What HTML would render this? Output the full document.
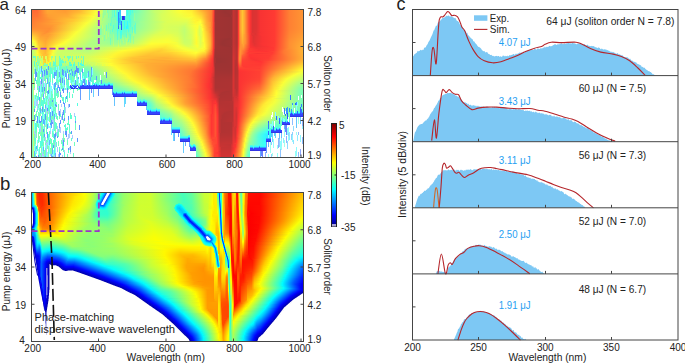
<!DOCTYPE html><html><head><meta charset="utf-8"><style>
html,body{margin:0;padding:0;background:#fff;}
body{width:685px;height:363px;overflow:hidden;position:relative;font-family:"Liberation Sans",sans-serif;}
.hm{position:absolute;left:32px;width:271px;}
.hm div{height:2px;}
</style></head><body>
<div style="position:absolute;left:32px;top:10px;width:271px"><div style="background:linear-gradient(90deg,#ff6b33 0.5px,#ff6633 4.5px,#ffa733 15.5px,#ff9a33 32.5px,#ffaf33 45.5px,#ffef33 62.5px,#f4ff3e 65.5px,#c8ff6a 70.5px,#9aff99 71.5px,#9cff97 73.5px,#adff86 74.5px,#7fffb4 75.5px,#98ff9a 77.5px,#8bffa8 79.5px,#6cffc6 80.5px,#7dffb5 81.5px,#51ffe1 82.5px,#8cffa7 83.5px,#46ffec 85.5px,#6affc8 86.5px,#33ceff 87.5px,#33ceff 88.5px,#ffffff 89.5px,#ffffff 93.5px,#54ffde 94.5px,#3dfff5 95.5px,#58ffda 96.5px,#5cffd7 97.5px,#48ffea 98.5px,#63ffcf 99.5px,#52ffe1 100.5px,#71ffc2 101.5px,#c3ff6f 122.5px,#fdff35 148.5px,#ffea33 160.5px,#ffa933 171.5px,#ff8233 179.5px,#ff4e33 181.5px,#d43333 182.5px,#a33333 183.5px,#993333 192.5px,#9d3333 199.5px,#c53333 201.5px,#b13333 204.5px,#c13333 205.5px,#ff3d33 206.5px,#ff7b33 207.5px,#ffa333 208.5px,#ffc533 210.5px,#ffa733 212.5px,#ff4f33 216.5px,#fa3333 218.5px,#da3333 220.5px,#de3333 224.5px,#f83333 228.5px,#ff3a33 242.5px,#ff8033 257.5px,#ff9433 270.5px);height:1px"></div><div style="background:linear-gradient(90deg,#ff6c33 0.5px,#ff6d33 5.5px,#ffa633 15.5px,#ff9c33 33.5px,#ffb733 47.5px,#fbff37 64.5px,#c7ff6b 70.5px,#99ff9a 71.5px,#9bff98 73.5px,#acff87 74.5px,#7effb5 75.5px,#98ff9b 77.5px,#8affa8 79.5px,#6cffc6 80.5px,#7dffb5 81.5px,#51ffe1 82.5px,#8cffa7 83.5px,#46ffec 85.5px,#6affc9 86.5px,#33ceff 87.5px,#33ceff 88.5px,#ffffff 89.5px,#ffffff 93.5px,#54ffde 94.5px,#3dfff5 95.5px,#58ffda 96.5px,#5cffd6 97.5px,#48ffea 98.5px,#64ffce 99.5px,#52ffe0 100.5px,#71ffc1 101.5px,#c4ff6f 122.5px,#fbff37 148.5px,#fff033 159.5px,#ffb433 170.5px,#ff8233 179.5px,#ff4d33 181.5px,#d33333 182.5px,#a23333 183.5px,#993333 192.5px,#9d3333 199.5px,#c53333 201.5px,#b13333 204.5px,#c13333 205.5px,#ff3d33 206.5px,#ff7b33 207.5px,#ffa333 208.5px,#ffc533 210.5px,#ffa733 212.5px,#ff4f33 216.5px,#fa3333 218.5px,#da3333 220.5px,#de3333 224.5px,#f83333 228.5px,#ff3a33 242.5px,#ff8033 257.5px,#ff9433 270.5px);height:1px"></div><div style="background:linear-gradient(90deg,#ff6d33 0.5px,#ff6e33 5.5px,#ffa533 15.5px,#ff9e33 33.5px,#ffbb33 47.5px,#f8ff3a 64.5px,#c6ff6d 70.5px,#97ff9c 71.5px,#9aff99 73.5px,#abff88 74.5px,#7dffb5 75.5px,#97ff9b 77.5px,#8affa9 79.5px,#6cffc7 80.5px,#7dffb5 81.5px,#51ffe2 82.5px,#8cffa7 83.5px,#46ffec 85.5px,#338dff 86.5px,#33ceff 87.5px,#33ceff 88.5px,#ffffff 89.5px,#ffffff 93.5px,#54ffde 94.5px,#3dfff5 95.5px,#58ffda 96.5px,#5cffd6 97.5px,#49ffe9 98.5px,#65ffce 99.5px,#53ffdf 100.5px,#72ffc0 101.5px,#c4ff6f 122.5px,#f9ff39 147.5px,#fff333 159.5px,#ffc133 169.5px,#ff9b33 175.5px,#ff8233 179.5px,#ff4c33 181.5px,#d33333 182.5px,#a23333 183.5px,#993333 193.5px,#9d3333 199.5px,#c53333 201.5px,#b13333 204.5px,#c13333 205.5px,#ff3d33 206.5px,#ff7b33 207.5px,#ffa333 208.5px,#ffc533 210.5px,#ffa733 212.5px,#ff4f33 216.5px,#fa3333 218.5px,#da3333 220.5px,#de3333 224.5px,#f83333 228.5px,#ff3a33 242.5px,#ff8033 257.5px,#ff9433 270.5px);height:1px"></div><div style="background:linear-gradient(90deg,#ff6f33 0.5px,#ff7033 5.5px,#ffa333 15.5px,#ffa233 34.5px,#ffcf33 52.5px,#fcff36 63.5px,#ccff67 69.5px,#95ff9d 71.5px,#99ff9a 73.5px,#aaff89 74.5px,#a4ff8f 75.5px,#86ffad 76.5px,#97ff9c 77.5px,#8affa9 79.5px,#6cffc7 80.5px,#7dffb6 81.5px,#51ffe2 82.5px,#8cffa7 83.5px,#46ffed 85.5px,#338dff 86.5px,#33ceff 87.5px,#33ceff 88.5px,#ffffff 89.5px,#ffffff 93.5px,#54ffde 94.5px,#3efff5 95.5px,#59ffd9 96.5px,#5dffd5 97.5px,#4affe9 98.5px,#66ffcd 99.5px,#73ffbf 101.5px,#92ffa0 102.5px,#81ffb2 103.5px,#d4ff5e 128.5px,#f6ff3c 148.5px,#fff533 159.5px,#ffc633 169.5px,#ff9c33 175.5px,#ff8233 179.5px,#ff4b33 181.5px,#d23333 182.5px,#a23333 183.5px,#993333 195.5px,#9d3333 199.5px,#c53333 201.5px,#b13333 204.5px,#c13333 205.5px,#ff3d33 206.5px,#ff7b33 207.5px,#ffa333 208.5px,#ffc533 210.5px,#ffa733 212.5px,#ff4f33 216.5px,#fa3333 218.5px,#da3333 220.5px,#de3333 224.5px,#f83333 228.5px,#ff3a33 242.5px,#ff8033 257.5px,#ff9433 270.5px);height:1px"></div><div style="background:linear-gradient(90deg,#ff7133 0.5px,#ff7233 5.5px,#ffa133 16.5px,#ffa633 35.5px,#ffe733 57.5px,#f8ff3a 63.5px,#d9ff5a 67.5px,#baff79 68.5px,#c9ff69 69.5px,#94ff9f 71.5px,#97ff9c 73.5px,#a9ff8a 74.5px,#a3ff90 75.5px,#85ffae 76.5px,#96ff9d 77.5px,#89ffa9 79.5px,#6bffc7 80.5px,#7dffb6 81.5px,#50ffe2 82.5px,#8cffa7 83.5px,#45ffed 85.5px,#338dff 86.5px,#33ceff 87.5px,#33ceff 88.5px,#ffffff 89.5px,#ffffff 93.5px,#54ffde 94.5px,#3efff4 95.5px,#59ffd9 96.5px,#5effd5 97.5px,#4affe8 98.5px,#67ffcc 99.5px,#74ffbe 101.5px,#94ff9f 102.5px,#82ffb1 103.5px,#d7ff5c 129.5px,#f3ff3f 148.5px,#fff833 159.5px,#ffcb33 169.5px,#ff9e33 175.5px,#ff8233 179.5px,#ff4a33 181.5px,#d23333 182.5px,#a23333 183.5px,#993333 197.5px,#9d3333 199.5px,#c53333 201.5px,#b13333 204.5px,#c13333 205.5px,#ff3d33 206.5px,#ff7b33 207.5px,#ffa333 208.5px,#ffc533 210.5px,#ffa733 212.5px,#ff4f33 216.5px,#fa3333 218.5px,#da3333 220.5px,#de3333 224.5px,#f83333 228.5px,#ff3a33 242.5px,#ff8033 257.5px,#ff9433 270.5px);height:1px"></div><div style="background:linear-gradient(90deg,#ff7333 0.5px,#ff7333 5.5px,#ff9f33 16.5px,#ffa933 35.5px,#fff433 59.5px,#ecff46 64.5px,#d6ff5d 67.5px,#b7ff7c 68.5px,#c7ff6c 69.5px,#92ffa1 71.5px,#adff85 73.5px,#a2ff91 75.5px,#84ffaf 76.5px,#95ff9d 77.5px,#89ffaa 79.5px,#6bffc7 80.5px,#7dffb6 81.5px,#50ffe2 82.5px,#74ffbf 83.5px,#70ffc2 84.5px,#45ffed 85.5px,#338dff 86.5px,#33ceff 87.5px,#33ceff 88.5px,#ffffff 89.5px,#ffffff 93.5px,#54ffde 94.5px,#59ffd9 96.5px,#46ffec 97.5px,#63ffd0 98.5px,#75ffbd 101.5px,#95ff9e 102.5px,#83ffb0 103.5px,#d7ff5c 129.5px,#f0ff42 147.5px,#fff633 160.5px,#ffdf33 166.5px,#ffd033 169.5px,#ff9f33 175.5px,#ff8233 179.5px,#ff4933 181.5px,#d13333 182.5px,#a23333 183.5px,#993333 198.5px,#af3333 200.5px,#c53333 201.5px,#b13333 204.5px,#c13333 205.5px,#ff3d33 206.5px,#ff7b33 207.5px,#ffa333 208.5px,#ffc533 210.5px,#ffa733 212.5px,#ff4f33 216.5px,#fa3333 218.5px,#da3333 220.5px,#de3333 224.5px,#f83333 228.5px,#ff3a33 242.5px,#ff8033 257.5px,#ff9433 270.5px);height:1px"></div><div style="background:linear-gradient(90deg,#ff7433 0.5px,#ff7533 5.5px,#ff9e33 16.5px,#ffad33 36.5px,#fcff36 61.5px,#d3ff60 67.5px,#b4ff7f 68.5px,#c4ff6e 69.5px,#90ffa3 71.5px,#b1ff81 72.5px,#a1ff92 75.5px,#83ffb0 76.5px,#95ff9e 77.5px,#88ffaa 79.5px,#6bffc8 80.5px,#7cffb6 81.5px,#50ffe2 82.5px,#74ffbf 83.5px,#70ffc3 84.5px,#45ffed 85.5px,#338dff 86.5px,#33ceff 87.5px,#33ceff 88.5px,#60ffd3 89.5px,#3333e4 90.5px,#3333e4 91.5px,#3343ff 92.5px,#56ffdc 93.5px,#5affd8 96.5px,#47ffeb 97.5px,#64ffcf 98.5px,#77ffbc 101.5px,#96ff9d 102.5px,#84ffaf 103.5px,#d7ff5c 129.5px,#eeff44 147.5px,#fff933 160.5px,#ffe333 166.5px,#ffd533 169.5px,#ffa633 174.5px,#ff8233 179.5px,#ff4833 181.5px,#d03333 182.5px,#a23333 183.5px,#993333 198.5px,#af3333 200.5px,#c53333 201.5px,#b13333 204.5px,#c13333 205.5px,#ff3d33 206.5px,#ff7b33 207.5px,#ffa333 208.5px,#ffc533 210.5px,#ffa733 212.5px,#ff4f33 216.5px,#fa3333 218.5px,#da3333 220.5px,#de3333 224.5px,#f83333 228.5px,#ff3a33 242.5px,#ff8033 257.5px,#ff9433 270.5px);height:1px"></div><div style="background:linear-gradient(90deg,#ff7633 0.5px,#ff7b33 6.5px,#ff9c33 17.5px,#ffb633 39.5px,#f7ff3b 61.5px,#c2ff71 69.5px,#8effa5 71.5px,#b0ff83 72.5px,#a0ff93 75.5px,#82ffb0 76.5px,#94ff9f 77.5px,#8effa5 78.5px,#70ffc2 79.5px,#6affc8 80.5px,#7cffb6 81.5px,#70ffc3 84.5px,#44ffee 85.5px,#338dff 86.5px,#33ceff 87.5px,#33ceff 88.5px,#60ffd3 89.5px,#3333e4 90.5px,#3333e4 91.5px,#3343ff 92.5px,#56ffdc 93.5px,#5affd8 96.5px,#48ffeb 97.5px,#64ffce 98.5px,#78ffbb 101.5px,#97ff9c 102.5px,#85ffae 103.5px,#d9ff5a 130.5px,#ebff47 147.5px,#f8ff3a 158.5px,#ffe833 166.5px,#ffda33 169.5px,#ffa833 174.5px,#ff8233 179.5px,#ff4733 181.5px,#d03333 182.5px,#a23333 183.5px,#9d3333 199.5px,#c53333 201.5px,#b13333 204.5px,#c13333 205.5px,#ff3d33 206.5px,#ff7b33 207.5px,#ffa333 208.5px,#ffc533 210.5px,#ffa733 212.5px,#ff4f33 216.5px,#fa3333 218.5px,#da3333 220.5px,#de3333 224.5px,#f83333 228.5px,#ff3a33 242.5px,#ff8033 257.5px,#ff9433 270.5px);height:1px"></div><div style="background:linear-gradient(90deg,#ff7833 0.5px,#ff7d33 6.5px,#ff9c33 18.5px,#ffc033 41.5px,#f7ff3b 60.5px,#c0ff73 69.5px,#a2ff91 70.5px,#b3ff7f 71.5px,#8dffa5 78.5px,#70ffc3 79.5px,#82ffb1 80.5px,#6fffc3 84.5px,#44ffee 85.5px,#338dff 86.5px,#33b6ff 87.5px,#33ceff 88.5px,#5fffd3 89.5px,#3333e4 90.5px,#3333e4 91.5px,#3343ff 92.5px,#56ffdc 93.5px,#5affd8 96.5px,#48ffea 97.5px,#65ffcd 98.5px,#79ffba 101.5px,#98ff9b 102.5px,#86ffac 103.5px,#d9ff5a 130.5px,#e8ff4a 147.5px,#f1ff41 157.5px,#fff333 162.5px,#ffec33 166.5px,#ffdf33 169.5px,#ffaa33 174.5px,#ff8233 179.5px,#ff4633 181.5px,#cf3333 182.5px,#a23333 183.5px,#9d3333 199.5px,#c53333 201.5px,#b13333 204.5px,#c13333 205.5px,#ff3d33 206.5px,#ff7b33 207.5px,#ffa333 208.5px,#ffc533 210.5px,#ffa733 212.5px,#ff4f33 216.5px,#fa3333 218.5px,#da3333 220.5px,#de3333 224.5px,#f83333 228.5px,#ff3a33 242.5px,#ff8033 257.5px,#ff9433 270.5px);height:1px"></div><div style="background:linear-gradient(90deg,#ff7a33 0.5px,#ff8233 7.5px,#ff9d33 21.5px,#ffd233 45.5px,#f6ff3c 59.5px,#bdff75 69.5px,#a0ff93 70.5px,#b1ff81 71.5px,#8dffa6 78.5px,#6fffc3 79.5px,#81ffb1 80.5px,#6fffc3 84.5px,#44ffee 85.5px,#338dff 86.5px,#33b6ff 87.5px,#33ceff 88.5px,#5fffd3 89.5px,#3333e4 90.5px,#3333e4 91.5px,#3343ff 92.5px,#56ffdc 93.5px,#5bffd7 96.5px,#49ffe9 97.5px,#4effe4 98.5px,#6cffc7 99.5px,#7affb8 101.5px,#99ff9a 102.5px,#87ffab 103.5px,#d9ff5a 130.5px,#e7ff4b 146.5px,#e9ff49 155.5px,#fff533 162.5px,#fff033 166.5px,#fff133 168.5px,#ffac33 174.5px,#ff8233 179.5px,#ff4533 181.5px,#ce3333 182.5px,#a13333 183.5px,#9d3333 199.5px,#c53333 201.5px,#b13333 204.5px,#c13333 205.5px,#ff3d33 206.5px,#ff7b33 207.5px,#ffa333 208.5px,#ffc533 210.5px,#ffa733 212.5px,#ff4f33 216.5px,#fa3333 218.5px,#da3333 220.5px,#de3333 224.5px,#f83333 228.5px,#ff3a33 242.5px,#ff8033 257.5px,#ff9433 270.5px);height:1px"></div><div style="background:linear-gradient(90deg,#ff7c33 0.5px,#ff8633 8.5px,#ffc833 41.5px,#f6ff3c 58.5px,#bbff78 69.5px,#9dff95 70.5px,#b0ff83 71.5px,#8cffa7 78.5px,#6fffc3 79.5px,#81ffb2 80.5px,#77ffbc 82.5px,#8bffa8 83.5px,#44ffee 85.5px,#338dff 86.5px,#33b6ff 87.5px,#33ceff 88.5px,#5fffd3 89.5px,#35fffd 90.5px,#5affd8 91.5px,#5bffd7 96.5px,#49ffe9 97.5px,#4fffe3 98.5px,#6dffc6 99.5px,#7bffb7 101.5px,#9aff98 102.5px,#88ffaa 103.5px,#d8ff5a 130.5px,#e4ff4e 146.5px,#e4ff4f 154.5px,#fff833 162.5px,#ffee33 165.5px,#fff633 168.5px,#ffae33 174.5px,#ff8233 179.5px,#ff4433 181.5px,#cd3333 182.5px,#a13333 183.5px,#9d3333 199.5px,#c53333 201.5px,#b13333 204.5px,#c13333 205.5px,#ff3d33 206.5px,#ff7b33 207.5px,#ffa333 208.5px,#ffc533 210.5px,#ffa733 212.5px,#ff4f33 216.5px,#fa3333 218.5px,#da3333 220.5px,#de3333 224.5px,#f83333 228.5px,#ff3a33 242.5px,#ff8033 257.5px,#ff9433 270.5px);height:1px"></div><div style="background:linear-gradient(90deg,#ff7e33 0.5px,#ff8b33 10.5px,#ffc533 39.5px,#f6ff3c 57.5px,#8cffa7 78.5px,#6fffc4 79.5px,#81ffb2 80.5px,#77ffbc 82.5px,#8affa8 83.5px,#6fffc4 84.5px,#6bffc8 85.5px,#338dff 86.5px,#33b6ff 87.5px,#33ceff 88.5px,#337cff 89.5px,#5dffd6 90.5px,#5affd8 91.5px,#33fdff 92.5px,#56ffdc 93.5px,#54ffde 94.5px,#33fbff 95.5px,#5cffd7 96.5px,#4affe8 97.5px,#50ffe2 98.5px,#6effc5 99.5px,#9bff97 108.5px,#deff54 135.5px,#e0ff53 147.5px,#e3ff50 155.5px,#fff533 163.5px,#fff933 166.5px,#fffc33 168.5px,#ffb033 174.5px,#ff8233 179.5px,#ff4333 181.5px,#cd3333 182.5px,#a13333 183.5px,#9d3333 199.5px,#c53333 201.5px,#b13333 204.5px,#c13333 205.5px,#ff3d33 206.5px,#ff7b33 207.5px,#ffa333 208.5px,#ffc533 210.5px,#ffa733 212.5px,#ff4f33 216.5px,#fa3333 218.5px,#da3333 220.5px,#de3333 224.5px,#f83333 228.5px,#ff3a33 242.5px,#ff8033 257.5px,#ff9433 270.5px);height:1px"></div><div style="background:linear-gradient(90deg,#ff8033 0.5px,#ffa533 26.5px,#faff38 55.5px,#8bffa8 78.5px,#6effc4 79.5px,#80ffb2 80.5px,#77ffbc 82.5px,#8affa9 83.5px,#6fffc4 84.5px,#6bffc8 85.5px,#338dff 86.5px,#33b6ff 87.5px,#33ceff 88.5px,#337cff 89.5px,#5cffd6 90.5px,#5affd8 91.5px,#33fdff 92.5px,#56ffdc 93.5px,#54ffde 94.5px,#33fbff 95.5px,#5cffd6 96.5px,#4affe8 97.5px,#51ffe2 98.5px,#6fffc4 99.5px,#9cff97 108.5px,#ddff55 135.5px,#ddff56 147.5px,#ddff55 154.5px,#fff733 163.5px,#fdff35 168.5px,#ffb233 174.5px,#ff9433 178.5px,#ff6833 180.5px,#ff4233 181.5px,#a13333 183.5px,#9d3333 199.5px,#c53333 201.5px,#b13333 204.5px,#c13333 205.5px,#ff3d33 206.5px,#ff7b33 207.5px,#ffa333 208.5px,#ffc533 210.5px,#ffa733 212.5px,#ff4f33 216.5px,#fa3333 218.5px,#da3333 220.5px,#de3333 224.5px,#f83333 228.5px,#ff3a33 242.5px,#ff8033 257.5px,#ff9433 270.5px);height:1px"></div><div style="background:linear-gradient(90deg,#ff8133 0.5px,#ffac33 28.5px,#faff39 54.5px,#99ff99 75.5px,#7dffb6 76.5px,#90ffa3 77.5px,#63ffcf 78.5px,#80ffb2 80.5px,#6affc8 85.5px,#338dff 86.5px,#33e7ff 87.5px,#33ceff 88.5px,#337cff 89.5px,#5cffd6 90.5px,#5affd8 91.5px,#33fcff 92.5px,#56ffdd 93.5px,#54ffde 94.5px,#33fbff 95.5px,#5cffd6 96.5px,#63ffd0 97.5px,#51ffe1 98.5px,#70ffc3 99.5px,#86ffad 102.5px,#64ffce 103.5px,#90ffa3 104.5px,#daff58 132.5px,#ddff56 146.5px,#d7ff5c 153.5px,#fffa33 163.5px,#f7ff3b 168.5px,#ffb433 174.5px,#ff9433 178.5px,#ff6733 180.5px,#ff4133 181.5px,#a13333 183.5px,#9d3333 199.5px,#c53333 201.5px,#b13333 204.5px,#c13333 205.5px,#ff3d33 206.5px,#ff7b33 207.5px,#ffa333 208.5px,#ffc533 210.5px,#ffa733 212.5px,#ff4f33 216.5px,#fa3333 218.5px,#da3333 220.5px,#de3333 224.5px,#f83333 228.5px,#ff3a33 242.5px,#ff8033 257.5px,#ff9433 270.5px);height:1px"></div><div style="background:linear-gradient(90deg,#ff8333 0.5px,#ffa233 24.5px,#f9ff39 53.5px,#98ff9b 75.5px,#7cffb6 76.5px,#8fffa4 77.5px,#62ffd0 78.5px,#80ffb3 80.5px,#6affc8 85.5px,#338dff 86.5px,#33e7ff 87.5px,#33ceff 88.5px,#3354ff 89.5px,#5cffd6 90.5px,#5affd8 91.5px,#33fcff 92.5px,#56ffdd 93.5px,#54ffde 94.5px,#33fbff 95.5px,#5dffd6 96.5px,#63ffcf 97.5px,#52ffe0 98.5px,#71ffc2 99.5px,#87ffab 102.5px,#65ffcd 103.5px,#91ffa2 104.5px,#daff59 132.5px,#daff58 146.5px,#d3ff5f 153.5px,#fffb33 165.5px,#f2ff40 168.5px,#fffe33 169.5px,#ffbe33 173.5px,#ff9533 178.5px,#ff6733 180.5px,#ff4033 181.5px,#a13333 183.5px,#9d3333 199.5px,#c53333 201.5px,#b13333 204.5px,#c13333 205.5px,#ff3d33 206.5px,#ff7b33 207.5px,#ffa333 208.5px,#ffc533 210.5px,#ffa733 212.5px,#ff4f33 216.5px,#fa3333 218.5px,#da3333 220.5px,#de3333 224.5px,#f83333 228.5px,#ff3a33 242.5px,#ff8033 257.5px,#ff9433 270.5px);height:1px"></div><div style="background:linear-gradient(90deg,#ff8533 0.5px,#ff9933 20.5px,#f8ff3a 52.5px,#b3ff80 68.5px,#97ff9c 69.5px,#c2ff71 70.5px,#a6ff8c 71.5px,#9fff94 73.5px,#74ffbf 74.5px,#97ff9c 75.5px,#7bffb7 76.5px,#8effa5 77.5px,#62ffd0 78.5px,#80ffb3 80.5px,#53ffdf 81.5px,#76ffbc 82.5px,#6affc9 85.5px,#338dff 86.5px,#7affb8 87.5px,#60ffd2 88.5px,#3354ff 89.5px,#5cffd6 90.5px,#5affd8 91.5px,#33fcff 92.5px,#56ffdd 93.5px,#54ffde 94.5px,#33fbff 95.5px,#64ffcf 97.5px,#53ffdf 98.5px,#72ffc1 99.5px,#81ffb2 101.5px,#61ffd1 102.5px,#67ffcc 103.5px,#92ffa1 104.5px,#d9ff59 132.5px,#d8ff5b 146.5px,#cdff65 152.5px,#f9ff39 162.5px,#fffe33 165.5px,#eaff48 167.5px,#fbff37 169.5px,#ffb833 174.5px,#ff9533 178.5px,#ff6633 180.5px,#ff3f33 181.5px,#a13333 183.5px,#9d3333 199.5px,#c53333 201.5px,#b13333 204.5px,#c13333 205.5px,#ff3d33 206.5px,#ff7b33 207.5px,#ffa333 208.5px,#ffc533 210.5px,#ffa733 212.5px,#ff4f33 216.5px,#fa3333 218.5px,#da3333 220.5px,#de3333 224.5px,#f83333 228.5px,#ff3a33 242.5px,#ff8033 257.5px,#ff9433 270.5px);height:1px"></div><div style="background:linear-gradient(90deg,#ff8733 0.5px,#ff9633 19.5px,#f8ff3a 51.5px,#b0ff83 68.5px,#95ff9e 69.5px,#c0ff73 70.5px,#a5ff8e 71.5px,#9dff95 73.5px,#73ffc0 74.5px,#96ff9c 75.5px,#7bffb8 76.5px,#8effa5 77.5px,#7fffb3 80.5px,#53ffdf 81.5px,#76ffbc 82.5px,#6affc9 85.5px,#3374ff 86.5px,#7affb8 87.5px,#60ffd2 88.5px,#3354ff 89.5px,#5cffd6 90.5px,#5affd8 91.5px,#33fcff 92.5px,#56ffdc 93.5px,#33f9ff 94.5px,#33fcff 95.5px,#65ffce 97.5px,#54ffde 98.5px,#73ffc0 99.5px,#82ffb0 101.5px,#62ffd0 102.5px,#68ffcb 103.5px,#93ffa0 104.5px,#d9ff59 132.5px,#d5ff5d 146.5px,#c9ff69 152.5px,#f7ff3c 162.5px,#fdff35 165.5px,#e5ff4d 167.5px,#fff533 170.5px,#ffba33 174.5px,#ff9633 178.5px,#ff6633 180.5px,#ff3e33 181.5px,#a13333 183.5px,#9d3333 199.5px,#c53333 201.5px,#b13333 204.5px,#c13333 205.5px,#ff3d33 206.5px,#ff7b33 207.5px,#ffa233 208.5px,#ffc533 210.5px,#ffa733 212.5px,#ff4f33 216.5px,#fa3333 218.5px,#da3333 220.5px,#de3333 224.5px,#f83333 228.5px,#ff3a33 242.5px,#ff8033 257.5px,#ff9433 270.5px);height:1px"></div><div style="background:linear-gradient(90deg,#ff8a33 0.5px,#ff9333 18.5px,#f7ff3b 50.5px,#aeff85 68.5px,#92ffa0 69.5px,#beff75 70.5px,#a3ff90 71.5px,#9cff97 73.5px,#71ffc1 74.5px,#95ff9d 75.5px,#7affb9 76.5px,#8dffa6 77.5px,#7fffb3 80.5px,#53ffdf 81.5px,#76ffbc 82.5px,#6affc9 85.5px,#3374ff 86.5px,#63ffd0 87.5px,#60ffd2 88.5px,#3354ff 89.5px,#5cffd6 90.5px,#5affd8 91.5px,#33fdff 92.5px,#56ffdc 93.5px,#33faff 94.5px,#33fcff 95.5px,#66ffcd 97.5px,#74ffbe 99.5px,#54ffde 100.5px,#84ffaf 101.5px,#64ffcf 102.5px,#69ffc9 103.5px,#94ff9f 104.5px,#d9ff59 132.5px,#d3ff5f 146.5px,#c6ff6c 152.5px,#f4ff3e 162.5px,#fbff37 165.5px,#e1ff51 167.5px,#f2ff40 169.5px,#ffe533 171.5px,#ffb333 175.5px,#ff8333 179.5px,#ff3d33 181.5px,#a03333 183.5px,#9d3333 199.5px,#c53333 201.5px,#b13333 204.5px,#c13333 205.5px,#ff3d33 206.5px,#ff7b33 207.5px,#ffa233 208.5px,#ffc533 210.5px,#ffa733 212.5px,#ff4f33 216.5px,#fa3333 218.5px,#da3333 220.5px,#de3333 224.5px,#f83333 228.5px,#ff3a33 242.5px,#ff8033 257.5px,#ff9433 270.5px);height:1px"></div><div style="background:linear-gradient(90deg,#ff8e33 0.5px,#ff8f33 17.5px,#f7ff3b 49.5px,#afff84 67.5px,#84ffaf 68.5px,#91ffa2 69.5px,#bcff76 70.5px,#a1ff91 71.5px,#9bff98 73.5px,#71ffc2 74.5px,#95ff9e 75.5px,#79ffb9 76.5px,#8dffa6 77.5px,#7fffb3 80.5px,#54ffdf 81.5px,#77ffbc 82.5px,#6affc8 85.5px,#3374ff 86.5px,#63ffcf 87.5px,#61ffd1 88.5px,#3354ff 89.5px,#5dffd5 90.5px,#5bffd7 91.5px,#33feff 92.5px,#58ffdb 93.5px,#33fbff 94.5px,#33feff 95.5px,#67ffcb 97.5px,#76ffbc 99.5px,#56ffdc 100.5px,#85ffad 101.5px,#65ffcd 102.5px,#6bffc8 103.5px,#96ff9d 104.5px,#daff59 132.5px,#d6ff5d 145.5px,#c4ff6f 152.5px,#f2ff40 162.5px,#f9ff39 165.5px,#ddff55 167.5px,#eeff44 169.5px,#fffd33 170.5px,#ffbe33 174.5px,#ff9733 178.5px,#ff6533 180.5px,#ff3d33 181.5px,#a03333 183.5px,#9d3333 199.5px,#c53333 201.5px,#b13333 204.5px,#c13333 205.5px,#ff3d33 206.5px,#ff7b33 207.5px,#ffa233 208.5px,#ffc433 210.5px,#ffa733 212.5px,#ff4f33 216.5px,#fa3333 218.5px,#da3333 220.5px,#de3333 224.5px,#f83333 228.5px,#ff3a33 242.5px,#ff8133 257.5px,#ff9433 270.5px);height:1px"></div><div style="background:linear-gradient(90deg,#ff9333 0.5px,#ff9033 17.5px,#f7ff3b 48.5px,#adff86 67.5px,#82ffb0 68.5px,#a3ff8f 70.5px,#a0ff92 71.5px,#b5ff7e 72.5px,#70ffc2 74.5px,#94ff9e 75.5px,#84ffae 79.5px,#59ffda 80.5px,#7cffb7 81.5px,#70ffc3 84.5px,#44ffee 85.5px,#65ffce 87.5px,#63ffd0 88.5px,#3354ff 89.5px,#5fffd3 90.5px,#59ffd9 94.5px,#73ffbf 95.5px,#4bffe8 96.5px,#6affc9 97.5px,#79ffba 99.5px,#59ffda 100.5px,#88ffab 101.5px,#67ffcb 102.5px,#6dffc6 103.5px,#98ff9b 104.5px,#dbff58 131.5px,#d5ff5d 145.5px,#c2ff71 152.5px,#eaff48 161.5px,#fcff36 164.5px,#daff58 167.5px,#ebff47 169.5px,#feff34 170.5px,#ffc033 174.5px,#ff9833 178.5px,#ff6533 180.5px,#ff3c33 181.5px,#a03333 183.5px,#9d3333 199.5px,#c53333 201.5px,#b13333 204.5px,#c13333 205.5px,#ff3d33 206.5px,#ff7b33 207.5px,#ffa233 208.5px,#ffc433 210.5px,#ffa733 212.5px,#ff4f33 216.5px,#fa3333 218.5px,#da3333 220.5px,#df3333 224.5px,#f83333 228.5px,#ff3a33 242.5px,#ff8133 257.5px,#ff9533 270.5px);height:1px"></div><div style="background:linear-gradient(90deg,#ff9933 0.5px,#ff8e33 16.5px,#f7ff3c 47.5px,#abff87 67.5px,#81ffb2 68.5px,#a3ff90 70.5px,#a0ff93 71.5px,#b5ff7e 72.5px,#70ffc2 74.5px,#95ff9e 75.5px,#8dffa5 77.5px,#72ffc1 78.5px,#85ffad 79.5px,#5affd8 80.5px,#7dffb5 81.5px,#71ffc1 84.5px,#46ffec 85.5px,#67ffcb 87.5px,#65ffcd 88.5px,#3cfff6 89.5px,#62ffd1 90.5px,#5cffd6 94.5px,#77ffbc 95.5px,#4effe4 96.5px,#6dffc5 97.5px,#7cffb7 99.5px,#5cffd7 100.5px,#a2ff91 101.5px,#6affc8 102.5px,#6fffc3 103.5px,#9aff98 104.5px,#dcff56 131.5px,#d5ff5d 145.5px,#c1ff72 152.5px,#e9ff49 161.5px,#fcff36 164.5px,#d8ff5a 167.5px,#e9ff49 169.5px,#fcff36 170.5px,#ffc233 174.5px,#ff9a33 178.5px,#ff6533 180.5px,#ff3c33 181.5px,#a03333 183.5px,#9d3333 199.5px,#c53333 201.5px,#b13333 204.5px,#c13333 205.5px,#ff3d33 206.5px,#ff7b33 207.5px,#ffa133 208.5px,#ffc233 210.5px,#ffa633 212.5px,#ff4f33 216.5px,#fa3333 218.5px,#db3333 220.5px,#df3333 224.5px,#f83333 228.5px,#ff3a33 242.5px,#ff8233 257.5px,#ff9633 270.5px);height:1px"></div><div style="background:linear-gradient(90deg,#ffa233 0.5px,#ff8d33 15.5px,#faff38 45.5px,#aaff88 67.5px,#80ffb2 68.5px,#a2ff90 70.5px,#a0ff93 71.5px,#b4ff7e 72.5px,#9aff98 73.5px,#afff83 74.5px,#95ff9e 75.5px,#8effa5 77.5px,#73ffc0 78.5px,#87ffac 79.5px,#5cffd7 80.5px,#7fffb3 81.5px,#74ffbf 84.5px,#49ffe9 85.5px,#6dffc6 86.5px,#6affc8 87.5px,#41fff1 88.5px,#3ffff3 89.5px,#65ffcd 90.5px,#61ffd1 94.5px,#7cffb7 95.5px,#53ffe0 96.5px,#71ffc1 97.5px,#80ffb3 99.5px,#5fffd3 100.5px,#a5ff8d 101.5px,#6dffc5 102.5px,#72ffc0 103.5px,#9dff95 104.5px,#dfff53 130.5px,#d6ff5c 145.5px,#c1ff72 152.5px,#e1ff51 160.5px,#fcff36 164.5px,#d8ff5b 167.5px,#e8ff4a 169.5px,#fff033 171.5px,#ffb133 176.5px,#ff8533 179.5px,#ff3c33 181.5px,#a13333 183.5px,#9d3333 199.5px,#c53333 201.5px,#b13333 204.5px,#c13333 205.5px,#ff3d33 206.5px,#ff7a33 207.5px,#ffa033 208.5px,#ffc133 210.5px,#ffa633 212.5px,#ff5033 216.5px,#fa3333 218.5px,#db3333 220.5px,#e03333 224.5px,#f83333 228.5px,#ff3a33 242.5px,#ff8333 257.5px,#ff9733 270.5px);height:1px"></div><div style="background:linear-gradient(90deg,#ffac33 0.5px,#ff8f33 14.5px,#faff38 44.5px,#aaff89 67.5px,#80ffb3 68.5px,#a2ff90 70.5px,#a0ff93 71.5px,#b5ff7e 72.5px,#9bff98 73.5px,#b0ff83 74.5px,#96ff9d 75.5px,#aaff88 76.5px,#74ffbe 78.5px,#88ffaa 79.5px,#77ffbc 84.5px,#4cffe6 85.5px,#70ffc2 86.5px,#6effc5 87.5px,#45ffee 88.5px,#43ffef 89.5px,#6affc9 90.5px,#67ffcc 94.5px,#81ffb1 95.5px,#70ffc3 96.5px,#84ffaf 99.5px,#63ffcf 100.5px,#a9ff89 101.5px,#71ffc2 102.5px,#76ffbd 103.5px,#a1ff92 104.5px,#e1ff51 129.5px,#d8ff5a 145.5px,#c1ff71 152.5px,#e1ff51 160.5px,#fcff36 164.5px,#d8ff5a 167.5px,#e7ff4b 169.5px,#fff233 171.5px,#ffb333 176.5px,#ff8633 179.5px,#ff3c33 181.5px,#a13333 183.5px,#9d3333 199.5px,#c53333 201.5px,#b13333 204.5px,#c13333 205.5px,#ff3d33 206.5px,#ff7933 207.5px,#ff9f33 208.5px,#ffbf33 210.5px,#ffa533 212.5px,#ff5033 216.5px,#f93333 218.5px,#dc3333 220.5px,#e13333 224.5px,#f93333 229.5px,#ff3a33 242.5px,#ff8433 257.5px,#ff9833 270.5px);height:1px"></div><div style="background:linear-gradient(90deg,#ffb633 0.5px,#ff9133 12.5px,#ffc433 27.5px,#faff38 43.5px,#a9ff89 67.5px,#80ffb3 68.5px,#a2ff90 70.5px,#a0ff93 71.5px,#b5ff7d 72.5px,#9bff97 73.5px,#b1ff82 74.5px,#97ff9c 75.5px,#abff87 76.5px,#76ffbd 78.5px,#8affa8 79.5px,#7affb8 84.5px,#50ffe3 85.5px,#74ffbf 86.5px,#72ffc1 87.5px,#49ffe9 88.5px,#48ffea 89.5px,#6fffc4 90.5px,#6dffc6 94.5px,#87ffac 95.5px,#75ffbd 96.5px,#8fffa3 100.5px,#adff85 101.5px,#9cff97 102.5px,#79ffb9 103.5px,#a4ff8e 104.5px,#e3ff4f 128.5px,#daff58 145.5px,#c2ff70 152.5px,#e1ff51 160.5px,#fdff35 164.5px,#d9ff5a 167.5px,#e7ff4b 169.5px,#fff433 171.5px,#ff9e33 178.5px,#ff6633 180.5px,#ff3c33 181.5px,#a13333 183.5px,#9d3333 199.5px,#c53333 201.5px,#b13333 204.5px,#c13333 205.5px,#ff3d33 206.5px,#ff7933 207.5px,#ff9e33 208.5px,#ffbd33 210.5px,#ffa533 212.5px,#ff4033 217.5px,#e63333 219.5px,#dc3333 223.5px,#f83333 228.5px,#ff3a33 242.5px,#ff8533 257.5px,#ff9a33 270.5px);height:1px"></div><div style="background:linear-gradient(90deg,#ffc033 0.5px,#ff9833 10.5px,#ff9f33 17.5px,#faff38 42.5px,#a9ff8a 67.5px,#80ffb3 68.5px,#a3ff90 70.5px,#a0ff92 71.5px,#b6ff7d 72.5px,#9cff97 73.5px,#b1ff81 74.5px,#98ff9b 75.5px,#acff86 76.5px,#92ffa1 77.5px,#89ffa9 80.5px,#9eff95 81.5px,#83ffaf 82.5px,#7effb5 84.5px,#53ffdf 85.5px,#78ffbb 86.5px,#76ffbd 87.5px,#4dffe5 88.5px,#4cffe6 89.5px,#73ffbf 90.5px,#73ffc0 93.5px,#5bffd7 94.5px,#8dffa5 95.5px,#60ffd2 98.5px,#8effa5 99.5px,#94ff9f 100.5px,#b1ff81 101.5px,#a0ff93 102.5px,#ddff55 123.5px,#e6ff4c 138.5px,#d7ff5b 146.5px,#c3ff6f 152.5px,#d9ff59 159.5px,#feff34 164.5px,#d9ff59 167.5px,#e7ff4c 169.5px,#fff533 171.5px,#ffa033 178.5px,#ff6733 180.5px,#ff3d33 181.5px,#a13333 183.5px,#9d3333 199.5px,#c53333 201.5px,#b13333 204.5px,#c13333 205.5px,#ff3c33 206.5px,#ff7833 207.5px,#ff9c33 208.5px,#ffbb33 210.5px,#ff9033 213.5px,#ff4033 217.5px,#e73333 219.5px,#dd3333 223.5px,#f83333 228.5px,#ff3a33 242.5px,#ff8633 257.5px,#ff9c33 270.5px);height:1px"></div><div style="background:linear-gradient(90deg,#ffcb33 0.5px,#ff9d33 9.5px,#ff9f33 16.5px,#f9ff39 41.5px,#a3ff90 70.5px,#a1ff92 71.5px,#87ffac 72.5px,#b2ff81 74.5px,#99ff9a 75.5px,#aeff85 76.5px,#94ff9f 77.5px,#8cffa7 80.5px,#a1ff92 81.5px,#86ffac 82.5px,#81ffb2 84.5px,#57ffdb 85.5px,#7cffb7 86.5px,#7affb9 87.5px,#51ffe1 88.5px,#51ffe1 89.5px,#90ffa3 90.5px,#79ffba 91.5px,#79ffb9 93.5px,#62ffd1 94.5px,#94ff9f 95.5px,#65ffcd 98.5px,#93ffa0 99.5px,#98ff9a 100.5px,#b5ff7d 101.5px,#a4ff8f 102.5px,#dfff53 122.5px,#eaff48 137.5px,#daff59 146.5px,#c4ff6e 152.5px,#d9ff59 159.5px,#ffff33 164.5px,#daff58 167.5px,#e7ff4c 169.5px,#fff733 171.5px,#ffa133 178.5px,#ff6833 180.5px,#ff3d33 181.5px,#a13333 183.5px,#9d3333 199.5px,#c53333 201.5px,#b13333 204.5px,#c13333 205.5px,#ff3c33 206.5px,#ff7733 207.5px,#ff9b33 208.5px,#ffb933 210.5px,#ff9033 213.5px,#f83333 218.5px,#de3333 220.5px,#e33333 224.5px,#f93333 229.5px,#ff3a33 242.5px,#ff8733 257.5px,#ff9d33 270.5px);height:1px"></div><div style="background:linear-gradient(90deg,#ffd633 0.5px,#ffa333 8.5px,#ff9e33 15.5px,#f9ff39 40.5px,#a3ff90 70.5px,#a1ff92 71.5px,#88ffab 72.5px,#b3ff80 74.5px,#9aff99 75.5px,#afff84 76.5px,#95ff9e 77.5px,#8effa5 80.5px,#a3ff90 81.5px,#89ffa9 82.5px,#85ffae 84.5px,#5bffd8 85.5px,#80ffb3 86.5px,#7effb4 87.5px,#56ffdc 88.5px,#56ffdd 89.5px,#95ff9e 90.5px,#7effb4 91.5px,#7fffb3 93.5px,#68ffca 94.5px,#9aff99 95.5px,#6bffc8 98.5px,#97ff9b 99.5px,#9dff96 100.5px,#8bffa8 101.5px,#a7ff8b 102.5px,#e4ff4f 122.5px,#edff45 137.5px,#dcff56 146.5px,#c5ff6d 152.5px,#d9ff59 159.5px,#fffe33 164.5px,#daff58 168.5px,#fff933 171.5px,#ffa333 178.5px,#ff6833 180.5px,#ff3d33 181.5px,#a23333 183.5px,#9d3333 199.5px,#c53333 201.5px,#b13333 204.5px,#c13333 205.5px,#ff3c33 206.5px,#ff7733 207.5px,#ff9a33 208.5px,#ffb733 210.5px,#ff9033 213.5px,#f83333 218.5px,#dd3333 221.5px,#f93333 230.5px,#ff3a33 242.5px,#ff8833 257.5px,#ff9f33 270.5px);height:1px"></div><div style="background:linear-gradient(90deg,#ffe133 0.5px,#ffa733 8.5px,#ffa233 15.5px,#f8ff3a 39.5px,#a7ff8c 68.5px,#a5ff8e 69.5px,#bbff78 70.5px,#88ffaa 72.5px,#b4ff7f 74.5px,#9bff98 75.5px,#90ffa2 80.5px,#a6ff8d 81.5px,#8cffa7 82.5px,#88ffab 84.5px,#5fffd4 85.5px,#84ffaf 86.5px,#82ffb0 87.5px,#5affd8 88.5px,#5affd8 89.5px,#9aff99 90.5px,#9bff98 91.5px,#85ffae 92.5px,#9dff96 93.5px,#6effc4 94.5px,#a0ff92 95.5px,#70ffc2 98.5px,#9cff96 99.5px,#a1ff91 100.5px,#8fffa4 101.5px,#abff87 102.5px,#e6ff4c 121.5px,#f0ff42 136.5px,#e4ff4f 145.5px,#c6ff6c 152.5px,#d9ff5a 159.5px,#fffd33 164.5px,#ecff46 166.5px,#dbff58 168.5px,#fffa33 171.5px,#ffa533 178.5px,#ff6933 180.5px,#ff3e33 181.5px,#a23333 183.5px,#9d3333 199.5px,#c53333 201.5px,#b13333 204.5px,#c13333 205.5px,#ff3c33 206.5px,#ff7633 207.5px,#ff9833 208.5px,#ffb533 210.5px,#ff9033 213.5px,#f83333 218.5px,#dd3333 221.5px,#f93333 230.5px,#ff3a33 242.5px,#ff8933 257.5px,#ffa033 270.5px);height:1px"></div><div style="background:linear-gradient(90deg,#ffeb33 0.5px,#ffc633 4.5px,#ffab33 8.5px,#ffa233 14.5px,#f8ff3a 38.5px,#acff87 65.5px,#a5ff8e 69.5px,#bbff78 70.5px,#89ffaa 72.5px,#b5ff7e 74.5px,#9bff97 75.5px,#98ff9b 77.5px,#6fffc4 78.5px,#94ff9e 79.5px,#93ffa0 80.5px,#a8ff8a 81.5px,#8fffa4 82.5px,#8bffa7 84.5px,#62ffd0 85.5px,#88ffab 86.5px,#87ffac 87.5px,#5fffd4 88.5px,#9fff94 90.5px,#a1ff92 91.5px,#8affa8 92.5px,#a3ff90 93.5px,#a7ff8c 95.5px,#75ffbd 98.5px,#a1ff91 99.5px,#a6ff8d 100.5px,#93ffa0 101.5px,#afff84 102.5px,#e9ff49 120.5px,#f4ff3e 135.5px,#e6ff4c 145.5px,#c7ff6b 152.5px,#d9ff5a 159.5px,#fffc33 164.5px,#edff45 166.5px,#dbff57 168.5px,#fffc33 171.5px,#ffa633 178.5px,#ff6a33 180.5px,#ff3e33 181.5px,#a23333 183.5px,#993333 198.5px,#af3333 200.5px,#c53333 201.5px,#b13333 204.5px,#c13333 205.5px,#ff3c33 206.5px,#ff7533 207.5px,#ff9733 208.5px,#ffb333 210.5px,#ff9133 213.5px,#f73333 218.5px,#de3333 221.5px,#f93333 230.5px,#ff3a33 242.5px,#ff8b33 257.5px,#ffa233 270.5px);height:1px"></div><div style="background:linear-gradient(90deg,#fff633 0.5px,#ffcd33 4.5px,#ffae33 8.5px,#ffa633 14.5px,#fbff37 36.5px,#aeff85 63.5px,#a5ff8d 69.5px,#bbff77 70.5px,#89ffa9 72.5px,#9fff93 73.5px,#9aff99 77.5px,#71ffc2 78.5px,#97ff9c 79.5px,#95ff9e 80.5px,#abff88 81.5px,#92ffa1 82.5px,#8fffa4 84.5px,#66ffcc 85.5px,#8cffa7 86.5px,#8bffa8 87.5px,#a2ff91 88.5px,#8bffa8 89.5px,#a4ff8f 90.5px,#a6ff8d 91.5px,#90ffa2 92.5px,#a9ff8a 93.5px,#adff86 95.5px,#72ffc0 96.5px,#86ffad 97.5px,#7bffb8 98.5px,#a6ff8d 99.5px,#aaff88 100.5px,#97ff9c 101.5px,#b3ff80 102.5px,#edff45 120.5px,#f7ff3b 135.5px,#e8ff4a 145.5px,#c9ff6a 152.5px,#d0ff62 158.5px,#fffc33 164.5px,#eeff44 166.5px,#dcff56 168.5px,#fffd33 171.5px,#ffa833 178.5px,#ff6a33 180.5px,#ff3e33 181.5px,#a23333 183.5px,#993333 195.5px,#9d3333 199.5px,#c53333 201.5px,#b13333 204.5px,#c13333 205.5px,#ff3c33 206.5px,#ff7533 207.5px,#ff9633 208.5px,#ffb133 210.5px,#ff9133 213.5px,#f73333 218.5px,#df3333 221.5px,#f93333 230.5px,#ff3a33 242.5px,#ff8c33 257.5px,#ffa433 270.5px);height:1px"></div><div style="background:linear-gradient(90deg,#fdff35 0.5px,#ffe433 3.5px,#ffba33 6.5px,#ffa533 13.5px,#faff38 35.5px,#b1ff82 61.5px,#a3ff90 71.5px,#8affa9 72.5px,#a0ff93 73.5px,#9bff98 77.5px,#72ffc0 78.5px,#99ff9a 79.5px,#97ff9b 80.5px,#aeff85 81.5px,#95ff9e 82.5px,#91ffa1 85.5px,#a8ff8b 86.5px,#8fffa3 87.5px,#a6ff8c 88.5px,#90ffa3 89.5px,#a9ff89 90.5px,#abff87 91.5px,#96ff9d 92.5px,#98ff9b 93.5px,#b1ff82 94.5px,#b3ff7f 95.5px,#78ffba 96.5px,#a3ff8f 97.5px,#80ffb3 98.5px,#abff87 99.5px,#afff84 100.5px,#9cff97 101.5px,#b7ff7c 102.5px,#f1ff41 120.5px,#fbff37 135.5px,#ebff47 145.5px,#caff69 152.5px,#d0ff62 158.5px,#fffb33 164.5px,#efff43 166.5px,#dcff56 168.5px,#ffff33 171.5px,#ffaa33 178.5px,#ff6b33 180.5px,#ff3f33 181.5px,#a23333 183.5px,#993333 192.5px,#9d3333 199.5px,#c53333 201.5px,#b13333 204.5px,#c13333 205.5px,#ff3c33 206.5px,#ff7433 207.5px,#ff9533 208.5px,#ffaf33 210.5px,#ff9133 213.5px,#f73333 218.5px,#e03333 221.5px,#f93333 230.5px,#ff3a33 242.5px,#ff8d33 257.5px,#ffa533 270.5px);height:1px"></div><div style="background:linear-gradient(90deg,#f3ff3f 0.5px,#fffc33 2.5px,#ffbf33 6.5px,#ffa833 13.5px,#fdff35 33.5px,#b3ff80 59.5px,#9dff96 77.5px,#75ffbe 78.5px,#9bff98 79.5px,#9aff99 80.5px,#b1ff82 81.5px,#98ff9b 82.5px,#95ff9d 85.5px,#acff87 86.5px,#94ff9f 87.5px,#abff87 88.5px,#95ff9e 89.5px,#97ff9c 90.5px,#b1ff81 91.5px,#9cff97 92.5px,#9eff95 93.5px,#b7ff7b 94.5px,#7effb4 96.5px,#a9ff89 97.5px,#86ffad 98.5px,#b0ff82 99.5px,#b4ff7f 100.5px,#a0ff93 101.5px,#bbff77 102.5px,#f4ff3e 119.5px,#fbff37 138.5px,#e7ff4b 146.5px,#cbff67 152.5px,#d0ff63 158.5px,#fffa33 164.5px,#f0ff42 166.5px,#ddff55 168.5px,#feff34 171.5px,#ffab33 178.5px,#ff6b33 180.5px,#ff3f33 181.5px,#a33333 183.5px,#993333 191.5px,#9d3333 199.5px,#c53333 201.5px,#b13333 204.5px,#c13333 205.5px,#ff3c33 206.5px,#ff7333 207.5px,#ff9333 208.5px,#ffad33 210.5px,#ff9133 213.5px,#f63333 218.5px,#e03333 221.5px,#f93333 230.5px,#ff3a33 242.5px,#ff8e33 257.5px,#ffa733 270.5px);height:1px"></div><div style="background:linear-gradient(90deg,#eaff49 0.5px,#fff333 3.5px,#ffc333 6.5px,#ffab33 13.5px,#fcff36 32.5px,#b3ff80 58.5px,#9fff93 77.5px,#77ffbb 78.5px,#9eff95 79.5px,#9eff95 80.5px,#b4ff7e 81.5px,#9cff97 82.5px,#9aff98 85.5px,#b1ff81 86.5px,#99ff9a 87.5px,#b1ff82 88.5px,#9bff98 89.5px,#9dff96 90.5px,#b8ff7b 91.5px,#a3ff90 92.5px,#a5ff8e 93.5px,#bfff74 94.5px,#a9ff89 95.5px,#b0ff83 97.5px,#8cffa7 98.5px,#b6ff7c 99.5px,#b9ff79 100.5px,#a5ff8e 101.5px,#c0ff73 102.5px,#f9ff39 119.5px,#f9ff39 143.5px,#cdff65 152.5px,#d0ff62 158.5px,#fffa33 164.5px,#f1ff42 166.5px,#deff54 168.5px,#fff633 172.5px,#ffac33 178.5px,#ff6c33 180.5px,#ff3f33 181.5px,#a33333 183.5px,#993333 190.5px,#9d3333 199.5px,#c53333 201.5px,#b13333 204.5px,#c13333 205.5px,#ff3c33 206.5px,#ff7333 207.5px,#ff9233 208.5px,#ffaa33 210.5px,#ff9033 213.5px,#f63333 218.5px,#e23333 221.5px,#f93333 230.5px,#ff3a33 242.5px,#ff8f33 257.5px,#ffa833 270.5px);height:1px"></div><div style="background:linear-gradient(90deg,#e0ff52 0.5px,#fffb33 3.5px,#ffc733 6.5px,#ffad33 13.5px,#fdff35 30.5px,#b2ff80 57.5px,#a3ff8f 77.5px,#7cffb7 78.5px,#a3ff90 79.5px,#a2ff90 80.5px,#b9ff79 81.5px,#a2ff91 82.5px,#a1ff92 85.5px,#b8ff7b 86.5px,#a0ff93 87.5px,#b8ff7b 88.5px,#a2ff91 89.5px,#adff85 93.5px,#c7ff6c 94.5px,#b2ff81 95.5px,#c0ff73 100.5px,#abff87 101.5px,#c6ff6d 102.5px,#feff34 119.5px,#fff933 135.5px,#f3ff3f 145.5px,#d0ff63 152.5px,#d1ff62 158.5px,#fffa33 164.5px,#f1ff41 166.5px,#dfff53 168.5px,#fff833 172.5px,#ffad33 178.5px,#ff6c33 180.5px,#ff3f33 181.5px,#a33333 183.5px,#993333 190.5px,#9d3333 199.5px,#c63333 201.5px,#b23333 204.5px,#c13333 205.5px,#ff3c33 206.5px,#ff7333 207.5px,#ff9133 208.5px,#ffa833 210.5px,#ff8e33 213.5px,#f63333 218.5px,#e23333 222.5px,#f93333 229.5px,#ff3a33 242.5px,#ff9033 257.5px,#ffaa33 270.5px);height:1px"></div><div style="background:linear-gradient(90deg,#d8ff5a 0.5px,#fcff36 3.5px,#ffcb33 6.5px,#ffaf33 13.5px,#fdff35 28.5px,#b1ff81 57.5px,#a9ff8a 77.5px,#82ffb1 78.5px,#a9ff8a 79.5px,#a9ff8a 80.5px,#c0ff72 81.5px,#a9ff8a 82.5px,#a9ff8a 85.5px,#c0ff72 86.5px,#a9ff8a 87.5px,#c1ff72 88.5px,#abff88 89.5px,#b7ff7c 93.5px,#d0ff62 94.5px,#bbff77 95.5px,#fffc33 118.5px,#fff433 134.5px,#f6ff3c 145.5px,#d3ff60 153.5px,#d3ff60 158.5px,#fffc33 164.5px,#f1ff41 166.5px,#e1ff52 168.5px,#fffa33 172.5px,#ffad33 178.5px,#ff6b33 180.5px,#ff3e33 181.5px,#a33333 183.5px,#993333 190.5px,#9d3333 199.5px,#c63333 201.5px,#b23333 204.5px,#c23333 205.5px,#ff3d33 206.5px,#ff7333 207.5px,#ff9133 208.5px,#ffa333 211.5px,#ff6633 215.5px,#f73333 218.5px,#e43333 222.5px,#fa3333 230.5px,#ff3b33 242.5px,#ff9033 257.5px,#ffab33 270.5px);height:1px"></div><div style="background:linear-gradient(90deg,#d2ff61 0.5px,#f6ff3c 3.5px,#ffc633 7.5px,#ffb133 13.5px,#fcff36 26.5px,#b1ff82 56.5px,#b2ff80 80.5px,#caff68 81.5px,#b3ff80 82.5px,#b4ff7f 85.5px,#ccff67 86.5px,#b4ff7e 87.5px,#fff733 117.5px,#ffef33 134.5px,#fbff37 145.5px,#d7ff5c 154.5px,#dcff56 159.5px,#fcff36 165.5px,#e3ff4f 168.5px,#fffb33 172.5px,#ffab33 178.5px,#ff6a33 180.5px,#ff3d33 181.5px,#a23333 183.5px,#993333 192.5px,#9d3333 199.5px,#c73333 201.5px,#b33333 204.5px,#c33333 205.5px,#ff3f33 206.5px,#ff7533 207.5px,#ff9133 208.5px,#ff9f33 211.5px,#ff5033 216.5px,#f83333 218.5px,#e73333 222.5px,#fa3333 231.5px,#ff3b33 242.5px,#ff9033 257.5px,#ffad33 270.5px);height:1px"></div><div style="background:linear-gradient(90deg,#ccff66 0.5px,#fff833 4.5px,#ffc833 7.5px,#ffb233 13.5px,#fff433 22.5px,#eaff48 29.5px,#b1ff82 56.5px,#c1ff72 85.5px,#d9ff59 86.5px,#c2ff70 87.5px,#fff633 114.5px,#ffe933 133.5px,#fbff37 146.5px,#daff59 156.5px,#f9ff39 165.5px,#e6ff4c 168.5px,#fffc33 172.5px,#ffa933 178.5px,#ff6833 180.5px,#ff3c33 181.5px,#a23333 183.5px,#993333 198.5px,#b03333 200.5px,#c83333 201.5px,#b43333 204.5px,#c43333 205.5px,#ff4133 206.5px,#ff7633 207.5px,#ff9233 208.5px,#ff9a33 211.5px,#fa3333 218.5px,#eb3333 223.5px,#fc3333 235.5px,#ff3c33 242.5px,#ff9033 257.5px,#ffae33 270.5px);height:1px"></div><div style="background:linear-gradient(90deg,#c8ff6b 0.5px,#ebff47 3.5px,#fffe33 4.5px,#ffca33 7.5px,#ffb233 13.5px,#ffe533 20.5px,#f7ff3b 23.5px,#afff84 54.5px,#e4ff4e 96.5px,#fff433 112.5px,#ffe333 132.5px,#f8ff3a 148.5px,#e2ff50 159.5px,#f6ff3c 165.5px,#e9ff49 168.5px,#fffc33 172.5px,#ffa533 178.5px,#ff6633 180.5px,#ff3a33 181.5px,#a13333 183.5px,#9d3333 199.5px,#c93333 201.5px,#b53333 204.5px,#c53333 205.5px,#ff4333 206.5px,#ff7933 207.5px,#ff9233 208.5px,#ff9433 211.5px,#fb3333 218.5px,#f23333 224.5px,#ff3733 241.5px,#ff8f33 257.5px,#ffb033 270.5px);height:1px"></div><div style="background:linear-gradient(90deg,#c4ff6e 0.5px,#e6ff4c 3.5px,#fcff36 4.5px,#ffcc33 7.5px,#ffb333 13.5px,#ffea33 20.5px,#eeff44 23.5px,#b8ff7a 47.5px,#b4ff7f 57.5px,#fff833 106.5px,#ffda33 129.5px,#f8ff3b 150.5px,#e8ff4a 160.5px,#f8ff3a 170.5px,#fff033 173.5px,#ffa133 178.5px,#ff6333 180.5px,#ff3733 181.5px,#a13333 183.5px,#9d3333 199.5px,#ca3333 201.5px,#b63333 204.5px,#c73333 205.5px,#ff4633 206.5px,#ff7b33 207.5px,#ff9333 208.5px,#ff8d33 211.5px,#ff3a33 217.5px,#f43333 224.5px,#ff3833 241.5px,#ff8c33 256.5px,#ffb133 270.5px);height:1px"></div><div style="background:linear-gradient(90deg,#c1ff71 0.5px,#e2ff50 3.5px,#fff033 5.5px,#ffc733 8.5px,#ffb333 13.5px,#ffe133 19.5px,#fffd33 21.5px,#daff58 25.5px,#b2ff81 55.5px,#fff933 100.5px,#ffd433 129.5px,#f8ff3a 153.5px,#eeff45 163.5px,#fff733 172.5px,#ff9b33 178.5px,#ff5f33 180.5px,#ff3433 181.5px,#c63333 182.5px,#a03333 183.5px,#9d3333 199.5px,#cb3333 201.5px,#b73333 204.5px,#c83333 205.5px,#ff4833 206.5px,#ff7e33 207.5px,#ff9333 208.5px,#ff8633 211.5px,#ff3933 217.5px,#f83333 226.5px,#ff3933 241.5px,#ff8333 254.5px,#ffb233 270.5px);height:1px"></div><div style="background:linear-gradient(90deg,#bfff74 0.5px,#dfff53 3.5px,#fff433 5.5px,#ffc933 8.5px,#ffb433 13.5px,#ffe433 19.5px,#fcff37 21.5px,#d4ff5e 25.5px,#b4ff7e 55.5px,#fffd33 92.5px,#ffce33 128.5px,#f8ff3a 156.5px,#f3ff3f 164.5px,#fff633 171.5px,#ffc733 175.5px,#ff7c33 179.5px,#fd3333 181.5px,#c33333 182.5px,#9f3333 183.5px,#9d3333 199.5px,#cd3333 201.5px,#b83333 204.5px,#c93333 205.5px,#ff4b33 206.5px,#ff8033 207.5px,#ff9333 208.5px,#ff7233 212.5px,#ff3d33 216.5px,#f93333 226.5px,#ff3a33 241.5px,#ff7b33 252.5px,#ffb233 270.5px);height:1px"></div><div style="background:linear-gradient(90deg,#bdff75 0.5px,#ddff55 3.5px,#fff833 5.5px,#ffcb33 8.5px,#ffb533 13.5px,#ffe933 19.5px,#f7ff3b 21.5px,#d0ff62 25.5px,#b8ff7b 55.5px,#fff933 89.5px,#ffca33 126.5px,#fff633 153.5px,#f8ff3a 164.5px,#ffe933 172.5px,#ff8d33 178.5px,#fa3333 181.5px,#bf3333 182.5px,#9f3333 183.5px,#9d3333 199.5px,#ce3333 201.5px,#b93333 204.5px,#ca3333 205.5px,#ff4d33 206.5px,#ff8233 207.5px,#ff9333 208.5px,#ff3733 217.5px,#fd3333 234.5px,#ff4333 242.5px,#ff7733 251.5px,#ffb233 270.5px);height:1px"></div><div style="background:linear-gradient(90deg,#bcff77 0.5px,#dbff57 3.5px,#fffb33 5.5px,#ffce33 8.5px,#ffb733 13.5px,#ffee33 19.5px,#f3ff3f 21.5px,#ceff65 25.5px,#bfff73 56.5px,#fff833 86.5px,#ffc933 121.5px,#ffd333 139.5px,#ffff33 164.5px,#ffd433 173.5px,#ff6f33 179.5px,#f63333 181.5px,#bc3333 182.5px,#9e3333 183.5px,#9d3333 199.5px,#cf3333 201.5px,#b93333 204.5px,#cb3333 205.5px,#ff4f33 206.5px,#ff8333 207.5px,#ff9233 208.5px,#ff3a33 216.5px,#ff3a33 240.5px,#ff7733 251.5px,#ffb133 270.5px);height:1px"></div><div style="background:linear-gradient(90deg,#baff78 0.5px,#ecff46 4.5px,#ffff33 5.5px,#ffc833 9.5px,#ffb833 13.5px,#ffe433 18.5px,#fcff36 20.5px,#d0ff62 24.5px,#c4ff6e 56.5px,#fff733 84.5px,#ffc633 118.5px,#ffca33 136.5px,#fffa33 163.5px,#ffc833 173.5px,#ff6833 179.5px,#f23333 181.5px,#b93333 182.5px,#9e3333 183.5px,#9e3333 199.5px,#d03333 201.5px,#b93333 204.5px,#cb3333 205.5px,#ff5133 206.5px,#ff8533 207.5px,#ff9133 208.5px,#ff3f33 215.5px,#f83333 225.5px,#ff3d33 240.5px,#ff7a33 252.5px,#ffb133 270.5px);height:1px"></div><div style="background:linear-gradient(90deg,#b9ff79 0.5px,#eaff48 4.5px,#ffef33 6.5px,#ffbe33 11.5px,#ffc433 15.5px,#f8ff3a 20.5px,#ccff66 25.5px,#cbff67 57.5px,#fff733 82.5px,#ffc333 116.5px,#ffc533 136.5px,#fff033 163.5px,#ffbc33 173.5px,#ff6133 179.5px,#ff4933 180.5px,#ee3333 181.5px,#b63333 182.5px,#9d3333 183.5px,#9e3333 199.5px,#d13333 201.5px,#b93333 204.5px,#cc3333 205.5px,#ff5333 206.5px,#ff8633 207.5px,#ff9033 208.5px,#ff6233 211.5px,#ff3533 217.5px,#ff3d33 239.5px,#ff7c33 253.5px,#ffb033 270.5px);height:1px"></div><div style="background:linear-gradient(90deg,#b8ff7a 0.5px,#f9ff39 5.5px,#ffc533 10.5px,#ffbe33 14.5px,#fffd33 19.5px,#ccff67 25.5px,#d2ff60 58.5px,#fff633 81.5px,#ffbf33 115.5px,#ffc133 137.5px,#ffe733 163.5px,#ffaf33 173.5px,#ff4533 180.5px,#ea3333 181.5px,#b33333 182.5px,#9c3333 183.5px,#9e3333 199.5px,#d23333 201.5px,#b93333 204.5px,#cc3333 205.5px,#ff5533 206.5px,#ff8833 207.5px,#ff8e33 208.5px,#ff6333 210.5px,#ff3433 217.5px,#ff3a33 237.5px,#ff8233 255.5px,#ffaf33 270.5px);height:1px"></div><div style="background:linear-gradient(90deg,#b7ff7b 0.5px,#61ffd1 1.5px,#79ffba 3.5px,#e6ff4d 4.5px,#97ff9b 5.5px,#a8ff8b 6.5px,#ffe933 7.5px,#c3ff6f 8.5px,#ffd033 9.5px,#d6ff5c 10.5px,#ffc333 11.5px,#ffbf33 12.5px,#e0ff52 13.5px,#dfff54 14.5px,#ffc733 15.5px,#fff233 18.5px,#9eff95 19.5px,#91ffa2 20.5px,#e5ff4d 21.5px,#ddff56 22.5px,#76ffbc 23.5px,#cfff64 24.5px,#caff69 26.5px,#6bffc7 27.5px,#caff69 28.5px,#caff68 31.5px,#6cffc6 32.5px,#cbff68 33.5px,#cbff67 34.5px,#6dffc5 35.5px,#6effc5 38.5px,#ccff66 39.5px,#6effc4 40.5px,#cdff66 41.5px,#cdff65 43.5px,#70ffc3 44.5px,#ceff64 45.5px,#70ffc2 46.5px,#ceff64 47.5px,#cfff64 48.5px,#71ffc2 49.5px,#cfff64 50.5px,#71ffc2 51.5px,#cfff63 52.5px,#fff833 79.5px,#ffbd33 110.5px,#ffbb33 136.5px,#ffdd33 163.5px,#ffa333 173.5px,#ff4033 180.5px,#e63333 181.5px,#b03333 182.5px,#9c3333 183.5px,#9e3333 199.5px,#d43333 201.5px,#b93333 204.5px,#cc3333 205.5px,#ff5633 206.5px,#ff8933 207.5px,#ff8d33 208.5px,#ff5b33 210.5px,#ff3433 217.5px,#ff3c33 237.5px,#ff8433 256.5px,#ffae33 270.5px);height:1px"></div><div style="background:linear-gradient(90deg,#b6ff7d 0.5px,#61ffd1 1.5px,#79ffba 3.5px,#e6ff4d 4.5px,#97ff9b 5.5px,#a8ff8b 6.5px,#ffe933 7.5px,#c3ff6f 8.5px,#ffd033 9.5px,#d6ff5c 10.5px,#ffc333 11.5px,#ffbf33 12.5px,#e0ff52 13.5px,#dfff54 14.5px,#ffc733 15.5px,#fff233 18.5px,#9eff95 19.5px,#91ffa2 20.5px,#e5ff4d 21.5px,#ddff56 22.5px,#76ffbc 23.5px,#cfff64 24.5px,#caff69 26.5px,#6bffc7 27.5px,#caff69 28.5px,#caff68 31.5px,#6cffc6 32.5px,#cbff68 33.5px,#cbff67 34.5px,#6dffc5 35.5px,#6effc5 38.5px,#ccff66 39.5px,#6effc4 40.5px,#cdff66 41.5px,#cdff65 43.5px,#70ffc3 44.5px,#ceff64 45.5px,#70ffc2 46.5px,#ceff64 47.5px,#cfff64 48.5px,#71ffc2 49.5px,#cfff64 50.5px,#71ffc2 51.5px,#cfff63 52.5px,#fff833 79.5px,#ffc833 99.5px,#ffb233 131.5px,#ffd333 163.5px,#ff9733 173.5px,#ff3c33 180.5px,#e23333 181.5px,#ad3333 182.5px,#9b3333 183.5px,#9e3333 199.5px,#d53333 201.5px,#b93333 204.5px,#cd3333 205.5px,#ff5833 206.5px,#ff8a33 207.5px,#ff8b33 208.5px,#ff5433 210.5px,#fe3333 218.5px,#ff3b33 236.5px,#ff8333 256.5px,#ffae33 270.5px);height:1px"></div><div style="background:linear-gradient(90deg,#b5ff7e 0.5px,#c7ff6b 2.5px,#79ffba 3.5px,#e6ff4d 4.5px,#97ff9b 5.5px,#acff86 7.5px,#c3ff6f 8.5px,#cfff63 10.5px,#ffc333 11.5px,#ffbf33 12.5px,#e0ff52 13.5px,#dfff54 14.5px,#ffc733 15.5px,#fffe33 18.5px,#9eff95 19.5px,#e4ff4e 20.5px,#ddff56 22.5px,#76ffbc 23.5px,#cfff64 24.5px,#caff69 26.5px,#69ffc9 27.5px,#6affc9 28.5px,#caff69 29.5px,#ccff66 35.5px,#6dffc5 36.5px,#6effc5 37.5px,#ceff64 38.5px,#ccff66 39.5px,#6effc4 40.5px,#cdff66 41.5px,#cdff65 43.5px,#70ffc3 44.5px,#ceff64 45.5px,#cfff64 50.5px,#71ffc2 51.5px,#cfff63 52.5px,#f9ff3a 74.5px,#ffc133 101.5px,#ffb033 134.5px,#ffc933 163.5px,#ff8033 174.5px,#ff3733 180.5px,#df3333 181.5px,#ab3333 182.5px,#993333 184.5px,#9e3333 199.5px,#d63333 201.5px,#b93333 204.5px,#cd3333 205.5px,#ff5833 206.5px,#ff8933 207.5px,#ff8833 208.5px,#ff4d33 210.5px,#fc3333 219.5px,#ff3c33 236.5px,#ff8333 256.5px,#ffaf33 270.5px);height:1px"></div><div style="background:linear-gradient(90deg,#b3ff80 0.5px,#c7ff6b 2.5px,#79ffba 3.5px,#e6ff4d 4.5px,#89ffaa 5.5px,#a8ff8b 6.5px,#acff86 7.5px,#c3ff6f 8.5px,#cfff63 10.5px,#ffc333 11.5px,#ffbf33 12.5px,#ffcd33 13.5px,#dfff54 14.5px,#ffd433 15.5px,#ffd433 16.5px,#fffe33 18.5px,#9eff95 19.5px,#e4ff4e 20.5px,#ddff56 22.5px,#76ffbc 23.5px,#c9ff6a 24.5px,#caff69 26.5px,#69ffc9 27.5px,#6affc9 28.5px,#caff69 29.5px,#68ffca 30.5px,#caff68 31.5px,#ccff66 35.5px,#6dffc5 36.5px,#ccff67 37.5px,#ccff66 39.5px,#6effc4 40.5px,#cdff66 41.5px,#cfff64 50.5px,#71ffc2 51.5px,#d6ff5d 52.5px,#e3ff50 65.5px,#fffa33 78.5px,#ffcc33 93.5px,#ffad33 121.5px,#ffc133 160.5px,#ffb433 165.5px,#ff7733 174.5px,#ff3433 180.5px,#dd3333 181.5px,#aa3333 182.5px,#993333 184.5px,#9e3333 199.5px,#d63333 201.5px,#b93333 204.5px,#cc3333 205.5px,#ff5733 206.5px,#ff8833 207.5px,#ff8533 208.5px,#ff4733 210.5px,#fa3333 221.5px,#ff3f33 236.5px,#ff8733 257.5px,#ffb133 270.5px);height:1px"></div><div style="background:linear-gradient(90deg,#b0ff83 0.5px,#c7ff6b 2.5px,#79ffba 3.5px,#e6ff4d 4.5px,#89ffaa 5.5px,#a8ff8b 6.5px,#9cff97 7.5px,#c3ff6f 8.5px,#cfff63 10.5px,#ffdd33 11.5px,#ffcd33 13.5px,#dfff54 14.5px,#ffd433 15.5px,#ffd433 16.5px,#fffe33 18.5px,#e0ff52 19.5px,#ddff56 22.5px,#76ffbc 23.5px,#c9ff6a 24.5px,#c0ff73 26.5px,#69ffc9 27.5px,#68ffca 30.5px,#caff68 31.5px,#ccff66 35.5px,#6dffc5 36.5px,#ccff67 37.5px,#c9ff69 39.5px,#6effc4 40.5px,#cdff66 41.5px,#cfff64 48.5px,#72ffc0 49.5px,#cfff64 50.5px,#73ffbf 51.5px,#d6ff5d 52.5px,#e4ff4e 65.5px,#fff833 77.5px,#ffc133 99.5px,#ffa833 130.5px,#ffb733 163.5px,#ff6433 175.5px,#fd3333 180.5px,#dc3333 181.5px,#aa3333 182.5px,#993333 184.5px,#9e3333 199.5px,#d73333 201.5px,#ba3333 203.5px,#b83333 204.5px,#cb3333 205.5px,#ff5433 206.5px,#ff8333 207.5px,#ff8033 208.5px,#ff4333 210.5px,#fa3333 224.5px,#ff4233 236.5px,#ff8d33 258.5px,#ffb433 270.5px);height:1px"></div><div style="background:linear-gradient(90deg,#adff86 0.5px,#b7ff7c 1.5px,#5cffd6 2.5px,#c4ff6f 3.5px,#e6ff4d 4.5px,#89ffaa 5.5px,#84ffaf 6.5px,#9cff97 7.5px,#fbff37 8.5px,#c6ff6c 9.5px,#cfff63 10.5px,#ffdd33 11.5px,#ffcd33 13.5px,#dfff54 14.5px,#ffec33 15.5px,#ffd433 16.5px,#fffe33 18.5px,#e0ff52 19.5px,#e4ff4e 20.5px,#6affc8 21.5px,#ddff56 22.5px,#63ffd0 23.5px,#c9ff6a 24.5px,#c0ff73 26.5px,#69ffc9 27.5px,#5cffd6 28.5px,#68ffca 30.5px,#5effd4 31.5px,#caff68 32.5px,#60ffd3 33.5px,#bfff74 34.5px,#ccff66 35.5px,#c0ff72 36.5px,#ceff64 38.5px,#c3ff6f 40.5px,#d4ff5f 47.5px,#c9ff69 48.5px,#72ffc0 49.5px,#cfff64 50.5px,#73ffbf 51.5px,#d6ff5d 52.5px,#d3ff5f 56.5px,#fff833 77.5px,#ffba33 103.5px,#ffa733 138.5px,#ffae33 163.5px,#ff5e33 175.5px,#fb3333 180.5px,#db3333 181.5px,#ab3333 182.5px,#993333 184.5px,#9e3333 199.5px,#d73333 201.5px,#ba3333 203.5px,#b83333 204.5px,#ca3333 205.5px,#ff5033 206.5px,#ff7d33 207.5px,#ff7a33 208.5px,#ff4033 210.5px,#ff3333 228.5px,#ff5e33 242.5px,#ffba33 270.5px);height:1px"></div><div style="background:linear-gradient(90deg,#a9ff8a 0.5px,#b7ff7c 1.5px,#5cffd6 2.5px,#c4ff6f 3.5px,#66ffcc 4.5px,#89ffaa 5.5px,#84ffaf 6.5px,#9cff97 7.5px,#fbff37 8.5px,#c6ff6c 9.5px,#cfff63 10.5px,#ffdd33 11.5px,#ffcd33 13.5px,#fff733 14.5px,#ffec33 15.5px,#f4ff3e 16.5px,#ffed33 17.5px,#7affb8 18.5px,#ccff67 19.5px,#e4ff4e 20.5px,#6affc8 21.5px,#5dffd5 22.5px,#63ffd0 23.5px,#c9ff6a 24.5px,#c0ff73 26.5px,#69ffc9 27.5px,#5cffd6 28.5px,#68ffca 30.5px,#5effd4 31.5px,#b5ff7d 32.5px,#60ffd3 33.5px,#bfff74 34.5px,#ccff66 35.5px,#c0ff72 36.5px,#5affd8 37.5px,#5bffd7 38.5px,#c9ff69 39.5px,#bbff77 41.5px,#5dffd5 42.5px,#d0ff62 43.5px,#bdff76 44.5px,#beff75 45.5px,#60ffd2 46.5px,#bfff74 47.5px,#c9ff69 48.5px,#72ffc0 49.5px,#c0ff72 50.5px,#73ffbf 51.5px,#d6ff5d 52.5px,#d6ff5c 53.5px,#c4ff6e 54.5px,#cfff63 55.5px,#c8ff6a 56.5px,#dbff57 57.5px,#ccff66 58.5px,#d6ff5c 63.5px,#e8ff4b 66.5px,#e1ff52 68.5px,#ecff46 70.5px,#fff333 80.5px,#ffb333 107.5px,#ffa533 145.5px,#ffa133 164.5px,#ff4733 177.5px,#fa3333 180.5px,#dc3333 181.5px,#ad3333 182.5px,#993333 184.5px,#9e3333 199.5px,#d73333 201.5px,#b93333 203.5px,#b73333 204.5px,#c93333 205.5px,#ff4a33 206.5px,#ff7633 207.5px,#ff7333 208.5px,#ff3e33 210.5px,#ff3633 229.5px,#ffc033 270.5px);height:1px"></div><div style="background:linear-gradient(90deg,#a5ff8d 0.5px,#b7ff7c 1.5px,#5cffd6 2.5px,#c4ff6f 3.5px,#66ffcc 4.5px,#c2ff71 5.5px,#84ffaf 6.5px,#9cff97 7.5px,#deff54 8.5px,#e7ff4b 9.5px,#cfff63 10.5px,#ffdd33 11.5px,#94ff9f 12.5px,#96ff9d 13.5px,#fff733 14.5px,#ffec33 15.5px,#f4ff3e 16.5px,#7affb9 17.5px,#7affb8 18.5px,#ccff67 19.5px,#b8ff7a 20.5px,#6affc8 21.5px,#5dffd5 22.5px,#63ffd0 23.5px,#c9ff6a 24.5px,#c0ff73 26.5px,#69ffc9 27.5px,#5cffd6 28.5px,#63ffcf 29.5px,#abff88 30.5px,#b5ff7d 32.5px,#adff86 33.5px,#ccff66 35.5px,#c0ff72 36.5px,#5affd8 37.5px,#5bffd7 38.5px,#c9ff69 39.5px,#bbff77 41.5px,#5dffd5 42.5px,#d0ff62 43.5px,#bdff76 44.5px,#beff75 45.5px,#60ffd2 46.5px,#bfff74 47.5px,#56ffdc 48.5px,#56ffdc 49.5px,#c0ff72 50.5px,#73ffbf 51.5px,#d6ff5d 52.5px,#d6ff5c 53.5px,#bcff77 55.5px,#dbff57 57.5px,#ccff66 58.5px,#d6ff5c 63.5px,#e2ff50 64.5px,#d3ff5f 65.5px,#ecff46 70.5px,#fffe33 78.5px,#ffd533 91.5px,#ffaa33 119.5px,#ff9933 164.5px,#f93333 180.5px,#dd3333 181.5px,#af3333 182.5px,#9c3333 183.5px,#9e3333 199.5px,#d73333 201.5px,#b93333 203.5px,#b63333 204.5px,#c73333 205.5px,#ff4333 206.5px,#ff6d33 207.5px,#ff6b33 208.5px,#ff3d33 210.5px,#ff3933 229.5px,#ffc833 270.5px);height:1px"></div><div style="background:linear-gradient(90deg,#a1ff92 0.5px,#b7ff7c 1.5px,#5cffd6 2.5px,#c4ff6f 3.5px,#66ffcc 4.5px,#c2ff71 5.5px,#84ffaf 6.5px,#c6ff6c 7.5px,#e7ff4b 9.5px,#dbff57 10.5px,#ffdd33 11.5px,#94ff9f 12.5px,#96ff9d 13.5px,#7effb4 15.5px,#f4ff3e 16.5px,#7affb9 17.5px,#7affb8 18.5px,#ccff67 19.5px,#b8ff7a 20.5px,#6affc8 21.5px,#5dffd5 22.5px,#63ffd0 23.5px,#c9ff6a 24.5px,#c0ff73 26.5px,#43ffef 27.5px,#5cffd6 28.5px,#43ffef 29.5px,#abff88 30.5px,#b5ff7d 32.5px,#adff86 33.5px,#bfff74 34.5px,#a4ff8f 35.5px,#c0ff72 36.5px,#5affd8 37.5px,#5bffd7 38.5px,#47ffeb 39.5px,#c3ff6f 40.5px,#47ffeb 41.5px,#5dffd5 42.5px,#a7ff8c 43.5px,#bdff76 44.5px,#beff75 45.5px,#60ffd2 46.5px,#bfff74 47.5px,#56ffdc 48.5px,#4bffe8 50.5px,#73ffbf 51.5px,#d6ff5d 52.5px,#abff88 53.5px,#c4ff6e 54.5px,#bcff77 55.5px,#c8ff6a 56.5px,#b6ff7d 57.5px,#ccff66 58.5px,#d2ff60 61.5px,#c4ff6f 62.5px,#e2ff50 64.5px,#d3ff5f 65.5px,#deff54 67.5px,#d9ff59 69.5px,#ecff46 70.5px,#e4ff4e 72.5px,#f6ff3c 74.5px,#f0ff42 75.5px,#fffe33 77.5px,#ffaf33 114.5px,#ff9133 164.5px,#f83333 180.5px,#de3333 181.5px,#b23333 182.5px,#9d3333 183.5px,#9e3333 199.5px,#d73333 201.5px,#b83333 203.5px,#b53333 204.5px,#c53333 205.5px,#ff3c33 206.5px,#ff6433 207.5px,#ff6333 208.5px,#ff3c33 210.5px,#ff3833 228.5px,#ffcf33 270.5px);height:1px"></div><div style="background:linear-gradient(90deg,#9dff96 0.5px,#b7ff7c 1.5px,#5cffd6 2.5px,#a2ff91 3.5px,#a7ff8c 4.5px,#4dffe5 5.5px,#c6ff6c 7.5px,#e7ff4b 9.5px,#dbff57 10.5px,#6dffc6 11.5px,#6fffc4 13.5px,#83ffb0 14.5px,#7effb4 15.5px,#f4ff3e 16.5px,#7affb8 18.5px,#ccff67 19.5px,#b8ff7a 20.5px,#43ffef 21.5px,#5dffd5 22.5px,#63ffd0 23.5px,#9aff99 24.5px,#98ff9a 25.5px,#c0ff73 26.5px,#43ffef 27.5px,#5cffd6 28.5px,#43ffef 29.5px,#abff88 30.5px,#b5ff7d 32.5px,#99ff9a 33.5px,#bfff74 34.5px,#a4ff8f 35.5px,#9aff99 36.5px,#5affd8 37.5px,#43ffef 38.5px,#47ffeb 39.5px,#c3ff6f 40.5px,#47ffeb 41.5px,#5dffd5 42.5px,#a7ff8c 43.5px,#bdff76 44.5px,#beff75 45.5px,#60ffd2 46.5px,#bfff74 47.5px,#9cff96 48.5px,#56ffdc 49.5px,#43ffef 51.5px,#9dff96 52.5px,#c4ff6e 54.5px,#a5ff8e 55.5px,#b6ff7d 57.5px,#aeff84 58.5px,#ceff64 59.5px,#d0ff62 60.5px,#b8ff7a 61.5px,#d6ff5c 63.5px,#c2ff71 64.5px,#d6ff5d 66.5px,#cbff67 67.5px,#d9ff59 69.5px,#ecff46 70.5px,#e4ff4e 72.5px,#f6ff3c 74.5px,#f0ff42 75.5px,#fffe33 76.5px,#f3ff3f 77.5px,#ffff33 79.5px,#ffaf33 114.5px,#ff8933 164.5px,#f73333 180.5px,#df3333 181.5px,#b43333 182.5px,#9d3333 183.5px,#9e3333 199.5px,#d73333 201.5px,#b73333 203.5px,#b53333 204.5px,#c33333 205.5px,#ff3533 206.5px,#ff5a33 207.5px,#ff5a33 208.5px,#ff3b33 210.5px,#ff3a33 228.5px,#ffd833 270.5px);height:1px"></div><div style="background:linear-gradient(90deg,#99ff9a 0.5px,#c4ff6e 1.5px,#95ff9e 2.5px,#a0ff92 5.5px,#85ffff 6.5px,#aaff89 7.5px,#afff84 8.5px,#5cb0ff 9.5px,#b7ff7c 10.5px,#baff79 14.5px,#82ffb1 15.5px,#5ca2ff 16.5px,#aaff89 17.5px,#94ff9f 22.5px,#5bffd7 23.5px,#91ffa2 24.5px,#8fffa3 25.5px,#85ffff 26.5px,#8effa4 27.5px,#64ffcf 28.5px,#8fffa4 29.5px,#8fffa4 33.5px,#55ffde 34.5px,#8fffa4 35.5px,#90ffa3 40.5px,#84ffaf 41.5px,#65ffcd 42.5px,#90ffa3 43.5px,#5c90ff 44.5px,#90ffa3 45.5px,#9dff96 56.5px,#fffa33 83.5px,#ffb033 114.5px,#ff8233 164.5px,#f63333 180.5px,#e13333 181.5px,#b73333 182.5px,#9e3333 183.5px,#9e3333 199.5px,#d73333 201.5px,#b63333 203.5px,#c13333 205.5px,#fa3333 206.5px,#ff5133 207.5px,#ff5233 208.5px,#ff3933 211.5px,#ff3d33 228.5px,#ffe033 270.5px);height:1px"></div><div style="background:linear-gradient(90deg,#95ff9e 0.5px,#c4ff6e 1.5px,#85ffff 2.5px,#90ffa2 3.5px,#96ff9d 5.5px,#85ffff 6.5px,#9cff96 7.5px,#a0ff93 8.5px,#5cb0ff 9.5px,#a6ff8d 10.5px,#a7ff8b 13.5px,#85ffff 14.5px,#82ffb1 15.5px,#5ca2ff 16.5px,#9bff98 17.5px,#61ffd1 18.5px,#91ffa2 19.5px,#8cffa7 21.5px,#61ffd2 22.5px,#5bffd7 23.5px,#85ffff 24.5px,#87ffac 25.5px,#85ffff 26.5px,#86ffad 27.5px,#64ffcf 28.5px,#86ffad 30.5px,#70ffc3 32.5px,#85ffad 33.5px,#55ffde 34.5px,#85ffad 35.5px,#85ffae 39.5px,#6effc4 40.5px,#84ffaf 41.5px,#65ffcd 42.5px,#85ffae 43.5px,#5c90ff 44.5px,#85ffae 45.5px,#8effa5 55.5px,#9aff99 58.5px,#5c97ff 59.5px,#a2ff90 60.5px,#fffa33 84.5px,#ffb033 115.5px,#ff7f33 163.5px,#fd3333 179.5px,#e23333 181.5px,#9e3333 183.5px,#9e3333 199.5px,#d73333 201.5px,#b63333 203.5px,#bf3333 205.5px,#f33333 206.5px,#ff4833 207.5px,#ff3a33 213.5px,#ff3f33 228.5px,#ffe833 270.5px);height:1px"></div><div style="background:linear-gradient(90deg,#91ffa2 0.5px,#c4ff6e 1.5px,#85ffff 2.5px,#88ffaa 3.5px,#8cffa7 5.5px,#85ffff 6.5px,#6dffc6 7.5px,#85ffff 8.5px,#5cb0ff 9.5px,#96ff9d 10.5px,#97ff9c 13.5px,#85ffff 14.5px,#82ffb1 15.5px,#5ca2ff 16.5px,#8effa5 17.5px,#61ffd1 18.5px,#5dffd6 19.5px,#83ffb0 21.5px,#61ffd2 22.5px,#5bffd7 23.5px,#85ffff 24.5px,#68ffcb 25.5px,#85ffff 26.5px,#7effb5 27.5px,#64ffcf 28.5px,#7affb9 29.5px,#70ffc3 32.5px,#7dffb6 33.5px,#61ffd1 34.5px,#7cffb6 35.5px,#89ffaa 37.5px,#6effc4 40.5px,#84ffaf 41.5px,#7bffb8 43.5px,#5c93ff 44.5px,#5c8aff 45.5px,#5c9cff 46.5px,#58ffdb 47.5px,#7affb9 48.5px,#79ffb9 50.5px,#ffffff 51.5px,#79ffb9 52.5px,#91ffa2 58.5px,#5c97ff 59.5px,#85ffff 60.5px,#9eff95 61.5px,#fffb33 85.5px,#ffb133 115.5px,#ff7b33 162.5px,#fc3333 179.5px,#e23333 181.5px,#9f3333 183.5px,#9f3333 199.5px,#d73333 201.5px,#b53333 203.5px,#bd3333 205.5px,#ed3333 206.5px,#ff4033 207.5px,#ff3c33 227.5px,#ffc233 259.5px,#fff033 270.5px);height:1px"></div><div style="background:linear-gradient(90deg,#8effa5 0.5px,#c4ff6e 1.5px,#89ffaa 2.5px,#5c9bff 3.5px,#82ffb1 4.5px,#83ffb0 5.5px,#85ffff 6.5px,#6dffc6 7.5px,#85ffff 8.5px,#5cb0ff 9.5px,#85ffff 10.5px,#88ffaa 11.5px,#88ffaa 13.5px,#5c95ff 14.5px,#82ffb1 15.5px,#5ca2ff 16.5px,#86ffac 17.5px,#61ffd1 18.5px,#5dffd6 19.5px,#78ffbb 20.5px,#7bffb8 21.5px,#61ffd2 22.5px,#5bffd7 23.5px,#85ffff 24.5px,#68ffcb 25.5px,#85ffff 26.5px,#77ffbc 27.5px,#64ffcf 28.5px,#7affb9 29.5px,#5c94ff 30.5px,#79ffb9 31.5px,#75ffbd 33.5px,#61ffd1 34.5px,#5cb8ff 35.5px,#87ffac 36.5px,#89ffaa 37.5px,#74ffbf 38.5px,#5cacff 39.5px,#81ffb2 40.5px,#72ffc0 43.5px,#5c93ff 44.5px,#5c8aff 45.5px,#5c9cff 46.5px,#58ffdb 47.5px,#71ffc2 48.5px,#70ffc2 49.5px,#5c9dff 50.5px,#ffffff 51.5px,#70ffc2 52.5px,#89ffaa 58.5px,#5c97ff 59.5px,#85ffff 60.5px,#97ff9c 61.5px,#fffc33 86.5px,#ffb133 116.5px,#ff7833 161.5px,#fb3333 179.5px,#e23333 181.5px,#a03333 183.5px,#9f3333 199.5px,#d73333 201.5px,#b53333 203.5px,#bc3333 205.5px,#e93333 206.5px,#ff3933 207.5px,#ff4233 228.5px,#ffb633 254.5px,#fff833 270.5px);height:1px"></div><div style="background:linear-gradient(90deg,#8bffa8 0.5px,#ccff67 1.5px,#89ffaa 2.5px,#5c9bff 3.5px,#78ffbb 4.5px,#7cffb7 5.5px,#85ffff 6.5px,#6dffc6 7.5px,#85ffff 8.5px,#5cb0ff 9.5px,#85ffff 10.5px,#7effb5 11.5px,#5c8bff 12.5px,#68ffcb 13.5px,#5c95ff 14.5px,#82ffb1 15.5px,#86ffac 17.5px,#61ffd1 18.5px,#5dffd6 19.5px,#78ffbb 20.5px,#85ffff 21.5px,#61ffd2 22.5px,#5bffd7 23.5px,#5cb7ff 24.5px,#68ffcb 25.5px,#85ffff 26.5px,#85ffff 27.5px,#64ffcf 28.5px,#6bffc7 29.5px,#5c94ff 30.5px,#5cacff 31.5px,#70ffc3 32.5px,#61ffd1 34.5px,#5cb8ff 35.5px,#87ffac 36.5px,#5c93ff 37.5px,#6dffc5 38.5px,#5cacff 39.5px,#81ffb2 40.5px,#7affb8 42.5px,#5c8aff 43.5px,#5c8aff 45.5px,#5c9cff 46.5px,#58ffdb 47.5px,#6affc9 48.5px,#69ffc9 49.5px,#5c9dff 50.5px,#ffffff 51.5px,#69ffca 52.5px,#82ffb1 58.5px,#5cb5ff 59.5px,#85ffff 60.5px,#90ffa3 61.5px,#fff933 88.5px,#ffb133 117.5px,#ff7833 159.5px,#fa3333 179.5px,#e13333 181.5px,#a13333 183.5px,#a03333 199.5px,#d73333 201.5px,#b53333 203.5px,#bc3333 205.5px,#ff3533 207.5px,#ff4433 228.5px,#ffa333 248.5px,#ffff33 270.5px);height:1px"></div><div style="background:linear-gradient(90deg,#88ffab 0.5px,#ccff67 1.5px,#89ffaa 2.5px,#5c9bff 3.5px,#78ffbb 4.5px,#85ffff 5.5px,#7affb8 6.5px,#6cffc7 7.5px,#85ffff 8.5px,#5cb0ff 9.5px,#5ca3ff 10.5px,#85ffff 11.5px,#5c8bff 12.5px,#68ffcb 13.5px,#5c95ff 14.5px,#5ca8ff 15.5px,#89ffaa 16.5px,#86ffac 17.5px,#61ffd1 18.5px,#5dffd6 19.5px,#78ffbb 20.5px,#85ffff 21.5px,#61ffd2 22.5px,#5bffd7 23.5px,#5cb7ff 24.5px,#76ffbd 25.5px,#85ffff 26.5px,#85ffff 27.5px,#64ffcf 28.5px,#6bffc7 29.5px,#5c94ff 30.5px,#5cacff 31.5px,#70ffc3 32.5px,#5ca9ff 33.5px,#61ffd1 34.5px,#5cb8ff 35.5px,#87ffac 36.5px,#5c93ff 37.5px,#85ffff 38.5px,#68ffca 39.5px,#5ca0ff 40.5px,#84ffaf 41.5px,#5cb2ff 42.5px,#5c8aff 43.5px,#5c8aff 45.5px,#5c9cff 46.5px,#6effc4 47.5px,#64ffce 49.5px,#5c9dff 50.5px,#ffffff 51.5px,#64ffcf 52.5px,#6fffc4 55.5px,#5cafff 56.5px,#78ffbb 57.5px,#7dffb6 58.5px,#5cb5ff 59.5px,#85ffff 60.5px,#8bffa8 61.5px,#fffb33 89.5px,#ffb233 117.5px,#ff7833 158.5px,#f83333 179.5px,#e03333 181.5px,#a23333 183.5px,#a13333 199.5px,#d73333 201.5px,#b53333 203.5px,#bb3333 205.5px,#fe3333 207.5px,#ff3f33 227.5px,#ff9e33 245.5px,#f7ff3b 270.5px);height:1px"></div><div style="background:linear-gradient(90deg,#86ffad 0.5px,#ccff67 1.5px,#84ffaf 2.5px,#5c9bff 3.5px,#5c8dff 4.5px,#85ffff 5.5px,#7affb8 6.5px,#6cffc7 7.5px,#85ffff 8.5px,#82ffb1 9.5px,#5ca3ff 10.5px,#85ffff 11.5px,#5c8bff 12.5px,#68ffcb 13.5px,#5c95ff 14.5px,#5ca8ff 15.5px,#89ffaa 16.5px,#86ffac 17.5px,#61ffd1 18.5px,#56ffdc 20.5px,#85ffff 21.5px,#5c9eff 22.5px,#5cb7ff 24.5px,#76ffbd 25.5px,#6cffc6 26.5px,#5ca7ff 27.5px,#5effd4 28.5px,#82ffb1 29.5px,#5c94ff 30.5px,#5cacff 31.5px,#70ffc3 32.5px,#5ca9ff 33.5px,#61ffd1 34.5px,#5cb8ff 35.5px,#87ffac 36.5px,#73ffc0 37.5px,#85ffff 38.5px,#68ffca 39.5px,#5ca0ff 40.5px,#59ffd9 41.5px,#5cb2ff 42.5px,#5c8aff 43.5px,#88ffab 44.5px,#5c8aff 45.5px,#5c9cff 46.5px,#6effc4 47.5px,#61ffd1 48.5px,#ffffff 49.5px,#5c9dff 50.5px,#60ffd2 51.5px,#6bffc8 55.5px,#5cafff 56.5px,#74ffbf 57.5px,#78ffba 58.5px,#5cb5ff 59.5px,#85ffff 60.5px,#86ffad 61.5px,#b3ff80 71.5px,#ffffff 72.5px,#bcff77 73.5px,#5c95ff 74.5px,#c5ff6e 75.5px,#fff933 91.5px,#ffb333 118.5px,#ff7733 158.5px,#f73333 179.5px,#dd3333 181.5px,#a33333 183.5px,#a23333 199.5px,#d73333 201.5px,#b63333 203.5px,#bc3333 205.5px,#fc3333 207.5px,#ff4033 227.5px,#ffa033 244.5px,#f7ff3b 268.5px,#f0ff42 270.5px);height:1px"></div><div style="background:linear-gradient(90deg,#84ffaf 0.5px,#b1ff82 1.5px,#84ffaf 2.5px,#5c9bff 3.5px,#5c8dff 4.5px,#77ffbb 5.5px,#7affb8 6.5px,#6cffc7 7.5px,#85ffff 8.5px,#82ffb1 9.5px,#5ca3ff 10.5px,#85ffff 11.5px,#5c8bff 12.5px,#68ffcb 13.5px,#5ca2ff 14.5px,#5ca8ff 15.5px,#89ffaa 16.5px,#57ffdc 17.5px,#64ffce 18.5px,#56ffdc 20.5px,#85ffff 21.5px,#5c9eff 22.5px,#5cb7ff 24.5px,#76ffbd 25.5px,#6cffc6 26.5px,#5ca7ff 27.5px,#5effd4 28.5px,#82ffb1 29.5px,#5c94ff 30.5px,#5cacff 31.5px,#85ffff 32.5px,#5ca9ff 33.5px,#5cb2ff 34.5px,#ffffff 35.5px,#87ffac 36.5px,#73ffc0 37.5px,#5cadff 38.5px,#68ffca 39.5px,#5ca0ff 40.5px,#59ffd9 41.5px,#5cb2ff 42.5px,#5c8aff 43.5px,#88ffab 44.5px,#85ffff 45.5px,#ffffff 46.5px,#6effc4 47.5px,#5ccaff 48.5px,#ffffff 49.5px,#5effd4 50.5px,#64ffcf 54.5px,#85ffff 55.5px,#5cafff 56.5px,#71ffc2 57.5px,#75ffbe 58.5px,#5cb5ff 59.5px,#85ffff 60.5px,#82ffb1 61.5px,#adff85 71.5px,#ffffff 72.5px,#b6ff7d 73.5px,#5c95ff 74.5px,#bfff74 75.5px,#fffb33 92.5px,#ffb533 118.5px,#ff7933 157.5px,#fd3333 178.5px,#da3333 181.5px,#a43333 183.5px,#a33333 199.5px,#d73333 201.5px,#b63333 203.5px,#bc3333 205.5px,#fc3333 207.5px,#ff4033 227.5px,#ffa233 243.5px,#fbff37 265.5px,#e9ff49 270.5px);height:1px"></div><div style="background:linear-gradient(90deg,#82ffb1 0.5px,#b1ff82 1.5px,#ffffff 2.5px,#5c9bff 3.5px,#5c8dff 4.5px,#77ffbb 5.5px,#7affb8 6.5px,#6cffc7 7.5px,#ffffff 8.5px,#82ffb1 9.5px,#5ca3ff 10.5px,#adcbff 11.5px,#5cabff 12.5px,#68ffcb 13.5px,#5ca2ff 14.5px,#5ca8ff 15.5px,#89ffaa 16.5px,#57ffdc 17.5px,#64ffce 18.5px,#ffffff 19.5px,#5fffd3 20.5px,#54ffde 21.5px,#5c9eff 22.5px,#5cb7ff 24.5px,#76ffbd 25.5px,#6cffc6 26.5px,#5ca7ff 27.5px,#5effd4 28.5px,#82ffb1 29.5px,#5c94ff 30.5px,#5cacff 31.5px,#85ffff 32.5px,#5ca9ff 33.5px,#5cb2ff 34.5px,#ffffff 35.5px,#5c9eff 36.5px,#73ffc0 37.5px,#5cadff 38.5px,#68ffca 39.5px,#5ca0ff 40.5px,#59ffd9 41.5px,#5cb2ff 42.5px,#62ffd1 43.5px,#88ffab 44.5px,#85ffff 45.5px,#ffffff 46.5px,#6effc4 47.5px,#5ccaff 48.5px,#ffffff 49.5px,#5cffd6 50.5px,#61ffd1 54.5px,#85ffff 55.5px,#5cafff 56.5px,#6effc5 57.5px,#72ffc1 58.5px,#5cb5ff 59.5px,#85ffff 60.5px,#7effb5 61.5px,#a7ff8b 71.5px,#ffffff 72.5px,#b0ff83 73.5px,#5c95ff 74.5px,#b9ff7a 75.5px,#fff833 94.5px,#ffb333 120.5px,#ff7933 157.5px,#fc3333 178.5px,#d73333 181.5px,#a53333 183.5px,#a53333 199.5px,#d83333 201.5px,#b73333 203.5px,#bd3333 205.5px,#fc3333 207.5px,#ff4133 227.5px,#ffa833 243.5px,#faff38 263.5px,#e2ff50 270.5px);height:1px"></div><div style="background:linear-gradient(90deg,#80ffb3 0.5px,#b1ff82 1.5px,#ffffff 2.5px,#5caaff 3.5px,#5c8dff 4.5px,#77ffbb 5.5px,#7affb8 6.5px,#6cffc7 7.5px,#ffffff 8.5px,#82ffb1 9.5px,#5ca3ff 10.5px,#adcbff 11.5px,#5cabff 12.5px,#63ffd0 13.5px,#58ffda 14.5px,#7dffb6 15.5px,#89ffaa 16.5px,#57ffdc 17.5px,#64ffce 18.5px,#ffffff 19.5px,#5fffd3 20.5px,#54ffde 21.5px,#5c9eff 22.5px,#5cb7ff 24.5px,#74ffbf 25.5px,#6cffc6 26.5px,#5ca7ff 27.5px,#5effd4 28.5px,#82ffb1 29.5px,#62ffd0 30.5px,#5cacff 31.5px,#85ffff 32.5px,#5ca9ff 33.5px,#5cb2ff 34.5px,#ffffff 35.5px,#5c9eff 36.5px,#73ffc0 37.5px,#60ffd2 38.5px,#68ffca 39.5px,#5ca0ff 40.5px,#59ffd9 41.5px,#5cb2ff 42.5px,#62ffd1 43.5px,#88ffab 44.5px,#85ffff 45.5px,#ffffff 46.5px,#ffffff 47.5px,#5ccaff 48.5px,#ffffff 49.5px,#5bffd8 50.5px,#5fffd3 54.5px,#85ffff 55.5px,#5cafff 56.5px,#6bffc8 57.5px,#6fffc4 58.5px,#5ca5ff 59.5px,#76ffbc 60.5px,#91ffa2 67.5px,#ffffff 68.5px,#99ff9a 69.5px,#aaff88 73.5px,#5c95ff 74.5px,#b3ff80 75.5px,#fff833 95.5px,#ffaf33 123.5px,#ff7c33 156.5px,#fb3333 178.5px,#d43333 181.5px,#a63333 183.5px,#a63333 199.5px,#d83333 201.5px,#b83333 203.5px,#bd3333 205.5px,#fc3333 207.5px,#ff4133 227.5px,#ffaa33 242.5px,#f9ff39 261.5px,#dbff58 270.5px);height:1px"></div><div style="background:linear-gradient(90deg,#7effb4 0.5px,#d3ff5f 1.5px,#ffffff 2.5px,#5caaff 3.5px,#5c8dff 4.5px,#77ffbb 5.5px,#7bffb8 6.5px,#6cffc7 7.5px,#ffffff 8.5px,#62ffd0 9.5px,#5ca3ff 10.5px,#adcbff 11.5px,#84ffae 12.5px,#63ffd0 13.5px,#58ffda 14.5px,#7dffb6 15.5px,#85ffae 16.5px,#57ffdc 17.5px,#64ffce 18.5px,#ffffff 19.5px,#5fffd3 20.5px,#54ffde 21.5px,#5cacff 22.5px,#ffffff 23.5px,#85ffff 24.5px,#74ffbf 25.5px,#6cffc6 26.5px,#5ca7ff 27.5px,#5effd4 28.5px,#82ffb1 29.5px,#62ffd0 30.5px,#85ffff 31.5px,#85ffff 32.5px,#5ca9ff 33.5px,#5cb2ff 34.5px,#ffffff 35.5px,#5c9eff 36.5px,#73ffc0 37.5px,#60ffd2 38.5px,#68ffca 39.5px,#89ffa9 40.5px,#57ffdb 41.5px,#5cb2ff 42.5px,#ffffff 43.5px,#88ffab 44.5px,#85ffff 45.5px,#ffffff 46.5px,#ffffff 47.5px,#5ccaff 48.5px,#ffffff 49.5px,#59ffd9 50.5px,#85ffff 51.5px,#59ffda 52.5px,#5dffd5 54.5px,#85ffff 55.5px,#5cafff 56.5px,#68ffca 57.5px,#6cffc7 58.5px,#5ca5ff 59.5px,#73ffc0 60.5px,#7dffb5 63.5px,#5ca1ff 64.5px,#84ffae 65.5px,#8cffa7 67.5px,#ffffff 68.5px,#94ff9f 69.5px,#a4ff8e 73.5px,#5c95ff 74.5px,#adff86 75.5px,#fff933 96.5px,#ffa933 127.5px,#ff7f33 155.5px,#fa3333 178.5px,#d13333 181.5px,#a73333 183.5px,#a83333 199.5px,#d83333 201.5px,#b93333 203.5px,#be3333 205.5px,#fc3333 207.5px,#ff4233 227.5px,#ffb033 242.5px,#f9ff39 259.5px,#d3ff5f 270.5px);height:1px"></div><div style="background:linear-gradient(90deg,#7cffb6 0.5px,#d3ff5f 1.5px,#ffffff 2.5px,#5caaff 3.5px,#ffffff 4.5px,#77ffbb 5.5px,#7bffb8 6.5px,#5effd5 7.5px,#54ffde 8.5px,#7cffb7 10.5px,#adcbff 11.5px,#84ffae 12.5px,#84ffae 13.5px,#58ffda 14.5px,#7dffb6 15.5px,#85ffae 16.5px,#85ffff 17.5px,#70ffc3 18.5px,#ffffff 19.5px,#5fffd3 20.5px,#54ffde 21.5px,#5cacff 22.5px,#ffffff 23.5px,#85ffff 24.5px,#74ffbf 25.5px,#6cffc6 26.5px,#85ffff 27.5px,#5cabff 28.5px,#82ffb1 29.5px,#62ffd0 30.5px,#85ffff 31.5px,#75ffbe 32.5px,#ffffff 33.5px,#5cb2ff 34.5px,#ffffff 35.5px,#5c9eff 36.5px,#73ffc0 37.5px,#59ffda 39.5px,#89ffa9 40.5px,#57ffdb 41.5px,#78ffbb 42.5px,#ffffff 43.5px,#88ffab 44.5px,#64ffce 45.5px,#5cb0ff 46.5px,#ffffff 47.5px,#5ccaff 48.5px,#ffffff 49.5px,#57ffdb 50.5px,#85ffff 51.5px,#57ffdb 52.5px,#5cffd7 54.5px,#85ffff 55.5px,#62ffd0 56.5px,#65ffcd 57.5px,#5cbeff 58.5px,#6cffc6 59.5px,#79ffb9 63.5px,#5ca1ff 64.5px,#80ffb3 65.5px,#86ffac 67.5px,#ffffff 68.5px,#8effa5 69.5px,#9eff94 73.5px,#5c95ff 74.5px,#a7ff8c 75.5px,#fff933 97.5px,#ffa733 130.5px,#ff7d33 156.5px,#f93333 178.5px,#a83333 183.5px,#a93333 199.5px,#d93333 201.5px,#b93333 203.5px,#bf3333 205.5px,#fc3333 207.5px,#ff4233 227.5px,#ffb133 241.5px,#f9ff39 257.5px,#ccff66 270.5px);height:1px"></div><div style="background:linear-gradient(90deg,#7bffb8 0.5px,#d3ff5f 1.5px,#83ffb0 2.5px,#5caaff 3.5px,#ffffff 4.5px,#70ffc3 5.5px,#7bffb8 6.5px,#5effd5 7.5px,#54ffde 8.5px,#7cffb7 10.5px,#adcbff 11.5px,#84ffae 12.5px,#84ffae 13.5px,#58ffda 14.5px,#5cb7ff 15.5px,#85ffae 16.5px,#85ffff 17.5px,#70ffc3 18.5px,#ffffff 19.5px,#5fffd3 20.5px,#ffffff 21.5px,#5cacff 22.5px,#ffffff 23.5px,#85ffff 24.5px,#74ffbf 25.5px,#85ffff 26.5px,#85ffff 27.5px,#5cabff 28.5px,#75ffbd 29.5px,#5c9aff 30.5px,#85ffff 31.5px,#75ffbe 32.5px,#ffffff 33.5px,#5cb2ff 34.5px,#ffffff 35.5px,#5c9eff 36.5px,#adcbff 37.5px,#60ffd2 38.5px,#59ffda 39.5px,#89ffa9 40.5px,#77ffbb 41.5px,#78ffbb 42.5px,#ffffff 43.5px,#85ffff 44.5px,#64ffce 45.5px,#5cb0ff 46.5px,#ffffff 47.5px,#5ccaff 48.5px,#ffffff 49.5px,#85ffff 50.5px,#85ffff 51.5px,#56ffdc 52.5px,#57ffdb 53.5px,#ffffff 54.5px,#ffffff 55.5px,#60ffd2 56.5px,#63ffcf 57.5px,#5cbeff 58.5px,#69ffca 59.5px,#75ffbe 63.5px,#5ca1ff 64.5px,#7bffb8 65.5px,#81ffb1 67.5px,#ffffff 68.5px,#89ffaa 69.5px,#fffa33 98.5px,#ffa533 133.5px,#ff7b33 157.5px,#fc3333 177.5px,#de3333 180.5px,#a93333 183.5px,#aa3333 199.5px,#d93333 201.5px,#ba3333 203.5px,#bf3333 205.5px,#fc3333 207.5px,#ff4433 227.5px,#ffb033 240.5px,#fbff37 255.5px,#c5ff6d 270.5px);height:1px"></div><div style="background:linear-gradient(90deg,#7affb9 0.5px,#d3ff5f 1.5px,#83ffb0 2.5px,#5caaff 3.5px,#ffffff 4.5px,#70ffc3 5.5px,#7bffb8 6.5px,#5effd5 7.5px,#ffffff 8.5px,#5c95ff 9.5px,#66ffcc 10.5px,#adcbff 11.5px,#65ffce 12.5px,#84ffae 13.5px,#ffffff 14.5px,#5cb7ff 15.5px,#85ffae 16.5px,#85ffff 17.5px,#70ffc3 18.5px,#ffffff 19.5px,#5fffd3 20.5px,#ffffff 21.5px,#ffffff 23.5px,#64ffcf 24.5px,#74ffbf 25.5px,#85ffff 26.5px,#5fffd4 27.5px,#5c93ff 28.5px,#75ffbd 29.5px,#5c9aff 30.5px,#85ffff 31.5px,#75ffbe 32.5px,#ffffff 33.5px,#5dffd5 34.5px,#79ffb9 35.5px,#5c9eff 36.5px,#adcbff 37.5px,#60ffd2 38.5px,#58ffdb 39.5px,#89ffa9 40.5px,#77ffbb 41.5px,#85ffff 42.5px,#ffffff 43.5px,#85ffff 44.5px,#64ffce 45.5px,#85ffff 46.5px,#ffffff 47.5px,#56ffdd 48.5px,#ffffff 49.5px,#85ffff 50.5px,#5cacff 51.5px,#5c90ff 52.5px,#56ffdc 53.5px,#ffffff 54.5px,#ffffff 55.5px,#5effd4 56.5px,#61ffd2 57.5px,#5cbeff 58.5px,#66ffcc 59.5px,#71ffc1 63.5px,#5ca1ff 64.5px,#77ffbc 65.5px,#7cffb6 67.5px,#ffffff 68.5px,#83ffaf 69.5px,#fff833 100.5px,#ffa533 134.5px,#ff7b33 157.5px,#fc3333 177.5px,#dd3333 180.5px,#aa3333 183.5px,#ab3333 199.5px,#d93333 201.5px,#ba3333 203.5px,#c03333 205.5px,#fc3333 207.5px,#ff4533 227.5px,#ffb533 240.5px,#f9ff39 254.5px,#bfff74 270.5px);height:1px"></div><div style="background:linear-gradient(90deg,#79ffba 0.5px,#d3ff5f 1.5px,#83ffb0 2.5px,#5caaff 3.5px,#61ffd1 4.5px,#71ffc1 6.5px,#5effd5 7.5px,#ffffff 8.5px,#5c95ff 9.5px,#66ffcc 10.5px,#adcbff 11.5px,#65ffce 12.5px,#84ffae 13.5px,#ffffff 14.5px,#5cb7ff 15.5px,#85ffae 16.5px,#85ffff 17.5px,#70ffc3 18.5px,#ffffff 19.5px,#60ffd2 20.5px,#ffffff 21.5px,#ffffff 23.5px,#64ffcf 24.5px,#59ffda 25.5px,#80ffb3 26.5px,#5fffd4 27.5px,#5c93ff 28.5px,#75ffbd 29.5px,#5c9aff 30.5px,#85ffff 31.5px,#5cafff 32.5px,#ffffff 33.5px,#5dffd5 34.5px,#87ffac 36.5px,#ffffff 37.5px,#85ffff 38.5px,#58ffdb 39.5px,#77ffbb 41.5px,#85ffff 42.5px,#5caaff 43.5px,#85ffff 44.5px,#64ffce 45.5px,#85ffff 46.5px,#ffffff 47.5px,#55ffdd 48.5px,#55ffde 49.5px,#85ffff 50.5px,#5cacff 51.5px,#5c90ff 52.5px,#55ffdd 53.5px,#57ffdb 54.5px,#ffffff 55.5px,#5c9aff 56.5px,#5fffd4 57.5px,#5cbeff 58.5px,#64ffcf 59.5px,#69ffca 61.5px,#ffffff 62.5px,#ffffff 63.5px,#70ffc2 64.5px,#7bffb8 68.5px,#5c91ff 69.5px,#82ffb1 70.5px,#fffb33 101.5px,#ffa733 134.5px,#ff7833 158.5px,#fc3333 177.5px,#db3333 180.5px,#aa3333 183.5px,#ac3333 199.5px,#d93333 201.5px,#bb3333 203.5px,#c03333 205.5px,#fc3333 207.5px,#ff4833 227.5px,#ffb233 239.5px,#f9ff39 253.5px,#baff78 269.5px,#b8ff7b 270.5px);height:1px"></div><div style="background:linear-gradient(90deg,#78ffbb 0.5px,#caff69 1.5px,#83ffb0 2.5px,#ffffff 3.5px,#61ffd1 4.5px,#71ffc1 6.5px,#5effd5 7.5px,#adcbff 8.5px,#5c95ff 9.5px,#66ffcc 10.5px,#adcbff 11.5px,#ffffff 12.5px,#84ffae 13.5px,#ffffff 14.5px,#5cb7ff 15.5px,#85ffae 16.5px,#85ffff 17.5px,#70ffc3 18.5px,#ffffff 19.5px,#60ffd2 20.5px,#ffffff 21.5px,#ffffff 23.5px,#64ffcf 24.5px,#59ffda 25.5px,#80ffb3 26.5px,#5fffd4 27.5px,#5c93ff 28.5px,#75ffbd 29.5px,#5c9aff 30.5px,#85ffff 31.5px,#5cafff 32.5px,#ffffff 33.5px,#5dffd5 34.5px,#87ffac 36.5px,#ffffff 37.5px,#85ffff 38.5px,#58ffdb 39.5px,#77ffbb 41.5px,#85ffff 42.5px,#5caaff 43.5px,#69ffca 44.5px,#6dffc6 45.5px,#85ffff 46.5px,#ffffff 47.5px,#85ffff 48.5px,#54ffde 49.5px,#5cbcff 50.5px,#5c90ff 52.5px,#54ffde 53.5px,#56ffdc 54.5px,#ffffff 55.5px,#5c9aff 56.5px,#5dffd5 57.5px,#85ffff 58.5px,#61ffd1 59.5px,#66ffcc 61.5px,#ffffff 62.5px,#ffffff 63.5px,#6dffc6 64.5px,#76ffbc 68.5px,#5c91ff 69.5px,#7dffb6 70.5px,#fffb33 103.5px,#ffa933 134.5px,#ff7933 158.5px,#fb3333 177.5px,#db3333 180.5px,#aa3333 183.5px,#ac3333 199.5px,#d93333 201.5px,#bb3333 203.5px,#c03333 205.5px,#fc3333 207.5px,#ff4b33 227.5px,#ffbe33 240.5px,#faff38 252.5px,#b9ff7a 267.5px,#b1ff81 270.5px);height:1px"></div><div style="background:linear-gradient(90deg,#78ffbb 0.5px,#caff69 1.5px,#85ffad 2.5px,#ffffff 3.5px,#61ffd1 4.5px,#75ffbd 5.5px,#5effd5 7.5px,#adcbff 8.5px,#5c95ff 9.5px,#66ffcc 10.5px,#adcbff 11.5px,#ffffff 12.5px,#84ffae 13.5px,#ffffff 14.5px,#5cb7ff 15.5px,#61ffd1 16.5px,#5cb2ff 17.5px,#85ffff 18.5px,#ffffff 19.5px,#60ffd2 20.5px,#ffffff 21.5px,#ffffff 22.5px,#5ca8ff 23.5px,#64ffcf 24.5px,#59ffda 25.5px,#80ffb3 26.5px,#ffffff 27.5px,#5c93ff 28.5px,#75ffbd 29.5px,#5c9aff 30.5px,#85ffff 31.5px,#5cafff 32.5px,#ffffff 33.5px,#68ffca 34.5px,#77ffbb 35.5px,#56ffdc 36.5px,#ffffff 37.5px,#85ffff 38.5px,#58ffdb 39.5px,#85ffff 40.5px,#85ffff 42.5px,#5caaff 43.5px,#69ffca 44.5px,#6dffc6 45.5px,#85ffff 46.5px,#ffffff 47.5px,#85ffff 48.5px,#54ffde 49.5px,#5cbcff 50.5px,#5c90ff 52.5px,#54ffde 53.5px,#56ffdc 54.5px,#ffffff 55.5px,#5c9aff 56.5px,#5c8aff 57.5px,#85ffff 58.5px,#ffffff 59.5px,#61ffd1 60.5px,#62ffd0 61.5px,#ffffff 62.5px,#67ffcb 63.5px,#6dffc5 66.5px,#85ffff 67.5px,#72ffc1 68.5px,#5c91ff 69.5px,#78ffba 70.5px,#7bffb7 71.5px,#62ffd0 72.5px,#82ffb1 73.5px,#88ffaa 75.5px,#62ffd0 76.5px,#62ffd0 77.5px,#92ffa1 78.5px,#fffb33 105.5px,#ffac33 134.5px,#ff7633 159.5px,#fb3333 177.5px,#da3333 180.5px,#ab3333 183.5px,#ad3333 199.5px,#d93333 201.5px,#bb3333 203.5px,#c13333 205.5px,#fc3333 207.5px,#ff4f33 227.5px,#ffc133 240.5px,#fcff36 251.5px,#b5ff7e 266.5px,#abff88 270.5px);height:1px"></div><div style="background:linear-gradient(90deg,#78ffbb 0.5px,#caff69 1.5px,#85ffad 2.5px,#ffffff 3.5px,#61ffd1 4.5px,#75ffbd 5.5px,#79ffb9 7.5px,#adcbff 8.5px,#5c95ff 9.5px,#adcbff 10.5px,#67ffcb 11.5px,#85ffff 12.5px,#adcbff 13.5px,#5affd8 14.5px,#5cb7ff 15.5px,#61ffd1 16.5px,#5cb2ff 17.5px,#85ffff 18.5px,#ffffff 19.5px,#adcbff 20.5px,#ffffff 21.5px,#5cabff 22.5px,#5ca8ff 23.5px,#64ffcf 24.5px,#adcbff 25.5px,#80ffb3 26.5px,#ffffff 27.5px,#77ffbc 28.5px,#75ffbd 29.5px,#85ffff 30.5px,#85ffff 31.5px,#5cafff 32.5px,#ffffff 33.5px,#68ffca 34.5px,#77ffbb 35.5px,#56ffdc 36.5px,#ffffff 37.5px,#ffffff 38.5px,#88ffab 39.5px,#85ffff 40.5px,#85ffff 41.5px,#81ffb1 42.5px,#5caaff 43.5px,#69ffca 44.5px,#6dffc6 45.5px,#85ffff 46.5px,#70ffc2 47.5px,#85ffff 48.5px,#54ffde 49.5px,#5cbcff 50.5px,#ffffff 51.5px,#5c90ff 52.5px,#5cafff 53.5px,#55ffdd 54.5px,#ffffff 55.5px,#5c9aff 56.5px,#5c8aff 57.5px,#85ffff 58.5px,#ffffff 59.5px,#5fffd3 60.5px,#3ffff3 61.5px,#3ffff3 62.5px,#62ffd0 63.5px,#3ffff3 64.5px,#62ffd0 65.5px,#62ffd0 66.5px,#85ffff 67.5px,#62ffd0 68.5px,#5c91ff 69.5px,#62ffd0 70.5px,#62ffd0 71.5px,#3ffff3 72.5px,#62ffd0 73.5px,#62ffd0 75.5px,#3ffff3 76.5px,#3ffff3 77.5px,#62ffd0 78.5px,#62ffd0 80.5px,#95ff9d 81.5px,#fffa33 107.5px,#ffae33 134.5px,#ff7333 160.5px,#fe3333 176.5px,#ec3333 179.5px,#ab3333 183.5px,#ad3333 199.5px,#d93333 201.5px,#bb3333 203.5px,#c13333 205.5px,#fc3333 207.5px,#ff5333 227.5px,#ffcc33 241.5px,#f7ff3b 251.5px,#afff84 266.5px,#a5ff8e 270.5px);height:1px"></div><div style="background:linear-gradient(90deg,#78ffbb 0.5px,#caff69 1.5px,#85ffad 2.5px,#ffffff 3.5px,#ffffff 4.5px,#75ffbd 5.5px,#79ffb9 7.5px,#adcbff 8.5px,#5cffd6 9.5px,#adcbff 10.5px,#67ffcb 11.5px,#85ffff 12.5px,#adcbff 13.5px,#5affd8 14.5px,#ffffff 15.5px,#86ffad 16.5px,#5cb2ff 17.5px,#85ffff 18.5px,#ffffff 19.5px,#adcbff 20.5px,#85ffff 21.5px,#5cabff 22.5px,#5ca8ff 23.5px,#64ffcf 24.5px,#adcbff 25.5px,#80ffb3 26.5px,#ffffff 27.5px,#77ffbc 28.5px,#75ffbd 29.5px,#85ffff 30.5px,#85ffff 31.5px,#5cafff 32.5px,#ffffff 33.5px,#68ffca 34.5px,#77ffbb 35.5px,#56ffdc 36.5px,#ffffff 37.5px,#ffffff 38.5px,#88ffab 39.5px,#85ffff 40.5px,#85ffff 41.5px,#81ffb1 42.5px,#5caaff 43.5px,#69ffca 44.5px,#6dffc6 45.5px,#85ffff 46.5px,#70ffc2 47.5px,#85ffff 48.5px,#3ffff3 49.5px,#5cbcff 50.5px,#ffffff 51.5px,#5c90ff 52.5px,#5cafff 53.5px,#3ffff3 54.5px,#ffffff 55.5px,#5c9aff 56.5px,#5c8aff 57.5px,#85ffff 58.5px,#ffffff 59.5px,#3ffff3 60.5px,#85ffff 61.5px,#33a5ff 62.5px,#3ffff3 63.5px,#33a5ff 64.5px,#3ffff3 65.5px,#3ffff3 66.5px,#85ffff 67.5px,#3ffff3 68.5px,#3ffff3 71.5px,#33a5ff 72.5px,#3ffff3 73.5px,#3ffff3 75.5px,#33a5ff 76.5px,#33a5ff 77.5px,#3ffff3 78.5px,#3ffff3 80.5px,#8dffa5 81.5px,#d2ff61 97.5px,#fff733 110.5px,#ffaf33 135.5px,#ff6d33 162.5px,#fe3333 176.5px,#ec3333 179.5px,#ab3333 183.5px,#ad3333 199.5px,#d93333 201.5px,#bb3333 203.5px,#c13333 205.5px,#fc3333 207.5px,#ff5833 227.5px,#ffcf33 241.5px,#f9ff39 250.5px,#a8ff8a 266.5px,#9eff94 270.5px);height:1px"></div><div style="background:linear-gradient(90deg,#78ffbb 0.5px,#caff69 1.5px,#85ffad 2.5px,#ffffff 3.5px,#ffffff 4.5px,#75ffbd 5.5px,#79ffb9 7.5px,#adcbff 8.5px,#5cffd6 9.5px,#adcbff 10.5px,#67ffcb 11.5px,#85ffff 12.5px,#adcbff 13.5px,#5affd8 14.5px,#ffffff 15.5px,#86ffad 16.5px,#5cb2ff 17.5px,#85ffff 18.5px,#ffffff 19.5px,#ffffff 20.5px,#85ffff 21.5px,#5cabff 22.5px,#5ca8ff 23.5px,#ffffff 24.5px,#5c99ff 26.5px,#ffffff 27.5px,#85ffff 28.5px,#75ffbd 29.5px,#85ffff 30.5px,#85ffff 31.5px,#79ffba 32.5px,#ffffff 33.5px,#85ffff 34.5px,#77ffbb 35.5px,#56ffdc 36.5px,#ffffff 37.5px,#3343ff 38.5px,#88ffab 39.5px,#3343ff 40.5px,#33a5ff 41.5px,#33a5ff 44.5px,#3343ff 45.5px,#85ffff 46.5px,#87ffac 47.5px,#33a5ff 48.5px,#33a5ff 49.5px,#3343ff 50.5px,#3343ff 51.5px,#33a5ff 52.5px,#33a5ff 54.5px,#3343ff 55.5px,#33a5ff 56.5px,#3343ff 57.5px,#33a5ff 58.5px,#33a5ff 60.5px,#3343ff 61.5px,#3343ff 62.5px,#33a5ff 63.5px,#3343ff 64.5px,#33a5ff 65.5px,#33a5ff 66.5px,#3343ff 67.5px,#33a5ff 68.5px,#33a5ff 71.5px,#3343ff 72.5px,#33a5ff 73.5px,#33a5ff 75.5px,#3343ff 76.5px,#3343ff 77.5px,#33a5ff 78.5px,#33a5ff 80.5px,#85ffad 81.5px,#c2ff71 96.5px,#fffa33 111.5px,#ffb333 134.5px,#ff6d33 162.5px,#fe3333 176.5px,#ec3333 179.5px,#ab3333 183.5px,#ad3333 199.5px,#d93333 201.5px,#bb3333 203.5px,#c13333 205.5px,#fc3333 207.5px,#ff5d33 227.5px,#ffd233 241.5px,#fbff37 249.5px,#a2ff91 266.5px,#98ff9b 270.5px);height:1px"></div><div style="background:linear-gradient(90deg,#78ffbb 0.5px,#caff69 1.5px,#6fffc3 2.5px,#ffffff 3.5px,#ffffff 4.5px,#75ffbd 5.5px,#adcbff 6.5px,#5cb0ff 7.5px,#85ffff 8.5px,#5cffd6 9.5px,#adcbff 10.5px,#6bffc7 11.5px,#85ffff 12.5px,#adcbff 13.5px,#5affd8 14.5px,#ffffff 15.5px,#86ffad 16.5px,#5cb2ff 17.5px,#85ffff 18.5px,#85ffff 19.5px,#ffffff 20.5px,#85ffff 21.5px,#5cabff 22.5px,#5ca8ff 23.5px,#ffffff 24.5px,#5c99ff 26.5px,#ffffff 27.5px,#85ffff 28.5px,#66ffcd 29.5px,#74ffbf 30.5px,#85ffff 31.5px,#79ffba 32.5px,#ffffff 33.5px,#85ffff 34.5px,#61ffd2 35.5px,#59ffd9 37.5px,#3343ff 38.5px,#3343ff 39.5px,#85ffff 40.5px,#3343ff 41.5px,#3343ff 44.5px,#ffffff 45.5px,#3343ff 46.5px,#87ffac 47.5px,#3343ff 48.5px,#3343ff 80.5px,#7dffb5 81.5px,#b1ff81 95.5px,#fffc33 112.5px,#ffb633 134.5px,#ff6a33 163.5px,#fe3333 176.5px,#ec3333 179.5px,#ab3333 183.5px,#ad3333 199.5px,#d93333 201.5px,#bb3333 203.5px,#c13333 205.5px,#fc3333 207.5px,#ff6133 227.5px,#ffd633 241.5px,#f6ff3c 249.5px,#9cff97 266.5px,#92ffa1 270.5px);height:1px"></div><div style="background:linear-gradient(90deg,#78ffbb 0.5px,#c5ff6e 1.5px,#6fffc3 2.5px,#ffffff 3.5px,#ffffff 4.5px,#68ffca 5.5px,#adcbff 6.5px,#5cb0ff 7.5px,#85ffff 8.5px,#5effd4 9.5px,#5cb4ff 10.5px,#6bffc7 11.5px,#5c97ff 12.5px,#adcbff 13.5px,#75ffbd 14.5px,#ffffff 15.5px,#86ffad 16.5px,#6cffc7 17.5px,#85ffff 18.5px,#85ffff 19.5px,#ffffff 20.5px,#85ffff 21.5px,#5cabff 22.5px,#6dffc6 23.5px,#ffffff 24.5px,#5cbbff 25.5px,#5c99ff 26.5px,#5c96ff 27.5px,#85ffff 28.5px,#66ffcd 29.5px,#74ffbf 30.5px,#85ffff 31.5px,#85ffff 32.5px,#ffffff 33.5px,#85ffff 34.5px,#61ffd2 35.5px,#59ffd9 37.5px,#3343ff 38.5px,#3343ff 40.5px,#85ffff 41.5px,#3343ff 42.5px,#3343ff 43.5px,#85ffff 44.5px,#ffffff 45.5px,#3343ff 46.5px,#3343ff 80.5px,#76ffbd 81.5px,#a8ff8b 95.5px,#fffe33 113.5px,#ffb833 134.5px,#ff6a33 163.5px,#fe3333 176.5px,#ec3333 179.5px,#ab3333 183.5px,#ad3333 199.5px,#d93333 201.5px,#bb3333 203.5px,#c13333 205.5px,#fc3333 207.5px,#ff6633 227.5px,#ffe033 242.5px,#f8ff3a 248.5px,#96ff9d 266.5px,#8cffa7 270.5px);height:1px"></div><div style="background:linear-gradient(90deg,#78ffbb 0.5px,#c5ff6e 1.5px,#adcbff 2.5px,#ffffff 3.5px,#ffffff 4.5px,#68ffca 5.5px,#75ffbd 6.5px,#5cb0ff 7.5px,#85ffff 8.5px,#5effd4 9.5px,#5cb4ff 10.5px,#6bffc7 11.5px,#5c97ff 12.5px,#82ffb1 13.5px,#75ffbd 14.5px,#ffffff 15.5px,#86ffad 16.5px,#6cffc7 17.5px,#85ffff 18.5px,#85ffff 19.5px,#ffffff 20.5px,#85ffff 21.5px,#5c94ff 22.5px,#6dffc6 23.5px,#55ffdd 24.5px,#5cbbff 25.5px,#ffffff 26.5px,#5c96ff 27.5px,#85ffff 28.5px,#66ffcd 29.5px,#74ffbf 30.5px,#5c8eff 31.5px,#85ffff 32.5px,#83ffb0 33.5px,#85ffff 34.5px,#5c94ff 35.5px,#6fffc4 36.5px,#59ffd9 37.5px,#65ffcd 38.5px,#3333e4 39.5px,#3333e4 42.5px,#5c9cff 43.5px,#3333e4 44.5px,#3333e4 45.5px,#5cffd6 46.5px,#3333e4 47.5px,#3333e4 80.5px,#6fffc4 81.5px,#97ff9b 94.5px,#fffd33 115.5px,#ffb933 135.5px,#ff6033 165.5px,#fb3333 177.5px,#da3333 180.5px,#ad3333 183.5px,#ad3333 199.5px,#d93333 201.5px,#bc3333 203.5px,#c13333 205.5px,#fc3333 207.5px,#ff6b33 227.5px,#ffe333 242.5px,#f4ff3e 248.5px,#8effa4 267.5px,#87ffac 270.5px);height:1px"></div><div style="background:linear-gradient(90deg,#78ffbb 0.5px,#bfff74 1.5px,#adcbff 2.5px,#ffffff 3.5px,#ffffff 4.5px,#68ffca 5.5px,#75ffbd 6.5px,#5cb0ff 7.5px,#85ffff 8.5px,#5effd4 9.5px,#5cb4ff 10.5px,#6affc8 11.5px,#5c97ff 12.5px,#82ffb1 13.5px,#75ffbd 14.5px,#ffffff 15.5px,#86ffad 16.5px,#6cffc7 17.5px,#85ffff 18.5px,#85ffff 20.5px,#ffffff 21.5px,#5c94ff 22.5px,#6dffc6 23.5px,#55ffdd 24.5px,#5cbbff 25.5px,#ffffff 26.5px,#5c96ff 27.5px,#85ffff 28.5px,#ffffff 29.5px,#5c97ff 30.5px,#5c8eff 31.5px,#85ffff 32.5px,#83ffb0 33.5px,#85ffff 34.5px,#5c94ff 35.5px,#6fffc4 36.5px,#ffffff 37.5px,#65ffcd 38.5px,#ffffff 39.5px,#ffffff 40.5px,#65ffce 41.5px,#ffffff 42.5px,#ffffff 44.5px,#7dffb5 45.5px,#5cffd6 46.5px,#87ffac 47.5px,#669eff 48.5px,#ffffff 49.5px,#ffffff 56.5px,#66ccff 57.5px,#ffffff 58.5px,#6683ff 59.5px,#ffffff 60.5px,#66d0ff 61.5px,#ffffff 62.5px,#ffffff 65.5px,#6694ff 66.5px,#ffffff 67.5px,#ffffff 79.5px,#668fff 80.5px,#69ffc9 81.5px,#8fffa4 94.5px,#feff34 116.5px,#ffba33 136.5px,#ff5c33 166.5px,#fc3333 177.5px,#db3333 180.5px,#af3333 183.5px,#ad3333 199.5px,#d93333 201.5px,#ba3333 204.5px,#c23333 205.5px,#fc3333 207.5px,#ff7033 227.5px,#ffe733 242.5px,#f7ff3b 247.5px,#8affa9 267.5px,#82ffb0 270.5px);height:1px"></div><div style="background:linear-gradient(90deg,#78ffbb 0.5px,#bfff74 1.5px,#ffffff 2.5px,#ffffff 5.5px,#75ffbd 6.5px,#5cb0ff 7.5px,#85ffff 8.5px,#5effd4 9.5px,#5cb4ff 10.5px,#6affc8 11.5px,#5c97ff 12.5px,#82ffb1 13.5px,#75ffbd 14.5px,#ffffff 15.5px,#5c94ff 16.5px,#6cffc7 17.5px,#85ffff 18.5px,#85ffff 20.5px,#ffffff 21.5px,#6cffc6 22.5px,#6effc5 23.5px,#adcbff 24.5px,#5cbbff 25.5px,#ffffff 26.5px,#5c96ff 27.5px,#6effc4 28.5px,#ffffff 29.5px,#5c97ff 30.5px,#5c8eff 31.5px,#ffffff 32.5px,#ffffff 34.5px,#5c94ff 35.5px,#ffffff 36.5px,#ffffff 40.5px,#65ffce 41.5px,#ffffff 42.5px,#ffffff 44.5px,#7dffb5 45.5px,#ffffff 46.5px,#ffffff 47.5px,#669eff 48.5px,#ffffff 49.5px,#ffffff 56.5px,#66ccff 57.5px,#ffffff 58.5px,#6683ff 59.5px,#ffffff 60.5px,#66d0ff 61.5px,#ffffff 62.5px,#ffffff 65.5px,#6694ff 66.5px,#ffffff 67.5px,#ffffff 79.5px,#668fff 80.5px,#62ffd0 81.5px,#76ffbd 89.5px,#62ffd0 90.5px,#7affb8 91.5px,#62ffd0 92.5px,#82ffb1 93.5px,#a8ff8a 99.5px,#62ffd0 100.5px,#b2ff80 101.5px,#fffb33 119.5px,#ffb533 139.5px,#ff5333 168.5px,#f83333 178.5px,#b23333 183.5px,#ad3333 199.5px,#d83333 201.5px,#bc3333 204.5px,#c43333 205.5px,#fc3333 207.5px,#ff7f33 228.5px,#fff733 244.5px,#87ffac 267.5px,#7fffb3 270.5px);height:1px"></div><div style="background:linear-gradient(90deg,#78ffbb 0.5px,#bfff74 1.5px,#ffffff 2.5px,#ffffff 5.5px,#75ffbd 6.5px,#5cb0ff 7.5px,#85ffff 8.5px,#5effd4 9.5px,#5cb4ff 10.5px,#6affc8 11.5px,#adcbff 12.5px,#82ffb1 13.5px,#75ffbd 14.5px,#5cafff 15.5px,#5c94ff 16.5px,#6cffc7 17.5px,#85ffff 18.5px,#78ffbb 19.5px,#85ffff 20.5px,#ffffff 21.5px,#6cffc6 22.5px,#6effc5 23.5px,#adcbff 24.5px,#5cbbff 25.5px,#73ffc0 26.5px,#ffffff 27.5px,#6effc4 28.5px,#ffffff 29.5px,#ffffff 30.5px,#5c8eff 31.5px,#ffffff 32.5px,#ffffff 34.5px,#5c94ff 35.5px,#ffffff 36.5px,#ffffff 40.5px,#65ffce 41.5px,#ffffff 42.5px,#ffffff 47.5px,#669eff 48.5px,#ffffff 49.5px,#ffffff 56.5px,#66ccff 57.5px,#ffffff 58.5px,#6683ff 59.5px,#ffffff 60.5px,#66d0ff 61.5px,#ffffff 62.5px,#ffffff 65.5px,#6694ff 66.5px,#ffffff 67.5px,#ffffff 79.5px,#668fff 80.5px,#3ffff3 81.5px,#62ffd0 82.5px,#62ffd0 83.5px,#3ffff3 84.5px,#62ffd0 85.5px,#62ffd0 89.5px,#3ffff3 90.5px,#62ffd0 91.5px,#3ffff3 92.5px,#62ffd0 93.5px,#62ffd0 99.5px,#3ffff3 100.5px,#62ffd0 101.5px,#62ffd0 104.5px,#beff75 105.5px,#fff933 121.5px,#ff5033 169.5px,#f93333 178.5px,#b73333 183.5px,#aa3333 194.5px,#ad3333 199.5px,#d73333 201.5px,#be3333 204.5px,#c63333 205.5px,#fc3333 207.5px,#ff8533 228.5px,#fffa33 244.5px,#85ffae 267.5px,#7dffb5 270.5px);height:1px"></div><div style="background:linear-gradient(90deg,#78ffbb 0.5px,#bfff74 1.5px,#ffffff 2.5px,#ffffff 5.5px,#75ffbd 6.5px,#ffffff 7.5px,#85ffff 8.5px,#85ffff 9.5px,#7effb5 10.5px,#6affc8 11.5px,#adcbff 12.5px,#82ffb1 13.5px,#75ffbd 14.5px,#5cafff 15.5px,#5c94ff 16.5px,#6cffc7 17.5px,#85ffff 18.5px,#78ffbb 19.5px,#85ffff 20.5px,#ffffff 21.5px,#6cffc6 22.5px,#6effc5 23.5px,#adcbff 24.5px,#5cbbff 25.5px,#73ffc0 26.5px,#ffffff 27.5px,#5c97ff 28.5px,#ffffff 29.5px,#ffffff 30.5px,#5c8eff 31.5px,#ffffff 32.5px,#ffffff 34.5px,#5c94ff 35.5px,#ffffff 36.5px,#57ffdb 37.5px,#ffffff 38.5px,#ffffff 40.5px,#65ffce 41.5px,#ffffff 42.5px,#ffffff 47.5px,#669eff 48.5px,#ffffff 49.5px,#ffffff 56.5px,#66ccff 57.5px,#ffffff 58.5px,#6683ff 59.5px,#ffffff 60.5px,#66d0ff 61.5px,#ffffff 62.5px,#ffffff 65.5px,#6694ff 66.5px,#ffffff 67.5px,#ffffff 79.5px,#668fff 80.5px,#33a5ff 81.5px,#3ffff3 82.5px,#3ffff3 83.5px,#33a5ff 84.5px,#3ffff3 85.5px,#3ffff3 89.5px,#33a5ff 90.5px,#3ffff3 91.5px,#33a5ff 92.5px,#3ffff3 93.5px,#3ffff3 99.5px,#33a5ff 100.5px,#3ffff3 101.5px,#3ffff3 104.5px,#b6ff7d 105.5px,#fff733 123.5px,#ff4d33 170.5px,#f93333 178.5px,#bd3333 183.5px,#aa3333 190.5px,#ae3333 199.5px,#d63333 201.5px,#c03333 204.5px,#c83333 205.5px,#fc3333 207.5px,#ff8b33 228.5px,#fffd33 244.5px,#84ffaf 267.5px,#7cffb6 270.5px);height:1px"></div><div style="background:linear-gradient(90deg,#78ffbb 0.5px,#bfff74 1.5px,#ffffff 2.5px,#ffffff 3.5px,#7fffb4 4.5px,#ffffff 5.5px,#57ffdc 6.5px,#ffffff 7.5px,#85ffff 8.5px,#85ffff 9.5px,#7effb5 10.5px,#6affc8 11.5px,#adcbff 12.5px,#82ffb1 13.5px,#ffffff 14.5px,#61ffd1 15.5px,#5c94ff 16.5px,#85ffff 17.5px,#85ffff 18.5px,#78ffbb 19.5px,#85ffff 20.5px,#ffffff 21.5px,#6cffc6 22.5px,#65ffce 24.5px,#73ffc0 26.5px,#ffffff 27.5px,#5c97ff 28.5px,#ffffff 29.5px,#ffffff 34.5px,#55ffdd 35.5px,#ffffff 36.5px,#57ffdb 37.5px,#ffffff 38.5px,#ffffff 47.5px,#669eff 48.5px,#ffffff 49.5px,#ffffff 56.5px,#66ccff 57.5px,#ffffff 58.5px,#ffffff 60.5px,#66d0ff 61.5px,#ffffff 62.5px,#ffffff 65.5px,#6694ff 66.5px,#ffffff 67.5px,#ffffff 79.5px,#668fff 80.5px,#3343ff 81.5px,#33a5ff 82.5px,#33a5ff 83.5px,#3343ff 84.5px,#33a5ff 85.5px,#33a5ff 89.5px,#3343ff 90.5px,#33a5ff 91.5px,#3343ff 92.5px,#33a5ff 93.5px,#33a5ff 99.5px,#3343ff 100.5px,#33a5ff 101.5px,#33a5ff 104.5px,#aeff85 105.5px,#f3ff3f 121.5px,#fff133 126.5px,#fa3333 178.5px,#c33333 183.5px,#ab3333 189.5px,#ae3333 199.5px,#d53333 201.5px,#c33333 204.5px,#cb3333 205.5px,#fc3333 207.5px,#ff9133 228.5px,#ffff33 244.5px,#84ffaf 267.5px,#7cffb7 270.5px);height:1px"></div><div style="background:linear-gradient(90deg,#78ffbb 0.5px,#bdff75 1.5px,#ffffff 2.5px,#ffffff 3.5px,#7fffb4 4.5px,#ffffff 5.5px,#57ffdc 6.5px,#ffffff 7.5px,#85ffff 8.5px,#72ffc0 9.5px,#7effb5 10.5px,#5cb1ff 11.5px,#ffffff 12.5px,#7fffb4 13.5px,#ffffff 14.5px,#61ffd1 15.5px,#85ffff 16.5px,#85ffff 18.5px,#78ffbb 19.5px,#6bffc8 20.5px,#ffffff 21.5px,#6cffc6 22.5px,#65ffce 24.5px,#73ffc0 26.5px,#ffffff 27.5px,#5c97ff 28.5px,#ffffff 29.5px,#ffffff 34.5px,#55ffdd 35.5px,#ffffff 36.5px,#57ffdb 37.5px,#ffffff 38.5px,#ffffff 39.5px,#64ffcf 40.5px,#ffffff 41.5px,#ffffff 47.5px,#669eff 48.5px,#ffffff 49.5px,#ffffff 56.5px,#66ccff 57.5px,#ffffff 58.5px,#ffffff 60.5px,#66d0ff 61.5px,#ffffff 62.5px,#ffffff 65.5px,#6694ff 66.5px,#ffffff 67.5px,#ffffff 79.5px,#668fff 80.5px,#3343ff 81.5px,#3343ff 104.5px,#a6ff8d 105.5px,#daff58 119.5px,#fffa33 126.5px,#fb3333 178.5px,#c43333 184.5px,#ab3333 188.5px,#ae3333 199.5px,#d33333 201.5px,#c53333 204.5px,#ce3333 205.5px,#fc3333 207.5px,#ffa033 229.5px,#fdff35 244.5px,#83ffaf 267.5px,#7cffb7 270.5px);height:1px"></div><div style="background:linear-gradient(90deg,#78ffbb 0.5px,#bdff75 1.5px,#85ffff 2.5px,#76ffbd 3.5px,#7fffb4 4.5px,#ffffff 5.5px,#5dffd5 6.5px,#ffffff 7.5px,#85ffff 8.5px,#72ffc0 9.5px,#7effb5 10.5px,#5cb1ff 11.5px,#ffffff 12.5px,#7fffb4 13.5px,#ffffff 14.5px,#61ffd1 15.5px,#85ffff 16.5px,#85ffff 18.5px,#65ffcd 19.5px,#6bffc8 20.5px,#ffffff 21.5px,#6cffc6 22.5px,#65ffce 24.5px,#73ffc0 25.5px,#68ffca 26.5px,#ffffff 27.5px,#5c97ff 28.5px,#69ffc9 29.5px,#ffffff 30.5px,#ffffff 34.5px,#55ffdd 35.5px,#ffffff 36.5px,#57ffdb 37.5px,#ffffff 38.5px,#ffffff 39.5px,#64ffcf 40.5px,#ffffff 41.5px,#ffffff 47.5px,#669eff 48.5px,#ffffff 49.5px,#ffffff 56.5px,#66ccff 57.5px,#ffffff 58.5px,#ffffff 60.5px,#66d0ff 61.5px,#ffffff 62.5px,#ffffff 65.5px,#6694ff 66.5px,#ffffff 67.5px,#ffffff 80.5px,#3343ff 81.5px,#3343ff 104.5px,#9eff95 105.5px,#cfff63 119.5px,#fffd33 127.5px,#fc3333 178.5px,#ad3333 187.5px,#ae3333 199.5px,#d23333 201.5px,#c83333 204.5px,#d13333 205.5px,#fc3333 207.5px,#ffa633 229.5px,#fffe33 243.5px,#b1ff81 257.5px,#3374ff 258.5px,#a6ff8c 259.5px,#81ffb2 268.5px,#ffffff 269.5px,#7cffb7 270.5px);height:1px"></div><div style="background:linear-gradient(90deg,#78ffbb 0.5px,#bdff75 1.5px,#85ffff 2.5px,#76ffbd 3.5px,#7fffb4 4.5px,#5affd8 5.5px,#5dffd5 6.5px,#ffffff 7.5px,#85ffff 8.5px,#72ffc0 9.5px,#7effb5 10.5px,#5cb1ff 11.5px,#ffffff 12.5px,#7fffb4 13.5px,#61ffd1 15.5px,#85ffff 16.5px,#85ffff 18.5px,#65ffcd 19.5px,#6bffc8 20.5px,#ffffff 21.5px,#65ffcd 22.5px,#6cffc7 23.5px,#ffffff 24.5px,#73ffc0 25.5px,#68ffca 26.5px,#ffffff 27.5px,#5c97ff 28.5px,#69ffc9 29.5px,#ffffff 30.5px,#ffffff 33.5px,#5c97ff 34.5px,#67ffcb 35.5px,#ffffff 36.5px,#57ffdb 37.5px,#ffffff 38.5px,#ffffff 39.5px,#64ffcf 40.5px,#ffffff 41.5px,#ffffff 47.5px,#669eff 48.5px,#ffffff 49.5px,#ffffff 56.5px,#66ccff 57.5px,#ffffff 58.5px,#ffffff 60.5px,#66d0ff 61.5px,#ffffff 62.5px,#ffffff 80.5px,#3333e4 81.5px,#3333e4 104.5px,#96ff9d 105.5px,#c4ff6e 119.5px,#f9ff39 127.5px,#fd3333 178.5px,#c43333 185.5px,#ad3333 188.5px,#af3333 199.5px,#d13333 201.5px,#d43333 205.5px,#fc3333 207.5px,#ffb433 230.5px,#f8ff3a 244.5px,#b1ff82 257.5px,#3374ff 258.5px,#a6ff8d 259.5px,#89ffa9 265.5px,#ffffff 266.5px,#84ffaf 267.5px,#81ffb2 268.5px,#ffffff 269.5px,#7cffb7 270.5px);height:1px"></div><div style="background:linear-gradient(90deg,#78ffbb 0.5px,#bdff75 1.5px,#85ffff 2.5px,#76ffbd 3.5px,#85ffff 4.5px,#5affd8 5.5px,#5dffd5 6.5px,#5cadff 7.5px,#87ffac 8.5px,#72ffc0 9.5px,#ffffff 10.5px,#5cb1ff 11.5px,#ffffff 12.5px,#7fffb4 13.5px,#61ffd1 15.5px,#85ffff 16.5px,#adcbff 17.5px,#85ffff 18.5px,#65ffcd 19.5px,#6affc9 20.5px,#ffffff 21.5px,#65ffcd 22.5px,#6cffc7 23.5px,#ffffff 24.5px,#73ffc0 25.5px,#ffffff 26.5px,#ffffff 28.5px,#69ffc9 29.5px,#71ffc2 30.5px,#53ffdf 31.5px,#ffffff 32.5px,#5cffd6 33.5px,#5c97ff 34.5px,#67ffcb 35.5px,#ffffff 36.5px,#57ffdb 37.5px,#ffffff 38.5px,#ffffff 39.5px,#64ffcf 40.5px,#ffffff 41.5px,#ffffff 47.5px,#669eff 48.5px,#ffffff 49.5px,#ffffff 56.5px,#66ccff 57.5px,#ffffff 58.5px,#ffffff 81.5px,#66c3ff 82.5px,#ffffff 83.5px,#ffffff 91.5px,#66d9ff 92.5px,#66d7ff 93.5px,#ffffff 94.5px,#ffffff 104.5px,#8dffa5 105.5px,#afff83 118.5px,#e8ff4b 125.5px,#fff533 132.5px,#ff8d33 156.5px,#fd3333 178.5px,#c83333 185.5px,#ad3333 188.5px,#af3333 199.5px,#d53333 202.5px,#ce3333 204.5px,#fc3333 207.5px,#ffc133 231.5px,#fbff37 243.5px,#b0ff83 257.5px,#3374ff 258.5px,#a5ff8d 259.5px,#89ffa9 265.5px,#ffffff 266.5px,#84ffaf 267.5px,#81ffb2 268.5px,#ffffff 269.5px,#7cffb7 270.5px);height:1px"></div><div style="background:linear-gradient(90deg,#78ffbb 0.5px,#bdff75 1.5px,#85ffff 2.5px,#76ffbd 3.5px,#85ffff 4.5px,#5affd8 5.5px,#5dffd5 6.5px,#5cadff 7.5px,#87ffac 8.5px,#72ffc0 9.5px,#ffffff 10.5px,#5cb1ff 11.5px,#53ffdf 12.5px,#85ffff 13.5px,#6fffc4 14.5px,#61ffd1 15.5px,#85ffff 16.5px,#adcbff 17.5px,#74ffbf 18.5px,#65ffcd 19.5px,#6affc9 20.5px,#81ffb2 21.5px,#65ffcd 22.5px,#63ffd0 23.5px,#ffffff 24.5px,#ffffff 29.5px,#71ffc2 30.5px,#53ffdf 31.5px,#ffffff 32.5px,#5cffd6 33.5px,#5c97ff 34.5px,#67ffcb 35.5px,#ffffff 36.5px,#ffffff 47.5px,#669eff 48.5px,#ffffff 49.5px,#ffffff 56.5px,#66ccff 57.5px,#ffffff 58.5px,#ffffff 81.5px,#66c3ff 82.5px,#ffffff 83.5px,#ffffff 91.5px,#66d9ff 92.5px,#66d7ff 93.5px,#ffffff 94.5px,#ffffff 104.5px,#85ffad 105.5px,#a4ff8f 118.5px,#e0ff53 125.5px,#fff633 133.5px,#ff9233 155.5px,#fe3333 178.5px,#e63333 182.5px,#dc3333 184.5px,#af3333 187.5px,#af3333 199.5px,#d73333 202.5px,#d93333 205.5px,#fc3333 207.5px,#fff633 240.5px,#b0ff83 257.5px,#3374ff 258.5px,#a5ff8e 259.5px,#89ffa9 265.5px,#ffffff 266.5px,#84ffaf 267.5px,#7cffb7 270.5px);height:1px"></div><div style="background:linear-gradient(90deg,#78ffbb 0.5px,#c0ff73 1.5px,#85ffff 2.5px,#85ffff 3.5px,#adcbff 4.5px,#5affd8 5.5px,#5dffd5 6.5px,#5cadff 7.5px,#87ffac 8.5px,#72ffc0 9.5px,#ffffff 10.5px,#78ffbb 11.5px,#53ffdf 12.5px,#85ffff 13.5px,#6fffc4 14.5px,#85ffff 15.5px,#84ffae 16.5px,#adcbff 17.5px,#74ffbf 18.5px,#65ffcd 19.5px,#6affc9 20.5px,#81ffb2 21.5px,#85ffff 22.5px,#63ffd0 23.5px,#ffffff 24.5px,#ffffff 29.5px,#71ffc2 30.5px,#53ffdf 31.5px,#ffffff 32.5px,#5cffd6 33.5px,#ffffff 34.5px,#67ffcb 35.5px,#ffffff 36.5px,#ffffff 47.5px,#669eff 48.5px,#ffffff 49.5px,#ffffff 56.5px,#66ccff 57.5px,#ffffff 58.5px,#ffffff 81.5px,#66c3ff 82.5px,#ffffff 83.5px,#ffffff 91.5px,#66d9ff 92.5px,#66d7ff 93.5px,#ffffff 94.5px,#ffffff 104.5px,#62ffd0 105.5px,#7fffb4 106.5px,#81ffb2 107.5px,#62ffd0 108.5px,#84ffaf 109.5px,#85ffad 110.5px,#62ffd0 111.5px,#62ffd0 112.5px,#8affa9 113.5px,#98ff9b 118.5px,#d2ff60 124.5px,#fff633 134.5px,#ff9633 154.5px,#ff3a33 177.5px,#e23333 184.5px,#b03333 187.5px,#b03333 199.5px,#d83333 202.5px,#dc3333 205.5px,#fc3333 207.5px,#ffec33 237.5px,#f6ff3c 243.5px,#afff84 257.5px,#3374ff 258.5px,#a5ff8e 259.5px,#8affa9 265.5px,#ffffff 266.5px,#84ffaf 267.5px,#7cffb7 270.5px);height:1px"></div><div style="background:linear-gradient(90deg,#78ffbb 0.5px,#c0ff73 1.5px,#85ffff 2.5px,#85ffff 3.5px,#adcbff 4.5px,#5affd8 5.5px,#ffffff 6.5px,#5cadff 7.5px,#87ffac 8.5px,#57ffdc 9.5px,#78ffbb 11.5px,#53ffdf 12.5px,#85ffff 13.5px,#7dffb6 14.5px,#85ffff 15.5px,#84ffae 16.5px,#adcbff 17.5px,#74ffbf 18.5px,#65ffcd 19.5px,#5c98ff 20.5px,#81ffb2 21.5px,#85ffff 22.5px,#60ffd2 23.5px,#ffffff 24.5px,#ffffff 27.5px,#5c97ff 28.5px,#ffffff 29.5px,#71ffc2 30.5px,#53ffdf 31.5px,#ffffff 32.5px,#5cffd6 33.5px,#ffffff 34.5px,#67ffcb 35.5px,#ffffff 36.5px,#ffffff 81.5px,#66c3ff 82.5px,#ffffff 83.5px,#ffffff 91.5px,#66d9ff 92.5px,#66d7ff 93.5px,#ffffff 94.5px,#ffffff 104.5px,#3ffff3 105.5px,#62ffd0 106.5px,#62ffd0 107.5px,#3ffff3 108.5px,#62ffd0 109.5px,#62ffd0 110.5px,#3ffff3 111.5px,#3ffff3 112.5px,#62ffd0 113.5px,#62ffd0 114.5px,#82ffb1 115.5px,#97ff9b 119.5px,#caff68 124.5px,#fff533 135.5px,#ff9733 154.5px,#ff4233 176.5px,#f13333 180.5px,#f33333 183.5px,#b13333 187.5px,#b03333 199.5px,#da3333 202.5px,#df3333 205.5px,#ff3733 208.5px,#ffec33 236.5px,#f3ff3f 243.5px,#81ffb2 268.5px,#7cffb7 270.5px);height:1px"></div><div style="background:linear-gradient(90deg,#78ffbb 0.5px,#c0ff73 1.5px,#adcbff 2.5px,#85ffff 3.5px,#adcbff 4.5px,#adcbff 5.5px,#ffffff 6.5px,#76ffbd 7.5px,#87ffac 8.5px,#57ffdc 9.5px,#6cffc7 10.5px,#53ffdf 12.5px,#85ffff 13.5px,#7dffb6 14.5px,#85ffff 15.5px,#adcbff 16.5px,#7affb9 17.5px,#53ffdf 18.5px,#6effc5 19.5px,#5c98ff 20.5px,#81ffb2 21.5px,#85ffff 22.5px,#60ffd2 23.5px,#ffffff 24.5px,#ffffff 27.5px,#5c97ff 28.5px,#ffffff 29.5px,#ffffff 30.5px,#53ffdf 31.5px,#ffffff 32.5px,#5cffd6 33.5px,#ffffff 34.5px,#67ffcb 35.5px,#ffffff 36.5px,#ffffff 81.5px,#66c3ff 82.5px,#ffffff 83.5px,#ffffff 91.5px,#66d9ff 92.5px,#66d7ff 93.5px,#ffffff 94.5px,#ffffff 104.5px,#33a5ff 105.5px,#3ffff3 106.5px,#3ffff3 107.5px,#33a5ff 108.5px,#3ffff3 109.5px,#3ffff3 110.5px,#33a5ff 111.5px,#33a5ff 112.5px,#3ffff3 113.5px,#3ffff3 114.5px,#77ffbc 115.5px,#80ffb2 118.5px,#c2ff70 124.5px,#fffb33 135.5px,#ff9c33 153.5px,#ff4433 176.5px,#f43333 180.5px,#fa3333 183.5px,#b23333 187.5px,#b73333 200.5px,#db3333 202.5px,#e23333 205.5px,#ff3733 208.5px,#ffed33 235.5px,#f5ff3d 242.5px,#81ffb2 268.5px,#7cffb7 270.5px);height:1px"></div><div style="background:linear-gradient(90deg,#78ffbb 0.5px,#c0ff73 1.5px,#adcbff 2.5px,#85ffff 3.5px,#adcbff 4.5px,#adcbff 5.5px,#ffffff 6.5px,#76ffbd 7.5px,#6fffc4 8.5px,#57ffdc 9.5px,#5fffd3 11.5px,#53ffdf 12.5px,#74ffbf 13.5px,#7dffb6 14.5px,#85ffff 15.5px,#adcbff 16.5px,#7affb9 17.5px,#53ffdf 18.5px,#78ffbb 20.5px,#81ffb2 21.5px,#85ffff 22.5px,#60ffd2 23.5px,#73ffc0 24.5px,#ffffff 25.5px,#ffffff 27.5px,#5c97ff 28.5px,#ffffff 29.5px,#ffffff 30.5px,#5c97ff 31.5px,#ffffff 32.5px,#5cffd6 33.5px,#ffffff 34.5px,#ffffff 81.5px,#66c3ff 82.5px,#ffffff 83.5px,#ffffff 91.5px,#66d9ff 92.5px,#66d7ff 93.5px,#ffffff 94.5px,#ffffff 104.5px,#3343ff 105.5px,#33a5ff 106.5px,#33a5ff 107.5px,#3343ff 108.5px,#33a5ff 109.5px,#33a5ff 110.5px,#3343ff 111.5px,#3343ff 112.5px,#33a5ff 113.5px,#33a5ff 114.5px,#6cffc6 115.5px,#76ffbd 118.5px,#baff78 124.5px,#fffa33 136.5px,#ff9e33 153.5px,#ff4633 176.5px,#f63333 180.5px,#ff3433 183.5px,#dd3333 185.5px,#b33333 187.5px,#b63333 200.5px,#dc3333 202.5px,#e43333 205.5px,#ff3733 208.5px,#ffee33 234.5px,#f3ff40 242.5px,#90ffa3 263.5px,#3398ff 264.5px,#85ffff 265.5px,#87ffac 266.5px,#7bffb7 270.5px);height:1px"></div><div style="background:linear-gradient(90deg,#78ffbb 0.5px,#caff69 1.5px,#adcbff 2.5px,#85ffff 3.5px,#adcbff 4.5px,#adcbff 5.5px,#ffffff 6.5px,#76ffbd 7.5px,#6fffc4 8.5px,#57ffdc 9.5px,#5fffd3 11.5px,#53ffdf 12.5px,#74ffbf 13.5px,#7dffb6 14.5px,#85ffff 15.5px,#adcbff 16.5px,#7affb9 17.5px,#5fffd4 18.5px,#78ffbb 20.5px,#6dffc5 21.5px,#85ffff 22.5px,#60ffd2 23.5px,#73ffc0 24.5px,#ffffff 25.5px,#ffffff 30.5px,#5c97ff 31.5px,#5c97ff 32.5px,#ffffff 33.5px,#ffffff 44.5px,#53ffe0 45.5px,#ffffff 46.5px,#ffffff 81.5px,#66c3ff 82.5px,#ffffff 83.5px,#ffffff 91.5px,#66d9ff 92.5px,#66d7ff 93.5px,#ffffff 94.5px,#ffffff 104.5px,#3343ff 105.5px,#3343ff 114.5px,#63ffcf 115.5px,#6dffc6 118.5px,#b2ff80 124.5px,#fffb33 137.5px,#ffa133 153.5px,#ff4733 176.5px,#f83333 180.5px,#f93333 184.5px,#b33333 187.5px,#b53333 200.5px,#de3333 202.5px,#e63333 205.5px,#ff3833 208.5px,#ffee33 233.5px,#f4ff3e 241.5px,#a2ff91 259.5px,#3391ff 260.5px,#98ff9b 261.5px,#93ff9f 262.5px,#3363ff 263.5px,#3398ff 264.5px,#85ffff 265.5px,#86ffad 266.5px,#7bffb8 270.5px);height:1px"></div><div style="background:linear-gradient(90deg,#78ffbb 0.5px,#caff69 1.5px,#adcbff 2.5px,#85ffff 3.5px,#adcbff 4.5px,#adcbff 5.5px,#7cffb7 6.5px,#6fffc4 8.5px,#57ffdc 9.5px,#63ffcf 11.5px,#ffffff 12.5px,#74ffbf 13.5px,#7dffb6 14.5px,#85ffff 15.5px,#adcbff 16.5px,#7affb9 17.5px,#5fffd4 18.5px,#78ffbb 20.5px,#6dffc5 21.5px,#85ffff 22.5px,#5c94ff 23.5px,#73ffc0 24.5px,#ffffff 25.5px,#70ffc3 26.5px,#ffffff 27.5px,#ffffff 28.5px,#adcbff 29.5px,#ffffff 30.5px,#ffffff 31.5px,#5c97ff 32.5px,#ffffff 33.5px,#ffffff 35.5px,#5c97ff 37.5px,#ffffff 38.5px,#ffffff 44.5px,#53ffe0 45.5px,#ffffff 46.5px,#ffffff 81.5px,#66c3ff 82.5px,#ffffff 83.5px,#ffffff 91.5px,#66d9ff 92.5px,#ffffff 93.5px,#ffffff 104.5px,#3343ff 105.5px,#3343ff 114.5px,#5dffd5 115.5px,#66ffcd 118.5px,#abff88 124.5px,#fff633 139.5px,#ffa633 153.5px,#ff5133 175.5px,#f93333 180.5px,#ff3f33 183.5px,#fd3333 184.5px,#b43333 187.5px,#b53333 200.5px,#de3333 202.5px,#e83333 205.5px,#ff3833 208.5px,#ffe733 231.5px,#f8ff3a 239.5px,#a0ff93 259.5px,#3391ff 260.5px,#96ff9c 261.5px,#92ffa1 262.5px,#3363ff 263.5px,#3398ff 264.5px,#85ffff 265.5px,#85ffae 266.5px,#7fffb3 268.5px,#3380ff 269.5px,#7affb8 270.5px);height:1px"></div><div style="background:linear-gradient(90deg,#78ffbb 0.5px,#caff69 1.5px,#adcbff 2.5px,#85ffff 3.5px,#adcbff 4.5px,#adcbff 5.5px,#7cffb7 6.5px,#85ffff 7.5px,#6fffc4 8.5px,#57ffdc 9.5px,#63ffcf 11.5px,#ffffff 12.5px,#5cb4ff 13.5px,#85ffff 14.5px,#85ffff 15.5px,#53ffe0 16.5px,#69ffc9 17.5px,#5fffd4 18.5px,#7dffb6 21.5px,#85ffff 22.5px,#5c94ff 23.5px,#5c97ff 24.5px,#ffffff 25.5px,#70ffc3 26.5px,#ffffff 27.5px,#ffffff 28.5px,#adcbff 29.5px,#ffffff 30.5px,#ffffff 31.5px,#5c97ff 32.5px,#ffffff 33.5px,#ffffff 35.5px,#5c97ff 37.5px,#ffffff 38.5px,#ffffff 44.5px,#53ffe0 45.5px,#ffffff 46.5px,#ffffff 81.5px,#66c3ff 82.5px,#ffffff 83.5px,#ffffff 91.5px,#66d9ff 92.5px,#ffffff 93.5px,#ffffff 104.5px,#3333e4 105.5px,#3333e4 114.5px,#59ffd9 115.5px,#61ffd1 118.5px,#a4ff8f 124.5px,#fff833 140.5px,#ffa933 154.5px,#ff4b33 176.5px,#fa3333 180.5px,#ff4333 183.5px,#ff3533 184.5px,#b53333 187.5px,#b43333 200.5px,#df3333 202.5px,#e83333 205.5px,#ff3933 208.5px,#ffeb33 231.5px,#f8ff3a 238.5px,#9dff95 259.5px,#85ffff 260.5px,#94ff9f 261.5px,#8cffa7 263.5px,#85ffff 264.5px,#85ffff 265.5px,#83ffaf 266.5px,#7effb5 268.5px,#3380ff 269.5px,#79ffba 270.5px);height:1px"></div><div style="background:linear-gradient(90deg,#78ffbb 0.5px,#caff69 1.5px,#5effd5 2.5px,#85ffff 3.5px,#ffffff 4.5px,#adcbff 5.5px,#7cffb7 6.5px,#85ffff 7.5px,#6fffc4 8.5px,#ffffff 9.5px,#5cffd7 10.5px,#63ffcf 11.5px,#ffffff 12.5px,#5cb4ff 13.5px,#85ffff 14.5px,#85ffff 15.5px,#53ffe0 16.5px,#69ffc9 17.5px,#5fffd4 18.5px,#85ffff 19.5px,#78ffbb 20.5px,#7dffb6 21.5px,#85ffff 22.5px,#64ffcf 23.5px,#5c97ff 24.5px,#ffffff 25.5px,#70ffc3 26.5px,#ffffff 27.5px,#ffffff 28.5px,#adcbff 29.5px,#ffffff 30.5px,#ffffff 31.5px,#5c97ff 32.5px,#ffffff 33.5px,#ffffff 35.5px,#5c97ff 37.5px,#ffffff 38.5px,#ffffff 91.5px,#66d9ff 92.5px,#ffffff 93.5px,#ffffff 113.5px,#66c4ff 114.5px,#58ffdb 115.5px,#5fffd3 118.5px,#9dff96 124.5px,#fffb33 141.5px,#ffac33 155.5px,#ff4d33 176.5px,#fb3333 180.5px,#ff4633 183.5px,#ff3833 184.5px,#b63333 187.5px,#b43333 200.5px,#df3333 202.5px,#e83333 205.5px,#ff3a33 208.5px,#ffe933 230.5px,#f8ff3a 237.5px,#9aff99 259.5px,#85ffff 260.5px,#91ffa1 261.5px,#8affa9 263.5px,#85ffff 264.5px,#84ffae 265.5px,#7cffb7 268.5px,#3380ff 269.5px,#77ffbc 270.5px);height:1px"></div><div style="background:linear-gradient(90deg,#78ffbb 0.5px,#b7ff7c 1.5px,#5effd5 2.5px,#85ffff 3.5px,#ffffff 4.5px,#adcbff 5.5px,#7cffb7 6.5px,#85ffff 7.5px,#6fffc4 8.5px,#ffffff 9.5px,#5c98ff 10.5px,#63ffcf 11.5px,#ffffff 12.5px,#5cb4ff 13.5px,#adcbff 14.5px,#85ffff 15.5px,#53ffe0 16.5px,#69ffc9 17.5px,#5cacff 18.5px,#85ffff 19.5px,#85ffff 20.5px,#7dffb6 21.5px,#79ffb9 22.5px,#64ffcf 23.5px,#ffffff 24.5px,#ffffff 25.5px,#70ffc3 26.5px,#ffffff 27.5px,#ffffff 31.5px,#62ffd1 32.5px,#adcbff 33.5px,#ffffff 34.5px,#ffffff 35.5px,#adcbff 36.5px,#ffffff 37.5px,#ffffff 113.5px,#66c4ff 114.5px,#58ffda 115.5px,#69ffca 119.5px,#96ff9d 124.5px,#ecff47 139.5px,#fff433 144.5px,#ffb133 156.5px,#ff4f33 176.5px,#fc3333 180.5px,#ff4833 183.5px,#ff3b33 184.5px,#b73333 187.5px,#b43333 200.5px,#df3333 202.5px,#dc3333 204.5px,#fe3333 207.5px,#ffe633 229.5px,#f8ff3a 236.5px,#c4ff6f 249.5px,#ffffff 250.5px,#bbff78 251.5px,#adff85 254.5px,#33a0ff 255.5px,#a4ff8f 256.5px,#96ff9c 259.5px,#85ffff 260.5px,#8effa4 261.5px,#87ffac 263.5px,#85ffff 264.5px,#82ffb1 265.5px,#7cffb6 267.5px,#3364ff 268.5px,#77ffbb 269.5px,#75ffbe 270.5px);height:1px"></div><div style="background:linear-gradient(90deg,#78ffbb 0.5px,#b7ff7c 1.5px,#5effd5 2.5px,#ffffff 3.5px,#ffffff 4.5px,#adcbff 5.5px,#85ffff 6.5px,#6dffc6 7.5px,#5cafff 8.5px,#ffffff 9.5px,#5c98ff 10.5px,#63ffcf 11.5px,#ffffff 12.5px,#67ffcb 13.5px,#adcbff 14.5px,#5c94ff 15.5px,#53ffe0 16.5px,#69ffc9 17.5px,#5cacff 18.5px,#85ffff 19.5px,#85ffff 20.5px,#7dffb6 21.5px,#79ffb9 22.5px,#64ffcf 23.5px,#ffffff 24.5px,#ffffff 25.5px,#70ffc3 26.5px,#ffffff 27.5px,#ffffff 31.5px,#62ffd1 32.5px,#adcbff 33.5px,#ffffff 34.5px,#ffffff 113.5px,#66c4ff 114.5px,#51ffe2 115.5px,#59ffd9 117.5px,#51ffe2 118.5px,#71ffc1 120.5px,#8bffa7 123.5px,#51ffe2 124.5px,#93ffa0 125.5px,#e1ff51 139.5px,#fff933 145.5px,#ffb533 157.5px,#ff4733 177.5px,#fc3333 180.5px,#ff4a33 183.5px,#f13333 185.5px,#b83333 187.5px,#b43333 200.5px,#df3333 202.5px,#da3333 204.5px,#ff3333 207.5px,#ffe433 228.5px,#f8ff3a 235.5px,#c0ff73 249.5px,#ffffff 250.5px,#b7ff7c 251.5px,#3383ff 252.5px,#aeff85 253.5px,#338fff 254.5px,#33a0ff 255.5px,#a0ff93 256.5px,#338cff 257.5px,#96ff9c 258.5px,#93ffa0 259.5px,#85ffff 260.5px,#8bffa8 261.5px,#ffffff 262.5px,#84ffae 263.5px,#85ffff 264.5px,#7fffb4 265.5px,#7affb9 267.5px,#3364ff 268.5px,#75ffbe 269.5px,#73ffc0 270.5px);height:1px"></div><div style="background:linear-gradient(90deg,#78ffbb 0.5px,#b7ff7c 1.5px,#5c95ff 2.5px,#ffffff 3.5px,#ffffff 4.5px,#6effc4 5.5px,#85ffff 6.5px,#6dffc6 7.5px,#5cafff 8.5px,#7fffb4 9.5px,#5c98ff 10.5px,#63ffcf 11.5px,#5caeff 12.5px,#67ffcb 13.5px,#adcbff 14.5px,#5c94ff 15.5px,#53ffe0 16.5px,#69ffc9 17.5px,#ffffff 18.5px,#85ffff 19.5px,#85ffff 20.5px,#5cffd7 21.5px,#79ffb9 22.5px,#64ffcf 23.5px,#ffffff 24.5px,#ffffff 25.5px,#70ffc3 26.5px,#ffffff 27.5px,#adcbff 28.5px,#ffffff 29.5px,#ffffff 31.5px,#62ffd1 32.5px,#adcbff 33.5px,#ffffff 34.5px,#ffffff 113.5px,#66c4ff 114.5px,#33f9ff 115.5px,#33f9ff 116.5px,#51ffe2 117.5px,#33f9ff 118.5px,#51ffe2 119.5px,#51ffe2 123.5px,#33f9ff 124.5px,#51ffe2 125.5px,#51ffe2 127.5px,#95ff9d 128.5px,#d6ff5c 139.5px,#fff733 147.5px,#ff4933 177.5px,#fd3333 180.5px,#ff4c33 183.5px,#f33333 185.5px,#b93333 187.5px,#b43333 200.5px,#df3333 202.5px,#d93333 204.5px,#ff3533 207.5px,#ffe733 228.5px,#f6ff3c 235.5px,#bcff77 249.5px,#ffffff 250.5px,#ffffff 251.5px,#3383ff 252.5px,#a9ff89 253.5px,#338fff 254.5px,#33a0ff 255.5px,#9bff98 256.5px,#338cff 257.5px,#92ffa1 258.5px,#339bff 259.5px,#85ffff 260.5px,#88ffab 261.5px,#ffffff 262.5px,#81ffb1 263.5px,#85ffff 264.5px,#7cffb6 265.5px,#77ffbb 267.5px,#3364ff 268.5px,#336aff 269.5px,#71ffc2 270.5px);height:1px"></div><div style="background:linear-gradient(90deg,#78ffbb 0.5px,#b7ff7c 1.5px,#5c95ff 2.5px,#ffffff 3.5px,#ffffff 4.5px,#6effc4 5.5px,#ffffff 6.5px,#6dffc6 7.5px,#5cafff 8.5px,#7fffb4 9.5px,#5c98ff 10.5px,#64ffce 11.5px,#5caeff 12.5px,#67ffcb 13.5px,#adcbff 14.5px,#5c94ff 15.5px,#53ffe0 16.5px,#62ffd0 17.5px,#ffffff 18.5px,#85ffff 19.5px,#85ffff 20.5px,#5cffd7 21.5px,#79ffb9 22.5px,#64ffcf 23.5px,#ffffff 24.5px,#ffffff 25.5px,#adcbff 26.5px,#ffffff 27.5px,#adcbff 28.5px,#ffffff 29.5px,#ffffff 30.5px,#5c97ff 31.5px,#62ffd1 32.5px,#adcbff 33.5px,#ffffff 34.5px,#ffffff 114.5px,#33a5ff 115.5px,#33a5ff 116.5px,#33f9ff 117.5px,#33a5ff 118.5px,#33f9ff 119.5px,#33f9ff 123.5px,#33a5ff 124.5px,#33f9ff 125.5px,#33f9ff 127.5px,#8dffa6 128.5px,#bfff73 138.5px,#fbff37 147.5px,#ff4a33 177.5px,#fe3333 180.5px,#ff4d33 183.5px,#f63333 185.5px,#ba3333 187.5px,#b43333 200.5px,#df3333 202.5px,#d73333 204.5px,#ff3633 207.5px,#ffe333 227.5px,#f7ff3b 234.5px,#b7ff7b 249.5px,#ffffff 250.5px,#ffffff 251.5px,#3383ff 252.5px,#a5ff8e 253.5px,#338fff 254.5px,#33a0ff 255.5px,#97ff9c 256.5px,#338cff 257.5px,#8effa5 258.5px,#339bff 259.5px,#87ffab 260.5px,#84ffae 261.5px,#ffffff 262.5px,#7effb4 263.5px,#7cffb7 264.5px,#62ffd0 265.5px,#77ffbb 266.5px,#75ffbe 267.5px,#3364ff 268.5px,#336aff 269.5px,#62ffd0 270.5px);height:1px"></div><div style="background:linear-gradient(90deg,#78ffbb 0.5px,#b7ff7c 1.5px,#5c95ff 2.5px,#ffffff 3.5px,#76ffbd 4.5px,#6effc4 5.5px,#ffffff 6.5px,#85ffff 7.5px,#5cafff 8.5px,#85ffff 9.5px,#5c98ff 10.5px,#64ffce 11.5px,#5caeff 12.5px,#67ffcb 13.5px,#adcbff 14.5px,#80ffb3 15.5px,#adcbff 16.5px,#62ffd0 17.5px,#ffffff 18.5px,#85ffff 19.5px,#5c93ff 20.5px,#5cffd7 21.5px,#85ffff 22.5px,#6effc4 23.5px,#ffffff 24.5px,#ffffff 25.5px,#5c97ff 27.5px,#ffffff 29.5px,#ffffff 30.5px,#5c97ff 31.5px,#62ffd1 32.5px,#adcbff 33.5px,#ffffff 34.5px,#ffffff 114.5px,#3343ff 115.5px,#3343ff 116.5px,#33a5ff 117.5px,#3343ff 118.5px,#33a5ff 119.5px,#33a5ff 123.5px,#3343ff 124.5px,#33a5ff 125.5px,#33a5ff 127.5px,#84ffae 128.5px,#b3ff7f 138.5px,#e0ff53 144.5px,#fff733 150.5px,#ff4c33 177.5px,#fe3333 180.5px,#ff4f33 183.5px,#f93333 185.5px,#ba3333 187.5px,#b13333 198.5px,#b43333 200.5px,#df3333 202.5px,#d53333 204.5px,#ff3733 207.5px,#ffe633 227.5px,#f4ff3e 234.5px,#b3ff7f 249.5px,#ffffff 250.5px,#ffffff 251.5px,#3383ff 252.5px,#ffffff 253.5px,#338fff 254.5px,#33a0ff 255.5px,#92ffa1 256.5px,#338cff 257.5px,#62ffd0 258.5px,#339bff 259.5px,#62ffd0 260.5px,#81ffb2 261.5px,#ffffff 262.5px,#62ffd0 263.5px,#62ffd0 264.5px,#3366ff 265.5px,#62ffd0 266.5px,#62ffd0 267.5px,#3364ff 268.5px,#336aff 269.5px,#3ffff3 270.5px);height:1px"></div><div style="background:linear-gradient(90deg,#78ffbb 0.5px,#b7ff7c 1.5px,#ffffff 2.5px,#ffffff 3.5px,#76ffbd 4.5px,#ffffff 5.5px,#75ffbe 6.5px,#85ffff 7.5px,#5cafff 8.5px,#85ffff 9.5px,#5affd9 10.5px,#64ffce 11.5px,#ffffff 12.5px,#67ffcb 13.5px,#adcbff 14.5px,#80ffb3 15.5px,#adcbff 16.5px,#62ffd0 17.5px,#5caaff 18.5px,#85ffff 19.5px,#5c93ff 20.5px,#5cffd7 21.5px,#85ffff 22.5px,#6effc4 23.5px,#ffffff 24.5px,#ffffff 25.5px,#5c97ff 27.5px,#ffffff 29.5px,#5c97ff 31.5px,#62ffd1 32.5px,#adcbff 33.5px,#ffffff 34.5px,#ffffff 114.5px,#3343ff 115.5px,#3343ff 127.5px,#7cffb6 128.5px,#a8ff8b 138.5px,#cbff67 142.5px,#fff933 151.5px,#ff4e33 177.5px,#ff3333 180.5px,#ff5033 183.5px,#fb3333 185.5px,#bb3333 187.5px,#b13333 194.5px,#b43333 200.5px,#df3333 202.5px,#d33333 204.5px,#ff3833 207.5px,#ffe433 226.5px,#f6ff3d 233.5px,#dcff56 239.5px,#ffffff 240.5px,#d3ff60 241.5px,#ceff65 242.5px,#85ffff 243.5px,#c5ff6e 244.5px,#aaff88 250.5px,#ffffff 251.5px,#3383ff 252.5px,#ffffff 253.5px,#338fff 254.5px,#33a0ff 255.5px,#8effa5 256.5px,#89ffaa 257.5px,#3ffff3 258.5px,#339bff 259.5px,#3ffff3 260.5px,#62ffd0 261.5px,#ffffff 262.5px,#3ffff3 263.5px,#3ffff3 264.5px,#3366ff 265.5px,#3ffff3 266.5px,#3ffff3 267.5px,#3364ff 268.5px,#336aff 269.5px,#33a5ff 270.5px);height:1px"></div><div style="background:linear-gradient(90deg,#78ffbb 0.5px,#b5ff7e 1.5px,#ffffff 2.5px,#ffffff 3.5px,#76ffbd 4.5px,#ffffff 5.5px,#75ffbe 6.5px,#88ffab 7.5px,#81ffb1 8.5px,#85ffff 9.5px,#5affd9 10.5px,#64ffce 11.5px,#ffffff 12.5px,#67ffcb 13.5px,#85ffff 14.5px,#80ffb3 15.5px,#adcbff 16.5px,#62ffd0 17.5px,#5caaff 18.5px,#85ffff 19.5px,#5c93ff 20.5px,#5cffd7 21.5px,#85ffff 22.5px,#6effc4 23.5px,#6affc9 24.5px,#ffffff 25.5px,#5c97ff 27.5px,#ffffff 29.5px,#5c97ff 31.5px,#75ffbe 32.5px,#ffffff 33.5px,#ffffff 37.5px,#5fffd3 38.5px,#ffffff 39.5px,#ffffff 41.5px,#adcbff 42.5px,#ffffff 43.5px,#ffffff 114.5px,#3343ff 115.5px,#3343ff 127.5px,#75ffbe 128.5px,#9dff96 138.5px,#c1ff71 142.5px,#fffb33 152.5px,#ff4f33 177.5px,#ff3333 180.5px,#ff5233 183.5px,#fe3333 185.5px,#bc3333 187.5px,#b13333 192.5px,#b43333 200.5px,#df3333 202.5px,#d23333 204.5px,#ff3933 207.5px,#ffe833 226.5px,#f7ff3b 232.5px,#d8ff5b 239.5px,#ffffff 240.5px,#ceff64 241.5px,#c9ff69 242.5px,#85ffff 243.5px,#c0ff72 244.5px,#a6ff8d 250.5px,#ffffff 251.5px,#3383ff 252.5px,#ffffff 253.5px,#338fff 254.5px,#3354ff 255.5px,#89ffaa 256.5px,#84ffae 257.5px,#33a5ff 258.5px,#3343ff 259.5px,#3ffff3 261.5px,#33a5ff 262.5px,#33a5ff 264.5px,#3366ff 265.5px,#33a5ff 266.5px,#33a5ff 267.5px,#3343ff 268.5px,#336aff 269.5px,#3343ff 270.5px);height:1px"></div><div style="background:linear-gradient(90deg,#78ffbb 0.5px,#b5ff7e 1.5px,#ffffff 2.5px,#7affb8 3.5px,#76ffbd 4.5px,#ffffff 5.5px,#75ffbe 6.5px,#88ffab 7.5px,#81ffb1 8.5px,#ffffff 9.5px,#5affd9 10.5px,#85ffff 11.5px,#5cffd6 12.5px,#5c97ff 13.5px,#85ffff 14.5px,#80ffb3 15.5px,#ffffff 16.5px,#62ffd0 17.5px,#5caaff 18.5px,#85ffff 19.5px,#5c93ff 20.5px,#6cffc6 21.5px,#5cbbff 22.5px,#85ffff 23.5px,#6affc9 24.5px,#ffffff 25.5px,#5c97ff 27.5px,#67ffcb 28.5px,#ffffff 29.5px,#5c97ff 30.5px,#5c97ff 31.5px,#75ffbe 32.5px,#ffffff 33.5px,#ffffff 37.5px,#5fffd3 38.5px,#ffffff 39.5px,#ffffff 41.5px,#adcbff 42.5px,#ffffff 43.5px,#ffffff 114.5px,#3333e4 115.5px,#3333e4 127.5px,#6effc4 128.5px,#93ff9f 138.5px,#b8ff7a 142.5px,#fffc33 153.5px,#ff5133 177.5px,#ff3533 179.5px,#ff3d33 181.5px,#ff5333 183.5px,#ff3433 185.5px,#bd3333 187.5px,#b13333 191.5px,#b43333 200.5px,#df3333 202.5px,#d13333 204.5px,#f93333 206.5px,#ffe733 225.5px,#f7ff3b 231.5px,#d3ff60 239.5px,#ffffff 240.5px,#c9ff69 241.5px,#c4ff6e 242.5px,#85ffff 243.5px,#bbff77 244.5px,#a1ff92 250.5px,#ffffff 251.5px,#98ff9b 252.5px,#3373ff 253.5px,#8effa5 254.5px,#3354ff 255.5px,#84ffae 256.5px,#80ffb3 257.5px,#3343ff 258.5px,#3343ff 260.5px,#33a5ff 261.5px,#3343ff 262.5px,#3343ff 270.5px);height:1px"></div><div style="background:linear-gradient(90deg,#78ffbb 0.5px,#b5ff7e 1.5px,#5ca9ff 2.5px,#7affb8 3.5px,#76ffbd 4.5px,#ffffff 5.5px,#75ffbe 6.5px,#88ffab 7.5px,#81ffb1 8.5px,#ffffff 9.5px,#5affd9 10.5px,#85ffff 11.5px,#5cffd6 12.5px,#5c97ff 13.5px,#85ffff 14.5px,#80ffb3 15.5px,#ffffff 16.5px,#5bffd8 17.5px,#5caaff 18.5px,#85ffff 19.5px,#5c93ff 20.5px,#6cffc6 21.5px,#5cbbff 22.5px,#85ffff 23.5px,#6affc9 24.5px,#ffffff 25.5px,#ffffff 26.5px,#5c97ff 27.5px,#67ffcb 28.5px,#ffffff 29.5px,#5c97ff 30.5px,#ffffff 31.5px,#75ffbe 32.5px,#ffffff 33.5px,#ffffff 37.5px,#5fffd3 38.5px,#64ffce 39.5px,#ffffff 40.5px,#ffffff 41.5px,#adcbff 42.5px,#ffffff 43.5px,#ffffff 127.5px,#69ffc9 128.5px,#8bffa7 138.5px,#acff87 141.5px,#e1ff52 150.5px,#fff433 155.5px,#ff5d33 176.5px,#ff3533 179.5px,#ff3e33 181.5px,#ff5433 183.5px,#ff3533 185.5px,#be3333 187.5px,#b13333 190.5px,#b53333 200.5px,#de3333 202.5px,#d13333 204.5px,#fa3333 206.5px,#ffed33 225.5px,#f5ff3d 230.5px,#d1ff61 238.5px,#ffffff 239.5px,#ffffff 240.5px,#c3ff70 241.5px,#beff74 242.5px,#85ffff 243.5px,#b5ff7d 244.5px,#92ffa0 252.5px,#3373ff 253.5px,#89ffaa 254.5px,#3354ff 255.5px,#80ffb3 256.5px,#7bffb7 257.5px,#3343ff 258.5px,#3343ff 270.5px);height:1px"></div><div style="background:linear-gradient(90deg,#78ffbb 0.5px,#b5ff7e 1.5px,#5ca9ff 2.5px,#7affb8 3.5px,#76ffbd 4.5px,#5c9aff 5.5px,#85ffff 6.5px,#88ffab 7.5px,#ffffff 8.5px,#5ca5ff 9.5px,#5affd9 10.5px,#85ffff 11.5px,#5cffd6 12.5px,#5c97ff 13.5px,#7dffb5 14.5px,#80ffb3 15.5px,#ffffff 16.5px,#5bffd8 17.5px,#5caaff 18.5px,#6fffc4 19.5px,#7cffb6 20.5px,#6cffc6 21.5px,#5cbbff 22.5px,#85ffff 23.5px,#6affc9 24.5px,#71ffc1 25.5px,#ffffff 26.5px,#71ffc1 27.5px,#67ffcb 28.5px,#adcbff 29.5px,#5c97ff 30.5px,#ffffff 31.5px,#75ffbe 32.5px,#ffffff 33.5px,#ffffff 35.5px,#5c97ff 36.5px,#ffffff 37.5px,#5fffd3 38.5px,#64ffce 39.5px,#ffffff 40.5px,#ffffff 41.5px,#adcbff 42.5px,#54ffde 43.5px,#ffffff 44.5px,#ffffff 127.5px,#65ffcd 128.5px,#85ffad 138.5px,#a5ff8d 141.5px,#d9ff59 150.5px,#fffb33 155.5px,#ff5e33 176.5px,#ff3533 179.5px,#ff3e33 181.5px,#ff5433 183.5px,#ff3633 185.5px,#be3333 187.5px,#b13333 190.5px,#b53333 200.5px,#de3333 202.5px,#d13333 204.5px,#fb3333 206.5px,#fff533 225.5px,#dbff57 234.5px,#caff68 238.5px,#ffffff 239.5px,#ffffff 240.5px,#bcff77 241.5px,#b7ff7b 242.5px,#85ffff 243.5px,#3368ff 244.5px,#abff88 245.5px,#85ffff 246.5px,#a2ff90 247.5px,#84ffaf 254.5px,#3354ff 255.5px,#7bffb8 256.5px,#76ffbc 257.5px,#3333e4 258.5px,#3333e4 270.5px);height:1px"></div><div style="background:linear-gradient(90deg,#78ffbb 0.5px,#b9ff79 1.5px,#5ca9ff 2.5px,#7affb8 3.5px,#ffffff 4.5px,#5c9aff 5.5px,#85ffff 6.5px,#61ffd2 7.5px,#ffffff 8.5px,#5ca5ff 9.5px,#5affd9 10.5px,#85ffff 11.5px,#5cffd6 12.5px,#5c97ff 13.5px,#7dffb5 14.5px,#7cffb6 15.5px,#85ffff 16.5px,#5bffd8 17.5px,#5cb8ff 18.5px,#6fffc4 19.5px,#7cffb6 20.5px,#6cffc6 21.5px,#5cbbff 22.5px,#ffffff 23.5px,#6affc9 24.5px,#71ffc1 25.5px,#ffffff 26.5px,#71ffc1 27.5px,#ffffff 28.5px,#5c97ff 30.5px,#ffffff 31.5px,#75ffbe 32.5px,#ffffff 33.5px,#ffffff 35.5px,#5c97ff 36.5px,#ffffff 37.5px,#5fffd3 38.5px,#64ffce 39.5px,#ffffff 40.5px,#ffffff 42.5px,#54ffde 43.5px,#ffffff 44.5px,#ffffff 127.5px,#63ffcf 128.5px,#51ffe2 129.5px,#67ffcb 130.5px,#51ffe2 131.5px,#51ffe2 132.5px,#6dffc5 133.5px,#74ffbf 136.5px,#51ffe2 137.5px,#81ffb2 138.5px,#a4ff8f 142.5px,#d2ff60 150.5px,#fffb33 156.5px,#ff5e33 176.5px,#ff3633 179.5px,#ff3f33 181.5px,#ff5533 183.5px,#ff3733 185.5px,#bf3333 187.5px,#b13333 190.5px,#b63333 200.5px,#de3333 202.5px,#d13333 204.5px,#fc3333 206.5px,#fff833 224.5px,#c2ff71 238.5px,#ffffff 239.5px,#b9ff7a 240.5px,#afff83 242.5px,#85ffff 243.5px,#3368ff 244.5px,#a3ff8f 245.5px,#85ffff 246.5px,#9cff97 247.5px,#98ff9b 248.5px,#85ffff 249.5px,#8fffa3 250.5px,#7effb4 254.5px,#3354ff 255.5px,#ffffff 256.5px,#71ffc1 257.5px,#ffffff 258.5px,#ffffff 263.5px,#66c4ff 264.5px,#ffffff 265.5px,#a4ffea 266.5px,#ffffff 267.5px,#66c7ff 268.5px,#ffffff 269.5px,#ffffff 270.5px);height:1px"></div><div style="background:linear-gradient(90deg,#78ffbb 0.5px,#b9ff79 1.5px,#5ca9ff 2.5px,#7affb8 3.5px,#ffffff 4.5px,#5c9aff 5.5px,#85ffff 6.5px,#61ffd2 7.5px,#ffffff 8.5px,#5ca5ff 9.5px,#66ffcc 10.5px,#85ffff 11.5px,#5cffd6 12.5px,#5c97ff 13.5px,#7dffb5 14.5px,#7cffb6 15.5px,#85ffff 16.5px,#81ffb2 17.5px,#5cb8ff 18.5px,#6fffc4 19.5px,#7cffb6 20.5px,#6cffc6 21.5px,#5cbbff 22.5px,#ffffff 23.5px,#6affc9 24.5px,#71ffc1 25.5px,#ffffff 26.5px,#71ffc1 27.5px,#ffffff 28.5px,#5c97ff 30.5px,#ffffff 31.5px,#5c97ff 32.5px,#ffffff 33.5px,#ffffff 35.5px,#5c97ff 36.5px,#ffffff 37.5px,#5fffd3 38.5px,#64ffce 39.5px,#ffffff 40.5px,#ffffff 42.5px,#54ffde 43.5px,#ffffff 44.5px,#ffffff 127.5px,#51ffe2 128.5px,#33f9ff 129.5px,#51ffe2 130.5px,#33f9ff 131.5px,#33f9ff 132.5px,#51ffe2 133.5px,#51ffe2 136.5px,#33f9ff 137.5px,#51ffe2 138.5px,#51ffe2 139.5px,#96ff9d 140.5px,#cbff67 150.5px,#fffa33 157.5px,#ff5333 177.5px,#ff3633 179.5px,#ff3f33 181.5px,#ff5533 183.5px,#ff3733 185.5px,#bf3333 187.5px,#b13333 190.5px,#b73333 200.5px,#de3333 202.5px,#d23333 204.5px,#fe3333 206.5px,#fff833 223.5px,#b9ff7a 238.5px,#ffffff 239.5px,#b0ff83 240.5px,#a3ff8f 243.5px,#3368ff 244.5px,#9cff97 245.5px,#85ffff 246.5px,#3368ff 247.5px,#91ffa2 248.5px,#85ffff 249.5px,#89ffaa 250.5px,#85ffff 251.5px,#62ffd0 252.5px,#7dffb6 253.5px,#79ffba 254.5px,#3354ff 255.5px,#ffffff 256.5px,#6cffc6 257.5px,#ffffff 258.5px,#ffffff 259.5px,#8fbeff 260.5px,#ffffff 261.5px,#ffffff 263.5px,#66c4ff 264.5px,#ffffff 265.5px,#a4ffea 266.5px,#ffffff 267.5px,#66c7ff 268.5px,#ffffff 269.5px,#8fb1ff 270.5px);height:1px"></div><div style="background:linear-gradient(90deg,#78ffbb 0.5px,#b9ff79 1.5px,#5ca9ff 2.5px,#7affb8 3.5px,#ffffff 4.5px,#5c9aff 5.5px,#85ffff 6.5px,#61ffd2 7.5px,#ffffff 8.5px,#5ca5ff 9.5px,#66ffcc 10.5px,#5caeff 11.5px,#5cffd6 12.5px,#5c97ff 13.5px,#7dffb5 14.5px,#7cffb6 15.5px,#85ffff 16.5px,#81ffb2 17.5px,#5cb8ff 18.5px,#6fffc4 19.5px,#adcbff 20.5px,#6cffc6 21.5px,#6affc8 22.5px,#ffffff 23.5px,#ffffff 24.5px,#71ffc1 25.5px,#ffffff 26.5px,#ffffff 28.5px,#5c97ff 30.5px,#78ffba 31.5px,#5c97ff 32.5px,#ffffff 33.5px,#ffffff 35.5px,#5c97ff 36.5px,#ffffff 37.5px,#ffffff 42.5px,#54ffde 43.5px,#ffffff 44.5px,#ffffff 127.5px,#33f9ff 128.5px,#33a5ff 129.5px,#33f9ff 130.5px,#33a5ff 131.5px,#33a5ff 132.5px,#33f9ff 133.5px,#33f9ff 136.5px,#33a5ff 137.5px,#33f9ff 138.5px,#33f9ff 139.5px,#91ffa1 140.5px,#bcff76 149.5px,#fff933 158.5px,#ff5333 177.5px,#ff3633 179.5px,#ff3f33 181.5px,#ff5533 183.5px,#ff3733 185.5px,#c03333 187.5px,#b13333 189.5px,#b83333 200.5px,#dd3333 202.5px,#d33333 204.5px,#ff3333 206.5px,#fff833 222.5px,#9fff94 242.5px,#9bff98 243.5px,#3368ff 244.5px,#94ff9f 245.5px,#85ffff 246.5px,#3368ff 247.5px,#89ffa9 248.5px,#85ffff 249.5px,#62ffd0 250.5px,#85ffff 251.5px,#85ffff 252.5px,#62ffd0 253.5px,#73ffc0 254.5px,#85ffff 255.5px,#ffffff 256.5px,#67ffcb 257.5px,#ffffff 258.5px,#ffffff 259.5px,#8fbeff 260.5px,#ffffff 261.5px,#ffffff 263.5px,#66c4ff 264.5px,#ffffff 265.5px,#a4ffea 266.5px,#ffffff 267.5px,#66c7ff 268.5px,#ffffff 269.5px,#8fb1ff 270.5px);height:1px"></div><div style="background:linear-gradient(90deg,#78ffbb 0.5px,#b9ff79 1.5px,#5ca9ff 2.5px,#ffffff 3.5px,#ffffff 4.5px,#5c96ff 5.5px,#85ffff 6.5px,#5ca0ff 7.5px,#ffffff 8.5px,#5ca5ff 9.5px,#54ffde 10.5px,#5caeff 11.5px,#5cb6ff 12.5px,#85ffff 13.5px,#7dffb5 14.5px,#85ffff 15.5px,#85ffff 16.5px,#81ffb2 17.5px,#6effc5 18.5px,#5c9eff 19.5px,#adcbff 20.5px,#adcbff 21.5px,#6affc8 22.5px,#ffffff 23.5px,#ffffff 27.5px,#5c97ff 28.5px,#ffffff 29.5px,#ffffff 30.5px,#78ffba 31.5px,#5c97ff 32.5px,#ffffff 33.5px,#ffffff 35.5px,#6affc8 36.5px,#ffffff 37.5px,#ffffff 42.5px,#54ffde 43.5px,#ffffff 44.5px,#ffffff 127.5px,#33a5ff 128.5px,#3343ff 129.5px,#33a5ff 130.5px,#3343ff 131.5px,#3343ff 132.5px,#33a5ff 133.5px,#33a5ff 136.5px,#3343ff 137.5px,#33a5ff 138.5px,#33a5ff 139.5px,#8dffa6 140.5px,#b6ff7c 149.5px,#fffe33 158.5px,#ff5333 177.5px,#ff3633 179.5px,#ff3f33 181.5px,#ff5533 183.5px,#ff3633 185.5px,#c03333 187.5px,#b13333 189.5px,#b93333 200.5px,#dd3333 202.5px,#d53333 204.5px,#ff3533 206.5px,#fff633 221.5px,#bdff76 232.5px,#8cffa7 245.5px,#85ffff 246.5px,#3368ff 247.5px,#82ffb0 248.5px,#7fffb4 249.5px,#3ffff3 250.5px,#85ffff 251.5px,#85ffff 252.5px,#3ffff3 253.5px,#62ffd0 254.5px,#85ffff 255.5px,#ffffff 256.5px,#62ffd0 257.5px,#ffffff 258.5px,#ffffff 259.5px,#8fbeff 260.5px,#ffffff 261.5px,#ffffff 263.5px,#66c4ff 264.5px,#ffffff 265.5px,#a4ffea 266.5px,#ffffff 267.5px,#66c7ff 268.5px,#ffffff 269.5px,#8fb1ff 270.5px);height:1px"></div><div style="background:linear-gradient(90deg,#78ffbb 0.5px,#cbff68 1.5px,#85ffff 2.5px,#ffffff 3.5px,#67ffcb 4.5px,#5c96ff 5.5px,#85ffff 6.5px,#5ca0ff 7.5px,#5c90ff 8.5px,#5ca5ff 9.5px,#54ffde 10.5px,#5caeff 11.5px,#5cb6ff 12.5px,#85ffff 13.5px,#76ffbd 14.5px,#85ffff 15.5px,#ffffff 16.5px,#81ffb2 17.5px,#6effc5 18.5px,#5c9eff 19.5px,#adcbff 20.5px,#adcbff 21.5px,#6affc8 22.5px,#ffffff 23.5px,#ffffff 27.5px,#5c97ff 28.5px,#ffffff 29.5px,#ffffff 30.5px,#78ffba 31.5px,#ffffff 32.5px,#ffffff 35.5px,#6affc8 36.5px,#ffffff 37.5px,#ffffff 42.5px,#5c97ff 43.5px,#ffffff 44.5px,#ffffff 127.5px,#3343ff 128.5px,#3343ff 139.5px,#89ffaa 140.5px,#b0ff83 149.5px,#fffc33 159.5px,#ff5333 177.5px,#ff3633 179.5px,#ff3f33 181.5px,#ff5533 183.5px,#ff3633 185.5px,#c03333 187.5px,#b13333 189.5px,#ba3333 200.5px,#dd3333 202.5px,#d63333 204.5px,#ff3633 206.5px,#feff34 221.5px,#c3ff6f 229.5px,#a6ff8d 235.5px,#3361ff 236.5px,#9fff94 237.5px,#98ff9b 239.5px,#85ffff 240.5px,#91ffa2 241.5px,#ffffff 242.5px,#8affa9 243.5px,#81ffb2 246.5px,#3368ff 247.5px,#7bffb8 248.5px,#78ffbb 249.5px,#33a5ff 250.5px,#85ffff 251.5px,#85ffff 252.5px,#33a5ff 253.5px,#3ffff3 254.5px,#33a5ff 255.5px,#ffffff 256.5px,#3ffff3 257.5px,#ffffff 258.5px,#ffffff 259.5px,#8fbeff 260.5px,#ffffff 261.5px,#ffffff 263.5px,#66c4ff 264.5px,#ffffff 265.5px,#a4ffea 266.5px,#ffffff 267.5px,#66c7ff 268.5px,#ffffff 269.5px,#8fb1ff 270.5px);height:1px"></div><div style="background:linear-gradient(90deg,#78ffbb 0.5px,#cbff68 1.5px,#85ffff 2.5px,#ffffff 3.5px,#67ffcb 4.5px,#5c96ff 5.5px,#85ffff 6.5px,#5ca0ff 7.5px,#5c90ff 8.5px,#7cffb6 9.5px,#54ffde 10.5px,#5caeff 11.5px,#5cb6ff 12.5px,#85ffff 13.5px,#76ffbd 14.5px,#85ffff 15.5px,#ffffff 16.5px,#ffffff 17.5px,#6effc5 18.5px,#5c9eff 19.5px,#5c99ff 20.5px,#adcbff 21.5px,#6affc8 22.5px,#6bffc7 23.5px,#ffffff 24.5px,#ffffff 27.5px,#5c97ff 28.5px,#ffffff 29.5px,#ffffff 30.5px,#78ffba 31.5px,#ffffff 32.5px,#ffffff 35.5px,#6affc8 36.5px,#ffffff 37.5px,#ffffff 42.5px,#5c97ff 43.5px,#ffffff 44.5px,#ffffff 127.5px,#3343ff 128.5px,#3343ff 139.5px,#85ffae 140.5px,#aaff89 149.5px,#fff933 160.5px,#ff6133 176.5px,#ff3633 179.5px,#ff3f33 181.5px,#ff5533 183.5px,#ff3633 185.5px,#c13333 187.5px,#b13333 189.5px,#b23333 199.5px,#dc3333 202.5px,#d73333 204.5px,#ff3833 206.5px,#fffe33 220.5px,#bfff74 228.5px,#9bff98 235.5px,#3361ff 236.5px,#95ff9e 237.5px,#8fffa4 239.5px,#85ffff 240.5px,#88ffab 241.5px,#ffffff 242.5px,#82ffb1 243.5px,#79ffb9 246.5px,#3368ff 247.5px,#74ffbf 248.5px,#71ffc2 249.5px,#3343ff 250.5px,#3343ff 253.5px,#33a5ff 254.5px,#3343ff 255.5px,#3343ff 256.5px,#33a5ff 257.5px,#ffffff 258.5px,#ffffff 259.5px,#8fbeff 260.5px,#ffffff 261.5px,#ffffff 263.5px,#66c4ff 264.5px,#ffffff 265.5px,#a4ffea 266.5px,#ffffff 267.5px,#66c7ff 268.5px,#ffffff 269.5px,#8fb1ff 270.5px);height:1px"></div><div style="background:linear-gradient(90deg,#78ffbb 0.5px,#d6ff5d 1.5px,#85ffff 2.5px,#54ffde 3.5px,#83ffb0 5.5px,#85ffff 6.5px,#85ffff 7.5px,#63ffcf 8.5px,#7cffb6 9.5px,#54ffde 10.5px,#5caeff 11.5px,#5cb6ff 12.5px,#85ffff 13.5px,#76ffbd 14.5px,#85ffff 15.5px,#85ffff 16.5px,#ffffff 17.5px,#5c9aff 18.5px,#5c99ff 20.5px,#adcbff 21.5px,#6affc8 22.5px,#62ffd1 24.5px,#ffffff 25.5px,#ffffff 26.5px,#5c97ff 27.5px,#5c97ff 28.5px,#ffffff 29.5px,#ffffff 34.5px,#6bffc7 35.5px,#6affc8 36.5px,#ffffff 37.5px,#ffffff 42.5px,#6cffc7 43.5px,#ffffff 44.5px,#ffffff 127.5px,#3333e4 128.5px,#3333e4 139.5px,#81ffb2 140.5px,#a4ff8f 149.5px,#fffe33 160.5px,#ff6133 176.5px,#ff3633 179.5px,#ff3f33 181.5px,#ff5533 183.5px,#ff3633 185.5px,#c13333 187.5px,#b13333 189.5px,#b23333 199.5px,#dc3333 202.5px,#d83333 204.5px,#ff3a33 206.5px,#fffb33 219.5px,#bbff78 227.5px,#91ffa2 235.5px,#337bff 236.5px,#8bffa8 237.5px,#85ffae 239.5px,#85ffff 240.5px,#7fffb4 241.5px,#ffffff 242.5px,#79ffb9 243.5px,#71ffc1 246.5px,#3368ff 247.5px,#6cffc6 248.5px,#6affc9 249.5px,#3343ff 250.5px,#3343ff 257.5px,#ffffff 258.5px,#ffffff 259.5px,#8fbeff 260.5px,#ffffff 261.5px,#ffffff 263.5px,#66c4ff 264.5px,#ffffff 265.5px,#a4ffea 266.5px,#ffffff 267.5px,#66c7ff 268.5px,#ffffff 269.5px,#8fb1ff 270.5px);height:1px"></div><div style="background:linear-gradient(90deg,#78ffbb 0.5px,#d6ff5d 1.5px,#85ffff 2.5px,#54ffde 3.5px,#54ffde 4.5px,#83ffb0 5.5px,#68ffca 6.5px,#85ffff 7.5px,#63ffcf 8.5px,#7cffb6 9.5px,#7cffb6 10.5px,#ffffff 11.5px,#5cb6ff 12.5px,#85ffff 13.5px,#76ffbd 14.5px,#5ca2ff 15.5px,#85ffff 16.5px,#ffffff 17.5px,#5c9aff 18.5px,#5c9eff 19.5px,#ffffff 20.5px,#adcbff 21.5px,#6fffc3 22.5px,#62ffd1 24.5px,#ffffff 25.5px,#ffffff 26.5px,#5c97ff 27.5px,#ffffff 28.5px,#ffffff 32.5px,#5dffd5 33.5px,#ffffff 34.5px,#6bffc7 35.5px,#5bffd7 37.5px,#ffffff 38.5px,#ffffff 42.5px,#6cffc7 43.5px,#ffffff 44.5px,#ffffff 138.5px,#66d2ff 139.5px,#7dffb6 140.5px,#9eff95 149.5px,#fffa33 161.5px,#ff6133 176.5px,#ff3633 179.5px,#ff3f33 181.5px,#ff5533 183.5px,#ff3633 185.5px,#c23333 187.5px,#b13333 189.5px,#b23333 199.5px,#db3333 202.5px,#da3333 204.5px,#ff3b33 206.5px,#fff833 218.5px,#b1ff82 227.5px,#86ffad 235.5px,#337bff 236.5px,#81ffb2 237.5px,#85ffff 238.5px,#85ffff 240.5px,#76ffbc 241.5px,#ffffff 242.5px,#71ffc2 243.5px,#63ffd0 249.5px,#3333e4 250.5px,#3333e4 257.5px,#ffffff 258.5px,#ffffff 259.5px,#8fbeff 260.5px,#ffffff 261.5px,#ffffff 263.5px,#66c4ff 264.5px,#ffffff 265.5px,#ffffff 269.5px,#8fb1ff 270.5px);height:1px"></div><div style="background:linear-gradient(90deg,#78ffbb 0.5px,#d6ff5d 1.5px,#85ffff 2.5px,#54ffde 3.5px,#54ffde 4.5px,#83ffb0 5.5px,#68ffca 6.5px,#85ffff 7.5px,#63ffcf 8.5px,#7cffb6 9.5px,#7cffb6 10.5px,#ffffff 11.5px,#82ffb0 12.5px,#adcbff 13.5px,#83ffb0 14.5px,#5ca2ff 15.5px,#85ffff 16.5px,#ffffff 17.5px,#85ffff 18.5px,#5c9eff 19.5px,#ffffff 20.5px,#adcbff 21.5px,#6fffc3 22.5px,#62ffd1 24.5px,#ffffff 25.5px,#ffffff 26.5px,#5c97ff 27.5px,#ffffff 28.5px,#ffffff 31.5px,#5dffd6 32.5px,#5dffd5 33.5px,#ffffff 34.5px,#ffffff 36.5px,#5bffd7 37.5px,#ffffff 38.5px,#ffffff 42.5px,#6cffc7 43.5px,#ffffff 44.5px,#ffffff 46.5px,#5c97ff 47.5px,#ffffff 48.5px,#ffffff 138.5px,#66d2ff 139.5px,#79ffba 140.5px,#98ff9b 149.5px,#fffe33 161.5px,#ff6f33 175.5px,#ff3633 179.5px,#ff3f33 181.5px,#ff5533 183.5px,#ff3633 185.5px,#c23333 187.5px,#b13333 189.5px,#b33333 199.5px,#db3333 202.5px,#db3333 204.5px,#ff3d33 206.5px,#fdff35 218.5px,#adff85 226.5px,#7bffb7 235.5px,#337bff 236.5px,#77ffbc 237.5px,#85ffff 238.5px,#85ffff 240.5px,#6dffc5 241.5px,#ffffff 242.5px,#68ffca 243.5px,#5cffd7 249.5px,#ffffff 250.5px,#ffffff 251.5px,#66b4ff 252.5px,#6686ff 253.5px,#6684ff 254.5px,#ffffff 255.5px,#ffffff 263.5px,#66c4ff 264.5px,#ffffff 265.5px,#ffffff 269.5px,#8fb1ff 270.5px);height:1px"></div><div style="background:linear-gradient(90deg,#78ffbb 0.5px,#d6ff5d 1.5px,#85ffff 2.5px,#54ffde 3.5px,#54ffde 4.5px,#83ffb0 5.5px,#68ffca 6.5px,#85ffff 7.5px,#adcbff 8.5px,#7cffb6 9.5px,#7cffb6 10.5px,#85ffff 11.5px,#82ffb0 12.5px,#adcbff 13.5px,#83ffb0 14.5px,#5ca2ff 15.5px,#85ffff 16.5px,#85ffff 18.5px,#5cb1ff 19.5px,#ffffff 20.5px,#adcbff 21.5px,#6fffc3 22.5px,#62ffd1 24.5px,#adcbff 25.5px,#ffffff 26.5px,#5c97ff 27.5px,#ffffff 28.5px,#ffffff 31.5px,#5dffd6 32.5px,#5dffd5 33.5px,#ffffff 34.5px,#ffffff 36.5px,#5bffd7 37.5px,#ffffff 38.5px,#ffffff 42.5px,#6cffc7 43.5px,#ffffff 44.5px,#ffffff 46.5px,#5c97ff 47.5px,#ffffff 48.5px,#ffffff 138.5px,#66d2ff 139.5px,#75ffbe 140.5px,#92ffa1 149.5px,#fff933 162.5px,#ff7033 175.5px,#ff3633 179.5px,#ff3f33 181.5px,#ff5533 183.5px,#ff3533 185.5px,#c23333 187.5px,#b13333 189.5px,#b33333 199.5px,#db3333 202.5px,#d33333 203.5px,#dc3333 204.5px,#f63333 205.5px,#ff9133 211.5px,#fff933 217.5px,#a4ff8f 226.5px,#71ffc2 235.5px,#337bff 236.5px,#6dffc6 237.5px,#85ffff 238.5px,#69ffca 239.5px,#85ffff 240.5px,#3357ff 241.5px,#ffffff 242.5px,#60ffd2 243.5px,#56ffdc 248.5px,#ffffff 249.5px,#ffffff 251.5px,#66b4ff 252.5px,#6686ff 253.5px,#6684ff 254.5px,#ffffff 255.5px,#ffffff 260.5px,#8fddff 261.5px,#ffffff 262.5px,#ffffff 263.5px,#66c4ff 264.5px,#ffffff 265.5px,#ffffff 269.5px,#8ff3ff 270.5px);height:1px"></div><div style="background:linear-gradient(90deg,#78ffbb 0.5px,#d6ff5d 1.5px,#85ffff 2.5px,#54ffde 3.5px,#54ffde 4.5px,#ffffff 5.5px,#68ffca 6.5px,#85ffff 7.5px,#adcbff 8.5px,#7cffb6 9.5px,#7cffb6 10.5px,#85ffff 11.5px,#82ffb0 12.5px,#ffffff 13.5px,#83ffb0 14.5px,#5ca2ff 15.5px,#85ffff 16.5px,#85ffff 18.5px,#5cb1ff 19.5px,#ffffff 20.5px,#adcbff 21.5px,#6fffc3 22.5px,#59ffd9 24.5px,#adcbff 25.5px,#ffffff 26.5px,#5c97ff 27.5px,#ffffff 29.5px,#ffffff 32.5px,#5dffd6 33.5px,#ffffff 34.5px,#63ffcf 35.5px,#ffffff 36.5px,#5bffd7 37.5px,#ffffff 38.5px,#ffffff 42.5px,#75ffbd 43.5px,#ffffff 44.5px,#ffffff 46.5px,#5c97ff 47.5px,#ffffff 48.5px,#ffffff 138.5px,#66d2ff 139.5px,#51ffe2 140.5px,#51ffe2 147.5px,#83ffb0 148.5px,#fffd33 162.5px,#ff7f33 174.5px,#ff3633 179.5px,#ff3f33 181.5px,#ff5533 183.5px,#ff3533 185.5px,#c33333 187.5px,#b13333 189.5px,#b33333 199.5px,#d63333 201.5px,#d33333 203.5px,#dd3333 204.5px,#f83333 205.5px,#ff9533 211.5px,#fdff35 217.5px,#a0ff92 225.5px,#66ffcc 235.5px,#337bff 236.5px,#63ffd0 237.5px,#85ffff 238.5px,#5fffd3 239.5px,#5dffd5 240.5px,#3357ff 241.5px,#59ffd9 242.5px,#57ffdb 243.5px,#3ffff3 244.5px,#54ffde 245.5px,#52ffe0 246.5px,#3ffff3 247.5px,#4fffe3 248.5px,#ffffff 249.5px,#ffffff 251.5px,#66b4ff 252.5px,#6686ff 253.5px,#6684ff 254.5px,#ffffff 255.5px,#90fffe 256.5px,#ffffff 257.5px,#ffffff 260.5px,#8fddff 261.5px,#ffffff 262.5px,#ffffff 263.5px,#66c4ff 264.5px,#ffffff 265.5px,#ffffff 269.5px,#8ff3ff 270.5px);height:1px"></div><div style="background:linear-gradient(90deg,#78ffbb 0.5px,#b8ff7a 1.5px,#85ffff 2.5px,#54ffde 3.5px,#54ffde 4.5px,#ffffff 5.5px,#ffffff 6.5px,#85ffff 7.5px,#adcbff 8.5px,#7fffb3 9.5px,#7cffb6 10.5px,#85ffff 11.5px,#64ffcf 12.5px,#ffffff 13.5px,#83ffb0 14.5px,#5ca2ff 15.5px,#ffffff 16.5px,#ffffff 17.5px,#85ffff 18.5px,#ffffff 19.5px,#ffffff 20.5px,#adcbff 21.5px,#67ffcc 22.5px,#87ffac 23.5px,#59ffd9 24.5px,#adcbff 25.5px,#ffffff 26.5px,#adcbff 27.5px,#adcbff 28.5px,#ffffff 29.5px,#ffffff 32.5px,#5dffd6 33.5px,#63ffcf 35.5px,#ffffff 36.5px,#67ffcb 37.5px,#ffffff 38.5px,#ffffff 42.5px,#75ffbd 43.5px,#ffffff 44.5px,#ffffff 46.5px,#5c97ff 47.5px,#ffffff 48.5px,#ffffff 138.5px,#66d2ff 139.5px,#33f9ff 140.5px,#33f9ff 147.5px,#7dffb6 148.5px,#fff733 163.5px,#ff8033 174.5px,#ff3633 179.5px,#ff3f33 181.5px,#ff5533 183.5px,#ff3533 185.5px,#c33333 187.5px,#b13333 189.5px,#b33333 199.5px,#d73333 201.5px,#d23333 203.5px,#fa3333 205.5px,#ff9933 211.5px,#fff833 216.5px,#97ff9c 225.5px,#5cffd7 235.5px,#337bff 236.5px,#59ffda 237.5px,#57ffdb 238.5px,#3ffff3 239.5px,#3ffff3 240.5px,#3357ff 241.5px,#51ffe2 242.5px,#4fffe3 243.5px,#33a5ff 244.5px,#3ffff3 245.5px,#3ffff3 246.5px,#33a5ff 247.5px,#3ffff3 248.5px,#ffffff 249.5px,#ffffff 251.5px,#66b4ff 252.5px,#6686ff 253.5px,#6684ff 254.5px,#8ff5ff 255.5px,#90fffe 256.5px,#ffffff 257.5px,#ffffff 260.5px,#8fddff 261.5px,#ffffff 262.5px,#ffffff 269.5px,#8ff3ff 270.5px);height:1px"></div><div style="background:linear-gradient(90deg,#78ffbb 0.5px,#b8ff7a 1.5px,#85ffff 2.5px,#72ffc1 3.5px,#68ffcb 4.5px,#ffffff 5.5px,#ffffff 6.5px,#5affd8 7.5px,#adcbff 8.5px,#7fffb3 9.5px,#7cffb6 10.5px,#5c9fff 11.5px,#64ffcf 12.5px,#ffffff 13.5px,#6cffc6 14.5px,#ffffff 15.5px,#ffffff 17.5px,#85ffff 18.5px,#ffffff 19.5px,#85ffff 20.5px,#adcbff 21.5px,#67ffcc 22.5px,#87ffac 23.5px,#ffffff 24.5px,#adcbff 25.5px,#71ffc2 26.5px,#adcbff 27.5px,#adcbff 28.5px,#ffffff 29.5px,#ffffff 32.5px,#5dffd6 33.5px,#63ffcf 35.5px,#ffffff 36.5px,#67ffcb 37.5px,#ffffff 38.5px,#ffffff 42.5px,#75ffbd 43.5px,#ffffff 44.5px,#ffffff 46.5px,#5c97ff 47.5px,#ffffff 48.5px,#ffffff 138.5px,#66d2ff 139.5px,#33a5ff 140.5px,#33a5ff 147.5px,#77ffbc 148.5px,#fffb33 163.5px,#ff8233 174.5px,#ff3633 179.5px,#ff3f33 181.5px,#ff5533 183.5px,#ff3533 185.5px,#c33333 187.5px,#b13333 189.5px,#b33333 199.5px,#d83333 201.5px,#d23333 203.5px,#fc3333 205.5px,#ff8833 210.5px,#ffff33 216.5px,#9fff94 223.5px,#51ffe1 235.5px,#4dffe5 238.5px,#33a5ff 239.5px,#33a5ff 240.5px,#3357ff 241.5px,#3ffff3 242.5px,#3ffff3 243.5px,#3343ff 244.5px,#33a5ff 245.5px,#33a5ff 246.5px,#3343ff 247.5px,#33a5ff 248.5px,#ffffff 249.5px,#ffffff 251.5px,#96fff8 252.5px,#6686ff 253.5px,#6684ff 254.5px,#8ff5ff 255.5px,#90fffe 256.5px,#ffffff 257.5px,#ffffff 260.5px,#8fddff 261.5px,#ffffff 262.5px,#ffffff 270.5px);height:1px"></div><div style="background:linear-gradient(90deg,#78ffbb 0.5px,#b8ff7a 1.5px,#85ffff 2.5px,#72ffc1 3.5px,#68ffcb 4.5px,#ffffff 5.5px,#ffffff 6.5px,#5affd8 7.5px,#adcbff 8.5px,#7fffb3 9.5px,#7cffb6 10.5px,#5c9fff 11.5px,#64ffcf 12.5px,#ffffff 13.5px,#6cffc6 14.5px,#ffffff 15.5px,#ffffff 17.5px,#85ffff 18.5px,#ffffff 19.5px,#85ffff 20.5px,#85ffff 21.5px,#67ffcc 22.5px,#87ffac 23.5px,#ffffff 24.5px,#adcbff 25.5px,#71ffc2 26.5px,#adcbff 27.5px,#adcbff 28.5px,#ffffff 29.5px,#ffffff 32.5px,#5dffd6 33.5px,#63ffcf 34.5px,#ffffff 35.5px,#ffffff 36.5px,#67ffcb 37.5px,#ffffff 38.5px,#ffffff 138.5px,#66d2ff 139.5px,#3343ff 140.5px,#3343ff 147.5px,#71ffc2 148.5px,#feff34 163.5px,#ff9333 173.5px,#ff3633 179.5px,#ff3f33 181.5px,#ff5433 183.5px,#ff3533 185.5px,#c43333 187.5px,#b13333 189.5px,#b33333 199.5px,#d93333 201.5px,#d13333 203.5px,#fe3333 205.5px,#ff8c33 210.5px,#f8ff3a 216.5px,#96ff9d 223.5px,#47ffeb 235.5px,#44ffee 238.5px,#3343ff 239.5px,#3343ff 241.5px,#33a5ff 242.5px,#33a5ff 243.5px,#3343ff 244.5px,#3343ff 249.5px,#ffffff 250.5px,#ffffff 251.5px,#96fff8 252.5px,#6686ff 253.5px,#6684ff 254.5px,#8ff5ff 255.5px,#90fffe 256.5px,#ffffff 257.5px,#ffffff 260.5px,#8fddff 261.5px,#ffffff 262.5px,#ffffff 270.5px);height:1px"></div><div style="background:linear-gradient(90deg,#78ffbb 0.5px,#b8ff7a 1.5px,#adcbff 2.5px,#72ffc1 3.5px,#68ffcb 4.5px,#ffffff 5.5px,#ffffff 6.5px,#5affd8 7.5px,#adcbff 8.5px,#7fffb3 9.5px,#7cffb6 10.5px,#5c9fff 11.5px,#64ffcf 12.5px,#ffffff 13.5px,#6cffc6 14.5px,#ffffff 15.5px,#ffffff 16.5px,#6bffc7 17.5px,#adcbff 18.5px,#ffffff 19.5px,#66ffcc 20.5px,#85ffff 21.5px,#ffffff 22.5px,#87ffac 23.5px,#ffffff 24.5px,#adcbff 25.5px,#6affc9 26.5px,#adcbff 27.5px,#adcbff 28.5px,#ffffff 29.5px,#ffffff 30.5px,#adcbff 31.5px,#ffffff 32.5px,#5c97ff 33.5px,#5c97ff 34.5px,#ffffff 35.5px,#ffffff 36.5px,#67ffcb 37.5px,#ffffff 38.5px,#5c97ff 39.5px,#ffffff 40.5px,#ffffff 138.5px,#66d2ff 139.5px,#3343ff 140.5px,#3343ff 147.5px,#6bffc7 148.5px,#fff933 164.5px,#ff9533 173.5px,#ff3633 179.5px,#ff3f33 181.5px,#ff5433 183.5px,#ff3533 185.5px,#c43333 187.5px,#b13333 189.5px,#b43333 199.5px,#db3333 201.5px,#d13333 203.5px,#ff3433 205.5px,#ff8f33 210.5px,#fffa33 215.5px,#99ff99 222.5px,#42fff0 233.5px,#3dfff5 235.5px,#3369ff 236.5px,#3bfff7 237.5px,#3afff8 238.5px,#3343ff 239.5px,#3343ff 249.5px,#ffffff 250.5px,#ffffff 251.5px,#96fff8 252.5px,#6686ff 253.5px,#6684ff 254.5px,#8ff5ff 255.5px,#90fffe 256.5px,#ffffff 257.5px,#ffffff 270.5px);height:1px"></div><div style="background:linear-gradient(90deg,#78ffbb 0.5px,#b8ff7a 1.5px,#adcbff 2.5px,#72ffc1 3.5px,#7affb8 4.5px,#ffffff 5.5px,#7cffb6 6.5px,#5affd8 7.5px,#84ffaf 8.5px,#7cffb6 10.5px,#66ffcd 11.5px,#64ffcf 12.5px,#ffffff 13.5px,#6cffc6 14.5px,#5ca0ff 15.5px,#ffffff 16.5px,#6bffc7 17.5px,#adcbff 18.5px,#ffffff 19.5px,#66ffcc 20.5px,#85ffff 21.5px,#ffffff 22.5px,#87ffac 23.5px,#adcbff 24.5px,#60ffd3 25.5px,#6affc9 26.5px,#ffffff 27.5px,#adcbff 28.5px,#ffffff 29.5px,#ffffff 30.5px,#adcbff 31.5px,#ffffff 32.5px,#5c97ff 33.5px,#5c97ff 34.5px,#ffffff 35.5px,#ffffff 36.5px,#67ffcb 37.5px,#70ffc2 38.5px,#5c97ff 39.5px,#ffffff 40.5px,#ffffff 138.5px,#66d2ff 139.5px,#3333e4 140.5px,#3333e4 147.5px,#65ffcd 148.5px,#fffd33 164.5px,#ff9733 173.5px,#ff3633 179.5px,#ff3f33 181.5px,#ff5433 183.5px,#ff3533 185.5px,#c53333 187.5px,#b13333 189.5px,#b43333 199.5px,#dc3333 201.5px,#d13333 203.5px,#ff3733 205.5px,#ff7b33 209.5px,#fdff35 215.5px,#aaff89 220.5px,#6affc9 226.5px,#33ffff 235.5px,#3369ff 236.5px,#33feff 237.5px,#33feff 238.5px,#3333e4 239.5px,#3333e4 249.5px,#ffffff 250.5px,#ffffff 251.5px,#96fff8 252.5px,#ffffff 253.5px,#6684ff 254.5px,#8ff5ff 255.5px,#90fffe 256.5px,#8fe9ff 257.5px,#ffffff 258.5px,#ffffff 259.5px,#8fceff 260.5px,#ffffff 261.5px,#ffffff 263.5px,#9bfff3 264.5px,#ffffff 265.5px,#8fbdff 266.5px,#ffffff 267.5px,#ffffff 270.5px);height:1px"></div><div style="background:linear-gradient(90deg,#78ffbb 0.5px,#c6ff6c 1.5px,#adcbff 2.5px,#adcbff 3.5px,#7affb8 4.5px,#ffffff 5.5px,#7cffb6 6.5px,#5affd8 7.5px,#84ffaf 8.5px,#6bffc7 9.5px,#83ffaf 10.5px,#66ffcd 11.5px,#64ffcf 12.5px,#ffffff 13.5px,#6cffc6 14.5px,#5ca0ff 15.5px,#ffffff 16.5px,#6bffc7 17.5px,#adcbff 18.5px,#ffffff 19.5px,#66ffcc 20.5px,#67ffcb 21.5px,#ffffff 22.5px,#5c94ff 23.5px,#adcbff 24.5px,#60ffd3 25.5px,#70ffc2 26.5px,#ffffff 27.5px,#ffffff 30.5px,#adcbff 31.5px,#ffffff 32.5px,#5c97ff 33.5px,#5c97ff 34.5px,#ffffff 35.5px,#ffffff 36.5px,#adcbff 37.5px,#70ffc2 38.5px,#5c97ff 39.5px,#ffffff 40.5px,#ffffff 138.5px,#66d2ff 139.5px,#ffffff 140.5px,#66d9ff 141.5px,#66b1ff 142.5px,#ffffff 143.5px,#ffffff 145.5px,#668cff 146.5px,#ffffff 147.5px,#61ffd2 148.5px,#fff733 165.5px,#ff9a33 173.5px,#ff3733 179.5px,#ff3f33 181.5px,#ff5433 183.5px,#ff3533 185.5px,#b43333 188.5px,#b43333 199.5px,#dd3333 201.5px,#d23333 203.5px,#ff3933 205.5px,#ff7e33 209.5px,#fff233 214.5px,#e3ff4f 216.5px,#96ff9d 221.5px,#5bffd7 227.5px,#33f8ff 234.5px,#33f7ff 235.5px,#3369ff 236.5px,#33f7ff 237.5px,#33f6ff 238.5px,#66c3ff 239.5px,#66d6ff 240.5px,#ffffff 241.5px,#66caff 242.5px,#66d5ff 243.5px,#ffffff 244.5px,#ffffff 246.5px,#66b9ff 247.5px,#ffffff 248.5px,#66c2ff 249.5px,#ffffff 250.5px,#ffffff 251.5px,#96fff8 252.5px,#ffffff 253.5px,#6684ff 254.5px,#8ff5ff 255.5px,#8fd5ff 256.5px,#8fe9ff 257.5px,#ffffff 258.5px,#ffffff 259.5px,#8fceff 260.5px,#ffffff 261.5px,#ffffff 263.5px,#9bfff3 264.5px,#ffffff 265.5px,#8fbdff 266.5px,#ffffff 267.5px,#ffffff 270.5px);height:1px"></div><div style="background:linear-gradient(90deg,#78ffbb 0.5px,#c6ff6c 1.5px,#75ffbd 2.5px,#adcbff 3.5px,#7affb8 4.5px,#ffffff 5.5px,#7cffb6 6.5px,#ffffff 7.5px,#84ffaf 8.5px,#6bffc7 9.5px,#83ffaf 10.5px,#66ffcd 11.5px,#5ca1ff 12.5px,#ffffff 13.5px,#ffffff 14.5px,#5ca0ff 15.5px,#58ffda 16.5px,#6bffc7 17.5px,#ffffff 18.5px,#ffffff 19.5px,#66ffcc 20.5px,#67ffcb 21.5px,#5ca1ff 22.5px,#5c94ff 23.5px,#adcbff 24.5px,#60ffd3 25.5px,#70ffc2 26.5px,#ffffff 27.5px,#ffffff 30.5px,#79ffb9 31.5px,#ffffff 32.5px,#5c97ff 33.5px,#5c97ff 34.5px,#ffffff 35.5px,#adcbff 36.5px,#adcbff 37.5px,#ffffff 38.5px,#ffffff 138.5px,#66d2ff 139.5px,#ffffff 140.5px,#66d9ff 141.5px,#66b1ff 142.5px,#ffffff 143.5px,#ffffff 145.5px,#668cff 146.5px,#ffffff 147.5px,#5dffd6 148.5px,#fffd33 165.5px,#ff9e33 173.5px,#ff3933 179.5px,#ff4033 181.5px,#ff5333 183.5px,#ff3533 185.5px,#b53333 188.5px,#b53333 199.5px,#df3333 201.5px,#d33333 203.5px,#ff3c33 205.5px,#ff8133 209.5px,#fff833 214.5px,#9cff97 220.5px,#5cffd6 226.5px,#33f6ff 233.5px,#33f2ff 235.5px,#3369ff 236.5px,#33f1ff 237.5px,#33f1ff 238.5px,#66c3ff 239.5px,#66d6ff 240.5px,#ffffff 241.5px,#66caff 242.5px,#66d5ff 243.5px,#ffffff 244.5px,#ffffff 246.5px,#66b9ff 247.5px,#ffffff 248.5px,#66c2ff 249.5px,#ffffff 250.5px,#ffffff 251.5px,#96fff8 252.5px,#ffffff 253.5px,#6684ff 254.5px,#8ff5ff 255.5px,#8fd5ff 256.5px,#8fe9ff 257.5px,#ffffff 258.5px,#8fd1ff 259.5px,#8fceff 260.5px,#ffffff 261.5px,#ffffff 263.5px,#9bfff3 264.5px,#ffffff 265.5px,#8fbdff 266.5px,#ffffff 267.5px,#ffffff 270.5px);height:1px"></div><div style="background:linear-gradient(90deg,#78ffbb 0.5px,#c6ff6c 1.5px,#75ffbd 2.5px,#adcbff 3.5px,#7affb8 4.5px,#ffffff 5.5px,#7cffb6 6.5px,#ffffff 7.5px,#84ffaf 8.5px,#55ffdd 9.5px,#83ffaf 10.5px,#66ffcd 11.5px,#5ca1ff 12.5px,#ffffff 13.5px,#ffffff 14.5px,#5ca0ff 15.5px,#58ffda 16.5px,#6bffc7 17.5px,#ffffff 18.5px,#ffffff 19.5px,#66ffcc 20.5px,#67ffcb 21.5px,#5ca1ff 22.5px,#5c94ff 23.5px,#adcbff 24.5px,#60ffd3 25.5px,#70ffc2 26.5px,#ffffff 27.5px,#ffffff 30.5px,#79ffb9 31.5px,#ffffff 32.5px,#ffffff 33.5px,#5c97ff 34.5px,#ffffff 35.5px,#adcbff 36.5px,#adcbff 37.5px,#ffffff 38.5px,#ffffff 39.5px,#adcbff 40.5px,#ffffff 41.5px,#ffffff 140.5px,#66d9ff 141.5px,#66b1ff 142.5px,#ffffff 143.5px,#ffffff 145.5px,#668cff 146.5px,#ffffff 147.5px,#5affd8 148.5px,#96ff9d 155.5px,#51ffe2 156.5px,#51ffe2 157.5px,#b4ff7e 158.5px,#fff833 166.5px,#ff9133 174.5px,#ff3c33 179.5px,#ff4033 181.5px,#ff5333 183.5px,#ff3533 185.5px,#b63333 188.5px,#b63333 199.5px,#e03333 201.5px,#d53333 203.5px,#ff3e33 205.5px,#ff8433 209.5px,#fffe33 214.5px,#a3ff90 219.5px,#58ffda 226.5px,#33faff 232.5px,#33eeff 235.5px,#85ffff 236.5px,#33eeff 237.5px,#33eeff 238.5px,#66c3ff 239.5px,#66d6ff 240.5px,#ffffff 241.5px,#66caff 242.5px,#66d5ff 243.5px,#ffffff 244.5px,#ffffff 246.5px,#66b9ff 247.5px,#ffffff 248.5px,#66c2ff 249.5px,#ffffff 250.5px,#ffffff 251.5px,#96fff8 252.5px,#ffffff 253.5px,#ffffff 255.5px,#8fd5ff 256.5px,#8fe9ff 257.5px,#ffffff 258.5px,#8fd1ff 259.5px,#8ff9ff 260.5px,#ffffff 261.5px,#ffffff 264.5px,#8fecff 265.5px,#ffffff 266.5px,#ffffff 267.5px,#8ff8ff 268.5px,#ffffff 269.5px,#ffffff 270.5px);height:1px"></div><div style="background:linear-gradient(90deg,#78ffbb 0.5px,#c6ff6c 1.5px,#75ffbd 2.5px,#adcbff 3.5px,#7affb8 4.5px,#ffffff 5.5px,#7cffb6 6.5px,#85ffad 7.5px,#ffffff 8.5px,#55ffdd 9.5px,#7bffb7 10.5px,#66ffcd 11.5px,#5ca1ff 12.5px,#ffffff 13.5px,#ffffff 14.5px,#5ca0ff 15.5px,#58ffda 16.5px,#6bffc7 17.5px,#ffffff 18.5px,#ffffff 19.5px,#66ffcc 20.5px,#67ffcb 21.5px,#5ca1ff 22.5px,#5c94ff 23.5px,#ffffff 24.5px,#5c97ff 25.5px,#70ffc2 26.5px,#ffffff 27.5px,#ffffff 30.5px,#79ffb9 31.5px,#ffffff 32.5px,#ffffff 33.5px,#5c97ff 34.5px,#ffffff 35.5px,#adcbff 36.5px,#adcbff 37.5px,#ffffff 38.5px,#ffffff 39.5px,#adcbff 40.5px,#ffffff 41.5px,#ffffff 140.5px,#66d9ff 141.5px,#66b1ff 142.5px,#ffffff 143.5px,#ffffff 145.5px,#668cff 146.5px,#ffffff 147.5px,#51ffe2 148.5px,#51ffe2 155.5px,#33f9ff 156.5px,#33f9ff 157.5px,#afff83 158.5px,#ffff33 166.5px,#ff9633 174.5px,#ff3f33 179.5px,#ff4133 181.5px,#ff5233 183.5px,#ff3533 185.5px,#b83333 188.5px,#b83333 199.5px,#e23333 201.5px,#d83333 203.5px,#ff4133 205.5px,#ff8833 209.5px,#faff38 214.5px,#9eff95 219.5px,#55ffdd 226.5px,#33f9ff 232.5px,#33eeff 235.5px,#85ffff 236.5px,#33eeff 237.5px,#33eeff 238.5px,#66c3ff 239.5px,#66d6ff 240.5px,#ffffff 241.5px,#ffffff 242.5px,#66d5ff 243.5px,#ffffff 244.5px,#ffffff 246.5px,#66b9ff 247.5px,#ffffff 248.5px,#66c2ff 249.5px,#ffffff 250.5px,#ffffff 251.5px,#96fff8 252.5px,#ffffff 253.5px,#8fadff 254.5px,#ffffff 255.5px,#90fffe 256.5px,#8fe9ff 257.5px,#ffffff 258.5px,#8fd1ff 259.5px,#8ff9ff 260.5px,#ffffff 261.5px,#ffffff 264.5px,#8fecff 265.5px,#ffffff 266.5px,#ffffff 267.5px,#8ff8ff 268.5px,#ffffff 269.5px,#ffffff 270.5px);height:1px"></div><div style="background:linear-gradient(90deg,#78ffbb 0.5px,#c6ff6c 1.5px,#56ffdc 2.5px,#adcbff 3.5px,#7affb8 4.5px,#ffffff 5.5px,#7cffb6 6.5px,#85ffad 7.5px,#ffffff 8.5px,#55ffdd 9.5px,#7bffb7 10.5px,#66ffcd 11.5px,#7affb9 12.5px,#adcbff 13.5px,#ffffff 14.5px,#5ca0ff 15.5px,#58ffda 16.5px,#85ffff 17.5px,#ffffff 18.5px,#ffffff 20.5px,#67ffcb 21.5px,#5ca1ff 22.5px,#62ffd0 23.5px,#ffffff 24.5px,#5c97ff 25.5px,#ffffff 26.5px,#ffffff 30.5px,#79ffb9 31.5px,#ffffff 32.5px,#ffffff 35.5px,#adcbff 36.5px,#adcbff 37.5px,#ffffff 38.5px,#ffffff 39.5px,#adcbff 40.5px,#ffffff 41.5px,#ffffff 140.5px,#66d9ff 141.5px,#66b1ff 142.5px,#ffffff 143.5px,#ffffff 147.5px,#33f9ff 148.5px,#33f9ff 155.5px,#33a5ff 156.5px,#33a5ff 157.5px,#abff88 158.5px,#fffa33 167.5px,#ff8933 175.5px,#ff4333 179.5px,#ff4a33 182.5px,#ff4833 184.5px,#ff3633 185.5px,#b93333 188.5px,#ba3333 199.5px,#e33333 201.5px,#db3333 203.5px,#f13333 204.5px,#ff5433 206.5px,#ff8b33 209.5px,#fff233 213.5px,#dfff54 215.5px,#9aff99 219.5px,#54ffde 226.5px,#33f9ff 232.5px,#33efff 235.5px,#85ffff 236.5px,#33efff 237.5px,#33efff 238.5px,#ffffff 239.5px,#66d6ff 240.5px,#ffffff 241.5px,#ffffff 242.5px,#66d5ff 243.5px,#ffffff 244.5px,#ffffff 246.5px,#66b9ff 247.5px,#ffffff 248.5px,#66c2ff 249.5px,#ffffff 250.5px,#ffffff 253.5px,#8fadff 254.5px,#ffffff 255.5px,#90fffe 256.5px,#8fe9ff 257.5px,#ffffff 258.5px,#8fd1ff 259.5px,#8ff9ff 260.5px,#ffffff 261.5px,#ffffff 264.5px,#8fecff 265.5px,#ffffff 266.5px,#ffffff 267.5px,#8ff8ff 268.5px,#ffffff 269.5px,#8fbdff 270.5px);height:1px"></div><div style="background:linear-gradient(90deg,#78ffbb 0.5px,#c6ff6c 1.5px,#56ffdc 2.5px,#6cffc7 3.5px,#ffffff 4.5px,#ffffff 5.5px,#65ffcd 6.5px,#85ffad 7.5px,#ffffff 8.5px,#55ffdd 9.5px,#7bffb7 10.5px,#85ffff 11.5px,#7affb9 12.5px,#adcbff 13.5px,#ffffff 14.5px,#73ffc0 15.5px,#58ffda 16.5px,#85ffff 17.5px,#72ffc0 18.5px,#ffffff 19.5px,#ffffff 21.5px,#5ca1ff 22.5px,#62ffd0 23.5px,#ffffff 24.5px,#ffffff 29.5px,#adcbff 30.5px,#79ffb9 31.5px,#79ffb9 32.5px,#ffffff 33.5px,#ffffff 34.5px,#adcbff 35.5px,#adcbff 36.5px,#ffffff 37.5px,#ffffff 38.5px,#63ffcf 39.5px,#adcbff 40.5px,#ffffff 41.5px,#ffffff 44.5px,#5c97ff 45.5px,#ffffff 46.5px,#ffffff 140.5px,#66d9ff 141.5px,#66b1ff 142.5px,#ffffff 143.5px,#ffffff 147.5px,#33a5ff 148.5px,#33a5ff 155.5px,#3343ff 156.5px,#3343ff 157.5px,#a6ff8c 158.5px,#fdff35 167.5px,#ff8e33 175.5px,#ff4833 179.5px,#ff4a33 182.5px,#ff4833 184.5px,#ff3633 185.5px,#bb3333 188.5px,#bc3333 199.5px,#e53333 201.5px,#df3333 203.5px,#f53333 204.5px,#ff7733 208.5px,#fff833 213.5px,#96ff9d 219.5px,#54ffdf 226.5px,#33f5ff 233.5px,#33a5ff 234.5px,#33a5ff 238.5px,#ffffff 239.5px,#66d6ff 240.5px,#ffffff 241.5px,#ffffff 245.5px,#8fb6ff 246.5px,#66b9ff 247.5px,#ffffff 248.5px,#8ff8ff 249.5px,#ffffff 250.5px,#8feeff 251.5px,#ffffff 252.5px,#ffffff 253.5px,#8fadff 254.5px,#ffffff 255.5px,#90fffe 256.5px,#8fe9ff 257.5px,#ffffff 258.5px,#8fd1ff 259.5px,#8ff9ff 260.5px,#ffffff 261.5px,#ffffff 264.5px,#8fecff 265.5px,#ffffff 266.5px,#ffffff 267.5px,#8ff8ff 268.5px,#ffffff 269.5px,#8fbdff 270.5px);height:1px"></div><div style="background:linear-gradient(90deg,#78ffbb 0.5px,#caff69 1.5px,#56ffdc 2.5px,#6cffc7 3.5px,#ffffff 4.5px,#ffffff 5.5px,#65ffcd 6.5px,#85ffff 7.5px,#ffffff 8.5px,#55ffdd 9.5px,#7bffb7 10.5px,#85ffff 11.5px,#7affb9 12.5px,#adcbff 13.5px,#ffffff 14.5px,#73ffc0 15.5px,#58ffda 16.5px,#85ffff 17.5px,#72ffc0 18.5px,#66ffcc 19.5px,#ffffff 20.5px,#ffffff 21.5px,#53ffdf 22.5px,#62ffd0 23.5px,#ffffff 24.5px,#ffffff 29.5px,#adcbff 30.5px,#79ffb9 31.5px,#79ffb9 32.5px,#ffffff 33.5px,#ffffff 34.5px,#adcbff 35.5px,#ffffff 36.5px,#ffffff 38.5px,#63ffcf 39.5px,#ffffff 40.5px,#ffffff 44.5px,#5c97ff 45.5px,#ffffff 46.5px,#ffffff 140.5px,#66d9ff 141.5px,#66b1ff 142.5px,#ffffff 143.5px,#ffffff 147.5px,#3343ff 148.5px,#3343ff 157.5px,#a2ff91 158.5px,#fffb33 168.5px,#ff8133 176.5px,#ff4433 180.5px,#ff4833 184.5px,#ff3733 185.5px,#bd3333 188.5px,#bd3333 199.5px,#e73333 201.5px,#e33333 203.5px,#f93333 204.5px,#ff9333 209.5px,#fffe33 213.5px,#9dff95 218.5px,#53ffdf 226.5px,#33f7ff 233.5px,#3343ff 234.5px,#3343ff 238.5px,#ffffff 239.5px,#66d6ff 240.5px,#91fffd 241.5px,#ffffff 242.5px,#ffffff 245.5px,#8fb6ff 246.5px,#8fcfff 247.5px,#ffffff 248.5px,#8ff8ff 249.5px,#ffffff 250.5px,#8feeff 251.5px,#ffffff 252.5px,#ffffff 253.5px,#8fb7ff 254.5px,#ffffff 255.5px,#90fffe 256.5px,#8fe9ff 257.5px,#ffffff 258.5px,#8fd1ff 259.5px,#8ff9ff 260.5px,#ffffff 261.5px,#ffffff 264.5px,#8fecff 265.5px,#ffffff 266.5px,#ffffff 267.5px,#8ff8ff 268.5px,#ffffff 269.5px,#8fbdff 270.5px);height:1px"></div><div style="background:linear-gradient(90deg,#78ffbb 0.5px,#caff69 1.5px,#56ffdc 2.5px,#6cffc7 3.5px,#ffffff 4.5px,#85ffff 5.5px,#65ffcd 6.5px,#85ffff 7.5px,#ffffff 8.5px,#5bffd7 9.5px,#5affd8 10.5px,#85ffff 11.5px,#7affb9 12.5px,#adcbff 13.5px,#79ffba 14.5px,#73ffc0 15.5px,#85ffff 16.5px,#5cbcff 17.5px,#72ffc0 18.5px,#66ffcc 19.5px,#ffffff 20.5px,#57ffdb 21.5px,#53ffdf 22.5px,#62ffd0 23.5px,#ffffff 24.5px,#ffffff 28.5px,#79ffb9 29.5px,#adcbff 30.5px,#5c97ff 31.5px,#79ffb9 32.5px,#ffffff 33.5px,#ffffff 34.5px,#74ffbe 35.5px,#ffffff 36.5px,#ffffff 38.5px,#63ffcf 39.5px,#ffffff 40.5px,#ffffff 44.5px,#5c97ff 45.5px,#ffffff 46.5px,#ffffff 140.5px,#66d9ff 141.5px,#66b1ff 142.5px,#ffffff 143.5px,#ffffff 147.5px,#3343ff 148.5px,#3343ff 157.5px,#9dff95 158.5px,#f1ff41 167.5px,#ffe733 170.5px,#ff4733 180.5px,#ff4733 184.5px,#ff3733 185.5px,#be3333 188.5px,#bf3333 199.5px,#e83333 201.5px,#e73333 203.5px,#fc3333 204.5px,#ff5d33 206.5px,#ff9633 209.5px,#fbff37 213.5px,#a8ff8b 217.5px,#53ffdf 226.5px,#33f9ff 233.5px,#3343ff 234.5px,#3343ff 238.5px,#ffffff 239.5px,#66d6ff 240.5px,#91fffd 241.5px,#ffffff 242.5px,#ffffff 245.5px,#8fb6ff 246.5px,#8fcfff 247.5px,#ffffff 248.5px,#8ff8ff 249.5px,#ffffff 250.5px,#8feeff 251.5px,#a1ffed 252.5px,#ffffff 253.5px,#8fb7ff 254.5px,#ffffff 255.5px,#90fffe 256.5px,#ffffff 257.5px,#ffffff 259.5px,#8ff9ff 260.5px,#8fe2ff 261.5px,#ffffff 262.5px,#ffffff 264.5px,#8fecff 265.5px,#ffffff 266.5px,#ffffff 267.5px,#8ff8ff 268.5px,#ffffff 269.5px,#8fbdff 270.5px);height:1px"></div><div style="background:linear-gradient(90deg,#78ffbb 0.5px,#c1ff72 1.5px,#7dffb6 2.5px,#6cffc7 3.5px,#ffffff 4.5px,#85ffff 5.5px,#81ffb2 6.5px,#85ffff 7.5px,#53ffe0 8.5px,#5affd8 10.5px,#85ffff 11.5px,#ffffff 12.5px,#adcbff 13.5px,#79ffba 14.5px,#73ffc0 15.5px,#85ffff 16.5px,#5cbcff 17.5px,#80ffb3 18.5px,#66ffcc 19.5px,#ffffff 20.5px,#57ffdb 21.5px,#53ffdf 22.5px,#62ffd0 23.5px,#ffffff 24.5px,#ffffff 25.5px,#72ffc0 26.5px,#ffffff 27.5px,#ffffff 28.5px,#79ffb9 29.5px,#adcbff 30.5px,#5c97ff 31.5px,#79ffb9 32.5px,#ffffff 33.5px,#ffffff 34.5px,#74ffbe 35.5px,#ffffff 36.5px,#ffffff 44.5px,#5c97ff 45.5px,#ffffff 46.5px,#ffffff 147.5px,#3333e4 148.5px,#3333e4 157.5px,#99ff9a 158.5px,#ddff55 166.5px,#fffb33 169.5px,#ff6733 178.5px,#ff4833 181.5px,#ff4733 184.5px,#ff3833 185.5px,#c03333 188.5px,#c13333 199.5px,#ea3333 201.5px,#eb3333 203.5px,#ff3433 204.5px,#ff6033 206.5px,#ff9a33 209.5px,#f6ff3c 213.5px,#a2ff90 217.5px,#53ffdf 226.5px,#33fbff 233.5px,#3333e4 234.5px,#3333e4 238.5px,#ffffff 239.5px,#66d6ff 240.5px,#91fffd 241.5px,#ffffff 242.5px,#ffffff 245.5px,#8fb6ff 246.5px,#8fcfff 247.5px,#92fffc 248.5px,#8ff8ff 249.5px,#ffffff 250.5px,#8feeff 251.5px,#a1ffed 252.5px,#ffffff 253.5px,#8fb7ff 254.5px,#8fdaff 255.5px,#ffffff 256.5px,#ffffff 259.5px,#8ff9ff 260.5px,#8fe2ff 261.5px,#ffffff 262.5px,#ffffff 267.5px,#8ff8ff 268.5px,#ffffff 269.5px,#8fbdff 270.5px);height:1px"></div><div style="background:linear-gradient(90deg,#78ffbb 0.5px,#c1ff72 1.5px,#7dffb6 2.5px,#6cffc7 3.5px,#ffffff 4.5px,#85ffff 5.5px,#81ffb2 6.5px,#ffffff 7.5px,#53ffe0 8.5px,#5affd8 10.5px,#79ffb9 11.5px,#ffffff 12.5px,#adcbff 13.5px,#79ffba 14.5px,#adcbff 15.5px,#85ffff 16.5px,#5cbcff 17.5px,#80ffb3 18.5px,#66ffcc 19.5px,#ffffff 20.5px,#7affb8 21.5px,#53ffdf 22.5px,#adcbff 23.5px,#60ffd2 24.5px,#ffffff 25.5px,#72ffc0 26.5px,#ffffff 27.5px,#ffffff 28.5px,#79ffb9 29.5px,#5effd4 30.5px,#5c97ff 31.5px,#ffffff 32.5px,#ffffff 34.5px,#74ffbe 35.5px,#ffffff 36.5px,#ffffff 41.5px,#73ffbf 42.5px,#ffffff 43.5px,#ffffff 150.5px,#66ccff 151.5px,#ffffff 152.5px,#66a3ff 153.5px,#ffffff 154.5px,#ffffff 156.5px,#669bff 157.5px,#94ff9e 158.5px,#d6ff5c 166.5px,#fdff35 169.5px,#ff7f33 177.5px,#ff4e33 180.5px,#ff4633 184.5px,#ff3833 185.5px,#c23333 188.5px,#c33333 199.5px,#eb3333 201.5px,#ef3333 203.5px,#ff3833 204.5px,#ff6333 206.5px,#ff9e33 209.5px,#fff233 212.5px,#d8ff5a 214.5px,#9dff95 217.5px,#53ffdf 226.5px,#33feff 233.5px,#6697ff 234.5px,#ffffff 235.5px,#66b5ff 236.5px,#ffffff 237.5px,#a5ffe9 238.5px,#8fc8ff 239.5px,#ffffff 240.5px,#91fffd 241.5px,#ffffff 242.5px,#ffffff 245.5px,#8fb6ff 246.5px,#8fcfff 247.5px,#92fffc 248.5px,#8ff8ff 249.5px,#ffffff 250.5px,#8feeff 251.5px,#a1ffed 252.5px,#ffffff 253.5px,#8fb7ff 254.5px,#8fdaff 255.5px,#ffffff 256.5px,#ffffff 260.5px,#8fe2ff 261.5px,#ffffff 262.5px,#ffffff 269.5px,#8fbdff 270.5px);height:1px"></div><div style="background:linear-gradient(90deg,#78ffbb 0.5px,#c3ff6f 1.5px,#7dffb6 2.5px,#6cffc7 3.5px,#ffffff 4.5px,#85ffff 5.5px,#ffffff 6.5px,#ffffff 7.5px,#53ffe0 8.5px,#5affd8 10.5px,#79ffb9 11.5px,#ffffff 12.5px,#82ffb0 13.5px,#adcbff 14.5px,#adcbff 15.5px,#85ffff 16.5px,#5cbcff 17.5px,#80ffb3 18.5px,#63ffcf 19.5px,#5dffd5 20.5px,#7affb8 21.5px,#70ffc2 22.5px,#adcbff 23.5px,#60ffd2 24.5px,#ffffff 25.5px,#72ffc0 26.5px,#ffffff 27.5px,#ffffff 28.5px,#79ffb9 29.5px,#5effd4 30.5px,#5c97ff 31.5px,#ffffff 32.5px,#ffffff 34.5px,#74ffbe 35.5px,#ffffff 36.5px,#ffffff 41.5px,#73ffbf 42.5px,#ffffff 43.5px,#ffffff 150.5px,#66ccff 151.5px,#ffffff 152.5px,#66a3ff 153.5px,#ffffff 154.5px,#ffffff 156.5px,#669bff 157.5px,#90ffa3 158.5px,#d0ff63 166.5px,#fff833 170.5px,#ff5133 180.5px,#ff4633 184.5px,#ff3933 185.5px,#c43333 188.5px,#c53333 199.5px,#ed3333 201.5px,#ff3c33 204.5px,#ff6633 206.5px,#ffa233 209.5px,#fff733 212.5px,#98ff9b 217.5px,#53ffdf 226.5px,#34fffe 233.5px,#6697ff 234.5px,#ffffff 235.5px,#66b5ff 236.5px,#ffffff 237.5px,#a5ffe9 238.5px,#8fc8ff 239.5px,#ffffff 240.5px,#91fffd 241.5px,#ffffff 242.5px,#ffffff 245.5px,#8fb6ff 246.5px,#8fcfff 247.5px,#92fffc 248.5px,#8ff8ff 249.5px,#ffffff 250.5px,#ffffff 251.5px,#a1ffed 252.5px,#ffffff 253.5px,#ffffff 254.5px,#8fdaff 255.5px,#ffffff 256.5px,#ffffff 260.5px,#8fe2ff 261.5px,#ffffff 262.5px,#ffffff 269.5px,#8fbdff 270.5px);height:1px"></div><div style="background:linear-gradient(90deg,#78ffbb 0.5px,#c3ff6f 1.5px,#7dffb6 2.5px,#85ffff 3.5px,#ffffff 4.5px,#85ffff 5.5px,#ffffff 6.5px,#ffffff 7.5px,#53ffe0 8.5px,#5affd8 10.5px,#79ffb9 11.5px,#ffffff 12.5px,#82ffb0 13.5px,#adcbff 14.5px,#adcbff 15.5px,#85ffff 16.5px,#5cbcff 17.5px,#ffffff 18.5px,#63ffcf 19.5px,#5dffd5 20.5px,#7affb8 21.5px,#70ffc2 22.5px,#adcbff 23.5px,#60ffd2 24.5px,#ffffff 25.5px,#72ffc0 26.5px,#ffffff 27.5px,#ffffff 29.5px,#5effd4 30.5px,#5c97ff 31.5px,#ffffff 32.5px,#ffffff 34.5px,#74ffbe 35.5px,#ffffff 36.5px,#ffffff 41.5px,#73ffbf 42.5px,#ffffff 43.5px,#ffffff 150.5px,#66ccff 151.5px,#ffffff 152.5px,#66a3ff 153.5px,#ffffff 154.5px,#ffffff 156.5px,#669bff 157.5px,#51ffe2 158.5px,#92ffa1 159.5px,#98ff9b 160.5px,#51ffe2 161.5px,#51ffe2 162.5px,#aaff89 163.5px,#fffe33 170.5px,#ff5433 180.5px,#ff3a33 185.5px,#c53333 188.5px,#c03333 198.5px,#db3333 200.5px,#ef3333 201.5px,#f73333 203.5px,#ffa533 209.5px,#fffc33 212.5px,#a1ff92 216.5px,#5cffd6 224.5px,#36fffc 233.5px,#6697ff 234.5px,#ffffff 235.5px,#66b5ff 236.5px,#ffffff 237.5px,#a5ffe9 238.5px,#8fc8ff 239.5px,#ffffff 240.5px,#91fffd 241.5px,#ffffff 242.5px,#ffffff 245.5px,#8fb6ff 246.5px,#8fcfff 247.5px,#92fffc 248.5px,#8ff8ff 249.5px,#ffffff 250.5px,#ffffff 251.5px,#a1ffed 252.5px,#ffffff 253.5px,#ffffff 254.5px,#8fdaff 255.5px,#ffffff 256.5px,#ffffff 270.5px);height:1px"></div><div style="background:linear-gradient(90deg,#78ffbb 0.5px,#c3ff6f 1.5px,#7dffb6 2.5px,#85ffff 3.5px,#ffffff 4.5px,#5cffd7 5.5px,#ffffff 6.5px,#ffffff 7.5px,#53ffe0 8.5px,#5affd8 10.5px,#79ffb9 11.5px,#ffffff 12.5px,#85ffff 13.5px,#adcbff 14.5px,#69ffc9 15.5px,#85ffff 16.5px,#85ffff 17.5px,#ffffff 18.5px,#63ffcf 19.5px,#5dffd5 20.5px,#5c96ff 21.5px,#70ffc2 22.5px,#adcbff 23.5px,#60ffd2 24.5px,#ffffff 25.5px,#72ffc0 26.5px,#ffffff 27.5px,#ffffff 29.5px,#5effd4 30.5px,#5c97ff 31.5px,#ffffff 32.5px,#ffffff 41.5px,#73ffbf 42.5px,#ffffff 43.5px,#ffffff 150.5px,#66ccff 151.5px,#ffffff 152.5px,#66a3ff 153.5px,#ffffff 154.5px,#ffffff 156.5px,#669bff 157.5px,#33f9ff 158.5px,#51ffe2 159.5px,#51ffe2 160.5px,#33f9ff 161.5px,#33f9ff 162.5px,#51ffe2 163.5px,#a9ff89 164.5px,#fbff37 170.5px,#ff8f33 177.5px,#ff4d33 181.5px,#ff3a33 185.5px,#c73333 188.5px,#c13333 198.5px,#f03333 201.5px,#fa3333 203.5px,#ffa933 209.5px,#fdff35 212.5px,#9bff98 216.5px,#8effa5 217.5px,#51ffe2 218.5px,#51ffe2 220.5px,#6fffc4 221.5px,#51ffe2 222.5px,#51ffe2 226.5px,#33f9ff 227.5px,#4cffe7 228.5px,#39fff9 233.5px,#6697ff 234.5px,#ffffff 235.5px,#66b5ff 236.5px,#ffffff 237.5px,#a5ffe9 238.5px,#ffffff 239.5px,#ffffff 240.5px,#91fffd 241.5px,#ffffff 242.5px,#ffffff 244.5px,#96fff8 245.5px,#8fa4ff 246.5px,#92fffc 248.5px,#8ff8ff 249.5px,#ffffff 250.5px,#ffffff 251.5px,#a1ffed 252.5px,#ffffff 253.5px,#ffffff 254.5px,#8fdaff 255.5px,#ffffff 256.5px,#ffffff 270.5px);height:1px"></div><div style="background:linear-gradient(90deg,#78ffbb 0.5px,#ceff64 1.5px,#85ffff 2.5px,#85ffff 3.5px,#5cb1ff 4.5px,#5cffd7 5.5px,#ffffff 6.5px,#ffffff 7.5px,#5affd8 8.5px,#87ffac 9.5px,#85ffff 10.5px,#79ffb9 11.5px,#ffffff 12.5px,#85ffff 13.5px,#adcbff 14.5px,#69ffc9 15.5px,#89ffa9 16.5px,#85ffff 17.5px,#ffffff 18.5px,#63ffcf 19.5px,#5dffd5 20.5px,#5c96ff 21.5px,#70ffc2 22.5px,#adcbff 23.5px,#60ffd2 24.5px,#ffffff 25.5px,#ffffff 29.5px,#78ffba 30.5px,#63ffcf 31.5px,#ffffff 32.5px,#ffffff 37.5px,#5c97ff 38.5px,#ffffff 39.5px,#ffffff 150.5px,#66ccff 151.5px,#ffffff 152.5px,#ffffff 156.5px,#669bff 157.5px,#33a5ff 158.5px,#33f9ff 159.5px,#33f9ff 160.5px,#33a5ff 161.5px,#33a5ff 162.5px,#33f9ff 163.5px,#a2ff91 164.5px,#fff933 171.5px,#ff8133 178.5px,#ff4e33 181.5px,#ff3b33 185.5px,#c93333 188.5px,#c33333 198.5px,#f23333 201.5px,#fe3333 203.5px,#ff6f33 206.5px,#ffad33 209.5px,#f8ff3a 212.5px,#95ff9e 216.5px,#89ffaa 217.5px,#33f9ff 218.5px,#33f9ff 220.5px,#51ffe2 221.5px,#33f9ff 222.5px,#33f9ff 226.5px,#33a5ff 227.5px,#33f9ff 228.5px,#33f9ff 233.5px,#6697ff 234.5px,#ffffff 235.5px,#66b5ff 236.5px,#ffffff 237.5px,#a5ffe9 238.5px,#ffffff 239.5px,#ffffff 240.5px,#91fffd 241.5px,#ffffff 242.5px,#ffffff 244.5px,#96fff8 245.5px,#8fa4ff 246.5px,#92fffc 248.5px,#97fff7 249.5px,#ffffff 250.5px,#ffffff 251.5px,#a1ffed 252.5px,#ffffff 253.5px,#ffffff 254.5px,#8fdaff 255.5px,#ffffff 256.5px,#ffffff 270.5px);height:1px"></div><div style="background:linear-gradient(90deg,#78ffbb 0.5px,#ceff64 1.5px,#85ffff 2.5px,#5affd8 3.5px,#5cb1ff 4.5px,#5cffd7 5.5px,#ffffff 6.5px,#61ffd2 7.5px,#5affd8 8.5px,#87ffac 9.5px,#85ffff 10.5px,#5cbcff 11.5px,#ffffff 12.5px,#85ffff 13.5px,#adcbff 14.5px,#69ffc9 15.5px,#89ffa9 16.5px,#85ffff 17.5px,#ffffff 18.5px,#89ffaa 19.5px,#5dffd5 20.5px,#5c96ff 21.5px,#70ffc2 22.5px,#85ffff 23.5px,#ffffff 24.5px,#adcbff 25.5px,#ffffff 26.5px,#6affc8 27.5px,#ffffff 28.5px,#ffffff 29.5px,#78ffba 30.5px,#63ffcf 31.5px,#ffffff 32.5px,#ffffff 36.5px,#5c97ff 38.5px,#ffffff 39.5px,#ffffff 150.5px,#66ccff 151.5px,#ffffff 152.5px,#ffffff 157.5px,#3343ff 158.5px,#33a5ff 159.5px,#33a5ff 160.5px,#3343ff 161.5px,#3343ff 162.5px,#33a5ff 163.5px,#9bff98 164.5px,#fffe33 171.5px,#ff8633 178.5px,#ff4533 182.5px,#ff3b33 185.5px,#c43333 189.5px,#c43333 198.5px,#f93333 202.5px,#ff3633 203.5px,#ffb033 209.5px,#f4ff3f 212.5px,#8fffa4 216.5px,#84ffaf 217.5px,#33a5ff 218.5px,#33a5ff 220.5px,#33f9ff 221.5px,#33a5ff 222.5px,#33a5ff 226.5px,#3343ff 227.5px,#33a5ff 228.5px,#33a5ff 233.5px,#6697ff 234.5px,#ffffff 235.5px,#ffffff 237.5px,#a5ffe9 238.5px,#ffffff 239.5px,#ffffff 240.5px,#91fffd 241.5px,#ffffff 242.5px,#ffffff 244.5px,#96fff8 245.5px,#8fa4ff 246.5px,#ffffff 247.5px,#92fffc 248.5px,#97fff7 249.5px,#ffffff 250.5px,#ffffff 254.5px,#8fdaff 255.5px,#ffffff 256.5px,#ffffff 263.5px,#8ffcff 264.5px,#ffffff 265.5px,#ffffff 270.5px);height:1px"></div><div style="background:linear-gradient(90deg,#78ffbb 0.5px,#ceff64 1.5px,#85ffff 2.5px,#5affd8 3.5px,#5cb1ff 4.5px,#5cffd7 5.5px,#ffffff 6.5px,#61ffd2 7.5px,#ffffff 8.5px,#76ffbc 9.5px,#85ffff 10.5px,#5cbcff 11.5px,#ffffff 12.5px,#5effd5 13.5px,#adcbff 14.5px,#69ffc9 15.5px,#89ffa9 16.5px,#85ffff 17.5px,#80ffb3 18.5px,#89ffaa 19.5px,#5cb6ff 20.5px,#ffffff 21.5px,#70ffc2 22.5px,#85ffff 23.5px,#ffffff 24.5px,#adcbff 25.5px,#ffffff 26.5px,#6affc8 27.5px,#ffffff 28.5px,#ffffff 29.5px,#5c97ff 30.5px,#63ffcf 31.5px,#ffffff 32.5px,#ffffff 35.5px,#5c97ff 36.5px,#adcbff 37.5px,#5c97ff 38.5px,#ffffff 39.5px,#ffffff 150.5px,#66ccff 151.5px,#ffffff 152.5px,#ffffff 157.5px,#3343ff 158.5px,#3343ff 163.5px,#93ffa0 164.5px,#fbff37 171.5px,#ffa033 177.5px,#ff4433 182.5px,#ff3c33 185.5px,#c53333 189.5px,#c63333 198.5px,#fb3333 202.5px,#ff5033 204.5px,#ffb433 209.5px,#ffef33 211.5px,#d0ff62 213.5px,#89ffaa 216.5px,#7effb4 217.5px,#3343ff 218.5px,#3343ff 220.5px,#33a5ff 221.5px,#3343ff 222.5px,#3343ff 233.5px,#6697ff 234.5px,#ffffff 235.5px,#ffffff 237.5px,#9afff4 238.5px,#ffffff 239.5px,#ffffff 244.5px,#96fff8 245.5px,#ffffff 246.5px,#ffffff 247.5px,#92fffc 248.5px,#97fff7 249.5px,#ffffff 250.5px,#ffffff 254.5px,#8fdaff 255.5px,#ffffff 256.5px,#ffffff 263.5px,#8ffcff 264.5px,#ffffff 265.5px,#ffffff 270.5px);height:1px"></div><div style="background:linear-gradient(90deg,#78ffbb 0.5px,#b6ff7d 1.5px,#85ffff 2.5px,#5affd8 3.5px,#adcbff 4.5px,#5cffd7 5.5px,#85ffff 6.5px,#61ffd2 7.5px,#ffffff 8.5px,#76ffbc 9.5px,#85ffff 10.5px,#5cbcff 11.5px,#ffffff 12.5px,#5effd5 13.5px,#adcbff 14.5px,#ffffff 15.5px,#89ffa9 16.5px,#85ffff 17.5px,#80ffb3 18.5px,#89ffaa 19.5px,#5cb6ff 20.5px,#ffffff 21.5px,#55ffdd 22.5px,#85ffff 23.5px,#ffffff 24.5px,#adcbff 25.5px,#ffffff 26.5px,#6affc8 27.5px,#ffffff 28.5px,#69ffc9 29.5px,#5c97ff 30.5px,#63ffcf 31.5px,#ffffff 32.5px,#ffffff 35.5px,#5c97ff 36.5px,#adcbff 37.5px,#5c97ff 38.5px,#ffffff 39.5px,#ffffff 150.5px,#66ccff 151.5px,#ffffff 152.5px,#ffffff 157.5px,#3343ff 158.5px,#3343ff 163.5px,#8cffa7 164.5px,#fff933 172.5px,#ff9133 178.5px,#ff4433 182.5px,#ff3c33 185.5px,#c73333 189.5px,#c73333 198.5px,#fe3333 202.5px,#ff9e33 208.5px,#fff433 211.5px,#b1ff81 214.5px,#83ffaf 216.5px,#79ffb9 217.5px,#3343ff 218.5px,#3343ff 233.5px,#6697ff 234.5px,#ffffff 235.5px,#ffffff 237.5px,#9afff4 238.5px,#ffffff 239.5px,#ffffff 247.5px,#8fc5ff 248.5px,#97fff7 249.5px,#ffffff 250.5px,#ffffff 263.5px,#8ffcff 264.5px,#ffffff 265.5px,#ffffff 267.5px,#8fa7ff 268.5px,#ffffff 269.5px,#ffffff 270.5px);height:1px"></div><div style="background:linear-gradient(90deg,#78ffbb 0.5px,#b6ff7d 1.5px,#85ffff 2.5px,#5affd8 3.5px,#adcbff 4.5px,#5cffd7 5.5px,#85ffff 6.5px,#6dffc5 7.5px,#ffffff 8.5px,#7cffb7 9.5px,#85ffff 10.5px,#5cbcff 11.5px,#86ffac 12.5px,#5effd5 13.5px,#adcbff 14.5px,#ffffff 15.5px,#89ffa9 16.5px,#85ffff 17.5px,#80ffb3 18.5px,#89ffaa 19.5px,#5cb6ff 20.5px,#85ffff 21.5px,#55ffdd 22.5px,#85ffff 23.5px,#ffffff 24.5px,#adcbff 25.5px,#ffffff 26.5px,#6affc8 27.5px,#ffffff 28.5px,#69ffc9 29.5px,#ffffff 30.5px,#63ffcf 31.5px,#adcbff 32.5px,#ffffff 33.5px,#ffffff 35.5px,#5fffd3 36.5px,#ffffff 37.5px,#5c97ff 38.5px,#ffffff 39.5px,#ffffff 150.5px,#66ccff 151.5px,#ffffff 152.5px,#ffffff 157.5px,#3333e4 158.5px,#3333e4 163.5px,#84ffae 164.5px,#ffff33 172.5px,#ff9633 178.5px,#ff4333 182.5px,#ff3d33 185.5px,#c83333 189.5px,#c93333 198.5px,#ff3533 202.5px,#ffa133 208.5px,#fff833 211.5px,#7dffb5 216.5px,#74ffbe 217.5px,#3333e4 218.5px,#3333e4 233.5px,#6697ff 234.5px,#ffffff 235.5px,#ffffff 237.5px,#9afff4 238.5px,#ffffff 239.5px,#ffffff 247.5px,#8fc5ff 248.5px,#ffffff 249.5px,#ffffff 263.5px,#8ffcff 264.5px,#ffffff 265.5px,#ffffff 267.5px,#8fa7ff 268.5px,#ffffff 269.5px,#ffffff 270.5px);height:1px"></div><div style="background:linear-gradient(90deg,#78ffbb 0.5px,#cbff68 1.5px,#5cb9ff 2.5px,#85ffff 3.5px,#adcbff 4.5px,#ffffff 5.5px,#85ffff 6.5px,#6dffc5 7.5px,#ffffff 8.5px,#7cffb7 9.5px,#85ffff 10.5px,#5effd5 11.5px,#86ffac 12.5px,#5effd5 13.5px,#adcbff 14.5px,#ffffff 15.5px,#6fffc3 16.5px,#85ffff 17.5px,#80ffb3 18.5px,#86ffac 19.5px,#5cb6ff 20.5px,#85ffff 21.5px,#55ffdd 22.5px,#85ffff 23.5px,#ffffff 24.5px,#adcbff 25.5px,#ffffff 26.5px,#6affc8 27.5px,#ffffff 28.5px,#ffffff 30.5px,#63ffcf 31.5px,#adcbff 32.5px,#ffffff 33.5px,#ffffff 35.5px,#5fffd3 36.5px,#ffffff 37.5px,#5c97ff 38.5px,#ffffff 39.5px,#ffffff 150.5px,#66ccff 151.5px,#ffffff 152.5px,#ffffff 163.5px,#7dffb6 164.5px,#faff38 172.5px,#ffb033 177.5px,#ff4233 182.5px,#ff3d33 185.5px,#e33333 187.5px,#ca3333 189.5px,#ca3333 198.5px,#fa3333 201.5px,#ff4733 203.5px,#ffa533 208.5px,#fffc33 211.5px,#8dffa6 215.5px,#6fffc4 217.5px,#ffffff 218.5px,#ffffff 227.5px,#66acff 228.5px,#6682ff 229.5px,#6680ff 230.5px,#ffffff 231.5px,#ffffff 233.5px,#6697ff 234.5px,#ffffff 235.5px,#ffffff 237.5px,#9afff4 238.5px,#ffffff 239.5px,#ffffff 247.5px,#8fc5ff 248.5px,#ffffff 249.5px,#ffffff 262.5px,#97fff7 263.5px,#8ffcff 264.5px,#ffffff 265.5px,#ffffff 267.5px,#8fa7ff 268.5px,#ffffff 269.5px,#ffffff 270.5px);height:1px"></div><div style="background:linear-gradient(90deg,#78ffbb 0.5px,#cbff68 1.5px,#5cb9ff 2.5px,#85ffff 3.5px,#85ffff 4.5px,#ffffff 5.5px,#85ffff 6.5px,#6dffc5 7.5px,#ffffff 8.5px,#7cffb7 9.5px,#adcbff 10.5px,#5effd5 11.5px,#86ffac 12.5px,#5effd5 13.5px,#adcbff 14.5px,#85ffff 15.5px,#6fffc3 16.5px,#85ffff 17.5px,#80ffb3 18.5px,#86ffac 19.5px,#5cb6ff 20.5px,#85ffff 21.5px,#55ffdd 22.5px,#85ffff 23.5px,#ffffff 24.5px,#ffffff 26.5px,#5c97ff 27.5px,#ffffff 28.5px,#ffffff 31.5px,#58ffdb 32.5px,#ffffff 33.5px,#ffffff 35.5px,#5fffd3 36.5px,#ffffff 37.5px,#adcbff 38.5px,#ffffff 39.5px,#ffffff 150.5px,#66ccff 151.5px,#ffffff 152.5px,#ffffff 163.5px,#76ffbd 164.5px,#fffa33 173.5px,#ffa033 178.5px,#ff4233 182.5px,#f93333 186.5px,#cb3333 189.5px,#cc3333 198.5px,#fc3333 201.5px,#ff4b33 203.5px,#ffa833 208.5px,#fdff35 211.5px,#87ffab 215.5px,#6affc9 217.5px,#ffffff 218.5px,#ffffff 227.5px,#66acff 228.5px,#6682ff 229.5px,#6680ff 230.5px,#ffffff 231.5px,#ffffff 232.5px,#8fb2ff 233.5px,#6697ff 234.5px,#ffffff 235.5px,#ffffff 237.5px,#9afff4 238.5px,#ffffff 239.5px,#ffffff 247.5px,#8fc5ff 248.5px,#ffffff 249.5px,#ffffff 262.5px,#97fff7 263.5px,#8ffcff 264.5px,#ffffff 265.5px,#8fbeff 266.5px,#ffffff 267.5px,#8fa7ff 268.5px,#ffffff 269.5px,#ffffff 270.5px);height:1px"></div><div style="background:linear-gradient(90deg,#78ffbb 0.5px,#beff74 1.5px,#5cb9ff 2.5px,#67ffcb 3.5px,#85ffff 4.5px,#ffffff 5.5px,#85ffff 6.5px,#6dffc5 7.5px,#61ffd1 8.5px,#7cffb7 9.5px,#adcbff 10.5px,#5effd5 11.5px,#86ffac 12.5px,#5effd5 13.5px,#adcbff 14.5px,#85ffff 15.5px,#8affa9 16.5px,#85ffff 17.5px,#80ffb3 18.5px,#86ffac 19.5px,#5cb6ff 20.5px,#85ffff 21.5px,#55ffdd 22.5px,#5cb8ff 23.5px,#ffffff 24.5px,#ffffff 26.5px,#5c97ff 27.5px,#5c97ff 28.5px,#ffffff 29.5px,#ffffff 31.5px,#58ffdb 32.5px,#ffffff 33.5px,#ffffff 37.5px,#adcbff 38.5px,#ffffff 39.5px,#ffffff 40.5px,#6affc8 41.5px,#ffffff 42.5px,#ffffff 163.5px,#6fffc4 164.5px,#feff34 173.5px,#ffa533 178.5px,#ff4133 182.5px,#fa3333 186.5px,#cd3333 189.5px,#cd3333 198.5px,#fd3333 201.5px,#ffac33 208.5px,#f9ff39 211.5px,#82ffb1 215.5px,#65ffcd 217.5px,#ffffff 218.5px,#ffffff 227.5px,#66acff 228.5px,#6682ff 229.5px,#6680ff 230.5px,#ffffff 231.5px,#ffffff 232.5px,#8fb2ff 233.5px,#ffffff 234.5px,#ffffff 239.5px,#a3ffeb 240.5px,#ffffff 241.5px,#ffffff 244.5px,#94fffa 245.5px,#ffffff 246.5px,#ffffff 247.5px,#8fc5ff 248.5px,#ffffff 249.5px,#ffffff 262.5px,#97fff7 263.5px,#8ffcff 264.5px,#ffffff 265.5px,#8fbeff 266.5px,#ffffff 267.5px,#8fa7ff 268.5px,#ffffff 269.5px,#ffffff 270.5px);height:1px"></div><div style="background:linear-gradient(90deg,#78ffbb 0.5px,#beff74 1.5px,#5cb9ff 2.5px,#67ffcb 3.5px,#ffffff 4.5px,#ffffff 5.5px,#85ffff 6.5px,#6dffc5 7.5px,#61ffd1 8.5px,#7cffb7 9.5px,#adcbff 10.5px,#adcbff 11.5px,#86ffac 12.5px,#59ffd9 13.5px,#adcbff 14.5px,#85ffff 15.5px,#8affa9 16.5px,#ffffff 17.5px,#adcbff 18.5px,#5cbcff 19.5px,#85ffff 20.5px,#85ffff 21.5px,#55ffdd 22.5px,#5cb8ff 23.5px,#ffffff 24.5px,#ffffff 25.5px,#5c97ff 27.5px,#5c97ff 28.5px,#ffffff 29.5px,#ffffff 31.5px,#58ffdb 32.5px,#ffffff 33.5px,#ffffff 34.5px,#6bffc8 35.5px,#ffffff 36.5px,#ffffff 40.5px,#6affc8 41.5px,#ffffff 42.5px,#ffffff 163.5px,#68ffca 164.5px,#faff38 173.5px,#ffc033 177.5px,#ff4133 182.5px,#ff3f33 185.5px,#e83333 187.5px,#ce3333 189.5px,#ce3333 198.5px,#ff3333 201.5px,#ffaf33 208.5px,#f5ff3d 211.5px,#96ff9d 214.5px,#67ffcc 216.5px,#60ffd2 217.5px,#ffffff 218.5px,#ffffff 227.5px,#66acff 228.5px,#6682ff 229.5px,#6680ff 230.5px,#ffffff 231.5px,#ffffff 232.5px,#8fb2ff 233.5px,#ffffff 234.5px,#ffffff 235.5px,#99fff5 236.5px,#ffffff 237.5px,#ffffff 238.5px,#8fd3ff 239.5px,#a3ffeb 240.5px,#ffffff 241.5px,#ffffff 244.5px,#94fffa 245.5px,#ffffff 246.5px,#ffffff 247.5px,#8fc5ff 248.5px,#ffffff 249.5px,#ffffff 262.5px,#97fff7 263.5px,#8ffcff 264.5px,#ffffff 265.5px,#8fbeff 266.5px,#ffffff 267.5px,#8fa7ff 268.5px,#ffffff 269.5px,#ffffff 270.5px);height:1px"></div><div style="background:linear-gradient(90deg,#78ffbb 0.5px,#beff74 1.5px,#5cb9ff 2.5px,#67ffcb 3.5px,#ffffff 4.5px,#ffffff 5.5px,#5c9eff 6.5px,#76ffbd 7.5px,#adcbff 8.5px,#7fffb4 9.5px,#adcbff 10.5px,#adcbff 11.5px,#86ffac 12.5px,#59ffd9 13.5px,#85ffff 14.5px,#85ffff 15.5px,#8affa9 16.5px,#ffffff 17.5px,#adcbff 18.5px,#5cbcff 19.5px,#85ffff 20.5px,#85ffff 21.5px,#adcbff 22.5px,#5cb8ff 23.5px,#ffffff 24.5px,#ffffff 25.5px,#5c97ff 27.5px,#ffffff 28.5px,#ffffff 29.5px,#adcbff 30.5px,#ffffff 31.5px,#58ffdb 32.5px,#ffffff 33.5px,#ffffff 34.5px,#6bffc8 35.5px,#ffffff 36.5px,#ffffff 40.5px,#6affc8 41.5px,#ffffff 42.5px,#ffffff 163.5px,#62ffd0 164.5px,#f6ff3c 173.5px,#ffd933 176.5px,#ff4033 182.5px,#ff3f33 185.5px,#fc3333 186.5px,#cf3333 189.5px,#d03333 198.5px,#ff3433 201.5px,#ffb233 208.5px,#ffe933 210.5px,#f2ff40 211.5px,#92ffa1 214.5px,#62ffd0 216.5px,#5cffd6 217.5px,#ffffff 218.5px,#ffffff 227.5px,#66acff 228.5px,#6682ff 229.5px,#6680ff 230.5px,#ffffff 231.5px,#ffffff 232.5px,#8fb2ff 233.5px,#ffffff 234.5px,#ffffff 235.5px,#99fff5 236.5px,#ffffff 237.5px,#ffffff 238.5px,#8fd3ff 239.5px,#a3ffeb 240.5px,#ffffff 241.5px,#ffffff 244.5px,#94fffa 245.5px,#ffffff 246.5px,#ffffff 247.5px,#8fc5ff 248.5px,#ffffff 249.5px,#ffffff 262.5px,#97fff7 263.5px,#8ffcff 264.5px,#ffffff 265.5px,#8fbeff 266.5px,#ffffff 267.5px,#8fa7ff 268.5px,#ffffff 269.5px,#ffffff 270.5px);height:1px"></div><div style="background:linear-gradient(90deg,#78ffbb 0.5px,#beff74 1.5px,#5cb9ff 2.5px,#67ffcb 3.5px,#5c8eff 4.5px,#ffffff 5.5px,#5c9eff 6.5px,#76ffbd 7.5px,#adcbff 8.5px,#7fffb4 9.5px,#85ffff 10.5px,#adcbff 11.5px,#58ffda 12.5px,#5cb3ff 13.5px,#85ffff 14.5px,#85ffff 15.5px,#8affa9 16.5px,#ffffff 17.5px,#ffffff 18.5px,#5cbcff 19.5px,#5c9dff 20.5px,#83ffb0 21.5px,#adcbff 22.5px,#5cb8ff 23.5px,#ffffff 24.5px,#ffffff 25.5px,#5c97ff 27.5px,#ffffff 28.5px,#ffffff 29.5px,#adcbff 30.5px,#ffffff 31.5px,#58ffdb 32.5px,#ffffff 33.5px,#ffffff 34.5px,#6bffc8 35.5px,#ffffff 36.5px,#ffffff 40.5px,#6affc8 41.5px,#ffffff 42.5px,#ffffff 163.5px,#5effd5 164.5px,#fffd33 174.5px,#ff9633 179.5px,#ff4033 182.5px,#ff4033 185.5px,#fd3333 186.5px,#d03333 189.5px,#d03333 198.5px,#ff3533 201.5px,#ffb433 208.5px,#ffec33 210.5px,#f0ff43 211.5px,#8effa4 214.5px,#5fffd4 216.5px,#59ffd9 217.5px,#ffffff 218.5px,#ffffff 227.5px,#66acff 228.5px,#ffffff 229.5px,#6680ff 230.5px,#ffffff 231.5px,#ffffff 232.5px,#8fb2ff 233.5px,#ffffff 234.5px,#ffffff 235.5px,#99fff5 236.5px,#ffffff 237.5px,#ffffff 238.5px,#8fd3ff 239.5px,#ffffff 240.5px,#ffffff 244.5px,#94fffa 245.5px,#ffffff 246.5px,#ffffff 247.5px,#8fc5ff 248.5px,#ffffff 249.5px,#ffffff 262.5px,#97fff7 263.5px,#ffffff 264.5px,#ffffff 265.5px,#8fbeff 266.5px,#ffffff 267.5px,#ffffff 270.5px);height:1px"></div></div><div style="position:absolute;left:32px;top:193px;width:271px"><div style="background:linear-gradient(90deg,#00cdff 0.5px,#38ffc8 1.5px,#b8ff48 2.5px,#ffc900 3.5px,#ff6800 4.5px,#ff3500 5.5px,#ff2200 7.5px,#ff2a00 10.5px,#ff5d00 16.5px,#ffbb00 34.5px,#ffff00 52.5px,#baff46 61.5px,#72ff8e 66.5px,#54ffab 68.5px,#1effe2 69.5px,#03fffc 70.5px,#00e5ff 71.5px,#00b9ff 72.5px,#007dff 73.5px,#4070ff 74.5px,#ffffff 75.5px,#ffffff 76.5px,#bfcbff 77.5px,#005fff 78.5px,#00dcff 80.5px,#00fcff 81.5px,#1cffe3 82.5px,#5bffa5 83.5px,#95ff6b 91.5px,#ccff34 107.5px,#d2ff2e 117.5px,#47ffb9 150.5px,#62ff9e 159.5px,#ccff34 172.5px,#ceff32 176.5px,#eeff11 180.5px,#ffec00 181.5px,#fff400 184.5px,#46ffb9 185.5px,#00f5ff 186.5px,#0052ff 187.5px,#28ffd7 188.5px,#31ffcf 189.5px,#e6ff19 190.5px,#ffc000 191.5px,#ff7e00 192.5px,#ff4a00 195.5px,#ff0f00 196.5px,#ff0c00 198.5px,#ff5900 199.5px,#ffbe00 200.5px,#ffe000 202.5px,#ffc900 203.5px,#ff1800 204.5px,#ff1200 205.5px,#ffac00 206.5px,#c7ff38 207.5px,#69ff97 208.5px,#60ffa0 209.5px,#c4ff3c 210.5px,#fff300 211.5px,#ffe000 212.5px,#ff7e00 213.5px,#ff6200 215.5px,#ff0d00 216.5px,#ff0900 228.5px,#ffc200 270.5px);height:1px"></div><div style="background:linear-gradient(90deg,#00cbff 0.5px,#34ffcb 1.5px,#b4ff4c 2.5px,#ffcd00 3.5px,#ff6a00 4.5px,#ff3700 5.5px,#ff2300 7.5px,#ff2a00 10.5px,#ff5d00 16.5px,#ffbc00 34.5px,#ffff00 52.5px,#b9ff47 61.5px,#70ff90 66.5px,#5effa2 67.5px,#0efff1 69.5px,#00d5ff 71.5px,#005eff 73.5px,#bfcbff 74.5px,#ffffff 75.5px,#ffffff 76.5px,#4070ff 77.5px,#007dff 78.5px,#00b9ff 79.5px,#00e6ff 80.5px,#04fffb 81.5px,#22ffdd 82.5px,#5bffa4 83.5px,#96ff6a 91.5px,#ccff34 107.5px,#d2ff2e 117.5px,#47ffb9 150.5px,#61ff9f 159.5px,#cbff34 172.5px,#ceff31 176.5px,#efff10 180.5px,#ffec00 181.5px,#fff300 184.5px,#4dffb3 185.5px,#0bfff4 186.5px,#0045ff 187.5px,#29ffd7 188.5px,#31ffce 189.5px,#e6ff1a 190.5px,#ffc000 191.5px,#ff8000 192.5px,#ff4900 195.5px,#ff1000 196.5px,#ff0c00 198.5px,#ff5600 199.5px,#ffbe00 200.5px,#ffde00 202.5px,#ffc800 203.5px,#ff1a00 204.5px,#ff1200 205.5px,#ffa800 206.5px,#c9ff36 207.5px,#6dff93 208.5px,#61ff9f 209.5px,#c3ff3c 210.5px,#fff300 211.5px,#ffde00 212.5px,#ff7e00 213.5px,#ff5f00 215.5px,#ff0d00 216.5px,#ff0900 228.5px,#ffc300 270.5px);height:1px"></div><div style="background:linear-gradient(90deg,#00c9ff 0.5px,#30ffcf 1.5px,#aeff51 2.5px,#ffd100 3.5px,#ff6c00 4.5px,#ff3800 5.5px,#ff2400 7.5px,#ff2a00 10.5px,#ff5d00 16.5px,#ffbd00 34.5px,#fffe00 51.5px,#d5ff2b 58.5px,#80ff80 65.5px,#5bffa5 67.5px,#1cffe3 68.5px,#00ffff 69.5px,#00e2ff 70.5px,#0077ff 72.5px,#4070ff 73.5px,#ffffff 74.5px,#ffffff 75.5px,#9fb2ff 76.5px,#0065ff 77.5px,#00d7ff 79.5px,#00f4ff 80.5px,#12ffee 81.5px,#45ffba 82.5px,#65ff9b 84.5px,#9aff65 92.5px,#ccff33 107.5px,#d2ff2e 117.5px,#46ffb9 150.5px,#60ffa0 159.5px,#cbff35 172.5px,#cfff31 176.5px,#f1ff0e 180.5px,#ffec00 181.5px,#fff300 184.5px,#55ffab 185.5px,#21ffdf 186.5px,#0039ff 187.5px,#29ffd6 188.5px,#32ffce 189.5px,#e5ff1a 190.5px,#ffc000 191.5px,#ff8200 192.5px,#ff6700 193.5px,#ff4800 195.5px,#ff1100 196.5px,#ff0c00 198.5px,#ff5300 199.5px,#ffbe00 200.5px,#ffd600 201.5px,#ffdb00 202.5px,#ffc600 203.5px,#ff1c00 204.5px,#ff1200 205.5px,#ffa100 206.5px,#ccff33 207.5px,#71ff8e 208.5px,#62ff9e 209.5px,#c3ff3d 210.5px,#fff300 211.5px,#ffdc00 212.5px,#ff7d00 213.5px,#ff5b00 215.5px,#ff0c00 216.5px,#ff0900 228.5px,#ffc500 270.5px);height:1px"></div><div style="background:linear-gradient(90deg,#00c7ff 0.5px,#2cffd4 1.5px,#a8ff57 2.5px,#ffd700 3.5px,#ff6f00 4.5px,#ff3a00 5.5px,#ff2500 7.5px,#ff2a00 10.5px,#ff5d00 16.5px,#ffe800 43.5px,#f8ff07 53.5px,#a8ff57 62.5px,#69ff97 66.5px,#27ffd8 67.5px,#00f0ff 69.5px,#00d0ff 70.5px,#0057ff 72.5px,#dfe5ff 73.5px,#ffffff 74.5px,#eff2ff 75.5px,#205fff 76.5px,#0084ff 77.5px,#00c1ff 78.5px,#04fffb 80.5px,#20ffe0 81.5px,#54ffac 82.5px,#97ff69 91.5px,#ccff33 107.5px,#d2ff2d 117.5px,#46ffba 151.5px,#66ff9a 160.5px,#caff36 172.5px,#cfff30 176.5px,#f3ff0c 180.5px,#ffec00 181.5px,#fff200 184.5px,#5fffa1 185.5px,#36ffca 186.5px,#002cff 187.5px,#29ffd6 188.5px,#32ffcd 189.5px,#e5ff1a 190.5px,#ffc000 191.5px,#ff8400 192.5px,#ff6600 193.5px,#ff4700 195.5px,#ff1200 196.5px,#ff0b00 198.5px,#ff4f00 199.5px,#ffbe00 200.5px,#ffd600 201.5px,#ffd800 202.5px,#ffc300 203.5px,#ff1f00 204.5px,#ff1300 205.5px,#ff9b00 206.5px,#d0ff30 207.5px,#77ff89 208.5px,#64ff9c 209.5px,#c2ff3d 210.5px,#fff300 211.5px,#ffd900 212.5px,#ff7d00 213.5px,#ff5700 215.5px,#ff0b00 216.5px,#ff0900 228.5px,#ffc700 270.5px);height:1px"></div><div style="background:linear-gradient(90deg,#00c5ff 0.5px,#27ffd9 1.5px,#a2ff5e 2.5px,#ffdd00 3.5px,#ff7200 4.5px,#ff3c00 5.5px,#ff2700 7.5px,#ff2a00 10.5px,#ff5d00 16.5px,#ffe900 43.5px,#f7ff08 53.5px,#b2ff4d 61.5px,#65ff9b 66.5px,#19ffe7 67.5px,#00fbff 68.5px,#00dfff 69.5px,#0075ff 71.5px,#6084ff 72.5px,#ffffff 73.5px,#ffffff 74.5px,#809aff 75.5px,#006eff 76.5px,#00dbff 78.5px,#00f8ff 79.5px,#15ffeb 80.5px,#4bffb4 81.5px,#98ff68 91.5px,#ccff33 107.5px,#d2ff2d 117.5px,#45ffba 151.5px,#65ff9b 160.5px,#c9ff37 172.5px,#d0ff30 176.5px,#f4ff0b 180.5px,#ffec00 181.5px,#fff200 184.5px,#69ff97 185.5px,#51ffaf 186.5px,#0033ff 187.5px,#2affd6 188.5px,#33ffcc 189.5px,#e5ff1b 190.5px,#ffc000 191.5px,#ff8700 192.5px,#ff6400 193.5px,#ff4500 195.5px,#ff1300 196.5px,#ff0a00 198.5px,#ff4b00 199.5px,#ffbe00 200.5px,#ffd600 201.5px,#ffd400 202.5px,#ffc100 203.5px,#ff2200 204.5px,#ff1300 205.5px,#ff9400 206.5px,#d3ff2c 207.5px,#7dff83 208.5px,#65ff9b 209.5px,#c1ff3e 210.5px,#fff200 211.5px,#ffd600 212.5px,#ff7d00 213.5px,#ff7100 214.5px,#ff5200 215.5px,#ff0b00 216.5px,#ff0900 228.5px,#ffc900 270.5px);height:1px"></div><div style="background:linear-gradient(90deg,#00c3ff 0.5px,#22ffde 1.5px,#9bff65 2.5px,#ffe300 3.5px,#ff7600 4.5px,#ff3e00 5.5px,#ff2800 7.5px,#ff2a00 10.5px,#ff5d00 16.5px,#ffea00 43.5px,#f5ff0a 53.5px,#b0ff50 61.5px,#74ff8c 65.5px,#27ffd9 66.5px,#0bfff5 67.5px,#00edff 68.5px,#00c8ff 69.5px,#105cff 71.5px,#dfe5ff 72.5px,#ffffff 73.5px,#eff2ff 74.5px,#105aff 75.5px,#00c8ff 77.5px,#00ecff 78.5px,#08fff7 79.5px,#4dffb3 81.5px,#99ff67 91.5px,#cdff33 107.5px,#d2ff2d 117.5px,#59ffa7 145.5px,#46ffba 152.5px,#64ff9c 160.5px,#c8ff38 172.5px,#d0ff2f 176.5px,#f6ff09 180.5px,#ffec00 181.5px,#fff200 184.5px,#73ff8d 185.5px,#58ffa8 186.5px,#0040ff 187.5px,#14ffeb 188.5px,#34ffcc 189.5px,#e4ff1b 190.5px,#ffbf00 191.5px,#ff6300 193.5px,#ff4400 195.5px,#ff1400 196.5px,#ff0a00 198.5px,#ff4700 199.5px,#ffbe00 200.5px,#ffd700 201.5px,#ffbe00 203.5px,#ff2500 204.5px,#ff1300 205.5px,#ff8c00 206.5px,#d7ff28 207.5px,#83ff7d 208.5px,#67ff99 209.5px,#c1ff3f 210.5px,#fff200 211.5px,#ffd300 212.5px,#ff7d00 213.5px,#ff7100 214.5px,#ff4e00 215.5px,#ff0a00 216.5px,#ff0800 227.5px,#ffcb00 270.5px);height:1px"></div><div style="background:linear-gradient(90deg,#00c1ff 0.5px,#1cffe3 1.5px,#94ff6c 2.5px,#ffe900 3.5px,#ff7900 4.5px,#ff4000 5.5px,#ff2900 7.5px,#ff2a00 10.5px,#ff6300 17.5px,#ffe800 42.5px,#f4ff0b 53.5px,#aeff52 61.5px,#82ff7e 64.5px,#57ffa8 65.5px,#17ffe8 66.5px,#00fbff 67.5px,#00deff 68.5px,#006eff 70.5px,#809aff 71.5px,#ffffff 72.5px,#ffffff 73.5px,#6084ff 74.5px,#0073ff 75.5px,#00deff 77.5px,#00fbff 78.5px,#18ffe7 79.5px,#46ffb9 80.5px,#99ff66 91.5px,#cdff32 107.5px,#cfff30 118.5px,#5fffa1 144.5px,#45ffba 152.5px,#63ff9d 160.5px,#c7ff38 172.5px,#d1ff2f 176.5px,#f8ff07 180.5px,#ffec00 181.5px,#fff100 184.5px,#7dff83 185.5px,#60ffa0 186.5px,#004dff 187.5px,#00feff 188.5px,#34ffcb 189.5px,#e4ff1c 190.5px,#ffbf00 191.5px,#ff6100 193.5px,#ff4300 195.5px,#ff1500 196.5px,#ff0900 198.5px,#ff4300 199.5px,#ffbe00 200.5px,#ffd700 201.5px,#ffbb00 203.5px,#ff2700 204.5px,#ff1300 205.5px,#ff8500 206.5px,#dbff25 207.5px,#88ff78 208.5px,#68ff98 209.5px,#c0ff3f 210.5px,#fff200 211.5px,#ffd000 212.5px,#ff7d00 213.5px,#ff7000 214.5px,#ff4900 215.5px,#ff0900 216.5px,#ff0800 227.5px,#ffcd00 270.5px);height:1px"></div><div style="background:linear-gradient(90deg,#00beff 0.5px,#17ffe8 1.5px,#8dff73 2.5px,#ffef00 3.5px,#ff7d00 4.5px,#ff4300 5.5px,#ff2b00 7.5px,#ff2a00 10.5px,#ff6300 17.5px,#ffe900 42.5px,#f6ff09 52.5px,#b9ff47 60.5px,#7eff82 64.5px,#23ffdc 65.5px,#07fff8 66.5px,#00c6ff 68.5px,#105aff 70.5px,#eff2ff 71.5px,#ffffff 72.5px,#dfe5ff 73.5px,#0057ff 74.5px,#00cfff 76.5px,#0bfff4 78.5px,#47ffb8 80.5px,#9aff66 91.5px,#cdff32 107.5px,#cfff30 118.5px,#6aff96 142.5px,#43ffbc 151.5px,#5affa6 159.5px,#c6ff39 172.5px,#d1ff2e 176.5px,#faff05 180.5px,#ffec00 181.5px,#fff100 184.5px,#87ff79 185.5px,#67ff99 186.5px,#005aff 187.5px,#00e8ff 188.5px,#35ffca 189.5px,#e3ff1c 190.5px,#ffbf00 191.5px,#ff6000 193.5px,#ff4100 195.5px,#ff1600 196.5px,#ff0900 198.5px,#ff3f00 199.5px,#ffbe00 200.5px,#ffd700 201.5px,#ffb900 203.5px,#ff2a00 204.5px,#ff1300 205.5px,#ff7e00 206.5px,#deff21 207.5px,#8eff72 208.5px,#69ff96 209.5px,#bfff40 210.5px,#fff200 211.5px,#ffcd00 212.5px,#ff7d00 213.5px,#ff7000 214.5px,#ff0900 216.5px,#ff0800 227.5px,#ffd000 270.5px);height:1px"></div><div style="background:linear-gradient(90deg,#00bcff 0.5px,#12ffee 1.5px,#fff500 3.5px,#ff8000 4.5px,#ff4500 5.5px,#ff2c00 7.5px,#ff2a00 10.5px,#ff6300 17.5px,#ffe700 41.5px,#f5ff0a 52.5px,#b7ff49 60.5px,#8aff76 63.5px,#15ffea 65.5px,#00f8ff 66.5px,#00dbff 67.5px,#0069ff 69.5px,#809aff 70.5px,#ffffff 71.5px,#ffffff 72.5px,#4070ff 73.5px,#0077ff 74.5px,#00e2ff 76.5px,#00ffff 77.5px,#43ffbd 79.5px,#9bff65 91.5px,#ceff32 107.5px,#cfff30 118.5px,#75ff8b 140.5px,#43ffbd 151.5px,#59ffa7 159.5px,#c5ff3a 172.5px,#d2ff2d 176.5px,#fcff03 180.5px,#ffec00 181.5px,#fff000 184.5px,#92ff6e 185.5px,#6fff91 186.5px,#0067ff 187.5px,#00d2ff 188.5px,#36ffca 189.5px,#e3ff1c 190.5px,#ffbf00 191.5px,#ff5e00 193.5px,#ff4000 195.5px,#ff1700 196.5px,#ff0800 198.5px,#ff3b00 199.5px,#ffbe00 200.5px,#ffd800 201.5px,#ffb600 203.5px,#ff2d00 204.5px,#ff1400 205.5px,#ff7700 206.5px,#e2ff1d 207.5px,#94ff6c 208.5px,#6bff95 209.5px,#bfff41 210.5px,#fff200 211.5px,#ffca00 212.5px,#ff7d00 213.5px,#ff6f00 214.5px,#ff0800 216.5px,#ff0800 227.5px,#ffd200 270.5px);height:1px"></div><div style="background:linear-gradient(90deg,#00b8ff 0.5px,#0cfff3 1.5px,#7eff82 2.5px,#fffc00 3.5px,#ff8500 4.5px,#ff4800 5.5px,#ff2e00 7.5px,#ff2a00 10.5px,#ff6300 17.5px,#ffe800 41.5px,#f6ff09 51.5px,#c0ff3f 59.5px,#87ff79 63.5px,#23ffdc 64.5px,#07fff8 65.5px,#00e9ff 66.5px,#00c1ff 67.5px,#0084ff 68.5px,#205fff 69.5px,#ffffff 70.5px,#ffffff 71.5px,#bfcbff 72.5px,#005eff 73.5px,#00d5ff 75.5px,#0efff1 77.5px,#35ffcb 78.5px,#98ff68 90.5px,#cdff33 106.5px,#d0ff30 118.5px,#7cff84 139.5px,#42ffbd 151.5px,#58ffa8 159.5px,#c4ff3b 172.5px,#d3ff2d 176.5px,#fdff02 180.5px,#ffec00 181.5px,#fff000 184.5px,#9cff64 185.5px,#76ff8a 186.5px,#0074ff 187.5px,#00bcff 188.5px,#37ffc9 189.5px,#e2ff1d 190.5px,#ffbe00 191.5px,#ff5d00 193.5px,#ff3f00 195.5px,#ff1800 196.5px,#ff0800 198.5px,#ff3700 199.5px,#ffbe00 200.5px,#ffd800 201.5px,#ffb400 203.5px,#ff3000 204.5px,#ff1400 205.5px,#ff7000 206.5px,#e6ff19 207.5px,#9aff66 208.5px,#6cff94 209.5px,#beff42 210.5px,#fff200 211.5px,#ffc700 212.5px,#ff7d00 213.5px,#ff6e00 214.5px,#ff0700 216.5px,#ff0700 227.5px,#ffd400 270.5px);height:1px"></div><div style="background:linear-gradient(90deg,#00b4ff 0.5px,#05fffa 1.5px,#75ff8a 2.5px,#faff05 3.5px,#ff8b00 4.5px,#ff4d00 5.5px,#ff3000 7.5px,#ff2b00 10.5px,#ff6800 18.5px,#ffe600 40.5px,#f7ff08 50.5px,#d0ff2f 57.5px,#94ff6c 62.5px,#71ff8f 63.5px,#18ffe7 64.5px,#00f9ff 65.5px,#00dbff 66.5px,#0066ff 68.5px,#9fb2ff 69.5px,#ffffff 70.5px,#ffffff 71.5px,#205fff 72.5px,#0081ff 73.5px,#00e5ff 75.5px,#03fffc 76.5px,#40ffc0 78.5px,#9dff63 91.5px,#ceff31 107.5px,#d0ff2f 118.5px,#82ff7e 138.5px,#5dffa2 145.5px,#30ffd0 146.5px,#30ffd0 147.5px,#4bffb4 148.5px,#47ffb9 155.5px,#6dff93 162.5px,#c3ff3c 172.5px,#c9ff36 175.5px,#ffff00 180.5px,#ffeb00 181.5px,#ffef00 184.5px,#a6ff5a 185.5px,#7eff82 186.5px,#0081ff 187.5px,#00a6ff 188.5px,#37ffc8 189.5px,#e2ff1d 190.5px,#ffbe00 191.5px,#ff9700 192.5px,#ff5b00 193.5px,#ff3e00 195.5px,#ff1900 196.5px,#ff0700 198.5px,#ff3300 199.5px,#ffbe00 200.5px,#ffd900 201.5px,#ffb100 203.5px,#ff3300 204.5px,#ff1400 205.5px,#ff6900 206.5px,#e9ff16 207.5px,#a0ff60 208.5px,#6eff92 209.5px,#fff200 211.5px,#ffc500 212.5px,#ff7d00 213.5px,#ff6e00 214.5px,#ff0700 216.5px,#ff0700 227.5px,#ffd700 270.5px);height:1px"></div><div style="background:linear-gradient(90deg,#00aeff 0.5px,#00fbff 1.5px,#6cff94 2.5px,#f1ff0f 3.5px,#ff9300 4.5px,#ff5300 5.5px,#ff3200 7.5px,#ff2c00 10.5px,#ff6e00 19.5px,#ffe800 40.5px,#f5ff0a 50.5px,#c5ff3a 58.5px,#90ff70 62.5px,#60ffa0 63.5px,#14ffeb 64.5px,#00f3ff 65.5px,#00cfff 66.5px,#1057ff 68.5px,#bfcbff 69.5px,#ffffff 70.5px,#9fb2ff 71.5px,#0066ff 72.5px,#00daff 74.5px,#00f5ff 75.5px,#12ffee 76.5px,#3dffc3 77.5px,#75ff8b 85.5px,#a5ff5b 93.5px,#ceff31 107.5px,#d0ff2f 118.5px,#88ff78 137.5px,#6aff96 143.5px,#21ffdf 144.5px,#06fff9 146.5px,#10fff0 148.5px,#21ffdf 149.5px,#42ffbd 150.5px,#55ffab 159.5px,#c2ff3d 172.5px,#c9ff36 175.5px,#fffd00 180.5px,#ffeb00 181.5px,#ffef00 184.5px,#b0ff50 185.5px,#85ff7b 186.5px,#008eff 187.5px,#0090ff 188.5px,#38ffc8 189.5px,#e2ff1e 190.5px,#ffbe00 191.5px,#ff9a00 192.5px,#ff5a00 193.5px,#ff3c00 195.5px,#ff1a00 196.5px,#ff0600 198.5px,#ff2f00 199.5px,#ffbe00 200.5px,#ffd900 201.5px,#ffaf00 203.5px,#ff3500 204.5px,#ff1400 205.5px,#ff6100 206.5px,#edff12 207.5px,#a5ff5a 208.5px,#6fff91 209.5px,#fff100 211.5px,#ffc200 212.5px,#ff7d00 213.5px,#ff6d00 214.5px,#ff3100 215.5px,#ff0600 216.5px,#ff0700 227.5px,#ffd900 270.5px);height:1px"></div><div style="background:linear-gradient(90deg,#00a5ff 0.5px,#00f1ff 1.5px,#56ffaa 3.5px,#ffeb00 4.5px,#ff5c00 5.5px,#ff3500 7.5px,#ff2d00 10.5px,#ff7300 20.5px,#ffea00 40.5px,#f5ff0a 49.5px,#cbff35 57.5px,#8cff74 62.5px,#6aff96 63.5px,#17ffe8 64.5px,#00f7ff 65.5px,#00d8ff 66.5px,#0070ff 68.5px,#0052ff 70.5px,#105dff 71.5px,#0085ff 72.5px,#00c1ff 73.5px,#00e9ff 74.5px,#07fff8 75.5px,#3cffc3 77.5px,#7fff81 86.5px,#b1ff4e 96.5px,#d1ff2e 109.5px,#cdff32 119.5px,#89ff77 137.5px,#71ff8f 142.5px,#21ffdf 143.5px,#06fff9 144.5px,#00e2ff 146.5px,#00efff 148.5px,#06fff9 149.5px,#41ffbf 151.5px,#54ffac 159.5px,#c1ff3e 172.5px,#c9ff36 175.5px,#fffb00 180.5px,#ffeb00 182.5px,#ffee00 184.5px,#baff46 185.5px,#8cff73 186.5px,#00a3ff 187.5px,#0083ff 188.5px,#39ffc7 189.5px,#e1ff1e 190.5px,#ffbe00 191.5px,#ff9c00 192.5px,#ff5800 193.5px,#ff3b00 195.5px,#ff1b00 196.5px,#ff0600 198.5px,#ff2a00 199.5px,#ffbe00 200.5px,#ffd900 201.5px,#ffb900 202.5px,#ffac00 203.5px,#ff3800 204.5px,#ff1500 205.5px,#ff5a00 206.5px,#f1ff0e 207.5px,#71ff8f 209.5px,#fff100 211.5px,#ff7c00 213.5px,#ff6d00 214.5px,#ff2c00 215.5px,#ff0600 216.5px,#ff0a00 228.5px,#ffdb00 270.5px);height:1px"></div><div style="background:linear-gradient(90deg,#0099ff 0.5px,#00ecff 2.5px,#24ffdb 3.5px,#76ff8a 4.5px,#ff9700 5.5px,#ff4800 6.5px,#ff2d00 9.5px,#ffe900 39.5px,#f5ff0a 48.5px,#c7ff39 57.5px,#88ff78 62.5px,#77ff89 63.5px,#20ffdf 64.5px,#04fffb 65.5px,#00b0ff 68.5px,#008fff 71.5px,#00f8ff 74.5px,#39ffc7 76.5px,#6eff92 84.5px,#a3ff5d 92.5px,#cfff30 107.5px,#d1ff2f 118.5px,#90ff70 136.5px,#6fff91 142.5px,#10fff0 143.5px,#00dcff 145.5px,#00dcff 148.5px,#0afff5 150.5px,#41ffbf 152.5px,#53ffad 159.5px,#c0ff3f 172.5px,#c9ff36 175.5px,#fff900 180.5px,#ffeb00 182.5px,#ffee00 184.5px,#c4ff3b 185.5px,#94ff6c 186.5px,#00b9ff 187.5px,#0076ff 188.5px,#39ffc6 189.5px,#e1ff1e 190.5px,#ffbe00 191.5px,#ff9f00 192.5px,#ff5700 193.5px,#ff3a00 195.5px,#ff1c00 196.5px,#ff0500 198.5px,#ff2600 199.5px,#ffbe00 200.5px,#ffda00 201.5px,#ffb600 202.5px,#ffa900 203.5px,#ff3b00 204.5px,#ff1500 205.5px,#ff5300 206.5px,#f4ff0b 207.5px,#72ff8e 209.5px,#fff100 211.5px,#ff7c00 213.5px,#ff6c00 214.5px,#ff2800 215.5px,#ff0500 216.5px,#ff0a00 228.5px,#ffdd00 270.5px);height:1px"></div><div style="background:linear-gradient(90deg,#0022ff 0.5px,#0059ff 1.5px,#00b4ff 2.5px,#00fcff 3.5px,#41ffbf 4.5px,#fffe00 5.5px,#ff5000 6.5px,#ff3300 8.5px,#ff3900 11.5px,#ffec00 39.5px,#f5ff0a 47.5px,#c3ff3d 57.5px,#83ff7d 62.5px,#73ff8d 63.5px,#16ffe9 65.5px,#00ffff 66.5px,#00d4ff 70.5px,#00d1ff 71.5px,#0bfff4 74.5px,#38ffc8 76.5px,#6fff91 84.5px,#a4ff5c 92.5px,#cfff30 107.5px,#d1ff2e 118.5px,#91ff6f 136.5px,#78ff88 141.5px,#30ffd0 142.5px,#06fff9 143.5px,#00d5ff 145.5px,#00caff 147.5px,#00f2ff 150.5px,#0efff1 151.5px,#41ffbf 153.5px,#51ffae 159.5px,#c0ff40 172.5px,#c9ff36 175.5px,#fff800 180.5px,#ffeb00 182.5px,#ffee00 184.5px,#ceff31 185.5px,#9bff64 186.5px,#00cfff 187.5px,#0069ff 188.5px,#3affc6 189.5px,#e0ff1f 190.5px,#ffbd00 191.5px,#ffa200 192.5px,#ff5500 193.5px,#ff3800 195.5px,#ff1000 197.5px,#ff0500 198.5px,#ff2200 199.5px,#ffbe00 200.5px,#ffda00 201.5px,#ffb200 202.5px,#ffa700 203.5px,#ff3e00 204.5px,#ff1500 205.5px,#ff4c00 206.5px,#f8ff07 207.5px,#74ff8c 209.5px,#fff100 211.5px,#ff7c00 213.5px,#ff6b00 214.5px,#ff2300 215.5px,#ff0400 216.5px,#ff0a00 228.5px,#ffe000 270.5px);height:1px"></div><div style="background:linear-gradient(90deg,#0000e5 0.5px,#000fff 1.5px,#0081ff 2.5px,#00e3ff 3.5px,#2dffd3 4.5px,#beff42 5.5px,#ff5800 6.5px,#ff3600 8.5px,#ff3b00 11.5px,#ffef00 39.5px,#f1ff0e 47.5px,#beff42 57.5px,#6eff92 63.5px,#3dffc2 65.5px,#19ffe6 66.5px,#00fdff 69.5px,#00f4ff 71.5px,#0cfff3 73.5px,#34ffcc 75.5px,#67ff99 83.5px,#a1ff5f 91.5px,#d0ff30 107.5px,#ceff31 119.5px,#92ff6e 136.5px,#7aff86 141.5px,#30ffd0 142.5px,#06fff9 143.5px,#00d5ff 145.5px,#00c3ff 147.5px,#00dfff 150.5px,#00f6ff 151.5px,#12ffed 152.5px,#40ffbf 153.5px,#50ffb0 159.5px,#bfff41 172.5px,#caff36 175.5px,#fff600 180.5px,#ffeb00 183.5px,#ffed00 184.5px,#d8ff27 185.5px,#a3ff5d 186.5px,#00e5ff 187.5px,#005cff 188.5px,#3bffc5 189.5px,#e0ff1f 190.5px,#ffbd00 191.5px,#ffa400 192.5px,#ff5400 193.5px,#ff0400 198.5px,#ff1e00 199.5px,#ffbe00 200.5px,#ffda00 201.5px,#ffaf00 202.5px,#ffa400 203.5px,#ff4100 204.5px,#ff1500 205.5px,#ff4500 206.5px,#fcff03 207.5px,#75ff8b 209.5px,#fff100 211.5px,#ff7c00 213.5px,#ff6b00 214.5px,#ff1e00 215.5px,#ff0400 216.5px,#ff0a00 228.5px,#ffe200 270.5px);height:1px"></div><div style="background:linear-gradient(90deg,#4040da 0.5px,#0000ff 1.5px,#00d1ff 3.5px,#1cffe3 4.5px,#87ff79 5.5px,#ff6600 6.5px,#ff4500 7.5px,#ff3700 10.5px,#fff300 39.5px,#eaff15 48.5px,#b0ff4f 58.5px,#23ffdc 68.5px,#14ffeb 71.5px,#36ffc9 76.5px,#a2ff5e 91.5px,#d0ff2f 107.5px,#cfff31 119.5px,#98ff67 135.5px,#6fff91 142.5px,#10fff0 143.5px,#00dcff 145.5px,#00c4ff 148.5px,#00e0ff 151.5px,#00faff 152.5px,#16ffe9 153.5px,#40ffbf 154.5px,#57ffa9 160.5px,#beff42 172.5px,#caff36 175.5px,#f8ff07 179.5px,#ffeb00 182.5px,#ffed00 184.5px,#e2ff1d 185.5px,#aaff55 186.5px,#00fbff 187.5px,#004fff 188.5px,#3bffc4 189.5px,#e0ff20 190.5px,#ffbd00 191.5px,#ffa700 192.5px,#ff5200 193.5px,#ff0300 198.5px,#ff1a00 199.5px,#ffbe00 200.5px,#ffdb00 201.5px,#ffab00 202.5px,#ffa200 203.5px,#ff4300 204.5px,#ff1600 205.5px,#ff3e00 206.5px,#ffff00 207.5px,#76ff89 209.5px,#fff100 211.5px,#ff7c00 213.5px,#ff6a00 214.5px,#ff1a00 215.5px,#ff0300 216.5px,#ff0a00 228.5px,#ffe400 270.5px);height:1px"></div><div style="background:linear-gradient(90deg,#8080e2 0.5px,#0000f7 1.5px,#0056ff 2.5px,#00caff 3.5px,#15ffea 4.5px,#69ff97 5.5px,#ff8900 6.5px,#ff4900 7.5px,#ff3900 9.5px,#ffa300 26.5px,#fffa00 40.5px,#c3ff3c 55.5px,#85ff7b 61.5px,#39ffc7 66.5px,#2fffd0 74.5px,#60ffa0 82.5px,#a2ff5d 91.5px,#d0ff2f 107.5px,#cfff30 119.5px,#9aff66 135.5px,#77ff89 142.5px,#21ffdf 143.5px,#06fff9 144.5px,#00d1ff 147.5px,#00c5ff 149.5px,#00e3ff 152.5px,#00ffff 153.5px,#40ffc0 155.5px,#5effa2 161.5px,#bdff43 172.5px,#caff36 175.5px,#faff05 179.5px,#ffeb00 182.5px,#ffec00 184.5px,#ecff13 185.5px,#b2ff4e 186.5px,#11ffee 187.5px,#0042ff 188.5px,#3cffc3 189.5px,#dfff20 190.5px,#ffbd00 191.5px,#ffaa00 192.5px,#ff5100 193.5px,#ff0300 198.5px,#ff1600 199.5px,#ffbe00 200.5px,#ffdb00 201.5px,#ffa800 202.5px,#ff9f00 203.5px,#ff4600 204.5px,#ff1600 205.5px,#ff3700 206.5px,#fffb00 207.5px,#c8ff37 208.5px,#78ff88 209.5px,#fff100 211.5px,#ff7c00 213.5px,#ff6a00 214.5px,#ff1500 215.5px,#ff0200 216.5px,#ff0b00 228.5px,#ffe600 270.5px);height:1px"></div><div style="background:linear-gradient(90deg,#8f8fe5 0.5px,#0000ef 1.5px,#003fff 2.5px,#00b7ff 3.5px,#08fff7 4.5px,#51ffaf 5.5px,#ffb600 6.5px,#ff4e00 7.5px,#ff3c00 9.5px,#ff8e00 23.5px,#fff900 39.5px,#c4ff3b 54.5px,#8eff72 60.5px,#36ffc9 66.5px,#2effd1 74.5px,#61ff9f 82.5px,#a3ff5d 91.5px,#d1ff2f 107.5px,#cfff30 119.5px,#9bff65 135.5px,#73ff8d 143.5px,#1cffe3 144.5px,#02fffd 145.5px,#00d9ff 147.5px,#00c7ff 150.5px,#00e8ff 153.5px,#04fffb 154.5px,#3fffc0 156.5px,#75ff8b 164.5px,#bbff44 172.5px,#caff36 175.5px,#fbff04 179.5px,#ffeb00 181.5px,#ffec00 184.5px,#f6ff09 185.5px,#b9ff47 186.5px,#27ffd9 187.5px,#0035ff 188.5px,#3dffc3 189.5px,#dfff21 190.5px,#ffbc00 191.5px,#ffac00 192.5px,#ff4f00 193.5px,#ff0200 198.5px,#ff1200 199.5px,#ffbe00 200.5px,#ffdb00 201.5px,#ffa500 202.5px,#ff9d00 203.5px,#ff4900 204.5px,#ff1600 205.5px,#ff3000 206.5px,#fff700 207.5px,#ceff32 208.5px,#7aff86 209.5px,#fff100 211.5px,#ffad00 212.5px,#ff7c00 213.5px,#ff6900 214.5px,#ff1000 215.5px,#ff0100 217.5px,#ff0b00 228.5px,#ffe900 270.5px);height:1px"></div><div style="background:linear-gradient(90deg,#bfbfef 0.5px,#0000e8 1.5px,#0030ff 2.5px,#00a6ff 3.5px,#00faff 4.5px,#44ffbc 5.5px,#ffe800 6.5px,#ff5300 7.5px,#ff4000 9.5px,#ff8100 21.5px,#fff800 38.5px,#bfff40 54.5px,#89ff77 60.5px,#35ffcb 66.5px,#31ffcf 75.5px,#a4ff5c 91.5px,#d1ff2f 107.5px,#d0ff2f 119.5px,#a2ff5e 134.5px,#6eff92 144.5px,#18ffe7 145.5px,#00fdff 146.5px,#00e1ff 147.5px,#00c5ff 150.5px,#00ecff 154.5px,#08fff7 155.5px,#40ffc0 157.5px,#baff46 172.5px,#caff36 175.5px,#fcff03 179.5px,#ffeb00 181.5px,#ffeb00 184.5px,#fffe00 185.5px,#c0ff3f 186.5px,#33ffcd 187.5px,#002aff 188.5px,#39ffc7 189.5px,#deff21 190.5px,#ffbc00 191.5px,#ffaf00 192.5px,#ff4e00 193.5px,#ff0200 198.5px,#ff0f00 199.5px,#ffbd00 200.5px,#ffdb00 201.5px,#ffa100 202.5px,#ff9a00 203.5px,#ff4c00 204.5px,#ff1700 205.5px,#ff2900 206.5px,#fff200 207.5px,#d3ff2c 208.5px,#7cff84 209.5px,#fff100 211.5px,#ffab00 212.5px,#ff7c00 213.5px,#ff6900 214.5px,#ff0d00 215.5px,#ff0100 218.5px,#ff0b00 228.5px,#ffb300 259.5px,#ffeb00 270.5px);height:1px"></div><div style="background:linear-gradient(90deg,#efeffb 0.5px,#0000dd 1.5px,#001aff 2.5px,#0094ff 3.5px,#00f2ff 4.5px,#3dffc2 5.5px,#fffd00 6.5px,#ff5700 7.5px,#ff4300 9.5px,#ff7300 19.5px,#fff700 37.5px,#c0ff3f 53.5px,#92ff6e 59.5px,#34ffcb 66.5px,#31ffce 75.5px,#a5ff5b 91.5px,#d1ff2e 107.5px,#ceff31 120.5px,#a3ff5c 134.5px,#70ff90 144.5px,#62ff9e 145.5px,#14ffeb 146.5px,#00f8ff 147.5px,#00d6ff 149.5px,#00cdff 150.5px,#0079ff 152.5px,#0079ff 153.5px,#00a7ff 154.5px,#00f0ff 155.5px,#26ffd9 157.5px,#42ffbd 158.5px,#b7ff49 172.5px,#c9ff36 175.5px,#fdff02 179.5px,#ffeb00 181.5px,#ffea00 184.5px,#fff600 185.5px,#c7ff38 186.5px,#36ffc9 187.5px,#0037ff 188.5px,#24ffdc 189.5px,#ddff22 190.5px,#ffbc00 191.5px,#ffb000 192.5px,#ff4e00 193.5px,#ff0100 198.5px,#ff0c00 199.5px,#ffbd00 200.5px,#ffdb00 201.5px,#ff9f00 202.5px,#ff9800 203.5px,#ff4e00 204.5px,#ff1800 205.5px,#ff2400 206.5px,#ffed00 207.5px,#d9ff27 208.5px,#7fff81 209.5px,#b6ff4a 210.5px,#fff300 211.5px,#ffaa00 212.5px,#ff7d00 213.5px,#ff6800 214.5px,#ff0b00 215.5px,#fe0000 219.5px,#ff0b00 228.5px,#ffa900 257.5px,#ffee00 270.5px);height:1px"></div><div style="background:linear-gradient(90deg,#ffffff 0.5px,#0000dc 1.5px,#001aff 2.5px,#0094ff 3.5px,#00f2ff 4.5px,#3dffc3 5.5px,#fffd00 6.5px,#ff5d00 7.5px,#ff4700 9.5px,#ff6c00 18.5px,#fff400 36.5px,#ebff14 43.5px,#9bff65 58.5px,#35ffca 66.5px,#33ffcc 75.5px,#a6ff5a 91.5px,#d2ff2e 107.5px,#cfff30 120.5px,#a5ff5a 134.5px,#6aff96 145.5px,#10ffef 147.5px,#00deff 149.5px,#00d4ff 150.5px,#0079ff 151.5px,#0035ff 152.5px,#0035ff 153.5px,#0070ff 154.5px,#00cbff 155.5px,#00f4ff 156.5px,#10ffef 157.5px,#3fffc0 158.5px,#b5ff4b 173.5px,#feff01 179.5px,#ffed00 180.5px,#ffef00 185.5px,#ceff31 186.5px,#3dffc3 187.5px,#0041ff 188.5px,#12ffed 189.5px,#dcff24 190.5px,#ffbc00 191.5px,#ffb100 192.5px,#ff4f00 193.5px,#ff0100 198.5px,#ff0900 199.5px,#ffbc00 200.5px,#ffda00 201.5px,#ff9d00 202.5px,#ff9600 203.5px,#ff1a00 205.5px,#ff2000 206.5px,#ffe500 207.5px,#ddff22 208.5px,#84ff7c 209.5px,#b5ff4b 210.5px,#fff600 211.5px,#ffaa00 212.5px,#ff7f00 213.5px,#ff6900 214.5px,#ff0b00 215.5px,#ff0000 218.5px,#ff0b00 228.5px,#ff9f00 255.5px,#fff100 270.5px);height:1px"></div><div style="background:linear-gradient(90deg,#ffffff 0.5px,#0000dc 1.5px,#001aff 2.5px,#0094ff 3.5px,#00f2ff 4.5px,#3dffc3 5.5px,#fffd00 6.5px,#ff6300 7.5px,#ff4b00 9.5px,#ff6600 17.5px,#fff100 35.5px,#ecff13 42.5px,#99ff67 58.5px,#39ffc7 66.5px,#37ffc8 75.5px,#a7ff59 91.5px,#d2ff2d 107.5px,#d0ff2f 120.5px,#a8ff58 134.5px,#6dff93 145.5px,#63ff9c 146.5px,#26ffd9 147.5px,#00f0ff 149.5px,#00dcff 150.5px,#0079ff 151.5px,#0035ff 152.5px,#000eff 153.5px,#007aff 155.5px,#00dfff 156.5px,#00f8ff 157.5px,#14ffeb 158.5px,#43ffbc 159.5px,#c6ff39 175.5px,#feff01 179.5px,#ffed00 180.5px,#ffea00 185.5px,#d5ff2b 186.5px,#46ffb9 187.5px,#004aff 188.5px,#04fffb 189.5px,#daff26 190.5px,#ffbc00 191.5px,#ffb000 192.5px,#ff5100 193.5px,#ff2a00 196.5px,#ff0100 198.5px,#ff0800 199.5px,#ffba00 200.5px,#ffd800 201.5px,#ff9c00 202.5px,#ff9400 203.5px,#ff1d00 205.5px,#ff1e00 206.5px,#ffdc00 207.5px,#e2ff1d 208.5px,#8aff76 209.5px,#b3ff4d 210.5px,#fffb00 211.5px,#ffac00 212.5px,#ff8100 213.5px,#ff6900 214.5px,#ff0e00 215.5px,#fe0000 217.5px,#ff0b00 228.5px,#ff9b00 254.5px,#fff500 270.5px);height:1px"></div><div style="background:linear-gradient(90deg,#ffffff 0.5px,#0000dc 1.5px,#001aff 2.5px,#0094ff 3.5px,#00f2ff 4.5px,#3dffc3 5.5px,#fffd00 6.5px,#ff6a00 7.5px,#ff4f00 9.5px,#ff6200 16.5px,#fff400 35.5px,#e9ff16 42.5px,#97ff68 58.5px,#3fffc1 66.5px,#3dffc2 75.5px,#a8ff58 91.5px,#d3ff2c 108.5px,#d2ff2e 120.5px,#abff55 134.5px,#71ff8f 145.5px,#5effa2 147.5px,#22ffdd 148.5px,#08fff7 149.5px,#00ecff 150.5px,#0065ff 152.5px,#002dff 153.5px,#0016ff 154.5px,#0045ff 155.5px,#0085ff 156.5px,#00e1ff 157.5px,#00fdff 158.5px,#18ffe7 159.5px,#45ffbb 160.5px,#8bff75 169.5px,#b1ff4e 174.5px,#feff01 179.5px,#ffee00 180.5px,#ffe700 185.5px,#dbff24 186.5px,#52ffae 187.5px,#0053ff 188.5px,#00f5ff 189.5px,#d8ff28 190.5px,#ffbd00 191.5px,#ffaf00 192.5px,#ff5400 193.5px,#ff2e00 196.5px,#ff0100 198.5px,#ff0800 199.5px,#ffb800 200.5px,#ffd600 201.5px,#ff9c00 202.5px,#ff9300 203.5px,#ff2000 205.5px,#ff1d00 206.5px,#ffd200 207.5px,#e6ff19 208.5px,#91ff6e 209.5px,#b1ff4f 210.5px,#fdff02 211.5px,#ffb000 212.5px,#ff8500 213.5px,#ff6a00 214.5px,#ff1200 215.5px,#fe0000 216.5px,#ff0700 227.5px,#ff9100 252.5px,#fffa00 270.5px);height:1px"></div><div style="background:linear-gradient(90deg,#ffffff 0.5px,#0000dc 1.5px,#001aff 2.5px,#0094ff 3.5px,#00f2ff 4.5px,#3dffc3 5.5px,#fffd00 6.5px,#ff7100 7.5px,#ff5a00 8.5px,#ff5600 13.5px,#ff9300 22.5px,#fff800 35.5px,#9fff61 57.5px,#46ffb9 66.5px,#44ffbb 75.5px,#a9ff57 91.5px,#d4ff2c 108.5px,#d1ff2e 121.5px,#aaff56 135.5px,#76ff8a 145.5px,#59ffa7 148.5px,#1effe1 149.5px,#04fffb 150.5px,#00e8ff 151.5px,#005aff 153.5px,#0026ff 154.5px,#001eff 155.5px,#004fff 156.5px,#0090ff 157.5px,#00e5ff 158.5px,#02fffd 159.5px,#43ffbd 161.5px,#7fff81 169.5px,#acff54 174.5px,#f4ff0b 178.5px,#ffff00 179.5px,#ffed00 181.5px,#ffe400 185.5px,#e1ff1e 186.5px,#5effa2 187.5px,#005bff 188.5px,#00e6ff 189.5px,#d5ff2a 190.5px,#ffbd00 191.5px,#ffad00 192.5px,#ff5700 193.5px,#ff3200 196.5px,#ff0100 198.5px,#ff0800 199.5px,#ffb600 200.5px,#ffd300 201.5px,#ff9c00 202.5px,#ff9100 203.5px,#ff2300 205.5px,#ff1c00 206.5px,#ffc700 207.5px,#eaff16 208.5px,#99ff67 209.5px,#afff51 210.5px,#f6ff09 211.5px,#ffb300 212.5px,#ff6b00 214.5px,#ff1800 215.5px,#fe0000 216.5px,#ff0800 227.5px,#ff8d00 251.5px,#ffff00 270.5px);height:1px"></div><div style="background:linear-gradient(90deg,#ffffff 0.5px,#0000dc 1.5px,#001aff 2.5px,#0094ff 3.5px,#00f2ff 4.5px,#3dffc3 5.5px,#fffd00 6.5px,#ff7800 7.5px,#ff6000 8.5px,#ff5900 13.5px,#ff8d00 21.5px,#ffef00 33.5px,#efff11 39.5px,#8fff71 59.5px,#4fffb1 66.5px,#4cffb4 75.5px,#adff52 92.5px,#d6ff2a 109.5px,#d3ff2c 121.5px,#a9ff56 136.5px,#7bff85 145.5px,#55ffab 149.5px,#1affe5 150.5px,#00ffff 151.5px,#00e3ff 152.5px,#0090ff 153.5px,#004fff 154.5px,#001eff 155.5px,#0026ff 156.5px,#009bff 158.5px,#00eaff 159.5px,#06fff9 160.5px,#3effc2 162.5px,#95ff6b 173.5px,#f5ff0b 178.5px,#ffed00 182.5px,#ffe100 185.5px,#e8ff17 186.5px,#6aff95 187.5px,#0064ff 188.5px,#00d8ff 189.5px,#d3ff2d 190.5px,#ffbe00 191.5px,#ffac00 192.5px,#ff5a00 193.5px,#ff3600 196.5px,#ff0100 198.5px,#ff0800 199.5px,#ffb400 200.5px,#ffd100 201.5px,#ff9c00 202.5px,#ff9000 203.5px,#ff2700 205.5px,#ff1c00 206.5px,#ffbc00 207.5px,#edff12 208.5px,#a1ff5e 209.5px,#adff53 210.5px,#f0ff10 211.5px,#ffb700 212.5px,#ff6c00 214.5px,#ff1d00 215.5px,#fe0000 216.5px,#ff0800 227.5px,#ff8f00 251.5px,#feff01 269.5px,#faff05 270.5px);height:1px"></div><div style="background:linear-gradient(90deg,#ffffff 0.5px,#0000dc 1.5px,#001aff 2.5px,#0094ff 3.5px,#00f2ff 4.5px,#3dffc3 5.5px,#fffd00 6.5px,#ff8000 7.5px,#ff6600 8.5px,#ff5b00 13.5px,#ff9000 21.5px,#fff300 33.5px,#ebff14 39.5px,#91ff6f 59.5px,#58ffa7 66.5px,#54ffac 75.5px,#aeff51 92.5px,#d9ff27 111.5px,#cfff31 125.5px,#90ff70 143.5px,#52ffad 150.5px,#16ffe9 151.5px,#00faff 152.5px,#00e0ff 153.5px,#0085ff 154.5px,#0045ff 155.5px,#0016ff 156.5px,#002dff 157.5px,#00ebff 160.5px,#03fffc 161.5px,#37ffc8 163.5px,#8cff74 173.5px,#e5ff1a 177.5px,#ffff00 179.5px,#ffef00 181.5px,#ffde00 185.5px,#eeff11 186.5px,#77ff89 187.5px,#006cff 188.5px,#00c9ff 189.5px,#d0ff2f 190.5px,#ffbe00 191.5px,#ffaa00 192.5px,#ff5e00 193.5px,#ff3a00 196.5px,#ff1400 197.5px,#ff0100 198.5px,#ff0700 199.5px,#ffb200 200.5px,#ffce00 201.5px,#ff9c00 202.5px,#ff8e00 203.5px,#ff2a00 205.5px,#ff1c00 206.5px,#ffb100 207.5px,#f1ff0e 208.5px,#a9ff56 209.5px,#abff55 210.5px,#e9ff16 211.5px,#ffbb00 212.5px,#ff6d00 214.5px,#ff2200 215.5px,#fe0000 216.5px,#ff0800 227.5px,#ff8b00 250.5px,#feff01 268.5px,#f4ff0b 270.5px);height:1px"></div><div style="background:linear-gradient(90deg,#ffffff 0.5px,#0000dc 1.5px,#001aff 2.5px,#0094ff 3.5px,#00f2ff 4.5px,#3dffc3 5.5px,#fffd00 6.5px,#ff8800 7.5px,#ff6b00 8.5px,#ff5e00 13.5px,#ff8900 20.5px,#fff100 32.5px,#edff12 38.5px,#8bff75 60.5px,#60ffa0 67.5px,#5cffa4 75.5px,#b3ff4d 93.5px,#ddff22 114.5px,#bdff43 133.5px,#86ff7a 145.5px,#4fffb0 151.5px,#12ffed 152.5px,#00f6ff 153.5px,#00dfff 154.5px,#007aff 155.5px,#000eff 157.5px,#0067ff 159.5px,#00e8ff 161.5px,#01fffe 162.5px,#33ffcd 164.5px,#84ff7c 173.5px,#e5ff1a 177.5px,#ffff00 179.5px,#ffef00 181.5px,#ffdb00 185.5px,#f4ff0b 186.5px,#84ff7c 187.5px,#0075ff 188.5px,#00baff 189.5px,#ceff31 190.5px,#ffbe00 191.5px,#ffa900 192.5px,#ff6100 193.5px,#ff3e00 196.5px,#ff1400 197.5px,#ff0100 198.5px,#ff0700 199.5px,#ffb000 200.5px,#ffcc00 201.5px,#ff9c00 202.5px,#ff8d00 203.5px,#ff2e00 205.5px,#ff1b00 206.5px,#ffa600 207.5px,#f5ff0a 208.5px,#b1ff4e 209.5px,#a9ff57 210.5px,#e2ff1d 211.5px,#ffbf00 212.5px,#ff6e00 214.5px,#ff2800 215.5px,#fd0000 216.5px,#ff0900 227.5px,#ff8e00 250.5px,#f8ff07 268.5px,#efff11 270.5px);height:1px"></div><div style="background:linear-gradient(90deg,#ffffff 0.5px,#0000dc 1.5px,#001aff 2.5px,#0094ff 3.5px,#00f2ff 4.5px,#3dffc3 5.5px,#fffd00 6.5px,#ff8f00 7.5px,#ff7100 8.5px,#ff5f00 12.5px,#ff8200 19.5px,#fff400 32.5px,#e1ff1e 40.5px,#82ff7e 62.5px,#64ff9c 70.5px,#6bff95 77.5px,#b7ff49 94.5px,#e0ff20 116.5px,#bdff42 134.5px,#8cff74 145.5px,#54ffac 151.5px,#0efff1 153.5px,#00f2ff 154.5px,#00cbff 155.5px,#0070ff 156.5px,#0035ff 157.5px,#000dff 158.5px,#0060ff 160.5px,#0099ff 161.5px,#00e5ff 162.5px,#00fdff 163.5px,#33ffcc 165.5px,#7eff82 173.5px,#d3ff2c 176.5px,#ffff00 179.5px,#ffd800 185.5px,#faff05 186.5px,#90ff70 187.5px,#007eff 188.5px,#00acff 189.5px,#ccff34 190.5px,#ffbf00 191.5px,#ffa700 192.5px,#ff6400 193.5px,#ff4200 196.5px,#ff1500 197.5px,#ff0100 198.5px,#ff0700 199.5px,#ffad00 200.5px,#ffc900 201.5px,#ff9c00 202.5px,#ff8c00 203.5px,#ff3100 205.5px,#ff1b00 206.5px,#ff9b00 207.5px,#f9ff06 208.5px,#baff46 209.5px,#a7ff59 210.5px,#dcff24 211.5px,#ffc300 212.5px,#ff6f00 214.5px,#ff2d00 215.5px,#fd0000 216.5px,#ff0900 227.5px,#ff9100 250.5px,#f8ff07 267.5px,#e9ff17 270.5px);height:1px"></div><div style="background:linear-gradient(90deg,#ffffff 0.5px,#0000dc 1.5px,#001aff 2.5px,#0094ff 3.5px,#00f2ff 4.5px,#3dffc3 5.5px,#fffd00 6.5px,#ff9700 7.5px,#ff7800 8.5px,#ff6200 12.5px,#ff8400 19.5px,#fff800 32.5px,#6eff92 69.5px,#6dff93 76.5px,#bbff45 95.5px,#e0ff1f 117.5px,#beff42 135.5px,#92ff6e 145.5px,#50ffb0 152.5px,#24ffdb 153.5px,#0afff5 154.5px,#00eeff 155.5px,#006eff 157.5px,#0011ff 159.5px,#002cff 160.5px,#0092ff 162.5px,#00e2ff 163.5px,#00faff 164.5px,#12ffed 165.5px,#36ffc9 166.5px,#7bff85 173.5px,#d2ff2d 176.5px,#fffe00 179.5px,#ffef00 182.5px,#ffd400 184.5px,#ffd500 185.5px,#fffd00 186.5px,#9dff63 187.5px,#0086ff 188.5px,#009dff 189.5px,#c9ff36 190.5px,#ffbf00 191.5px,#ffa500 192.5px,#ff6800 193.5px,#ff4500 196.5px,#ff1500 197.5px,#ff0100 198.5px,#ff0700 199.5px,#ffab00 200.5px,#ffc700 201.5px,#ff9d00 202.5px,#ff8a00 203.5px,#ff3500 205.5px,#ff1b00 206.5px,#fdff03 208.5px,#c2ff3e 209.5px,#a5ff5b 210.5px,#d5ff2a 211.5px,#ffc600 212.5px,#ff7000 214.5px,#fd0000 216.5px,#ff0a00 227.5px,#ff9c00 251.5px,#f8ff07 266.5px,#e2ff1d 270.5px);height:1px"></div><div style="background:linear-gradient(90deg,#dfdff7 0.5px,#0000df 1.5px,#001cff 2.5px,#0096ff 3.5px,#00f2ff 4.5px,#3effc2 5.5px,#fffb00 6.5px,#ffa000 7.5px,#ff7e00 8.5px,#ff6600 12.5px,#ff8700 19.5px,#fffc00 32.5px,#78ff88 68.5px,#72ff8e 76.5px,#bfff41 96.5px,#e1ff1f 118.5px,#c2ff3d 135.5px,#98ff68 145.5px,#4dffb2 153.5px,#20ffdf 154.5px,#06fff9 155.5px,#00edff 156.5px,#003fff 159.5px,#0016ff 160.5px,#0027ff 161.5px,#008cff 163.5px,#00e0ff 164.5px,#0ffff0 166.5px,#46ffb9 168.5px,#7bff85 173.5px,#e5ff1b 177.5px,#fffe00 179.5px,#fff000 182.5px,#ffd200 184.5px,#ffd300 185.5px,#fff700 186.5px,#a9ff57 187.5px,#008fff 188.5px,#008fff 189.5px,#c7ff39 190.5px,#ffc000 191.5px,#ffa400 192.5px,#ff6b00 193.5px,#ff4900 196.5px,#ff1600 197.5px,#ff0100 198.5px,#ff0700 199.5px,#ffa900 200.5px,#ffc400 201.5px,#ff9d00 202.5px,#ff8900 203.5px,#ff1a00 206.5px,#fffe00 208.5px,#a3ff5d 210.5px,#ceff31 211.5px,#ffca00 212.5px,#ff3800 215.5px,#fc0000 216.5px,#ff0b00 227.5px,#ffa000 251.5px,#f8ff07 265.5px,#dcff24 270.5px);height:1px"></div><div style="background:linear-gradient(90deg,#9f9fe8 0.5px,#0000ec 1.5px,#0038ff 2.5px,#00aeff 3.5px,#00ffff 4.5px,#47ffb8 5.5px,#ffe200 6.5px,#ffa900 7.5px,#ff8600 8.5px,#ff6c00 11.5px,#ff7a00 17.5px,#fffa00 31.5px,#94ff6b 60.5px,#75ff8b 75.5px,#c3ff3c 97.5px,#e1ff1e 119.5px,#c4ff3c 136.5px,#9eff62 145.5px,#4cffb3 154.5px,#20ffe0 155.5px,#00f0ff 157.5px,#00deff 158.5px,#007bff 159.5px,#001bff 161.5px,#0022ff 162.5px,#0085ff 164.5px,#00dfff 165.5px,#0dfff2 167.5px,#24ffdc 168.5px,#50ffaf 169.5px,#7dff83 173.5px,#e5ff1b 177.5px,#fffe00 179.5px,#fff000 182.5px,#ffcf00 184.5px,#ffd000 185.5px,#fff000 186.5px,#b6ff4a 187.5px,#009dff 188.5px,#0086ff 189.5px,#c4ff3b 190.5px,#ffc000 191.5px,#ffa200 192.5px,#ff6e00 193.5px,#ff4d00 196.5px,#ff1600 197.5px,#ff0100 198.5px,#ff0700 199.5px,#ffa700 200.5px,#ffc200 201.5px,#ff6700 204.5px,#ff1a00 206.5px,#ff7a00 207.5px,#fffa00 208.5px,#a1ff5f 210.5px,#c8ff38 211.5px,#ffce00 212.5px,#ff3e00 215.5px,#fc0000 216.5px,#ff0600 226.5px,#ffac00 252.5px,#f8ff07 264.5px,#d5ff2b 270.5px);height:1px"></div><div style="background:linear-gradient(90deg,#6060dd 0.5px,#0000f8 1.5px,#0055ff 2.5px,#00c8ff 3.5px,#12ffed 4.5px,#5bffa4 5.5px,#ffed00 6.5px,#ffb300 7.5px,#ff8e00 8.5px,#ff7000 11.5px,#ff7d00 17.5px,#fffe00 31.5px,#9eff61 56.5px,#79ff87 75.5px,#c7ff38 98.5px,#e3ff1c 119.5px,#c8ff37 136.5px,#a4ff5c 145.5px,#4dffb3 155.5px,#22ffdd 156.5px,#00f3ff 158.5px,#00dfff 159.5px,#0082ff 160.5px,#0020ff 162.5px,#001dff 163.5px,#007eff 165.5px,#00deff 166.5px,#0afff5 168.5px,#21ffde 169.5px,#5dffa3 170.5px,#81ff7f 173.5px,#f9ff06 178.5px,#fff100 182.5px,#ffcc00 184.5px,#ffcd00 185.5px,#ffea00 186.5px,#c2ff3d 187.5px,#00acff 188.5px,#007eff 189.5px,#c2ff3e 190.5px,#ffc000 191.5px,#ff7200 193.5px,#ff5100 196.5px,#ff1600 197.5px,#ff0100 198.5px,#ff0700 199.5px,#ffa500 200.5px,#ffbf00 201.5px,#ff6900 204.5px,#ff1a00 206.5px,#ff6f00 207.5px,#fff600 208.5px,#daff25 209.5px,#9fff61 210.5px,#c1ff3e 211.5px,#ffd200 212.5px,#ff4300 215.5px,#fc0000 216.5px,#ff0700 226.5px,#ffb800 253.5px,#f8ff07 263.5px,#ceff32 270.5px);height:1px"></div><div style="background:linear-gradient(90deg,#1010dd 0.5px,#0008ff 1.5px,#00dbff 3.5px,#24ffdb 4.5px,#9dff63 5.5px,#fff900 6.5px,#ffbe00 7.5px,#ff9800 8.5px,#ff7a00 10.5px,#ff7700 15.5px,#ffae00 22.5px,#fcff03 31.5px,#9fff61 55.5px,#7fff81 76.5px,#c6ff39 97.5px,#e5ff1a 119.5px,#cdff32 136.5px,#aaff56 145.5px,#4effb2 156.5px,#25ffda 157.5px,#00f6ff 159.5px,#00e0ff 160.5px,#0088ff 161.5px,#0025ff 163.5px,#0019ff 164.5px,#0078ff 166.5px,#00c8ff 167.5px,#00efff 168.5px,#07fff8 169.5px,#1fffe1 170.5px,#6bff95 171.5px,#9aff66 174.5px,#faff05 178.5px,#fff100 182.5px,#ffca00 184.5px,#ffca00 185.5px,#ffe300 186.5px,#cfff31 187.5px,#00baff 188.5px,#0075ff 189.5px,#bfff40 190.5px,#ffc100 191.5px,#ff7500 193.5px,#ff5500 196.5px,#ff1700 197.5px,#ff0100 198.5px,#ff0700 199.5px,#ffa300 200.5px,#ffbd00 201.5px,#ff6b00 204.5px,#ff1900 206.5px,#ff6400 207.5px,#fff200 208.5px,#e2ff1d 209.5px,#9dff63 210.5px,#baff45 211.5px,#ffd600 212.5px,#ff4900 215.5px,#fc0000 216.5px,#ff0800 226.5px,#ffc500 254.5px,#f8ff07 262.5px,#c6ff39 270.5px);height:1px"></div><div style="background:linear-gradient(90deg,#0008ff 0.5px,#0043ff 1.5px,#00a4ff 2.5px,#00f4ff 3.5px,#3affc5 4.5px,#b3ff4c 5.5px,#f8ff07 6.5px,#ffa200 8.5px,#ff8000 10.5px,#ff7b00 15.5px,#ffb200 22.5px,#feff01 30.5px,#a0ff60 53.5px,#83ff7d 77.5px,#c6ff3a 96.5px,#e6ff19 120.5px,#cfff30 137.5px,#b0ff50 145.5px,#54ffac 156.5px,#4fffb1 157.5px,#11ffee 159.5px,#00f9ff 160.5px,#00e1ff 161.5px,#008fff 162.5px,#0029ff 164.5px,#0014ff 165.5px,#0071ff 167.5px,#00ecff 169.5px,#08fff7 170.5px,#22ffde 171.5px,#7aff86 172.5px,#b5ff4a 175.5px,#faff05 178.5px,#fff200 182.5px,#ffc700 184.5px,#ffc700 185.5px,#ffdd00 186.5px,#dbff24 187.5px,#00c9ff 188.5px,#006cff 189.5px,#bdff42 190.5px,#ffc100 191.5px,#ff7800 193.5px,#ff5900 196.5px,#ff1700 197.5px,#ff0100 198.5px,#ff0700 199.5px,#ffa100 200.5px,#ffba00 201.5px,#ff6d00 204.5px,#ff1900 206.5px,#ff5900 207.5px,#ffee00 208.5px,#eaff15 209.5px,#9bff65 210.5px,#b4ff4c 211.5px,#ffda00 212.5px,#ff7500 214.5px,#ff4e00 215.5px,#fb0000 216.5px,#ff0900 226.5px,#ffcb00 254.5px,#f9ff06 261.5px,#bfff40 270.5px);height:1px"></div><div style="background:linear-gradient(90deg,#006cff 0.5px,#00caff 2.5px,#0efff1 3.5px,#ecff14 6.5px,#ffd600 7.5px,#ffac00 8.5px,#ff8700 10.5px,#ff7f00 15.5px,#ffb600 22.5px,#fbff04 30.5px,#9eff62 53.5px,#89ff77 78.5px,#c5ff3a 95.5px,#e8ff17 120.5px,#d4ff2c 137.5px,#b5ff4a 145.5px,#5bffa5 156.5px,#42ffbe 159.5px,#13ffec 160.5px,#00fbff 161.5px,#00e4ff 162.5px,#0096ff 163.5px,#002eff 165.5px,#000fff 166.5px,#006bff 168.5px,#00efff 170.5px,#25ffda 172.5px,#8fff71 173.5px,#fbff04 178.5px,#fff200 182.5px,#ffc400 184.5px,#ffc400 185.5px,#ffd600 186.5px,#e8ff18 187.5px,#00d8ff 188.5px,#0064ff 189.5px,#bbff45 190.5px,#ffc200 191.5px,#ff7c00 193.5px,#ff5d00 196.5px,#ff1700 197.5px,#ff0100 198.5px,#ff0700 199.5px,#ff9e00 200.5px,#ffb700 201.5px,#ff6f00 204.5px,#ff1900 206.5px,#ff4e00 207.5px,#ffea00 208.5px,#f2ff0d 209.5px,#99ff67 210.5px,#adff52 211.5px,#ffdd00 212.5px,#ff7600 214.5px,#ff5400 215.5px,#fb0000 216.5px,#ff0a00 226.5px,#ffd900 255.5px,#faff05 260.5px,#b8ff47 270.5px);height:1px"></div><div style="background:linear-gradient(90deg,#0072ff 0.5px,#00c2ff 2.5px,#01fffe 3.5px,#dfff21 6.5px,#ffe300 7.5px,#ffb700 8.5px,#ff8d00 10.5px,#ff9000 17.5px,#fdff02 29.5px,#a0ff5f 51.5px,#89ff77 77.5px,#c7ff38 95.5px,#eaff15 120.5px,#d8ff27 137.5px,#bbff45 145.5px,#5dffa3 157.5px,#57ffa8 160.5px,#16ffe9 161.5px,#00feff 162.5px,#00e6ff 163.5px,#009cff 164.5px,#000aff 167.5px,#0073ff 169.5px,#00deff 170.5px,#0ffff1 172.5px,#31ffce 173.5px,#a1ff5e 174.5px,#fcff03 178.5px,#fff300 182.5px,#ffc200 184.5px,#ffd000 186.5px,#f4ff0b 187.5px,#00e6ff 188.5px,#005bff 189.5px,#b8ff47 190.5px,#ffc200 191.5px,#ff7f00 193.5px,#ff6100 196.5px,#ff1800 197.5px,#ff0100 198.5px,#ff0700 199.5px,#ff9c00 200.5px,#ffb500 201.5px,#ff7200 204.5px,#ff4e00 205.5px,#ff1800 206.5px,#ff4300 207.5px,#ffe600 208.5px,#faff05 209.5px,#97ff69 210.5px,#a7ff59 211.5px,#ffe100 212.5px,#ff7600 214.5px,#ff5900 215.5px,#fb0000 216.5px,#ff0600 225.5px,#ffdf00 255.5px,#f4ff0b 260.5px,#b1ff4e 270.5px);height:1px"></div><div style="background:linear-gradient(90deg,#0077ff 0.5px,#00baff 2.5px,#00f2ff 3.5px,#3cffc3 4.5px,#d2ff2e 6.5px,#ffef00 7.5px,#ffc100 8.5px,#ffa400 9.5px,#ff9700 10.5px,#ffa900 19.5px,#ffbe00 22.5px,#faff06 29.5px,#9eff62 51.5px,#8cff74 77.5px,#c9ff36 95.5px,#ecff13 121.5px,#d9ff26 138.5px,#c0ff40 145.5px,#65ff9b 157.5px,#60ffa0 161.5px,#19ffe6 162.5px,#02fffd 163.5px,#00e9ff 164.5px,#006aff 166.5px,#0032ff 167.5px,#0010ff 168.5px,#007bff 170.5px,#00dfff 171.5px,#00f7ff 172.5px,#12ffed 173.5px,#85ff7b 175.5px,#8fff71 176.5px,#b1ff4e 177.5px,#eaff15 178.5px,#fffd00 179.5px,#fff300 182.5px,#ffbf00 184.5px,#ffc900 186.5px,#fffe00 187.5px,#00f5ff 188.5px,#0053ff 189.5px,#b6ff4a 190.5px,#ffc300 191.5px,#ff9900 192.5px,#ff7a00 194.5px,#ff6500 196.5px,#ff1900 197.5px,#ff0100 198.5px,#ff0600 199.5px,#ff9a00 200.5px,#ffb200 201.5px,#ff7f00 203.5px,#ff7400 204.5px,#ff5100 205.5px,#ff1800 206.5px,#ff3900 207.5px,#ffe200 208.5px,#fffc00 209.5px,#95ff6b 210.5px,#a1ff5f 211.5px,#ffe500 212.5px,#ffb600 213.5px,#ff7700 214.5px,#ff5e00 215.5px,#fb0000 216.5px,#ff0700 225.5px,#ffe500 255.5px,#f6ff09 259.5px,#abff55 270.5px);height:1px"></div><div style="background:linear-gradient(90deg,#007cff 0.5px,#00b2ff 2.5px,#00e5ff 3.5px,#2dffd2 4.5px,#c4ff3b 6.5px,#fffc00 7.5px,#ffac00 9.5px,#ffc500 18.5px,#ffc200 22.5px,#fdff02 28.5px,#a9ff57 47.5px,#8fff71 61.5px,#93ff6c 79.5px,#c9ff36 94.5px,#eeff11 121.5px,#ddff22 138.5px,#c4ff3b 145.5px,#6dff93 157.5px,#6aff96 162.5px,#1cffe4 163.5px,#05fffa 164.5px,#00ecff 165.5px,#0062ff 167.5px,#002cff 168.5px,#0017ff 169.5px,#0045ff 170.5px,#0084ff 171.5px,#00e0ff 172.5px,#00faff 173.5px,#1cffe3 175.5px,#27ffd8 177.5px,#6aff96 178.5px,#c1ff3f 179.5px,#fff900 180.5px,#fff400 182.5px,#ffbe00 184.5px,#ffc300 186.5px,#fff200 187.5px,#04fffb 188.5px,#004aff 189.5px,#b4ff4b 190.5px,#ffc300 191.5px,#ff9800 192.5px,#ff6a00 196.5px,#ff1b00 197.5px,#ff0200 198.5px,#ff0600 199.5px,#ff9800 200.5px,#ffaf00 201.5px,#ff7e00 203.5px,#ff7500 204.5px,#ff5400 205.5px,#ff1800 206.5px,#ff2f00 207.5px,#ffde00 208.5px,#fff400 209.5px,#95ff6b 210.5px,#9cff64 211.5px,#ffe700 212.5px,#ffb900 213.5px,#ff7800 214.5px,#ff6300 215.5px,#fa0000 216.5px,#ff0800 225.5px,#fff400 256.5px,#d1ff2e 263.5px,#a4ff5b 270.5px);height:1px"></div><div style="background:linear-gradient(90deg,#0080ff 0.5px,#00abff 2.5px,#00d8ff 3.5px,#1fffe0 4.5px,#b7ff48 6.5px,#f5ff0a 7.5px,#ffd800 8.5px,#ffc500 9.5px,#ffdd00 17.5px,#ffd200 23.5px,#f9ff06 28.5px,#a6ff5a 47.5px,#8eff71 60.5px,#95ff6a 79.5px,#cbff34 94.5px,#f0ff0f 121.5px,#deff21 139.5px,#c1ff3f 146.5px,#73ff8c 158.5px,#76ff8a 163.5px,#1effe1 164.5px,#04fffb 165.5px,#00e8ff 166.5px,#0059ff 168.5px,#0026ff 169.5px,#001dff 170.5px,#004cff 171.5px,#008dff 172.5px,#00e3ff 173.5px,#00feff 174.5px,#0bfff4 177.5px,#1cffe3 178.5px,#55ffab 179.5px,#bcff43 180.5px,#fff800 181.5px,#fff400 182.5px,#ffbe00 184.5px,#ffbf00 186.5px,#ffe800 187.5px,#12ffed 188.5px,#0041ff 189.5px,#9dff63 190.5px,#ffc400 191.5px,#ff9700 192.5px,#ff7000 196.5px,#ff1f00 197.5px,#ff0500 198.5px,#ff0700 199.5px,#ff9500 200.5px,#ffac00 201.5px,#ff9d00 202.5px,#ff7d00 203.5px,#ff7600 204.5px,#ff5600 205.5px,#ff1800 206.5px,#ff2700 207.5px,#ffda00 208.5px,#ffec00 209.5px,#96ff69 210.5px,#9aff66 211.5px,#ffe800 212.5px,#ffb900 213.5px,#ff7700 214.5px,#ff6600 215.5px,#fa0000 216.5px,#ff0a00 225.5px,#fbff04 257.5px,#9eff61 270.5px);height:1px"></div><div style="background:linear-gradient(90deg,#0084ff 0.5px,#00a3ff 2.5px,#00cbff 3.5px,#11ffee 4.5px,#aaff56 6.5px,#e8ff17 7.5px,#ffe400 8.5px,#ffe000 10.5px,#ffec00 20.5px,#ffe100 24.5px,#f5ff0a 28.5px,#a3ff5d 47.5px,#8dff73 60.5px,#9cff64 80.5px,#cfff30 95.5px,#f2ff0d 121.5px,#dfff20 140.5px,#beff42 147.5px,#7dff83 158.5px,#82ff7e 164.5px,#1bffe5 165.5px,#01fffe 166.5px,#00e5ff 167.5px,#0091ff 168.5px,#0020ff 170.5px,#0023ff 171.5px,#0095ff 173.5px,#00e1ff 174.5px,#00dfff 176.5px,#04fffb 178.5px,#1bffe4 179.5px,#54ffab 180.5px,#bcff43 181.5px,#fff400 182.5px,#ffc000 184.5px,#ffbb00 186.5px,#ffe000 187.5px,#30ffcf 188.5px,#002dff 189.5px,#42ffbd 190.5px,#ffc500 191.5px,#ff9800 192.5px,#ff7900 196.5px,#ff2800 197.5px,#ff0a00 198.5px,#ff0700 199.5px,#ff9100 200.5px,#ffa800 201.5px,#ff9c00 202.5px,#ff7c00 203.5px,#ff7600 204.5px,#ff5700 205.5px,#ff1700 206.5px,#ff2200 207.5px,#ffd600 208.5px,#ffe600 209.5px,#9cff64 210.5px,#9dff62 211.5px,#ffe600 212.5px,#ffb800 213.5px,#ff7600 214.5px,#ff6700 215.5px,#fb0000 216.5px,#ff0600 224.5px,#feff01 256.5px,#98ff68 270.5px);height:1px"></div><div style="background:linear-gradient(90deg,#0086ff 0.5px,#009bff 2.5px,#00bfff 3.5px,#04fffb 4.5px,#9bff64 6.5px,#d9ff26 7.5px,#fff200 8.5px,#fffc00 21.5px,#fff000 25.5px,#eaff15 29.5px,#97ff69 50.5px,#90ff70 70.5px,#a2ff5e 81.5px,#d3ff2c 96.5px,#f4ff0b 122.5px,#deff21 142.5px,#87ff79 158.5px,#8dff72 164.5px,#7cff84 165.5px,#17ffe8 166.5px,#00fcff 167.5px,#00e1ff 168.5px,#0088ff 169.5px,#0048ff 170.5px,#001aff 171.5px,#0029ff 172.5px,#009eff 174.5px,#00abff 176.5px,#00d5ff 177.5px,#04fffb 179.5px,#1bffe4 180.5px,#54ffab 181.5px,#bcff43 182.5px,#ffd700 183.5px,#ffc100 185.5px,#ffb900 186.5px,#ffdc00 187.5px,#9bff65 188.5px,#0044ff 189.5px,#0afff5 190.5px,#ffc600 191.5px,#ff9b00 192.5px,#ff8f00 195.5px,#ff8400 196.5px,#ff3400 197.5px,#ff1100 198.5px,#ff0700 199.5px,#ff8d00 200.5px,#ffa300 201.5px,#ff9b00 202.5px,#ff7c00 203.5px,#ff7600 204.5px,#ff5600 205.5px,#ff1700 206.5px,#ff2100 207.5px,#ffd200 208.5px,#ffe000 209.5px,#a5ff5b 210.5px,#a5ff5b 211.5px,#ffe000 212.5px,#ffb400 213.5px,#ff7300 214.5px,#ff6500 215.5px,#fb0000 216.5px,#ff0800 224.5px,#f7ff08 256.5px,#92ff6e 270.5px);height:1px"></div><div style="background:linear-gradient(90deg,#007bff 0.5px,#0093ff 2.5px,#00b4ff 3.5px,#00f7ff 4.5px,#c8ff38 7.5px,#fbff04 8.5px,#f1ff0e 21.5px,#ffff00 26.5px,#bbff44 38.5px,#8cff74 56.5px,#9bff64 79.5px,#d1ff2f 94.5px,#f6ff09 121.5px,#e3ff1d 141.5px,#91ff6f 158.5px,#9bff65 165.5px,#14ffeb 167.5px,#00f8ff 168.5px,#00dfff 169.5px,#0080ff 170.5px,#0013ff 172.5px,#002fff 173.5px,#0066ff 174.5px,#005bff 175.5px,#0075ff 176.5px,#00d5ff 178.5px,#04fffb 180.5px,#1bffe4 181.5px,#56ffaa 182.5px,#c7ff39 183.5px,#ffca00 184.5px,#ffb900 186.5px,#ffd900 187.5px,#a2ff5e 188.5px,#0064ff 189.5px,#00d4ff 190.5px,#ffc700 191.5px,#ff9e00 192.5px,#ffaa00 193.5px,#ff9100 196.5px,#ff4300 197.5px,#ff1a00 198.5px,#ff0800 199.5px,#ff8800 200.5px,#ff9d00 201.5px,#ff9a00 202.5px,#ff7c00 203.5px,#ff7400 204.5px,#ff5400 205.5px,#ff1700 206.5px,#ff2100 207.5px,#ffce00 208.5px,#ffdb00 209.5px,#b0ff50 210.5px,#b0ff50 211.5px,#ffd900 212.5px,#ffae00 213.5px,#ff6f00 214.5px,#ff6300 215.5px,#fb0000 216.5px,#ff0a00 224.5px,#faff05 255.5px,#91ff6f 269.5px,#8cff74 270.5px);height:1px"></div><div style="background:linear-gradient(90deg,#0008ff 0.5px,#008bff 2.5px,#00acff 3.5px,#00eeff 4.5px,#39ffc6 5.5px,#b3ff4d 7.5px,#e6ff19 8.5px,#ebff14 10.5px,#deff21 20.5px,#f1ff0e 27.5px,#a8ff58 43.5px,#8bff75 57.5px,#9dff63 79.5px,#d3ff2d 94.5px,#f8ff07 121.5px,#e4ff1c 142.5px,#9bff65 158.5px,#a9ff57 166.5px,#40ffbf 167.5px,#10ffef 168.5px,#00f5ff 169.5px,#00deff 170.5px,#0077ff 171.5px,#003cff 172.5px,#303bff 173.5px,#9fb2ff 174.5px,#cfd7ff 175.5px,#3067ff 176.5px,#0075ff 177.5px,#00d5ff 179.5px,#05fffa 181.5px,#1effe2 182.5px,#78ff88 183.5px,#fbff04 184.5px,#ffca00 185.5px,#ffb800 186.5px,#ffd700 187.5px,#a9ff57 188.5px,#0083ff 189.5px,#009eff 190.5px,#ffc900 191.5px,#ffa100 192.5px,#ffb600 193.5px,#ff9e00 196.5px,#ff5300 197.5px,#ff2400 198.5px,#ff0800 199.5px,#ff8300 200.5px,#ff9800 201.5px,#ff9800 202.5px,#ff7b00 203.5px,#ff7200 204.5px,#ff5100 205.5px,#ff1700 206.5px,#ff2200 207.5px,#ffca00 208.5px,#ffd700 209.5px,#bcff43 210.5px,#bcff43 211.5px,#ffd100 212.5px,#ffa800 213.5px,#ff6b00 214.5px,#ff5f00 215.5px,#fc0000 216.5px,#ff0b00 224.5px,#fdff02 254.5px,#8bff75 269.5px,#86ff79 270.5px);height:1px"></div><div style="background:linear-gradient(90deg,#0909dc 0.5px,#0008ff 1.5px,#007bff 2.5px,#00a5ff 3.5px,#00e6ff 4.5px,#2effd1 5.5px,#ceff31 8.5px,#dfff20 9.5px,#cbff34 19.5px,#dfff20 29.5px,#97ff69 48.5px,#8aff76 64.5px,#a8ff58 81.5px,#d8ff27 96.5px,#faff05 122.5px,#e4ff1b 143.5px,#a5ff5b 158.5px,#b7ff48 167.5px,#27ffd8 168.5px,#0dfff2 169.5px,#00efff 170.5px,#00baff 171.5px,#006fff 172.5px,#1042ff 173.5px,#eff2ff 174.5px,#ffffff 175.5px,#eff2ff 176.5px,#3067ff 177.5px,#0075ff 178.5px,#00d6ff 180.5px,#0ffff1 182.5px,#3dffc2 183.5px,#caff36 184.5px,#ffd000 185.5px,#ffb800 186.5px,#ffd500 187.5px,#b0ff50 188.5px,#00b1ff 189.5px,#0078ff 190.5px,#ffca00 191.5px,#ffa500 192.5px,#ffc200 193.5px,#ffac00 196.5px,#ff6400 197.5px,#ff0900 199.5px,#ff7e00 200.5px,#ff9700 202.5px,#ff7b00 203.5px,#ff7000 204.5px,#ff4f00 205.5px,#ff1700 206.5px,#ff2400 207.5px,#ffc700 208.5px,#ffd200 209.5px,#c9ff37 210.5px,#c9ff36 211.5px,#ffc900 212.5px,#ffa100 213.5px,#ff6700 214.5px,#ff5c00 215.5px,#fc0000 216.5px,#ff0d00 224.5px,#ffff00 253.5px,#8bff75 268.5px,#81ff7f 270.5px);height:1px"></div><div style="background:linear-gradient(90deg,#1010d1 0.5px,#0000ff 1.5px,#0064ff 2.5px,#00e0ff 4.5px,#24ffdb 5.5px,#b3ff4d 8.5px,#cfff31 9.5px,#b9ff46 18.5px,#d5ff2a 30.5px,#90ff70 50.5px,#91ff6f 69.5px,#adff52 82.5px,#deff22 98.5px,#fbff04 122.5px,#e5ff1a 144.5px,#aeff51 158.5px,#c2ff3d 167.5px,#19ffe6 169.5px,#00fbff 170.5px,#00deff 171.5px,#006eff 173.5px,#708fff 174.5px,#ffffff 175.5px,#eff2ff 177.5px,#3067ff 178.5px,#0078ff 179.5px,#00e5ff 181.5px,#06fff9 182.5px,#25ffda 183.5px,#aeff52 184.5px,#ffd500 185.5px,#ffb800 186.5px,#ffd300 187.5px,#b7ff49 188.5px,#00e7ff 189.5px,#0058ff 190.5px,#eeff11 191.5px,#ffa800 192.5px,#ffce00 193.5px,#ffba00 196.5px,#ff3800 198.5px,#ff0900 199.5px,#ff7800 200.5px,#ff9500 202.5px,#ff6e00 204.5px,#ff4c00 205.5px,#ff1700 206.5px,#ff2500 207.5px,#ffc300 208.5px,#ffce00 209.5px,#d5ff2a 210.5px,#d6ff2a 211.5px,#ffc000 212.5px,#ff9a00 213.5px,#ff6300 214.5px,#ff5800 215.5px,#fd0000 216.5px,#ff0800 223.5px,#f9ff06 253.5px,#85ff7b 268.5px,#7bff85 270.5px);height:1px"></div><div style="background:linear-gradient(90deg,#1111c9 0.5px,#0000f7 1.5px,#0056ff 2.5px,#00dbff 4.5px,#1affe5 5.5px,#65ff9b 7.5px,#beff41 9.5px,#a8ff57 18.5px,#ccff33 31.5px,#8aff76 53.5px,#97ff69 72.5px,#aeff52 82.5px,#deff21 98.5px,#fcff03 123.5px,#e5ff1a 145.5px,#baff46 159.5px,#cdff33 167.5px,#a8ff58 168.5px,#27ffd9 169.5px,#0bfff5 170.5px,#00cbff 172.5px,#0057ff 174.5px,#dfe5ff 175.5px,#ffffff 176.5px,#ffffff 177.5px,#9fb2ff 178.5px,#006bff 179.5px,#00e3ff 181.5px,#04fffb 182.5px,#24ffdc 183.5px,#a9ff56 184.5px,#ffda00 185.5px,#ffb800 186.5px,#ffd100 187.5px,#beff42 188.5px,#1dffe2 189.5px,#0039ff 190.5px,#71ff8f 191.5px,#ffac00 192.5px,#ffda00 193.5px,#ffc700 196.5px,#ff0a00 199.5px,#ff7300 200.5px,#ff9400 202.5px,#ff6c00 204.5px,#ff4a00 205.5px,#ff1700 206.5px,#ff2700 207.5px,#ffbf00 208.5px,#ffc900 209.5px,#e2ff1d 210.5px,#e3ff1d 211.5px,#ffb800 212.5px,#ff9400 213.5px,#ff5f00 214.5px,#ff5500 215.5px,#fe0000 216.5px,#ff0a00 223.5px,#fbff04 252.5px,#85ff7b 267.5px,#75ff8b 270.5px);height:1px"></div><div style="background:linear-gradient(90deg,#0404c4 0.5px,#0000ef 1.5px,#003fff 2.5px,#0097ff 3.5px,#00d7ff 4.5px,#10ffef 5.5px,#48ffb8 7.5px,#aeff51 9.5px,#97ff68 18.5px,#beff42 33.5px,#8aff76 54.5px,#97ff69 72.5px,#b2ff4d 83.5px,#e6ff1a 102.5px,#fdff02 126.5px,#e3ff1c 147.5px,#c3ff3c 159.5px,#d9ff26 168.5px,#66ff99 169.5px,#19ffe6 170.5px,#00feff 171.5px,#00e2ff 172.5px,#0077ff 174.5px,#2061ff 175.5px,#809aff 177.5px,#4070ff 178.5px,#007fff 179.5px,#00beff 180.5px,#00eaff 181.5px,#09fff6 182.5px,#29ffd6 183.5px,#b9ff47 184.5px,#ffe000 185.5px,#ffb700 186.5px,#ffd000 187.5px,#c5ff3b 188.5px,#88ff78 189.5px,#0043ff 190.5px,#05fffa 191.5px,#ffaf00 192.5px,#ffe700 193.5px,#ffd500 196.5px,#ff0a00 199.5px,#ff6e00 200.5px,#ff9200 202.5px,#ff6a00 204.5px,#ff1700 206.5px,#ff2800 207.5px,#ffbb00 208.5px,#ffc500 209.5px,#efff10 210.5px,#efff10 211.5px,#ffaf00 212.5px,#ff5b00 214.5px,#ff5100 215.5px,#fe0000 216.5px,#ff0b00 223.5px,#feff01 251.5px,#7fff81 267.5px,#6fff91 270.5px);height:1px"></div><div style="background:linear-gradient(90deg,#0f0fc2 0.5px,#0000e8 1.5px,#0030ff 2.5px,#0093ff 3.5px,#00d2ff 4.5px,#06fff9 5.5px,#2affd5 7.5px,#5affa6 8.5px,#9aff66 9.5px,#88ff78 19.5px,#b6ff49 34.5px,#8aff76 54.5px,#98ff68 73.5px,#b5ff4a 84.5px,#f1ff0e 110.5px,#f9ff06 136.5px,#ddff22 151.5px,#cfff31 160.5px,#e1ff1e 168.5px,#b1ff4f 169.5px,#34ffcc 170.5px,#0efff1 171.5px,#00d6ff 173.5px,#00a6ff 174.5px,#007fff 176.5px,#0070ff 178.5px,#00d7ff 180.5px,#00f4ff 181.5px,#13ffec 182.5px,#54ffac 183.5px,#dfff20 184.5px,#ffe500 185.5px,#ffb700 186.5px,#ffce00 187.5px,#ccff34 188.5px,#c8ff38 189.5px,#0077ff 190.5px,#00acff 191.5px,#ffb300 192.5px,#fff300 193.5px,#ffe300 196.5px,#ffa600 197.5px,#ff0b00 199.5px,#ff6900 200.5px,#ff9100 202.5px,#ff6800 204.5px,#ff1700 206.5px,#ff2a00 207.5px,#ffb700 208.5px,#ffc000 209.5px,#fbff04 210.5px,#fcff03 211.5px,#ffa700 212.5px,#ff5700 214.5px,#ff4d00 215.5px,#ff0000 216.5px,#ff0d00 223.5px,#f7ff08 251.5px,#79ff87 267.5px,#69ff97 270.5px);height:1px"></div><div style="background:linear-gradient(90deg,#2d2dc8 0.5px,#0000dd 1.5px,#001aff 2.5px,#008fff 3.5px,#00ceff 4.5px,#00fbff 5.5px,#0dfff2 7.5px,#3cffc4 8.5px,#80ff80 9.5px,#85ff7b 11.5px,#7aff86 20.5px,#acff54 33.5px,#9dff63 42.5px,#8aff76 60.5px,#a8ff58 81.5px,#deff22 100.5px,#feff01 127.5px,#edff13 148.5px,#d8ff28 160.5px,#ebff15 169.5px,#78ff88 170.5px,#1effe2 171.5px,#05fffa 172.5px,#00b4ff 177.5px,#009dff 179.5px,#00b0ff 180.5px,#04fffb 181.5px,#20ffe0 182.5px,#88ff78 183.5px,#fffb00 184.5px,#ffea00 185.5px,#ffb700 186.5px,#ffcc00 187.5px,#d3ff2d 188.5px,#cfff31 189.5px,#00bfff 190.5px,#006cff 191.5px,#ffd200 192.5px,#ffff00 193.5px,#fff000 196.5px,#ffb600 197.5px,#ff0b00 199.5px,#ff6400 200.5px,#ff8f00 202.5px,#ff6600 204.5px,#ff1700 206.5px,#ff2c00 207.5px,#ffb300 208.5px,#ffbb00 209.5px,#fff600 210.5px,#fff400 211.5px,#ff9e00 212.5px,#ff5300 214.5px,#ff4a00 215.5px,#ff0000 216.5px,#ff0a00 222.5px,#faff05 250.5px,#73ff8d 267.5px,#63ff9d 270.5px);height:1px"></div><div style="background:linear-gradient(90deg,#4141cc 0.5px,#0000da 1.5px,#000cff 2.5px,#0081ff 3.5px,#00c8ff 4.5px,#00f0ff 5.5px,#00efff 7.5px,#1effe1 8.5px,#67ff99 9.5px,#7aff86 10.5px,#68ff98 19.5px,#96ff6a 32.5px,#a9ff56 36.5px,#8aff76 55.5px,#9bff64 78.5px,#d9ff27 99.5px,#feff01 129.5px,#f3ff0c 148.5px,#e1ff1f 160.5px,#f0ff0f 169.5px,#c7ff39 170.5px,#56ffaa 171.5px,#1bffe4 172.5px,#00f9ff 174.5px,#00e2ff 179.5px,#0073ff 180.5px,#00dbff 181.5px,#4bffb4 182.5px,#caff36 183.5px,#fcff03 184.5px,#fff000 185.5px,#ffb700 186.5px,#ffca00 187.5px,#daff26 188.5px,#d6ff29 189.5px,#18ffe7 190.5px,#0038ff 191.5px,#5bffa5 192.5px,#f3ff0c 193.5px,#fffe00 196.5px,#ffc700 197.5px,#ff0c00 199.5px,#ff5f00 200.5px,#ff8e00 202.5px,#ff6400 204.5px,#ff1700 206.5px,#ff2d00 207.5px,#ffaf00 208.5px,#ffb700 209.5px,#ffe800 210.5px,#ffe700 211.5px,#ff9600 212.5px,#ff4e00 214.5px,#ff4600 215.5px,#ff0100 216.5px,#ff0b00 222.5px,#fdff02 249.5px,#73ff8c 266.5px,#5dffa3 270.5px);height:1px"></div><div style="background:linear-gradient(90deg,#5555d2 0.5px,#0303d0 1.5px,#0004ff 2.5px,#0074ff 3.5px,#00c1ff 4.5px,#00e4ff 5.5px,#00d3ff 7.5px,#02fffd 8.5px,#4effb2 9.5px,#6aff95 10.5px,#56ffaa 18.5px,#87ff79 32.5px,#a4ff5b 37.5px,#8aff76 56.5px,#9dff63 79.5px,#dcff24 102.5px,#ffff00 133.5px,#f4ff0b 151.5px,#ecff13 162.5px,#f8ff07 170.5px,#bdff42 171.5px,#60ffa0 172.5px,#23ffdc 173.5px,#05fffa 178.5px,#0cfff3 179.5px,#00b6ff 180.5px,#0097ff 181.5px,#12ffee 182.5px,#fcff03 183.5px,#f5ff0a 184.5px,#fff500 185.5px,#ffb700 186.5px,#ffc900 187.5px,#e1ff1f 188.5px,#ddff22 189.5px,#b5ff4b 190.5px,#004eff 191.5px,#00f1ff 192.5px,#e7ff18 193.5px,#f3ff0c 196.5px,#ffd700 197.5px,#ff0c00 199.5px,#ff5a00 200.5px,#ff6900 201.5px,#ff8c00 202.5px,#ff6200 204.5px,#ff1700 206.5px,#ff2f00 207.5px,#ffab00 208.5px,#ffb200 209.5px,#ffdb00 210.5px,#ffda00 211.5px,#ff8d00 212.5px,#ff4a00 214.5px,#ff4200 215.5px,#ff0100 216.5px,#ff0d00 222.5px,#f7ff08 249.5px,#6eff92 266.5px,#57ffa9 270.5px);height:1px"></div><div style="background:linear-gradient(90deg,#8181de 0.5px,#0909cd 1.5px,#0000fb 2.5px,#00b8ff 4.5px,#00d5ff 5.5px,#00b9ff 7.5px,#00e7ff 8.5px,#37ffc8 9.5px,#5bffa5 10.5px,#46ffba 18.5px,#72ff8e 31.5px,#9eff61 39.5px,#8aff76 58.5px,#a2ff5d 81.5px,#e7ff18 110.5px,#fffa00 139.5px,#f6ff09 165.5px,#fffe00 171.5px,#dbff24 172.5px,#9bff64 173.5px,#55ffab 175.5px,#25ffda 177.5px,#32ffcd 179.5px,#04fffb 180.5px,#008cff 181.5px,#00c1ff 182.5px,#46ffba 183.5px,#efff10 184.5px,#fffa00 185.5px,#ffb700 186.5px,#ffc700 187.5px,#e8ff18 188.5px,#e8ff17 190.5px,#0082ff 191.5px,#0099ff 192.5px,#dcff24 193.5px,#e6ff19 196.5px,#ffe800 197.5px,#ff0d00 199.5px,#ff5500 200.5px,#ff6300 201.5px,#ff8b00 202.5px,#ff6000 204.5px,#ff1700 206.5px,#ff3000 207.5px,#ffa700 208.5px,#ffae00 209.5px,#ffce00 210.5px,#ffcc00 211.5px,#ff8500 212.5px,#ff4600 214.5px,#ff3f00 215.5px,#ff0200 216.5px,#ff0800 221.5px,#faff05 248.5px,#68ff98 266.5px,#51ffae 270.5px);height:1px"></div><div style="background:linear-gradient(90deg,#9d9de5 0.5px,#1313ca 1.5px,#0000f5 2.5px,#00aaff 4.5px,#00c4ff 5.5px,#00a3ff 7.5px,#00d0ff 8.5px,#23ffdc 9.5px,#4cffb4 10.5px,#35ffcb 18.5px,#63ff9d 31.5px,#9bff64 40.5px,#8aff76 61.5px,#a4ff5c 82.5px,#f4ff0c 120.5px,#fff600 148.5px,#fff900 171.5px,#f4ff0b 174.5px,#aeff52 177.5px,#abff55 178.5px,#c1ff3f 179.5px,#58ffa8 180.5px,#00cfff 181.5px,#007eff 182.5px,#00f0ff 183.5px,#d6ff2a 184.5px,#feff01 185.5px,#ffb600 186.5px,#ffc500 187.5px,#efff11 188.5px,#ecff13 190.5px,#00d2ff 191.5px,#0060ff 192.5px,#d0ff2f 193.5px,#d9ff27 196.5px,#fff800 197.5px,#ff0e00 199.5px,#ff4f00 200.5px,#ff5d00 201.5px,#ff8a00 202.5px,#ff5e00 204.5px,#ff1700 206.5px,#ff3200 207.5px,#ffa300 208.5px,#ffa900 209.5px,#ffc100 210.5px,#ffbf00 211.5px,#ff7c00 212.5px,#ff4200 214.5px,#ff3b00 215.5px,#ff0200 216.5px,#ff0900 221.5px,#feff01 247.5px,#68ff98 265.5px,#4bffb4 270.5px);height:1px"></div><div style="background:linear-gradient(90deg,#b9b9ec 0.5px,#1b1bc6 1.5px,#0000ea 2.5px,#0039ff 3.5px,#009aff 4.5px,#00b0ff 5.5px,#008eff 7.5px,#00bcff 8.5px,#11ffee 9.5px,#3dffc3 10.5px,#23ffdc 18.5px,#53ffac 31.5px,#8bff75 40.5px,#8aff76 57.5px,#9eff61 81.5px,#f6ff09 123.5px,#fff100 149.5px,#fff400 171.5px,#fffd00 176.5px,#ffe000 178.5px,#fff700 180.5px,#24ffdc 181.5px,#00a6ff 182.5px,#00a7ff 183.5px,#29ffd7 184.5px,#f9ff06 185.5px,#ffb600 186.5px,#ffc300 187.5px,#f6ff09 188.5px,#f1ff0e 190.5px,#2affd5 191.5px,#002cff 192.5px,#36ffca 193.5px,#c3ff3d 194.5px,#ccff34 196.5px,#f6ff09 197.5px,#ff9300 198.5px,#ff0e00 199.5px,#ff4a00 200.5px,#ff5800 201.5px,#ff8800 202.5px,#ff5c00 204.5px,#ff1700 206.5px,#ff3300 207.5px,#ff9f00 208.5px,#ffb400 210.5px,#ffb200 211.5px,#ff7400 212.5px,#ff3e00 214.5px,#ff3800 215.5px,#ff0300 216.5px,#ff0b00 221.5px,#fffc00 246.5px,#62ff9e 265.5px,#45ffba 270.5px);height:1px"></div><div style="background:linear-gradient(90deg,#d4d4f4 0.5px,#1616c4 1.5px,#0000e6 2.5px,#0029ff 3.5px,#0087ff 4.5px,#009bff 5.5px,#007dff 7.5px,#00abff 8.5px,#01fffe 9.5px,#2cffd3 10.5px,#11ffee 17.5px,#3effc1 30.5px,#7bff85 39.5px,#8dff73 52.5px,#97ff69 79.5px,#fbff04 127.5px,#ffe900 148.5px,#fff500 173.5px,#fcff03 175.5px,#ffde00 178.5px,#fff700 180.5px,#cdff32 181.5px,#00e4ff 182.5px,#007dff 183.5px,#05fffa 184.5px,#f4ff0b 185.5px,#ffb600 186.5px,#ffc200 187.5px,#fdff02 188.5px,#f5ff0a 190.5px,#e2ff1e 191.5px,#0059ff 192.5px,#00deff 193.5px,#b6ff49 194.5px,#bfff41 196.5px,#e6ff19 197.5px,#ff9d00 198.5px,#ff0f00 199.5px,#ff4500 200.5px,#ff5200 201.5px,#ff8700 202.5px,#ff7a00 203.5px,#ff1700 206.5px,#ff3500 207.5px,#ff9c00 208.5px,#ffa400 211.5px,#ff6c00 212.5px,#ff3a00 214.5px,#ff3400 215.5px,#ff0400 216.5px,#ff0c00 221.5px,#fdff03 246.5px,#63ff9d 264.5px,#3fffc0 270.5px);height:1px"></div><div style="background:linear-gradient(90deg,#f0f0fb 0.5px,#0c0cbf 1.5px,#0000dc 2.5px,#0018ff 3.5px,#0072ff 4.5px,#0084ff 5.5px,#006cff 7.5px,#009bff 8.5px,#00f0ff 9.5px,#1cffe3 10.5px,#00feff 17.5px,#27ffd8 29.5px,#6bff95 39.5px,#83ff7d 48.5px,#8bff74 55.5px,#9bff65 81.5px,#fffa00 132.5px,#ffe200 148.5px,#fff000 173.5px,#fffe00 175.5px,#ffdc00 178.5px,#fff600 180.5px,#fff600 181.5px,#05fffa 182.5px,#007cff 183.5px,#00e5ff 184.5px,#efff10 185.5px,#ffb600 186.5px,#ffc000 187.5px,#fffa00 188.5px,#faff05 190.5px,#ffdb00 191.5px,#008eff 192.5px,#0089ff 193.5px,#aaff56 194.5px,#b1ff4e 196.5px,#d6ff29 197.5px,#ffa700 198.5px,#ff0f00 199.5px,#ff4000 200.5px,#ff4c00 201.5px,#ff8500 202.5px,#ff7a00 203.5px,#ff1700 206.5px,#ff3700 207.5px,#ff9800 208.5px,#ff9700 211.5px,#ff6300 212.5px,#ff3600 214.5px,#ff3000 215.5px,#ff0400 216.5px,#ff0d00 221.5px,#fffd00 245.5px,#5dffa3 264.5px,#3affc6 270.5px);height:1px"></div><div style="background:linear-gradient(90deg,#ffffff 0.5px,#1010c0 1.5px,#0909d5 2.5px,#0006ff 3.5px,#005cff 4.5px,#006cff 5.5px,#005cff 7.5px,#008dff 8.5px,#00e1ff 9.5px,#0dfff2 10.5px,#00efff 15.5px,#00fbff 22.5px,#17ffe8 29.5px,#5affa6 39.5px,#73ff8d 48.5px,#8dff73 54.5px,#99ff67 81.5px,#fff700 133.5px,#ffdb00 148.5px,#ffec00 173.5px,#fff900 175.5px,#ffda00 178.5px,#fff600 180.5px,#fff600 181.5px,#24ffdc 182.5px,#0095ff 183.5px,#00c8ff 184.5px,#85ff7b 185.5px,#ffb600 186.5px,#ffbe00 187.5px,#fff300 188.5px,#feff01 190.5px,#ffdc00 191.5px,#00e5ff 192.5px,#0055ff 193.5px,#9eff62 194.5px,#a4ff5b 196.5px,#c6ff39 197.5px,#ffb100 198.5px,#ff1000 199.5px,#ff3b00 200.5px,#ff4600 201.5px,#ff8400 202.5px,#ff7900 203.5px,#ff2e00 205.5px,#ff1700 206.5px,#ff3800 207.5px,#ff9400 208.5px,#ff8900 211.5px,#ff5b00 212.5px,#ff3200 214.5px,#ff2d00 215.5px,#ff0500 216.5px,#ff0e00 221.5px,#ffdb00 241.5px,#fcff03 245.5px,#5dffa3 263.5px,#34ffcc 270.5px);height:1px"></div><div style="background:linear-gradient(90deg,#ffffff 0.5px,#2f2fc8 1.5px,#0c0cd0 2.5px,#0000ff 3.5px,#0046ff 4.5px,#0054ff 5.5px,#004dff 7.5px,#007eff 8.5px,#00d3ff 9.5px,#00fcff 10.5px,#00d7ff 17.5px,#06fff9 29.5px,#4bffb5 38.5px,#59ffa6 46.5px,#8bff75 57.5px,#99ff67 82.5px,#fff900 132.5px,#ffd400 148.5px,#ffe000 172.5px,#fff500 175.5px,#ffd800 178.5px,#fff600 180.5px,#fff600 181.5px,#43ffbd 182.5px,#00aeff 183.5px,#00b0ff 184.5px,#45ffba 185.5px,#ffb500 186.5px,#ffbc00 187.5px,#ffec00 188.5px,#fffb00 190.5px,#ffde00 191.5px,#3fffc1 192.5px,#0031ff 193.5px,#23ffdc 194.5px,#94ff6c 195.5px,#97ff69 196.5px,#b6ff49 197.5px,#ffbb00 198.5px,#ff1000 199.5px,#ff3600 200.5px,#ff4000 201.5px,#ff8200 202.5px,#ff7900 203.5px,#ff2c00 205.5px,#ff1700 206.5px,#ff3a00 207.5px,#ff9000 208.5px,#ff9300 209.5px,#ff7f00 210.5px,#ff7c00 211.5px,#ff5200 212.5px,#ff2d00 214.5px,#ff2900 215.5px,#ff0500 216.5px,#ff1000 221.5px,#ffd700 240.5px,#f6ff09 245.5px,#5effa2 262.5px,#2dffd2 270.5px);height:1px"></div><div style="background:linear-gradient(90deg,#ffffff 0.5px,#4f4fd0 1.5px,#1717ca 2.5px,#0000f6 3.5px,#0030ff 4.5px,#003dff 5.5px,#003eff 7.5px,#0070ff 8.5px,#00c4ff 9.5px,#00ecff 10.5px,#00bdff 16.5px,#00cdff 21.5px,#04fffb 31.5px,#3bffc5 38.5px,#4affb6 46.5px,#8aff76 59.5px,#98ff67 83.5px,#fff800 132.5px,#ffcd00 148.5px,#ffd300 163.5px,#ffe200 173.5px,#fff000 175.5px,#ffd500 178.5px,#fff600 180.5px,#fff600 181.5px,#7bff85 182.5px,#00c6ff 183.5px,#0097ff 184.5px,#26ffd9 185.5px,#ffb500 186.5px,#ffbb00 187.5px,#ffe400 188.5px,#fff600 190.5px,#ffdf00 191.5px,#ffef00 192.5px,#0065ff 193.5px,#00cbff 194.5px,#87ff79 195.5px,#8aff76 196.5px,#a7ff59 197.5px,#ffc500 198.5px,#ff1100 199.5px,#ff3100 200.5px,#ff3a00 201.5px,#ff8100 202.5px,#ff7900 203.5px,#ff2900 205.5px,#ff1700 206.5px,#ff3b00 207.5px,#ff8c00 208.5px,#ff8e00 209.5px,#ff7100 210.5px,#ff6f00 211.5px,#ff4a00 212.5px,#ff2900 214.5px,#ff2500 215.5px,#ff0600 216.5px,#ff1100 221.5px,#ffd300 239.5px,#fbff04 244.5px,#65ff9b 260.5px,#27ffd8 270.5px);height:1px"></div><div style="background:linear-gradient(90deg,#ffffff 0.5px,#6f6fd9 1.5px,#2828cb 2.5px,#0000ec 3.5px,#001cff 4.5px,#0030ff 7.5px,#0063ff 8.5px,#00b7ff 9.5px,#00dbff 10.5px,#00a7ff 15.5px,#00acff 20.5px,#00dbff 28.5px,#0bfff4 34.5px,#29ffd6 38.5px,#35ffcb 45.5px,#8aff76 62.5px,#95ff6b 83.5px,#fff800 132.5px,#ffc800 148.5px,#ffc700 161.5px,#ffde00 173.5px,#ffeb00 175.5px,#ffd300 178.5px,#fff500 180.5px,#fff600 181.5px,#efff10 182.5px,#00e2ff 183.5px,#007eff 184.5px,#07fff8 185.5px,#ffb500 186.5px,#ffb900 187.5px,#ffdd00 188.5px,#fff200 190.5px,#ffdd00 192.5px,#00a0ff 193.5px,#007eff 194.5px,#7aff86 195.5px,#7dff83 196.5px,#97ff69 197.5px,#ffcf00 198.5px,#ff1100 199.5px,#ff2c00 200.5px,#ff3500 201.5px,#ff7f00 202.5px,#ff7900 203.5px,#ff2700 205.5px,#ff1700 206.5px,#ff3d00 207.5px,#ff8800 208.5px,#ff8a00 209.5px,#ff6400 210.5px,#ff6100 211.5px,#ff4100 212.5px,#ff2200 215.5px,#ff0600 216.5px,#ff1300 221.5px,#ffd900 239.5px,#f6ff09 244.5px,#5fffa1 260.5px,#20ffe0 270.5px);height:1px"></div><div style="background:linear-gradient(90deg,#ffffff 0.5px,#8e8ee1 1.5px,#3939cd 2.5px,#0000e6 3.5px,#0009ff 4.5px,#0023ff 7.5px,#0057ff 8.5px,#00abff 9.5px,#00c5ff 10.5px,#008dff 15.5px,#008cff 19.5px,#00c2ff 28.5px,#06fff9 35.5px,#17ffe8 38.5px,#24ffdc 45.5px,#8aff76 65.5px,#90ff70 83.5px,#fff800 132.5px,#ffc300 148.5px,#ffbd00 160.5px,#ffd900 173.5px,#ffe200 176.5px,#ffd100 178.5px,#fff500 180.5px,#fff700 182.5px,#03fffc 183.5px,#007bff 184.5px,#00e6ff 185.5px,#ffff00 186.5px,#ffb700 187.5px,#ffd600 188.5px,#ffd800 189.5px,#ffed00 190.5px,#ffe100 192.5px,#00fcff 193.5px,#0046ff 194.5px,#6eff92 195.5px,#70ff90 196.5px,#87ff79 197.5px,#ffda00 198.5px,#ff1200 199.5px,#ff2f00 201.5px,#ff7e00 202.5px,#ff7900 203.5px,#ff2400 205.5px,#ff1700 206.5px,#ff3e00 207.5px,#ff8400 208.5px,#ff8500 209.5px,#ff5700 210.5px,#ff5400 211.5px,#ff3900 212.5px,#ff1e00 215.5px,#ff0700 216.5px,#ff1400 221.5px,#ffd500 238.5px,#fbff04 243.5px,#57ffa8 260.5px,#17ffe8 270.5px);height:1px"></div><div style="background:linear-gradient(90deg,#ffffff 0.5px,#aeaeea 1.5px,#4646ce 2.5px,#0000dc 3.5px,#0000f8 4.5px,#0006ff 6.5px,#0018ff 7.5px,#004dff 8.5px,#00a0ff 9.5px,#00b0ff 10.5px,#0073ff 15.5px,#0072ff 19.5px,#00a0ff 27.5px,#04fffc 36.5px,#13ffec 45.5px,#89ff77 67.5px,#86ff7a 81.5px,#fff900 132.5px,#ffbe00 149.5px,#ffb800 160.5px,#ffd400 173.5px,#ffde00 176.5px,#ffcf00 178.5px,#fff500 180.5px,#fff800 182.5px,#22ffdd 183.5px,#0094ff 184.5px,#00caff 185.5px,#8cff74 186.5px,#ffb500 187.5px,#ffce00 188.5px,#ffd000 189.5px,#ffe800 190.5px,#ffe500 192.5px,#66ff9a 193.5px,#0046ff 194.5px,#00fcff 195.5px,#63ff9d 196.5px,#77ff89 197.5px,#ffe400 198.5px,#ff1200 199.5px,#ff2900 201.5px,#ff7c00 202.5px,#ff7900 203.5px,#ff2200 205.5px,#ff1700 206.5px,#ff4000 207.5px,#ff8000 208.5px,#ff8000 209.5px,#ff4a00 210.5px,#ff4600 211.5px,#ff2800 213.5px,#ff0700 217.5px,#ff1600 221.5px,#ffda00 238.5px,#f6ff09 243.5px,#50ffb0 260.5px,#0dfff2 270.5px);height:1px"></div><div style="background:linear-gradient(90deg,#ffffff 0.5px,#cecef2 1.5px,#2f2fc8 2.5px,#0505d4 3.5px,#0000ec 4.5px,#0000fb 6.5px,#0010ff 7.5px,#0046ff 8.5px,#0099ff 9.5px,#009cff 10.5px,#005aff 15.5px,#0059ff 19.5px,#006dff 23.5px,#009cff 29.5px,#00f3ff 36.5px,#00fcff 44.5px,#85ff7b 69.5px,#7dff83 80.5px,#fff700 133.5px,#ffb800 151.5px,#ffb500 161.5px,#ffcf00 173.5px,#ffda00 176.5px,#ffcd00 178.5px,#fff500 180.5px,#fff800 182.5px,#41ffbf 183.5px,#00acff 184.5px,#00b1ff 185.5px,#49ffb7 186.5px,#ffb400 187.5px,#ffc700 188.5px,#ffc900 189.5px,#ffe300 190.5px,#ffe800 192.5px,#5affa5 193.5px,#0081ff 194.5px,#0098ff 195.5px,#56ffaa 196.5px,#67ff99 197.5px,#ffee00 198.5px,#ff1300 199.5px,#ff2300 201.5px,#ff7b00 202.5px,#ff7900 203.5px,#ff1f00 205.5px,#ff1700 206.5px,#ff7c00 208.5px,#ff7c00 209.5px,#ff3d00 210.5px,#ff0800 217.5px,#ff1800 221.5px,#ffd700 237.5px,#faff05 242.5px,#40ffc0 261.5px,#01fffe 270.5px);height:1px"></div><div style="background:linear-gradient(90deg,#ffffff 0.5px,#ededfa 1.5px,#1010c0 2.5px,#1515d2 3.5px,#0000e4 4.5px,#000cff 7.5px,#0041ff 8.5px,#0095ff 9.5px,#0045ff 15.5px,#0043ff 19.5px,#0054ff 22.5px,#0065ff 26.5px,#00b7ff 33.5px,#00e2ff 36.5px,#00e5ff 43.5px,#0dfff2 50.5px,#7cff84 71.5px,#74ff8c 80.5px,#fffa00 133.5px,#ffb400 152.5px,#ffb400 162.5px,#ffca00 173.5px,#ffd600 176.5px,#ffca00 178.5px,#fff400 180.5px,#fff800 182.5px,#5effa2 183.5px,#00bfff 184.5px,#00a0ff 185.5px,#33ffcd 186.5px,#ffb200 187.5px,#ffc200 189.5px,#ffdf00 190.5px,#ffeb00 192.5px,#4fffb0 193.5px,#00dbff 194.5px,#005aff 195.5px,#49ffb7 196.5px,#58ffa8 197.5px,#fff700 198.5px,#ff1400 199.5px,#ff1d00 201.5px,#ff7900 202.5px,#ff7800 203.5px,#ff1d00 205.5px,#ff1700 206.5px,#ff7800 208.5px,#ff7700 209.5px,#ff3000 210.5px,#ff0800 217.5px,#ff1900 221.5px,#ffd300 236.5px,#f5ff0a 242.5px,#2fffd0 262.5px,#00f9ff 269.5px,#00f3ff 270.5px);height:1px"></div><div style="background:linear-gradient(90deg,#ffffff 0.5px,#ffffff 1.5px,#1010c0 2.5px,#3f3fd3 3.5px,#0000e0 4.5px,#0009ff 7.5px,#003fff 8.5px,#008eff 9.5px,#0039ff 14.5px,#0028ff 18.5px,#003eff 22.5px,#0057ff 27.5px,#00a2ff 33.5px,#00c9ff 36.5px,#00c8ff 42.5px,#08fff7 52.5px,#73ff8d 72.5px,#6bff95 80.5px,#beff41 110.5px,#fff800 134.5px,#ffac00 155.5px,#ffc500 173.5px,#ffd200 176.5px,#ffc800 178.5px,#fff300 180.5px,#fff800 182.5px,#b0ff4f 183.5px,#00d1ff 184.5px,#008eff 185.5px,#1dffe3 186.5px,#ffb000 187.5px,#ffbb00 189.5px,#ffdb00 190.5px,#ffef00 192.5px,#46ffb9 193.5px,#3effc1 194.5px,#0033ff 195.5px,#1dffe2 196.5px,#4affb6 197.5px,#feff01 198.5px,#ff1600 199.5px,#ff1800 201.5px,#ff7700 202.5px,#ff7700 203.5px,#ff1b00 205.5px,#ff1700 206.5px,#ff7400 208.5px,#ff7300 209.5px,#ff2400 210.5px,#ff0900 218.5px,#ff2700 222.5px,#ffce00 235.5px,#f8ff07 241.5px,#1dffe2 263.5px,#00f3ff 268.5px,#00e5ff 270.5px);height:1px"></div><div style="background:linear-gradient(90deg,#ffffff 0.5px,#ffffff 1.5px,#2f2fc8 2.5px,#6262d9 3.5px,#0000df 4.5px,#0008ff 7.5px,#0080ff 9.5px,#0026ff 14.5px,#0010ff 17.5px,#0027ff 22.5px,#0043ff 27.5px,#007dff 32.5px,#00adff 35.5px,#00aeff 42.5px,#03fffc 54.5px,#6aff96 72.5px,#5fffa1 79.5px,#9bff65 101.5px,#fff700 135.5px,#ffab00 155.5px,#ffbf00 173.5px,#ffce00 176.5px,#ffc600 178.5px,#fff200 180.5px,#fff800 182.5px,#c0ff3f 183.5px,#00e6ff 184.5px,#007dff 185.5px,#07fff8 186.5px,#ffae00 187.5px,#ffb600 189.5px,#ffd800 190.5px,#fff100 192.5px,#42ffbe 193.5px,#3affc5 194.5px,#006dff 195.5px,#00b9ff 196.5px,#3fffc1 197.5px,#f7ff08 198.5px,#ff1900 199.5px,#ff1400 201.5px,#ff7400 202.5px,#ff7500 203.5px,#ff1a00 205.5px,#ff1800 206.5px,#ff7000 208.5px,#ff6e00 209.5px,#ff1a00 210.5px,#ff0c00 219.5px,#ff6200 226.5px,#ffdd00 236.5px,#f3ff0c 241.5px,#0afff5 264.5px,#00d6ff 270.5px);height:1px"></div><div style="background:linear-gradient(90deg,#ffffff 0.5px,#ffffff 1.5px,#4f4fd0 2.5px,#7c7cde 3.5px,#0000de 4.5px,#0008ff 7.5px,#0074ff 9.5px,#0007ff 15.5px,#0004ff 19.5px,#0015ff 21.5px,#0015ff 24.5px,#0058ff 31.5px,#0095ff 35.5px,#0094ff 42.5px,#00fdff 56.5px,#5effa2 73.5px,#55ffab 79.5px,#8cff74 99.5px,#e2ff1d 125.5px,#fff500 136.5px,#ffa900 155.5px,#ffba00 173.5px,#ffcb00 176.5px,#ffc300 178.5px,#ffef00 180.5px,#fff700 182.5px,#c1ff3f 183.5px,#00fcff 184.5px,#0075ff 185.5px,#00efff 186.5px,#ffd700 187.5px,#ffae00 188.5px,#ffb300 189.5px,#ffe900 191.5px,#fff200 192.5px,#44ffbc 193.5px,#3effc1 194.5px,#009cff 195.5px,#0086ff 196.5px,#38ffc7 197.5px,#f3ff0c 198.5px,#ff1f00 199.5px,#ff0e00 200.5px,#ff1000 201.5px,#ff7000 202.5px,#ff7200 203.5px,#ff1b00 205.5px,#ff1a00 206.5px,#ff6b00 208.5px,#ff6900 209.5px,#ff1400 210.5px,#ff1400 220.5px,#ffc200 233.5px,#ffff00 239.5px,#64ff9c 254.5px,#00feff 264.5px,#00c8ff 270.5px);height:1px"></div><div style="background:linear-gradient(90deg,#ffffff 0.5px,#ffffff 1.5px,#6f6fd9 2.5px,#8e8ee1 3.5px,#0000dc 4.5px,#0008ff 7.5px,#006aff 9.5px,#0004ff 14.5px,#0000e0 17.5px,#0000fe 21.5px,#0008ff 25.5px,#0055ff 32.5px,#0076ff 34.5px,#007aff 42.5px,#00f8ff 58.5px,#50ffb0 74.5px,#4fffb1 81.5px,#85ff7b 99.5px,#d8ff28 122.5px,#fff800 136.5px,#ffa800 155.5px,#ffb500 173.5px,#ffc700 176.5px,#ffc000 178.5px,#ffea00 180.5px,#fff600 182.5px,#c4ff3c 183.5px,#13ffec 184.5px,#0087ff 185.5px,#00d9ff 186.5px,#d3ff2c 187.5px,#ffaa00 188.5px,#ffb200 189.5px,#ffe900 191.5px,#fff200 192.5px,#4dffb3 193.5px,#4affb6 194.5px,#00b8ff 195.5px,#0076ff 196.5px,#36ffc9 197.5px,#f2ff0d 198.5px,#ff2900 199.5px,#ff0d00 200.5px,#ff0e00 201.5px,#ff6b00 202.5px,#ff6d00 203.5px,#ff3c00 204.5px,#ff1d00 205.5px,#ff1d00 206.5px,#ff6700 208.5px,#ff6400 209.5px,#ff1100 210.5px,#ff1700 220.5px,#ffc800 233.5px,#faff05 239.5px,#75ff8b 252.5px,#00fdff 263.5px,#00b9ff 270.5px);height:1px"></div><div style="background:linear-gradient(90deg,#ffffff 0.5px,#ffffff 1.5px,#9595e3 2.5px,#6565d6 3.5px,#0505d8 4.5px,#0008ff 7.5px,#0064ff 9.5px,#0000f6 14.5px,#0000ca 17.5px,#0000e6 21.5px,#0000e8 24.5px,#000eff 28.5px,#0061ff 34.5px,#0060ff 42.5px,#00faff 61.5px,#46ffb9 74.5px,#42ffbd 80.5px,#79ff87 98.5px,#d0ff2f 120.5px,#fff600 137.5px,#ffa700 155.5px,#ffb100 173.5px,#ffc400 176.5px,#ffbe00 178.5px,#ffe500 180.5px,#fff600 182.5px,#c8ff38 183.5px,#29ffd6 184.5px,#0098ff 185.5px,#00c7ff 186.5px,#82ff7e 187.5px,#ffa600 188.5px,#ffb200 189.5px,#ffe800 191.5px,#fff100 192.5px,#5affa6 193.5px,#5bffa5 194.5px,#00d3ff 195.5px,#0066ff 196.5px,#37ffc8 197.5px,#f2ff0d 198.5px,#ff3300 199.5px,#ff0e00 200.5px,#ff0d00 201.5px,#ff6400 202.5px,#ff6600 203.5px,#ff3900 204.5px,#ff2000 205.5px,#ff2100 206.5px,#ff6100 208.5px,#ff5f00 209.5px,#ff1000 210.5px,#ff1900 220.5px,#ffc200 232.5px,#feff01 238.5px,#7cff84 251.5px,#00fcff 262.5px,#00aaff 270.5px);height:1px"></div><div style="background:linear-gradient(90deg,#ffffff 0.5px,#ffffff 1.5px,#c5c5f0 2.5px,#3535c9 3.5px,#0000e4 5.5px,#0008ff 7.5px,#003dff 8.5px,#0060ff 9.5px,#0006ff 13.5px,#0000b5 17.5px,#0000d2 20.5px,#0000cb 23.5px,#0008ff 29.5px,#004cff 34.5px,#004aff 42.5px,#00faff 64.5px,#37ffc9 75.5px,#57ffa9 92.5px,#cbff34 119.5px,#fff900 137.5px,#ffa500 155.5px,#ffa500 172.5px,#ffc100 176.5px,#ffbb00 178.5px,#ffdf00 180.5px,#ffe100 181.5px,#fff500 182.5px,#cdff33 183.5px,#3fffc0 184.5px,#00aaff 185.5px,#00b5ff 186.5px,#4effb2 187.5px,#ffa400 188.5px,#ffb400 189.5px,#ffe800 191.5px,#fff000 192.5px,#6aff96 193.5px,#6eff92 194.5px,#00efff 195.5px,#0056ff 196.5px,#39ffc6 197.5px,#f4ff0b 198.5px,#ff3f00 199.5px,#ff1000 200.5px,#ff0c00 201.5px,#ff5e00 202.5px,#ff5f00 203.5px,#ff3500 204.5px,#ff2400 205.5px,#ff2400 206.5px,#ff5c00 208.5px,#ff5a00 209.5px,#ff1000 210.5px,#ff1c00 220.5px,#ffc800 232.5px,#f9ff06 238.5px,#77ff89 251.5px,#00fdff 261.5px,#009cff 270.5px);height:1px"></div><div style="background:linear-gradient(90deg,#ffffff 0.5px,#f6f6fd 2.5px,#0505bd 3.5px,#3c3cd7 4.5px,#0000e4 5.5px,#0008ff 7.5px,#003dff 8.5px,#005fff 9.5px,#0005ff 13.5px,#0000be 16.5px,#7070cf 17.5px,#5050c5 18.5px,#0000b8 19.5px,#0000be 24.5px,#0004ff 30.5px,#0036ff 34.5px,#002fff 41.5px,#00c0ff 59.5px,#03fffc 68.5px,#2dffd2 75.5px,#4effb2 92.5px,#c8ff37 119.5px,#faff06 135.5px,#ffd000 146.5px,#ffa700 154.5px,#ffa000 172.5px,#ffbe00 176.5px,#ffb800 178.5px,#ffd900 180.5px,#ffdb00 181.5px,#fff400 182.5px,#d2ff2d 183.5px,#55ffab 184.5px,#00bbff 185.5px,#00a4ff 186.5px,#38ffc8 187.5px,#ffa100 188.5px,#ffe700 191.5px,#ffef00 192.5px,#7aff86 193.5px,#82ff7e 194.5px,#0bfff4 195.5px,#0045ff 196.5px,#3cffc3 197.5px,#f6ff0a 198.5px,#ff4b00 199.5px,#ff1100 200.5px,#ff0b00 201.5px,#ff5700 202.5px,#ff5800 203.5px,#ff3200 204.5px,#ff2800 206.5px,#ff5700 208.5px,#ff5500 209.5px,#ff1000 210.5px,#ff1f00 220.5px,#ffcd00 232.5px,#fdff02 237.5px,#7fff81 250.5px,#00ffff 260.5px,#008dff 270.5px);height:1px"></div><div style="background:linear-gradient(90deg,#ffffff 0.5px,#ffffff 2.5px,#2b2bc7 3.5px,#6868dd 4.5px,#0000e4 5.5px,#0008ff 7.5px,#003dff 8.5px,#005fff 9.5px,#0005ff 13.5px,#0000be 16.5px,#8080d4 17.5px,#ffffff 18.5px,#9f9fde 19.5px,#8080d4 20.5px,#afafe3 21.5px,#bfbfe9 23.5px,#0000b3 25.5px,#0004ff 31.5px,#0021ff 34.5px,#0019ff 41.5px,#009fff 58.5px,#00fdff 70.5px,#22ffdd 78.5px,#57ffa9 96.5px,#c3ff3c 118.5px,#f2ff0d 134.5px,#ffee00 141.5px,#ffa600 154.5px,#ff9c00 172.5px,#ffba00 176.5px,#ffb500 178.5px,#ffd400 180.5px,#ffd500 181.5px,#fff300 182.5px,#d7ff28 183.5px,#9dff62 184.5px,#00cdff 185.5px,#0092ff 186.5px,#22ffdd 187.5px,#ff9e00 188.5px,#ffd700 190.5px,#ffed00 192.5px,#8aff76 193.5px,#96ff6a 194.5px,#26ffd9 195.5px,#0035ff 196.5px,#3fffc0 197.5px,#f7ff08 198.5px,#ff5700 199.5px,#ff1300 200.5px,#ff0a00 201.5px,#ff5000 202.5px,#ff5100 203.5px,#ff2e00 204.5px,#ff2c00 206.5px,#ff5200 208.5px,#ff5000 209.5px,#ff1000 210.5px,#ff2200 220.5px,#ffc800 231.5px,#f8ff07 237.5px,#7aff86 250.5px,#02fffd 259.5px,#0080ff 270.5px);height:1px"></div><div style="background:linear-gradient(90deg,#ffffff 0.5px,#ffffff 2.5px,#5b5bd4 3.5px,#6363d9 4.5px,#0000e4 5.5px,#0008ff 7.5px,#003dff 8.5px,#005fff 9.5px,#0005ff 13.5px,#0000be 16.5px,#8080d4 17.5px,#ffffff 18.5px,#ffffff 24.5px,#dfdff4 25.5px,#8080d4 26.5px,#0000b5 27.5px,#0000ff 32.5px,#0006ff 35.5px,#0003ff 41.5px,#00a1ff 61.5px,#00f8ff 72.5px,#25ffdb 83.5px,#56ffaa 97.5px,#c0ff40 118.5px,#efff10 134.5px,#fff100 141.5px,#ffa600 154.5px,#ff9800 172.5px,#ffb700 176.5px,#ffb200 178.5px,#ffce00 180.5px,#ffcf00 181.5px,#fff200 182.5px,#c1ff3f 184.5px,#00eeff 185.5px,#00b5ff 186.5px,#29ffd7 187.5px,#ff9b00 188.5px,#ffd800 190.5px,#ffec00 192.5px,#9aff66 193.5px,#aaff56 194.5px,#49ffb7 195.5px,#002dff 196.5px,#33ffcc 197.5px,#f9ff06 198.5px,#ff6300 199.5px,#ff1400 200.5px,#ff0a00 201.5px,#ff4900 202.5px,#ff4a00 203.5px,#ff2a00 204.5px,#ff3000 206.5px,#ff4d00 208.5px,#ff4b00 209.5px,#ff1100 210.5px,#ff2600 220.5px,#ffce00 231.5px,#fcff03 236.5px,#74ff8c 250.5px,#00f9ff 259.5px,#0073ff 270.5px);height:1px"></div><div style="background:linear-gradient(90deg,#ffffff 0.5px,#ffffff 2.5px,#8c8ce0 3.5px,#5353d4 4.5px,#0000e4 5.5px,#0008ff 7.5px,#003dff 8.5px,#005fff 9.5px,#0002ff 13.5px,#0000e0 14.5px,#0000be 16.5px,#8080d4 17.5px,#ffffff 18.5px,#ffffff 26.5px,#afafe4 27.5px,#1010b6 28.5px,#0000d0 30.5px,#0000f3 33.5px,#0000eb 41.5px,#000aff 45.5px,#00b4ff 66.5px,#02fffd 76.5px,#20ffdf 84.5px,#56ffaa 98.5px,#bcff44 118.5px,#ecff13 134.5px,#fff700 140.5px,#ffa600 154.5px,#ff9500 171.5px,#ffb400 176.5px,#ffaf00 178.5px,#ffc900 181.5px,#fff100 182.5px,#c9ff37 184.5px,#95ff6b 185.5px,#4bffb5 186.5px,#ffe400 187.5px,#ff9800 188.5px,#ffd800 190.5px,#ffeb00 192.5px,#aaff56 193.5px,#beff42 194.5px,#8aff76 195.5px,#003dff 196.5px,#1affe6 197.5px,#fbff04 198.5px,#ff7000 199.5px,#ff1600 200.5px,#ff0900 201.5px,#ff4200 202.5px,#ff4300 203.5px,#ff2700 204.5px,#ff4700 208.5px,#ff4500 209.5px,#ff1100 210.5px,#ff2a00 220.5px,#ffd400 231.5px,#f7ff08 236.5px,#6eff92 250.5px,#00fdff 258.5px,#0069ff 270.5px);height:1px"></div><div style="background:linear-gradient(90deg,#ffffff 0.5px,#ffffff 2.5px,#bcbced 3.5px,#3b3bcc 4.5px,#0000dd 5.5px,#0008ff 7.5px,#003dff 8.5px,#005fff 9.5px,#0000f7 13.5px,#8080e2 14.5px,#4040db 15.5px,#0000be 16.5px,#8080d4 17.5px,#ffffff 18.5px,#ffffff 27.5px,#cfcfee 28.5px,#1010b6 29.5px,#0000cc 31.5px,#0000db 34.5px,#0000d5 41.5px,#000aff 48.5px,#00c8ff 71.5px,#05fffa 79.5px,#24ffdb 88.5px,#63ff9c 101.5px,#baff46 119.5px,#e9ff16 134.5px,#fff600 141.5px,#ffa800 154.5px,#ff9300 171.5px,#ffb100 176.5px,#ffac00 178.5px,#ffc400 181.5px,#fff000 182.5px,#d0ff2f 184.5px,#f3ff0c 185.5px,#ff9900 186.5px,#ff9500 188.5px,#ffd900 190.5px,#ffea00 192.5px,#baff46 193.5px,#d2ff2e 194.5px,#cdff32 195.5px,#37ffc8 196.5px,#48ffb8 197.5px,#fcff03 198.5px,#ff7c00 199.5px,#ff1700 200.5px,#ff0800 201.5px,#ff3b00 202.5px,#ff3c00 203.5px,#ff2300 204.5px,#ff3700 205.5px,#ff4000 209.5px,#ff1100 210.5px,#ff2f00 220.5px,#ffd900 231.5px,#fcff03 235.5px,#67ff98 250.5px,#02fffd 257.5px,#005fff 270.5px);height:1px"></div><div style="background:linear-gradient(90deg,#ffffff 0.5px,#ffffff 2.5px,#ececfa 3.5px,#0e0ebf 4.5px,#0000ee 6.5px,#0008ff 7.5px,#003dff 8.5px,#005fff 9.5px,#0000f7 13.5px,#8080e2 14.5px,#4040db 15.5px,#0000be 16.5px,#8080d4 17.5px,#ffffff 18.5px,#ffffff 28.5px,#dfdff4 29.5px,#3030bd 30.5px,#0000b9 31.5px,#0000c6 34.5px,#0000c0 41.5px,#0004ff 50.5px,#00b8ff 72.5px,#01fffe 81.5px,#5effa2 101.5px,#b5ff4a 119.5px,#e7ff19 134.5px,#fff800 141.5px,#ffa500 155.5px,#ff9300 171.5px,#ffae00 176.5px,#ffb200 179.5px,#ffbe00 181.5px,#ffef00 182.5px,#ecff13 183.5px,#d8ff27 184.5px,#faff05 185.5px,#ff9600 186.5px,#ff9300 188.5px,#ffda00 190.5px,#ffe800 192.5px,#caff36 193.5px,#e6ff19 194.5px,#e1ff1f 195.5px,#3cffc4 196.5px,#4bffb5 197.5px,#feff01 198.5px,#ff1900 200.5px,#ff0700 201.5px,#ff3400 202.5px,#ff3500 203.5px,#ff1f00 204.5px,#ff3b00 205.5px,#ff3b00 209.5px,#ff1200 210.5px,#ff3500 220.5px,#ffdf00 231.5px,#f6ff09 235.5px,#60ff9f 250.5px,#00f9ff 257.5px,#0057ff 270.5px);height:1px"></div><div style="background:linear-gradient(90deg,#ffffff 0.5px,#ffffff 3.5px,#2222c4 4.5px,#3131d8 5.5px,#0000ee 6.5px,#0008ff 7.5px,#003dff 8.5px,#005fff 9.5px,#0000f7 13.5px,#8080e2 14.5px,#4040db 15.5px,#0000be 16.5px,#8080d4 17.5px,#ffffff 18.5px,#ffffff 29.5px,#efeff9 30.5px,#0000b2 33.5px,#1010b5 34.5px,#8080d4 36.5px,#8080d4 39.5px,#8f8fd9 40.5px,#0000b2 42.5px,#0005ff 53.5px,#00a9ff 73.5px,#00fcff 83.5px,#9aff66 113.5px,#e9ff16 135.5px,#fff500 142.5px,#ffa700 155.5px,#ff9200 171.5px,#ffaa00 176.5px,#ffae00 179.5px,#ffb800 181.5px,#ffed00 182.5px,#f1ff0e 183.5px,#e0ff1f 184.5px,#fffd00 185.5px,#ff9300 186.5px,#ff9000 188.5px,#ffdb00 190.5px,#ffe700 192.5px,#daff26 193.5px,#faff05 194.5px,#f4ff0b 195.5px,#40ffbf 196.5px,#4effb2 197.5px,#fffe00 198.5px,#ff1a00 200.5px,#ff0600 201.5px,#ff2d00 202.5px,#ff2e00 203.5px,#ff1c00 204.5px,#ff3f00 205.5px,#ff3600 209.5px,#ff1200 210.5px,#ff2a00 217.5px,#ff3a00 220.5px,#ffe500 231.5px,#f1ff0e 235.5px,#59ffa7 250.5px,#00ffff 256.5px,#004fff 270.5px);height:1px"></div><div style="background:linear-gradient(90deg,#ffffff 0.5px,#ffffff 3.5px,#5252d1 4.5px,#3535d6 5.5px,#0000ee 6.5px,#0008ff 7.5px,#003dff 8.5px,#005fff 9.5px,#0000f7 13.5px,#8080e2 14.5px,#4040db 15.5px,#0000be 16.5px,#8080d4 17.5px,#ffffff 18.5px,#ffffff 41.5px,#efeff9 42.5px,#0000b2 45.5px,#0006ff 56.5px,#00a4ff 75.5px,#01fffe 86.5px,#acff54 119.5px,#e6ff19 135.5px,#fff700 142.5px,#ffa500 156.5px,#ff9200 171.5px,#ffa500 177.5px,#ffb200 181.5px,#ffec00 182.5px,#f6ff09 183.5px,#e8ff17 184.5px,#fff600 185.5px,#ff8f00 186.5px,#ff8d00 188.5px,#ffbe00 189.5px,#ffdb00 190.5px,#ffe600 192.5px,#eaff15 193.5px,#fff000 194.5px,#fff600 195.5px,#45ffbb 196.5px,#50ffaf 197.5px,#fffc00 198.5px,#ffa000 199.5px,#ff1c00 200.5px,#ff0600 201.5px,#ff2600 202.5px,#ff1800 204.5px,#ff4300 205.5px,#ff3100 209.5px,#ff1200 210.5px,#ff2b00 216.5px,#ff4000 220.5px,#ffea00 231.5px,#f5ff0a 234.5px,#52ffae 250.5px,#00f7ff 256.5px,#0048ff 270.5px);height:1px"></div><div style="background:linear-gradient(90deg,#ffffff 0.5px,#ffffff 3.5px,#8282de 4.5px,#3c3cd3 5.5px,#0000ee 6.5px,#0008ff 7.5px,#003dff 8.5px,#005fff 9.5px,#0000f7 13.5px,#8080e2 14.5px,#4040db 15.5px,#0000be 16.5px,#8080d4 17.5px,#ffffff 18.5px,#ffffff 44.5px,#efeff9 45.5px,#0000b2 48.5px,#0008ff 59.5px,#009dff 77.5px,#00fbff 88.5px,#a4ff5c 118.5px,#e3ff1c 135.5px,#fff300 143.5px,#ff9f00 158.5px,#ff9300 172.5px,#ffa200 177.5px,#ffad00 181.5px,#ffeb00 182.5px,#fbff04 183.5px,#f0ff0f 184.5px,#ffef00 185.5px,#ff8c00 186.5px,#ff8a00 188.5px,#ffbf00 189.5px,#ffdc00 190.5px,#ffe500 192.5px,#faff05 193.5px,#ffdb00 194.5px,#ffe200 195.5px,#49ffb6 196.5px,#53ffac 197.5px,#fffb00 198.5px,#ffac00 199.5px,#ff1d00 200.5px,#ff0500 201.5px,#ff1f00 202.5px,#ff1400 204.5px,#ff4700 205.5px,#ff4800 206.5px,#ff2c00 209.5px,#ff1300 210.5px,#ff2d00 215.5px,#ff3800 219.5px,#ffe500 230.5px,#faff05 233.5px,#4affb6 250.5px,#00feff 255.5px,#0041ff 270.5px);height:1px"></div><div style="background:linear-gradient(90deg,#ffffff 0.5px,#ffffff 3.5px,#b2b2eb 4.5px,#2929cd 5.5px,#0000ee 6.5px,#0000f7 7.5px,#003dff 8.5px,#005fff 9.5px,#0000f7 13.5px,#8080e2 14.5px,#4040db 15.5px,#0000be 16.5px,#8080d4 17.5px,#ffffff 18.5px,#ffffff 47.5px,#efeff9 48.5px,#3030bd 50.5px,#0000b4 51.5px,#0003ff 61.5px,#008fff 78.5px,#00f6ff 90.5px,#26ffd9 97.5px,#8aff76 113.5px,#e5ff1a 136.5px,#fff400 143.5px,#ff9e00 159.5px,#ff9300 172.5px,#ff9f00 177.5px,#ffa700 181.5px,#ffea00 182.5px,#fffe00 183.5px,#f8ff07 184.5px,#ffe800 185.5px,#ff8900 186.5px,#ff8700 188.5px,#ffc000 189.5px,#ffdd00 190.5px,#ffe300 192.5px,#fff400 193.5px,#ffc600 194.5px,#ffce00 195.5px,#4effb2 196.5px,#56ffaa 197.5px,#fff900 198.5px,#ffb800 199.5px,#ff1f00 200.5px,#ff0400 201.5px,#ff1800 202.5px,#ff1100 204.5px,#ff4a00 205.5px,#ff4c00 206.5px,#ff2800 208.5px,#ff2600 209.5px,#ff1300 210.5px,#ff2100 212.5px,#ff3c00 219.5px,#ffa300 225.5px,#feff01 232.5px,#42ffbd 250.5px,#00f6ff 255.5px,#003aff 270.5px);height:1px"></div><div style="background:linear-gradient(90deg,#ffffff 0.5px,#ffffff 3.5px,#e2e2f7 4.5px,#1212c3 5.5px,#0000e9 6.5px,#0006ff 7.5px,#003dff 8.5px,#005fff 9.5px,#0000f7 13.5px,#8080e2 14.5px,#4040db 15.5px,#0000be 16.5px,#8080d4 17.5px,#ffffff 18.5px,#ffffff 50.5px,#dfdff4 51.5px,#2020b9 53.5px,#0000b6 54.5px,#0004ff 64.5px,#009cff 82.5px,#00ffff 94.5px,#6eff92 109.5px,#aeff52 124.5px,#fffb00 142.5px,#ff9f00 159.5px,#ff9300 172.5px,#ffa100 181.5px,#ffe900 182.5px,#fffe00 184.5px,#ffe100 185.5px,#ff8600 186.5px,#ff8500 188.5px,#ffc100 189.5px,#ffdd00 190.5px,#ffe300 193.5px,#ffb200 194.5px,#ffba00 195.5px,#52ffae 196.5px,#59ffa7 197.5px,#fff700 198.5px,#ffc400 199.5px,#ff2100 200.5px,#ff0300 201.5px,#ff1200 203.5px,#ff0d00 204.5px,#ff4e00 205.5px,#ff5000 206.5px,#ff2300 208.5px,#ff1400 211.5px,#ff3000 214.5px,#ff4000 219.5px,#ff8d00 223.5px,#fffb00 231.5px,#49ffb6 249.5px,#00fdff 254.5px,#0033ff 270.5px);height:1px"></div><div style="background:linear-gradient(90deg,#ffffff 0.5px,#ffffff 4.5px,#7070da 5.5px,#0000df 6.5px,#0008ff 7.5px,#003dff 8.5px,#005fff 9.5px,#0000f7 13.5px,#8080e2 14.5px,#7070df 15.5px,#0000be 16.5px,#8080d4 17.5px,#ffffff 18.5px,#ffffff 53.5px,#cfcfee 54.5px,#1010b5 56.5px,#0000be 58.5px,#0005ff 67.5px,#00feff 96.5px,#89ff77 115.5px,#e0ff20 136.5px,#fff700 143.5px,#ff9e00 160.5px,#ff9300 172.5px,#ff9c00 181.5px,#ffe800 182.5px,#fff700 184.5px,#ffda00 185.5px,#ff8400 186.5px,#ff8200 188.5px,#ffc200 189.5px,#ffdd00 190.5px,#ffe000 192.5px,#ffd400 193.5px,#ff9f00 194.5px,#ffa800 195.5px,#57ffa9 196.5px,#5cffa4 197.5px,#fff600 198.5px,#ffcf00 199.5px,#ff2300 200.5px,#ff0300 201.5px,#ff0a00 204.5px,#ff5100 205.5px,#ff5300 206.5px,#ff1e00 208.5px,#ff1500 211.5px,#ff3300 214.5px,#ff4500 219.5px,#ff9600 223.5px,#fdff02 231.5px,#42ffbd 249.5px,#05fffa 253.5px,#002cff 270.5px);height:1px"></div><div style="background:linear-gradient(90deg,#ffffff 0.5px,#ffffff 5.5px,#0000dc 6.5px,#0008ff 7.5px,#005fff 9.5px,#0000f7 13.5px,#8080e2 14.5px,#8080e2 15.5px,#0000be 16.5px,#8080d4 17.5px,#ffffff 18.5px,#ffffff 56.5px,#1010b6 59.5px,#0000c0 61.5px,#0007ff 70.5px,#01fffe 98.5px,#8cff74 117.5px,#ddff22 136.5px,#fff900 143.5px,#ff9f00 160.5px,#ff9300 172.5px,#ff9800 181.5px,#ffe700 182.5px,#fff000 184.5px,#ffd500 185.5px,#ff8200 186.5px,#ff8100 188.5px,#ffc200 189.5px,#ffdd00 190.5px,#ffde00 192.5px,#ffc600 193.5px,#ff8f00 194.5px,#ff9800 195.5px,#5bffa5 196.5px,#5effa2 197.5px,#fff700 198.5px,#ffda00 199.5px,#ff2600 200.5px,#ff0500 201.5px,#ff0700 204.5px,#ff5400 205.5px,#ff5600 206.5px,#ff1b00 208.5px,#ff1600 211.5px,#ff3600 214.5px,#ff4900 219.5px,#ff9100 222.5px,#fffc00 230.5px,#3bffc5 249.5px,#00fdff 253.5px,#0039ff 268.5px,#0025ff 270.5px);height:1px"></div><div style="background:linear-gradient(90deg,#ffffff 0.5px,#ffffff 5.5px,#3030d9 6.5px,#0005ff 7.5px,#0019ff 8.5px,#005fff 9.5px,#0000f7 13.5px,#8080e2 14.5px,#8080e2 15.5px,#0000be 16.5px,#8080d4 17.5px,#ffffff 18.5px,#ffffff 58.5px,#efeff9 59.5px,#0000b2 62.5px,#0003ff 72.5px,#00c3ff 94.5px,#02fffe 100.5px,#8bff75 118.5px,#e0ff1f 137.5px,#fff400 144.5px,#ff9f00 160.5px,#ff9300 172.5px,#ff9500 181.5px,#ffe500 182.5px,#ffea00 184.5px,#ffd000 185.5px,#ff8300 186.5px,#ff8000 188.5px,#ffc000 189.5px,#ffda00 190.5px,#ffdb00 192.5px,#ffbc00 193.5px,#ff8300 194.5px,#ff8d00 195.5px,#60ffa0 196.5px,#5fffa0 197.5px,#fff900 198.5px,#ffe200 199.5px,#ff2b00 200.5px,#ff0700 201.5px,#ff0500 204.5px,#ff5400 205.5px,#ff5600 206.5px,#ff1900 208.5px,#ff1800 211.5px,#ff3900 214.5px,#ff4f00 219.5px,#ff9a00 222.5px,#fcff03 230.5px,#33ffcc 249.5px,#00f5ff 253.5px,#0031ff 268.5px,#001eff 270.5px);height:1px"></div><div style="background:linear-gradient(90deg,#ffffff 0.5px,#ffffff 5.5px,#5050dc 6.5px,#0000fb 7.5px,#0006ff 8.5px,#005fff 9.5px,#0000f7 13.5px,#8080e2 14.5px,#8080e2 15.5px,#0000be 16.5px,#8080d4 17.5px,#ffffff 18.5px,#ffffff 61.5px,#efeff9 62.5px,#3030bd 64.5px,#0000b4 65.5px,#0006ff 75.5px,#00acff 94.5px,#00faff 101.5px,#8eff72 120.5px,#e3ff1c 138.5px,#fff500 144.5px,#ffa000 160.5px,#ff9300 172.5px,#ff9400 181.5px,#ffe200 182.5px,#ffe600 184.5px,#ffcd00 185.5px,#ff8400 186.5px,#ff8000 188.5px,#ffbe00 189.5px,#ffd600 190.5px,#ffd600 192.5px,#ffb500 193.5px,#ff7d00 194.5px,#ff8600 195.5px,#64ff9c 196.5px,#5bffa5 197.5px,#fffd00 198.5px,#ffe900 199.5px,#ff3100 200.5px,#ff0c00 201.5px,#ff0500 204.5px,#ff5300 205.5px,#ff5500 206.5px,#ff1800 208.5px,#ff1b00 211.5px,#ff3d00 214.5px,#ff5500 219.5px,#ffa300 222.5px,#fffc00 229.5px,#3affc6 248.5px,#00fdff 252.5px,#0058ff 264.5px,#0017ff 270.5px);height:1px"></div><div style="background:linear-gradient(90deg,#ffffff 0.5px,#ffffff 5.5px,#8080e2 6.5px,#0000f5 7.5px,#0000f7 8.5px,#005eff 9.5px,#0000f7 13.5px,#8080e2 14.5px,#8080e2 15.5px,#0000be 16.5px,#8080d4 17.5px,#ffffff 18.5px,#ffffff 64.5px,#dfdff4 65.5px,#2020b9 67.5px,#0000b6 68.5px,#0002ff 77.5px,#0094ff 94.5px,#00f1ff 102.5px,#10ffef 106.5px,#8dff73 121.5px,#e7ff18 139.5px,#fff700 144.5px,#ff9f00 161.5px,#ff9300 172.5px,#ff9300 181.5px,#ffe000 182.5px,#ffe300 184.5px,#ffcb00 185.5px,#ff8700 186.5px,#ff8100 188.5px,#ffba00 189.5px,#ffd200 190.5px,#ffd100 192.5px,#ffaf00 193.5px,#ff7900 194.5px,#ff8200 195.5px,#69ff97 196.5px,#57ffa9 197.5px,#fbff04 198.5px,#ffef00 199.5px,#ff3800 200.5px,#ff1200 201.5px,#ff0100 203.5px,#ff0400 204.5px,#ff5100 205.5px,#ff5300 206.5px,#ff1800 208.5px,#ff1f00 211.5px,#ff4100 214.5px,#ff5b00 219.5px,#ffab00 222.5px,#fcff03 229.5px,#33ffcd 248.5px,#00f5ff 252.5px,#0050ff 264.5px,#0011ff 270.5px);height:1px"></div><div style="background:linear-gradient(90deg,#ffffff 0.5px,#ffffff 5.5px,#afafeb 6.5px,#0000ea 7.5px,#000cff 8.5px,#004bff 9.5px,#0048ff 10.5px,#0000f7 13.5px,#8080e2 14.5px,#8080e2 15.5px,#0000be 16.5px,#8080d4 17.5px,#ffffff 18.5px,#ffffff 67.5px,#cfcfee 68.5px,#6060ca 69.5px,#1010b6 70.5px,#0000c2 72.5px,#0005ff 80.5px,#007cff 94.5px,#00f0ff 104.5px,#10ffef 108.5px,#91ff6f 123.5px,#f2ff0d 141.5px,#ffef00 146.5px,#ffa000 161.5px,#ff9300 172.5px,#ff9300 181.5px,#ffdd00 182.5px,#ffe000 184.5px,#ffc900 185.5px,#ff8b00 186.5px,#ff8300 188.5px,#ffb600 189.5px,#ffcc00 190.5px,#ffcc00 192.5px,#ffab00 193.5px,#ff7600 194.5px,#ff7f00 195.5px,#6dff93 196.5px,#52ffae 197.5px,#f5ff0a 198.5px,#fff500 199.5px,#ff4000 200.5px,#ff1900 201.5px,#ff0200 202.5px,#ff0500 204.5px,#ff4e00 205.5px,#ff5000 206.5px,#ff1900 208.5px,#ff2300 211.5px,#ff4e00 215.5px,#ff6200 219.5px,#ffb400 222.5px,#f7ff08 229.5px,#2cffd4 248.5px,#00fdff 251.5px,#0060ff 262.5px,#000aff 270.5px);height:1px"></div><div style="background:linear-gradient(90deg,#ffffff 0.5px,#ffffff 5.5px,#dfdff7 6.5px,#0000df 7.5px,#0014ff 8.5px,#0038ff 9.5px,#0048ff 10.5px,#0000f7 13.5px,#8080e2 14.5px,#8080e2 15.5px,#0000be 16.5px,#8080d4 17.5px,#ffffff 18.5px,#ffffff 69.5px,#efeff9 70.5px,#9f9fde 71.5px,#3030bd 72.5px,#0000b4 73.5px,#0008ff 83.5px,#0065ff 94.5px,#00e7ff 105.5px,#09fff6 109.5px,#90ff6f 124.5px,#fffa00 144.5px,#ffbd00 155.5px,#ff9300 166.5px,#ff9400 181.5px,#ffda00 182.5px,#ffdd00 184.5px,#ffc700 185.5px,#ff8f00 186.5px,#ff8400 188.5px,#ffb100 189.5px,#ffc700 190.5px,#ffc700 192.5px,#ffa700 193.5px,#ff7400 194.5px,#ff7d00 195.5px,#72ff8e 196.5px,#4effb2 197.5px,#efff10 198.5px,#fffa00 199.5px,#ff4800 200.5px,#ff0300 202.5px,#ff0500 204.5px,#ff4c00 205.5px,#ff4d00 206.5px,#ff1a00 208.5px,#ff2700 211.5px,#ff5400 215.5px,#ff6900 219.5px,#ffbc00 222.5px,#fcff03 228.5px,#32ffcd 247.5px,#00f6ff 251.5px,#0059ff 262.5px,#0003ff 270.5px);height:1px"></div><div style="background:linear-gradient(90deg,#ffffff 0.5px,#ffffff 6.5px,#0f0fd9 7.5px,#0008ff 8.5px,#0048ff 10.5px,#0000f7 13.5px,#8080e2 14.5px,#8080e2 15.5px,#0000be 16.5px,#8080d4 17.5px,#ffffff 18.5px,#ffffff 72.5px,#dfdff4 73.5px,#1010b5 75.5px,#0000c0 77.5px,#0003ff 85.5px,#005cff 95.5px,#00efff 108.5px,#0bfff4 111.5px,#94ff6c 126.5px,#fff900 145.5px,#ffc800 154.5px,#ffa000 162.5px,#ff9300 172.5px,#ff9400 181.5px,#ffd800 182.5px,#ffda00 184.5px,#ffc500 185.5px,#ff9200 186.5px,#ff8500 188.5px,#ffad00 189.5px,#ffc200 190.5px,#ffc100 192.5px,#ffa300 193.5px,#ff7200 194.5px,#ff7a00 195.5px,#76ff8a 196.5px,#49ffb6 197.5px,#e8ff17 198.5px,#feff01 199.5px,#ff5000 200.5px,#ff0300 202.5px,#ff0500 204.5px,#ff4900 205.5px,#ff4a00 206.5px,#ff1b00 208.5px,#ff2b00 211.5px,#ff5d00 216.5px,#ff6f00 219.5px,#ffc400 222.5px,#f7ff08 228.5px,#2cffd3 247.5px,#01fffe 250.5px,#005fff 261.5px,#0000fb 270.5px);height:1px"></div><div style="background:linear-gradient(90deg,#ffffff 0.5px,#ffffff 6.5px,#4040db 7.5px,#0002ff 8.5px,#0012ff 9.5px,#0048ff 10.5px,#0000f7 13.5px,#8080e2 14.5px,#8080e2 15.5px,#0000be 16.5px,#8080d4 17.5px,#ffffff 18.5px,#ffffff 75.5px,#5050c6 77.5px,#0000b3 78.5px,#0005ff 88.5px,#008eff 101.5px,#00fbff 111.5px,#93ff6d 127.5px,#fffd00 145.5px,#ffcd00 154.5px,#ffa300 162.5px,#ff9400 172.5px,#ff9400 181.5px,#ffd500 182.5px,#ffd700 184.5px,#ffc300 185.5px,#ff9600 186.5px,#ff8700 188.5px,#ffbc00 190.5px,#ffbc00 192.5px,#ff9f00 193.5px,#ff7100 194.5px,#ff7800 195.5px,#8fff71 196.5px,#45ffbb 197.5px,#e2ff1d 198.5px,#f9ff06 199.5px,#ff5800 200.5px,#ff0400 202.5px,#ff0500 204.5px,#ff4600 205.5px,#ff4800 206.5px,#ff1c00 208.5px,#ff3e00 212.5px,#ff6300 216.5px,#ff7500 219.5px,#ffca00 222.5px,#feff01 227.5px,#35ffcb 246.5px,#00fcff 250.5px,#004dff 262.5px,#0000fd 269.5px,#0000f5 270.5px);height:1px"></div><div style="background:linear-gradient(90deg,#ffffff 0.5px,#ffffff 6.5px,#7070df 7.5px,#0000f7 8.5px,#0000fe 9.5px,#0048ff 10.5px,#0000f7 13.5px,#8080e2 14.5px,#8080e2 15.5px,#0000be 16.5px,#8080d4 17.5px,#ffffff 18.5px,#ffffff 77.5px,#dfdff4 78.5px,#2020b9 80.5px,#0000b7 81.5px,#0000fe 90.5px,#02fffd 113.5px,#90ff70 128.5px,#fffd00 147.5px,#ffab00 161.5px,#ff9500 171.5px,#ff9400 181.5px,#ffd200 182.5px,#ffd400 184.5px,#ffc200 185.5px,#ff9a00 186.5px,#ff8800 188.5px,#ffb700 190.5px,#ffb600 192.5px,#ff9b00 193.5px,#ff6f00 194.5px,#ff7600 195.5px,#a9ff57 196.5px,#40ffbf 197.5px,#dcff23 198.5px,#f4ff0b 199.5px,#ff6000 200.5px,#ff0500 202.5px,#ff0500 204.5px,#ff4300 205.5px,#ff4500 206.5px,#ff1d00 208.5px,#ff3000 210.5px,#ff5400 214.5px,#ff6900 216.5px,#ff7b00 219.5px,#ffce00 222.5px,#fcff03 227.5px,#34ffcc 246.5px,#00fbff 250.5px,#003eff 263.5px,#0000f8 269.5px,#0000f0 270.5px);height:1px"></div><div style="background:linear-gradient(90deg,#ffffff 0.5px,#ffffff 6.5px,#9f9fe8 7.5px,#0000ec 8.5px,#0000fc 9.5px,#0048ff 10.5px,#0000f7 13.5px,#8080e2 14.5px,#8080e2 15.5px,#0000be 16.5px,#8080d4 17.5px,#ffffff 18.5px,#ffffff 80.5px,#6060ca 82.5px,#0000b2 83.5px,#0000ff 92.5px,#00beff 109.5px,#00fcff 114.5px,#8aff76 129.5px,#fbff04 148.5px,#ffcd00 156.5px,#ff9800 170.5px,#ff9500 181.5px,#ffcf00 182.5px,#ffd100 184.5px,#ffc000 185.5px,#ff9e00 186.5px,#ff8a00 188.5px,#ffb100 190.5px,#ffb100 192.5px,#ff6d00 194.5px,#ff7400 195.5px,#c2ff3d 196.5px,#3cffc4 197.5px,#d6ff2a 198.5px,#efff10 199.5px,#ff6800 200.5px,#ff0500 202.5px,#ff0600 204.5px,#ff4000 205.5px,#ff4200 206.5px,#ff1e00 208.5px,#ff3400 210.5px,#ff5800 214.5px,#ff6b00 215.5px,#ff8100 219.5px,#ffd000 222.5px,#f4ff0b 228.5px,#29ffd6 247.5px,#00feff 250.5px,#001aff 266.5px,#0000f6 269.5px,#0000ed 270.5px);height:1px"></div><div style="background:linear-gradient(90deg,#ffffff 0.5px,#ffffff 6.5px,#cfcff3 7.5px,#0000e3 8.5px,#000dff 9.5px,#0048ff 10.5px,#0000f7 13.5px,#8080e2 14.5px,#8080e2 15.5px,#0000be 16.5px,#8080d4 17.5px,#ffffff 18.5px,#ffffff 82.5px,#efeff9 83.5px,#4040c1 85.5px,#0000b4 86.5px,#0001ff 94.5px,#0099ff 108.5px,#00f8ff 115.5px,#7cff84 129.5px,#feff01 151.5px,#ffb600 163.5px,#ff9900 173.5px,#ff9500 181.5px,#ffcc00 182.5px,#ffce00 184.5px,#ffa100 186.5px,#ff8b00 188.5px,#ffac00 190.5px,#ffab00 192.5px,#ff6b00 194.5px,#ff7100 195.5px,#d0ff2f 196.5px,#37ffc8 197.5px,#cfff30 198.5px,#eaff15 199.5px,#ff6f00 200.5px,#ff0600 202.5px,#ff0600 204.5px,#ff3e00 205.5px,#ff3f00 206.5px,#ff2700 207.5px,#ff1f00 208.5px,#ff3400 209.5px,#ff4900 212.5px,#ff5c00 214.5px,#ff7100 215.5px,#ff8600 219.5px,#ffce00 222.5px,#f8ff07 228.5px,#2fffd1 247.5px,#00f5ff 251.5px,#0002ff 268.5px,#0000eb 270.5px);height:1px"></div><div style="background:linear-gradient(90deg,#ffffff 0.5px,#ffffff 7.5px,#0000dc 8.5px,#0013ff 9.5px,#003cff 10.5px,#001bff 12.5px,#0000f7 13.5px,#8080e2 14.5px,#4040da 15.5px,#0000be 16.5px,#8080d4 17.5px,#ffffff 18.5px,#ffffff 85.5px,#dfdff4 86.5px,#8f8fd9 87.5px,#2020b9 88.5px,#0000b6 89.5px,#0004ff 96.5px,#0083ff 108.5px,#00f4ff 116.5px,#1effe1 120.5px,#6dff93 129.5px,#bcff44 142.5px,#fff800 154.5px,#ffa200 170.5px,#ff9500 181.5px,#ffca00 182.5px,#ffcb00 184.5px,#ffa500 186.5px,#ffa100 187.5px,#ff8d00 188.5px,#ffa600 190.5px,#ffa600 192.5px,#ff6900 194.5px,#ff6f00 195.5px,#dbff24 196.5px,#33ffcd 197.5px,#c9ff36 198.5px,#e5ff1a 199.5px,#ff7700 200.5px,#ff4800 201.5px,#ff0700 202.5px,#ff0600 204.5px,#ff3b00 205.5px,#ff3c00 206.5px,#ff2500 207.5px,#ff2000 208.5px,#ff3700 209.5px,#ff4d00 212.5px,#ff6000 214.5px,#ff7700 215.5px,#ff8c00 219.5px,#ffcb00 222.5px,#f6ff09 229.5px,#1cffe3 249.5px,#01fffe 251.5px,#0003ff 268.5px,#0000eb 270.5px);height:1px"></div><div style="background:linear-gradient(90deg,#ffffff 0.5px,#ffffff 7.5px,#2d2dd9 8.5px,#0004ff 9.5px,#002dff 10.5px,#0030ff 11.5px,#0000f7 13.5px,#8080e2 14.5px,#4040db 15.5px,#0000be 16.5px,#8080d4 17.5px,#ffffff 18.5px,#ffffff 88.5px,#bfbfe9 89.5px,#3030bd 90.5px,#0000b8 91.5px,#0004ff 98.5px,#006dff 108.5px,#00faff 118.5px,#59ffa7 128.5px,#93ff6d 139.5px,#fff900 156.5px,#ffa200 172.5px,#ff9500 181.5px,#ffc700 182.5px,#ffc800 184.5px,#ffa500 187.5px,#ff8e00 188.5px,#ffa200 191.5px,#ffa100 192.5px,#ff6700 194.5px,#ff6d00 195.5px,#e7ff19 196.5px,#2effd1 197.5px,#c3ff3d 198.5px,#e0ff20 199.5px,#ff7f00 200.5px,#ff4e00 201.5px,#ff0700 202.5px,#ff0600 204.5px,#ff3800 205.5px,#ff3900 206.5px,#ff2400 207.5px,#ff2100 208.5px,#ff3b00 209.5px,#ff5000 212.5px,#ff6400 214.5px,#ff7d00 215.5px,#ff9000 219.5px,#ffc700 222.5px,#fdff02 229.5px,#03fffc 251.5px,#00b3ff 257.5px,#0005ff 268.5px,#0000eb 270.5px);height:1px"></div><div style="background:linear-gradient(90deg,#ffffff 0.5px,#ffffff 7.5px,#6060dd 8.5px,#0000f8 9.5px,#002dff 11.5px,#0000f7 13.5px,#8080e2 14.5px,#4040db 15.5px,#0000bb 16.5px,#8f8fd9 17.5px,#ffffff 18.5px,#ffffff 90.5px,#9f9fde 91.5px,#2020b9 92.5px,#0000b9 93.5px,#0003ff 100.5px,#0066ff 109.5px,#00f6ff 119.5px,#4affb6 128.5px,#81ff7f 139.5px,#fffc00 158.5px,#ff9b00 174.5px,#ff9500 181.5px,#ffc400 182.5px,#ffc600 184.5px,#ffa900 187.5px,#ff8f00 188.5px,#ff9b00 192.5px,#ff6500 194.5px,#ff6a00 195.5px,#f2ff0d 196.5px,#2affd6 197.5px,#bcff43 198.5px,#dbff25 199.5px,#ff8700 200.5px,#ff5500 201.5px,#ff0800 202.5px,#ff0700 204.5px,#ff3500 205.5px,#ff3600 206.5px,#ff2200 207.5px,#ff2200 208.5px,#ff3e00 209.5px,#ff5e00 213.5px,#ff6700 214.5px,#ff8300 215.5px,#ff9500 219.5px,#ffcb00 223.5px,#ffff00 228.5px,#17ffe8 248.5px,#00f3ff 251.5px,#0007ff 268.5px,#0000eb 270.5px);height:1px"></div><div style="background:linear-gradient(90deg,#ffffff 0.5px,#ffffff 7.5px,#8f8fe5 8.5px,#0000ef 9.5px,#000fff 10.5px,#002cff 11.5px,#0000f7 13.5px,#8080e2 14.5px,#4040db 15.5px,#0000b9 16.5px,#bfbfe9 17.5px,#ffffff 18.5px,#ffffff 92.5px,#1010b6 94.5px,#0000c5 96.5px,#0001ff 102.5px,#007eff 112.5px,#00f1ff 120.5px,#1cffe4 124.5px,#3cffc3 128.5px,#6bff95 138.5px,#fbff04 159.5px,#ff9800 175.5px,#ff9600 181.5px,#ffc100 182.5px,#ffc300 184.5px,#ffac00 187.5px,#ff9100 188.5px,#ff8a00 189.5px,#ff9700 191.5px,#ff9600 192.5px,#ff6300 194.5px,#ff6800 195.5px,#fdff02 196.5px,#2affd5 197.5px,#b6ff49 198.5px,#d5ff2a 199.5px,#ff8f00 200.5px,#ff5c00 201.5px,#ff0800 202.5px,#ff0700 204.5px,#ff3300 205.5px,#ff3400 206.5px,#ff2100 207.5px,#ff2300 208.5px,#ff4100 209.5px,#ff6b00 214.5px,#ff8900 215.5px,#ffa800 220.5px,#fffb00 227.5px,#00feff 249.5px,#001eff 265.5px,#0000f7 268.5px,#0000e6 270.5px);height:1px"></div><div style="background:linear-gradient(90deg,#ffffff 0.5px,#ffffff 7.5px,#bfbfef 8.5px,#0000e8 9.5px,#0000fe 10.5px,#002aff 11.5px,#0000f7 13.5px,#8080e2 14.5px,#4040db 15.5px,#0000b9 16.5px,#bfbfe9 17.5px,#ffffff 18.5px,#ffffff 93.5px,#efeff9 94.5px,#1010b6 96.5px,#0000c5 98.5px,#0001ff 104.5px,#0097ff 115.5px,#00f7ff 122.5px,#34ffcb 129.5px,#5effa1 138.5px,#f1ff0f 159.5px,#fff700 162.5px,#ff9900 175.5px,#ff9600 181.5px,#ffbf00 182.5px,#ffb000 187.5px,#ff9200 188.5px,#ff8600 189.5px,#ff9000 192.5px,#ff6100 194.5px,#ff6600 195.5px,#fff500 196.5px,#30ffcf 197.5px,#b0ff50 198.5px,#d0ff2f 199.5px,#ff9700 200.5px,#ff6200 201.5px,#ff0900 202.5px,#ff0700 204.5px,#ff3000 205.5px,#ff3100 206.5px,#ff1f00 207.5px,#ff2400 208.5px,#ff4500 209.5px,#ff6f00 214.5px,#ff8f00 215.5px,#ffac00 220.5px,#f8ff07 227.5px,#4dffb3 241.5px,#00fcff 248.5px,#0031ff 262.5px,#0000fe 266.5px,#0000d0 270.5px);height:1px"></div><div style="background:linear-gradient(90deg,#ffffff 0.5px,#ffffff 7.5px,#efeffb 8.5px,#0000dd 9.5px,#0000fa 10.5px,#0027ff 11.5px,#0000f7 13.5px,#8080e2 14.5px,#4040d8 15.5px,#0000b6 16.5px,#cfcfee 17.5px,#ffffff 18.5px,#ffffff 95.5px,#efeff9 96.5px,#1010b6 98.5px,#0000c2 100.5px,#0007ff 106.5px,#00bfff 119.5px,#00feff 124.5px,#2cffd3 129.5px,#4effb2 137.5px,#e3ff1c 158.5px,#fff600 163.5px,#ff9900 175.5px,#ff9600 181.5px,#ffbc00 182.5px,#ffb400 187.5px,#ff8200 189.5px,#ff8b00 192.5px,#ff5f00 194.5px,#ff6400 195.5px,#ffe900 196.5px,#36ffc9 197.5px,#aaff56 198.5px,#cbff34 199.5px,#ff9f00 200.5px,#ff6900 201.5px,#ff0a00 202.5px,#ff0700 204.5px,#ff2d00 205.5px,#ff2e00 206.5px,#ff1e00 207.5px,#ff2500 208.5px,#ff4800 209.5px,#ff7300 214.5px,#ff9500 215.5px,#ffb100 220.5px,#fcff03 226.5px,#4bffb5 240.5px,#00faff 247.5px,#0037ff 260.5px,#0000f7 265.5px,#0000ba 270.5px);height:1px"></div><div style="background:linear-gradient(90deg,#ffffff 0.5px,#ffffff 8.5px,#1515d7 9.5px,#0006ff 10.5px,#0027ff 11.5px,#0000f7 13.5px,#8080e2 14.5px,#4040d7 15.5px,#0000b3 16.5px,#ffffff 17.5px,#ffffff 97.5px,#efeff9 98.5px,#9f9fde 99.5px,#2020b9 100.5px,#0000b8 101.5px,#0002ff 107.5px,#00b8ff 120.5px,#00faff 125.5px,#2bffd4 131.5px,#63ff9d 141.5px,#deff21 158.5px,#fffb00 163.5px,#ff9900 175.5px,#ff9600 181.5px,#ffb900 182.5px,#ffb100 185.5px,#ffb800 187.5px,#ff7d00 189.5px,#ff8600 192.5px,#ff5d00 194.5px,#ff6100 195.5px,#ffdd00 196.5px,#3cffc3 197.5px,#a3ff5d 198.5px,#c6ff39 199.5px,#ffa700 200.5px,#ff7000 201.5px,#ff0a00 202.5px,#ff0800 204.5px,#ff2a00 205.5px,#ff1c00 207.5px,#ff2600 208.5px,#ff4b00 209.5px,#ff7700 214.5px,#ff9b00 215.5px,#ffb700 220.5px,#ffff00 225.5px,#33ffcc 241.5px,#00f9ff 246.5px,#0031ff 259.5px,#0000fe 263.5px,#0000be 268.5px,#1010b6 269.5px,#8f8fd9 270.5px);height:1px"></div><div style="background:linear-gradient(90deg,#ffffff 0.5px,#ffffff 8.5px,#4444d9 9.5px,#0000fb 10.5px,#0025ff 11.5px,#0000f7 13.5px,#8080e2 14.5px,#4040d7 15.5px,#0000b3 16.5px,#ffffff 17.5px,#ffffff 100.5px,#9f9fde 101.5px,#2020b9 102.5px,#0000b9 103.5px,#0008ff 109.5px,#00f5ff 126.5px,#1fffe1 130.5px,#65ff9b 142.5px,#ffff00 163.5px,#ff9900 175.5px,#ff9700 181.5px,#ffb600 182.5px,#ffaf00 185.5px,#ffbf00 186.5px,#ffbb00 187.5px,#ff7900 189.5px,#ff8000 192.5px,#ff5b00 194.5px,#ff5f00 195.5px,#ffd200 196.5px,#42ffbd 197.5px,#9cff64 198.5px,#c1ff3f 199.5px,#ffaf00 200.5px,#ff7600 201.5px,#ff0b00 202.5px,#ff0800 204.5px,#ff2700 205.5px,#ff1b00 207.5px,#ff2700 208.5px,#ff4f00 209.5px,#ff7b00 214.5px,#ffa100 215.5px,#ffbd00 220.5px,#fffb00 224.5px,#03fffc 244.5px,#00bbff 249.5px,#002aff 258.5px,#0000f7 262.5px,#0000b8 267.5px,#4040c1 268.5px,#dfdff4 269.5px,#ffffff 270.5px);height:1px"></div><div style="background:linear-gradient(90deg,#ffffff 0.5px,#ffffff 8.5px,#8080e2 9.5px,#0000f2 10.5px,#0021ff 11.5px,#0000f3 13.5px,#4040da 14.5px,#0000c6 15.5px,#1010b5 16.5px,#ffffff 17.5px,#ffffff 102.5px,#0000b3 104.5px,#0003ff 110.5px,#00fbff 128.5px,#2affd5 134.5px,#fffb00 164.5px,#ff9a00 175.5px,#ff9700 181.5px,#ffb300 182.5px,#ffae00 185.5px,#ffc300 186.5px,#ffbf00 187.5px,#ff7500 189.5px,#ff7b00 192.5px,#ff5a00 194.5px,#ff5d00 195.5px,#ffc600 196.5px,#48ffb7 197.5px,#7aff86 198.5px,#bcff44 199.5px,#ffb700 200.5px,#ff7d00 201.5px,#ff0c00 202.5px,#ff0800 204.5px,#ff2500 205.5px,#ff1a00 207.5px,#ff2800 208.5px,#ff5200 209.5px,#ff7f00 214.5px,#ffa700 215.5px,#ffb800 219.5px,#f8ff07 224.5px,#01fffe 243.5px,#00b8ff 248.5px,#0018ff 258.5px,#0000fe 260.5px,#0000be 265.5px,#1010b6 266.5px,#ffffff 268.5px,#ffffff 270.5px);height:1px"></div><div style="background:linear-gradient(90deg,#ffffff 0.5px,#ffffff 8.5px,#bfbfef 9.5px,#0000e8 10.5px,#0020ff 11.5px,#0000f2 13.5px,#4040db 14.5px,#0000c4 15.5px,#4040c2 16.5px,#ffffff 17.5px,#ffffff 103.5px,#cfcfee 104.5px,#2020b9 105.5px,#0000bb 106.5px,#0000fd 111.5px,#00a6ff 123.5px,#00f6ff 129.5px,#40ffc0 138.5px,#fffe00 164.5px,#ff9a00 175.5px,#ff9700 181.5px,#ffb100 182.5px,#ffac00 185.5px,#ffc700 186.5px,#ffc300 187.5px,#ff7000 189.5px,#ff7500 192.5px,#ff5800 194.5px,#ff5b00 195.5px,#ffba00 196.5px,#4effb1 197.5px,#71ff8f 198.5px,#b7ff49 199.5px,#ffbe00 200.5px,#ff8400 201.5px,#ff0c00 202.5px,#ff0800 204.5px,#ff2200 205.5px,#ff1800 207.5px,#ff2900 208.5px,#ff5500 209.5px,#ff8300 214.5px,#ffad00 215.5px,#ffc300 219.5px,#fcff03 223.5px,#00ffff 242.5px,#00a5ff 248.5px,#0007ff 258.5px,#0000b8 264.5px,#4040c1 265.5px,#dfdff4 266.5px,#ffffff 267.5px,#ffffff 270.5px);height:1px"></div><div style="background:linear-gradient(90deg,#ffffff 0.5px,#ffffff 8.5px,#efeffb 9.5px,#0000dd 10.5px,#0011ff 11.5px,#0000f1 13.5px,#4040db 14.5px,#0000c4 15.5px,#4040c2 16.5px,#ffffff 17.5px,#ffffff 104.5px,#efeff9 105.5px,#7070cf 106.5px,#0000b5 107.5px,#0006ff 113.5px,#00f1ff 130.5px,#1bffe4 134.5px,#fcff03 164.5px,#ff9a00 175.5px,#ff9700 181.5px,#ffae00 182.5px,#ffaa00 185.5px,#ffcb00 186.5px,#ffc600 187.5px,#ff6c00 189.5px,#ff7000 192.5px,#ff5600 194.5px,#ff5800 195.5px,#ffae00 196.5px,#54ffab 197.5px,#6bff95 198.5px,#b2ff4e 199.5px,#ffc600 200.5px,#ff8b00 201.5px,#ff0d00 202.5px,#ff0800 204.5px,#ff1f00 205.5px,#ff1700 207.5px,#ff2a00 208.5px,#ff5900 209.5px,#ff8700 214.5px,#ffb300 215.5px,#ffc000 218.5px,#ffff00 222.5px,#00ffff 241.5px,#0004ff 257.5px,#0000be 262.5px,#1010b6 263.5px,#ffffff 265.5px,#ffffff 270.5px);height:1px"></div><div style="background:linear-gradient(90deg,#ffffff 0.5px,#ffffff 9.5px,#0c0cd6 10.5px,#0002ff 11.5px,#0005ff 12.5px,#0000ec 13.5px,#1010d8 14.5px,#0000c0 15.5px,#5050c6 16.5px,#ffffff 17.5px,#ffffff 106.5px,#afafe4 107.5px,#1010b5 108.5px,#0000ca 110.5px,#0001ff 114.5px,#00f7ff 132.5px,#dcff23 160.5px,#fff400 166.5px,#ff9b00 175.5px,#ff9800 181.5px,#ffab00 182.5px,#ffa800 185.5px,#ffce00 186.5px,#ffca00 187.5px,#ff6700 189.5px,#ff6200 193.5px,#ff5400 194.5px,#ff5600 195.5px,#ffa200 196.5px,#5affa5 197.5px,#65ff9b 198.5px,#acff53 199.5px,#ffce00 200.5px,#ff9100 201.5px,#ff0e00 202.5px,#ff0900 204.5px,#ff1c00 205.5px,#ff1500 207.5px,#ff2b00 208.5px,#ff5c00 209.5px,#ff8b00 214.5px,#ffb900 215.5px,#ffcf00 218.5px,#fffb00 221.5px,#01fffe 240.5px,#0002ff 256.5px,#0000b8 261.5px,#4040c1 262.5px,#dfdff4 263.5px,#ffffff 264.5px,#ffffff 270.5px);height:1px"></div><div style="background:linear-gradient(90deg,#ffffff 0.5px,#ffffff 9.5px,#2a2ad4 10.5px,#0000f7 11.5px,#0005ff 12.5px,#0000be 15.5px,#8080d4 16.5px,#ffffff 17.5px,#ffffff 107.5px,#efeff9 108.5px,#4040c1 109.5px,#0000b8 110.5px,#0008ff 116.5px,#00f2ff 133.5px,#26ffd9 138.5px,#d3ff2d 159.5px,#fff700 166.5px,#ff9b00 175.5px,#ff9800 181.5px,#ffa900 183.5px,#ffa600 185.5px,#ffd200 186.5px,#ffce00 187.5px,#ff6300 189.5px,#ff5e00 193.5px,#ff5400 195.5px,#ff9700 196.5px,#60ff9f 197.5px,#5fffa1 198.5px,#a7ff58 199.5px,#ffd600 200.5px,#ff9800 201.5px,#ff0e00 202.5px,#ff0900 204.5px,#ff1a00 205.5px,#ff1400 207.5px,#ff2c00 208.5px,#ff5f00 209.5px,#ff8e00 214.5px,#ffbf00 215.5px,#ffdd00 218.5px,#f8ff07 221.5px,#05fffa 239.5px,#00afff 244.5px,#000fff 254.5px,#0000ff 255.5px,#0000b5 260.5px,#8f8fd9 261.5px,#ffffff 262.5px,#ffffff 270.5px);height:1px"></div><div style="background:linear-gradient(90deg,#ffffff 0.5px,#ffffff 9.5px,#6565db 10.5px,#0000ef 11.5px,#0001ff 12.5px,#0000bc 15.5px,#8080d4 16.5px,#ffffff 17.5px,#ffffff 109.5px,#8f8fd9 110.5px,#0000b3 111.5px,#0003ff 117.5px,#00b8ff 130.5px,#04fffb 136.5px,#94ff6c 151.5px,#fffb00 166.5px,#ff9b00 175.5px,#ff9800 181.5px,#ffa600 183.5px,#ffa400 185.5px,#ffd600 186.5px,#ffd100 187.5px,#ff5f00 189.5px,#ff5a00 193.5px,#ff5200 195.5px,#ff8b00 196.5px,#66ff9a 197.5px,#59ffa7 198.5px,#a2ff5d 199.5px,#ffde00 200.5px,#ff9f00 201.5px,#ff0f00 202.5px,#ff0900 204.5px,#ff1700 206.5px,#ff1200 207.5px,#ff2d00 208.5px,#ff6300 209.5px,#ff8b00 213.5px,#ffa000 214.5px,#ffc500 215.5px,#fbff04 220.5px,#00f9ff 239.5px,#0038ff 250.5px,#0000fc 254.5px,#0000c1 258.5px,#1010b6 259.5px,#bfbfe9 260.5px,#ffffff 261.5px,#ffffff 270.5px);height:1px"></div><div style="background:linear-gradient(90deg,#ffffff 0.5px,#ffffff 9.5px,#ababea 10.5px,#0000e6 11.5px,#0000fc 12.5px,#0000b9 15.5px,#bfbfe9 16.5px,#ffffff 17.5px,#ffffff 110.5px,#cfcfee 111.5px,#3030bd 112.5px,#0000bb 113.5px,#0000fc 118.5px,#00b1ff 131.5px,#00feff 137.5px,#a0ff60 153.5px,#fffe00 166.5px,#ff9b00 175.5px,#ff9800 181.5px,#ffa300 185.5px,#ffd900 186.5px,#ffd500 187.5px,#ffa100 188.5px,#ff5b00 189.5px,#ff4f00 195.5px,#ff7f00 196.5px,#66ff9a 197.5px,#53ffad 198.5px,#9dff63 199.5px,#ffe600 200.5px,#ffa500 201.5px,#ff0f00 202.5px,#ff0900 204.5px,#ff2200 207.5px,#ff3700 208.5px,#ff6600 209.5px,#ff8800 212.5px,#ffd800 216.5px,#fdff02 219.5px,#00fcff 238.5px,#009fff 243.5px,#0027ff 250.5px,#0000fa 253.5px,#0000bd 257.5px,#2020b9 258.5px,#cfcfee 259.5px,#ffffff 260.5px,#ffffff 270.5px);height:1px"></div><div style="background:linear-gradient(90deg,#ffffff 0.5px,#ffffff 10.5px,#0000dc 11.5px,#0000f8 12.5px,#0000b4 15.5px,#dfdff4 16.5px,#ffffff 17.5px,#ffffff 111.5px,#efeff9 112.5px,#7070cf 113.5px,#0000b5 114.5px,#0005ff 120.5px,#00b8ff 133.5px,#00f9ff 138.5px,#b5ff4b 156.5px,#fff600 167.5px,#ff9c00 175.5px,#ffa100 185.5px,#ffdd00 186.5px,#ffd900 187.5px,#ffa200 188.5px,#ff5600 189.5px,#ff4d00 195.5px,#ff7400 196.5px,#66ff9a 197.5px,#4dffb3 198.5px,#98ff68 199.5px,#ffee00 200.5px,#ffac00 201.5px,#ff1000 202.5px,#ff1100 205.5px,#ff4800 208.5px,#ff6900 209.5px,#ff9a00 212.5px,#fff200 217.5px,#f2ff0d 219.5px,#01fffe 237.5px,#00b9ff 241.5px,#0033ff 248.5px,#0000f7 252.5px,#0000bc 256.5px,#3030bd 257.5px,#efeff9 258.5px,#ffffff 260.5px,#ffffff 270.5px);height:1px"></div><div style="background:linear-gradient(90deg,#ffffff 0.5px,#ffffff 10.5px,#0b0bd3 11.5px,#0000f3 12.5px,#0000b2 15.5px,#ffffff 16.5px,#ffffff 113.5px,#bfbfe9 114.5px,#1010b5 115.5px,#0000c9 117.5px,#0000fe 121.5px,#00c1ff 135.5px,#03fffc 140.5px,#b9ff47 157.5px,#fffa00 167.5px,#ff9c00 175.5px,#ff9f00 185.5px,#ffe000 186.5px,#ffdc00 187.5px,#ffa400 188.5px,#ff5300 189.5px,#ff4b00 195.5px,#ff6900 196.5px,#66ff99 197.5px,#47ffb9 198.5px,#94ff6c 199.5px,#fff500 200.5px,#ffb100 201.5px,#ff1100 202.5px,#ff0a00 204.5px,#ffe200 215.5px,#f4ff0b 218.5px,#05fffa 236.5px,#00bfff 240.5px,#0023ff 248.5px,#0000f6 251.5px,#0000b9 255.5px,#5050c5 256.5px,#efeff9 257.5px,#ffffff 259.5px,#ffffff 270.5px);height:1px"></div><div style="background:linear-gradient(90deg,#ffffff 0.5px,#ffffff 10.5px,#3131d3 11.5px,#0000f0 12.5px,#0000c4 14.5px,#4040c2 15.5px,#ffffff 16.5px,#ffffff 114.5px,#efeff9 115.5px,#5050c5 116.5px,#0000b8 117.5px,#0007ff 123.5px,#00baff 136.5px,#00ffff 141.5px,#c3ff3d 159.5px,#fffe00 167.5px,#ff9c00 175.5px,#ff9e00 185.5px,#ffe300 186.5px,#ffdf00 187.5px,#ffa500 188.5px,#ff5100 189.5px,#ff4900 195.5px,#ff6000 196.5px,#67ff99 197.5px,#41ffbf 198.5px,#90ff70 199.5px,#fffc00 200.5px,#ffb500 201.5px,#ff1100 202.5px,#ff0a00 203.5px,#ffe000 214.5px,#f6ff09 217.5px,#00f9ff 236.5px,#006fff 243.5px,#0004ff 249.5px,#0000b8 254.5px,#6060ca 255.5px,#ffffff 256.5px,#ffffff 270.5px);height:1px"></div><div style="background:linear-gradient(90deg,#ffffff 0.5px,#ffffff 10.5px,#5858d8 11.5px,#0000ec 12.5px,#0000bf 14.5px,#6060ca 15.5px,#ffffff 16.5px,#ffffff 116.5px,#1010b6 118.5px,#0000ca 120.5px,#0000ff 124.5px,#00a4ff 136.5px,#00ffff 142.5px,#c4ff3b 160.5px,#fcff03 167.5px,#ff9c00 175.5px,#ff9d00 185.5px,#ffe500 186.5px,#ffe100 187.5px,#ffa700 188.5px,#ff5100 189.5px,#ff4800 195.5px,#ff5a00 196.5px,#68ff98 197.5px,#3dffc3 198.5px,#8dff73 199.5px,#fdff02 200.5px,#ffb600 201.5px,#ff1200 202.5px,#ff1400 203.5px,#ffde00 213.5px,#f7ff08 216.5px,#00fcff 235.5px,#009fff 240.5px,#0005ff 248.5px,#0000b5 253.5px,#8f8fd9 254.5px,#ffffff 255.5px,#ffffff 270.5px);height:1px"></div><div style="background:linear-gradient(90deg,#ffffff 0.5px,#ffffff 10.5px,#9494e4 11.5px,#0000e3 12.5px,#0000bc 14.5px,#8080d4 15.5px,#ffffff 16.5px,#ffffff 117.5px,#dfdff4 118.5px,#4040c1 119.5px,#0000b9 120.5px,#0008ff 126.5px,#00a1ff 137.5px,#00fcff 143.5px,#c6ff3a 161.5px,#fff800 168.5px,#ff9c00 175.5px,#ff9c00 185.5px,#ffe600 186.5px,#ffe200 187.5px,#ffa900 188.5px,#ff5300 189.5px,#ff4800 192.5px,#ff4800 195.5px,#ff5700 196.5px,#69ff97 197.5px,#3bffc5 198.5px,#8cff74 199.5px,#f8ff07 200.5px,#ffb500 201.5px,#ff1300 202.5px,#ffe900 213.5px,#edff13 216.5px,#01fffe 234.5px,#00b9ff 238.5px,#000aff 247.5px,#0000c1 251.5px,#1010b7 252.5px,#9f9fde 253.5px,#ffffff 254.5px,#ffffff 270.5px);height:1px"></div><div style="background:linear-gradient(90deg,#ffffff 0.5px,#ffffff 10.5px,#cfcff2 11.5px,#0202d7 12.5px,#0000b9 14.5px,#bfbfe9 15.5px,#ffffff 16.5px,#ffffff 119.5px,#0000b3 121.5px,#0002ff 127.5px,#007bff 136.5px,#00fcff 144.5px,#ceff31 163.5px,#fffc00 168.5px,#ff9c00 175.5px,#ff9c00 185.5px,#ffe600 186.5px,#ffe200 187.5px,#ffab00 188.5px,#ff5700 189.5px,#ff4800 191.5px,#ff4700 195.5px,#ff5600 196.5px,#6aff95 197.5px,#38ffc7 198.5px,#8bff75 199.5px,#f5ff0b 200.5px,#ffb200 201.5px,#ff2500 202.5px,#ffe700 212.5px,#fcff03 214.5px,#05fffa 233.5px,#00bfff 237.5px,#000eff 246.5px,#0000e7 248.5px,#0000c4 250.5px,#1010b7 251.5px,#cfcfee 252.5px,#ffffff 253.5px,#ffffff 270.5px);height:1px"></div><div style="background:linear-gradient(90deg,#ffffff 0.5px,#ffffff 10.5px,#e9e9f9 11.5px,#1010cf 12.5px,#0000ca 13.5px,#0000b4 14.5px,#dfdff4 15.5px,#ffffff 16.5px,#ffffff 120.5px,#cfcfee 121.5px,#3030bd 122.5px,#0000b9 123.5px,#0008ff 129.5px,#008aff 138.5px,#00eeff 144.5px,#13ffec 147.5px,#feff01 168.5px,#ff9c00 175.5px,#ff9b00 185.5px,#ffe700 186.5px,#ffe300 187.5px,#ffad00 188.5px,#ff5c00 189.5px,#ff4800 190.5px,#ff4700 195.5px,#ff5600 196.5px,#6cff94 197.5px,#36ffc9 198.5px,#8bff75 199.5px,#f1ff0e 200.5px,#ffae00 201.5px,#ff3900 202.5px,#ffe500 211.5px,#feff01 213.5px,#00f9ff 233.5px,#006fff 240.5px,#0001ff 246.5px,#0000b6 250.5px,#9f9fde 251.5px,#ffffff 252.5px,#ffffff 270.5px);height:1px"></div><div style="background:linear-gradient(90deg,#ffffff 0.5px,#ffffff 11.5px,#2c2ccd 12.5px,#0000c7 13.5px,#0000b2 14.5px,#ffffff 15.5px,#ffffff 122.5px,#7070cf 123.5px,#0000b5 124.5px,#0003ff 130.5px,#0077ff 138.5px,#00f9ff 146.5px,#f9ff06 168.5px,#ffbd00 173.5px,#ff9800 176.5px,#ff9b00 185.5px,#ffe700 186.5px,#ffe300 187.5px,#ffaf00 188.5px,#ff6000 189.5px,#ff4800 190.5px,#ff4700 195.5px,#ff5600 196.5px,#6dff92 197.5px,#34ffcb 198.5px,#eeff11 200.5px,#ffa900 201.5px,#ff4d00 202.5px,#fff000 211.5px,#f3ff0c 213.5px,#00fcff 232.5px,#009fff 237.5px,#0005ff 245.5px,#0000bb 249.5px,#6060ca 250.5px,#ffffff 251.5px,#ffffff 270.5px);height:1px"></div><div style="background:linear-gradient(90deg,#ffffff 0.5px,#ffffff 11.5px,#6969d9 12.5px,#0000c4 13.5px,#4040c2 14.5px,#ffffff 15.5px,#ffffff 123.5px,#bfbfe9 124.5px,#2020b9 125.5px,#0000bb 126.5px,#0000fc 131.5px,#0085ff 140.5px,#00f6ff 147.5px,#9bff65 161.5px,#fcff03 169.5px,#ffbb00 174.5px,#ff9800 176.5px,#ff9b00 185.5px,#ffe700 186.5px,#ffe300 187.5px,#ffb100 188.5px,#ff6500 189.5px,#ff4800 190.5px,#ff4700 195.5px,#ff5500 196.5px,#6fff91 197.5px,#32ffce 198.5px,#ebff15 200.5px,#ffa500 201.5px,#ff6000 202.5px,#fffb00 211.5px,#00feff 231.5px,#00a4ff 236.5px,#000aff 244.5px,#0000bf 248.5px,#3030bd 249.5px,#efeff9 250.5px,#ffffff 252.5px,#ffffff 270.5px);height:1px"></div><div style="background:linear-gradient(90deg,#ffffff 0.5px,#ffffff 12.5px,#1010c3 13.5px,#6060ca 14.5px,#ffffff 15.5px,#ffffff 124.5px,#efeff9 125.5px,#7070cf 126.5px,#0000b5 127.5px,#0007ff 133.5px,#00a6ff 143.5px,#00f5ff 148.5px,#32ffcd 153.5px,#fcff03 170.5px,#ffbe00 175.5px,#ff9900 177.5px,#ff9a00 185.5px,#ffe700 186.5px,#ffe300 187.5px,#ffb300 188.5px,#ff6900 189.5px,#ff4900 190.5px,#ff4700 195.5px,#ff5500 196.5px,#70ff8f 197.5px,#30ffd0 198.5px,#e7ff18 200.5px,#ffa100 201.5px,#ff7300 202.5px,#fff800 210.5px,#01fffe 230.5px,#00a9ff 235.5px,#000eff 243.5px,#0000e7 245.5px,#0000c4 247.5px,#1010b7 248.5px,#cfcfee 249.5px,#ffffff 250.5px,#ffffff 270.5px);height:1px"></div><div style="background:linear-gradient(90deg,#ffffff 0.5px,#ffffff 12.5px,#4040ce 13.5px,#8080d4 14.5px,#ffffff 15.5px,#ffffff 126.5px,#afafe4 127.5px,#1010b5 128.5px,#0000c8 130.5px,#0004ff 134.5px,#00f3ff 149.5px,#19ffe6 152.5px,#fcff03 171.5px,#ffbf00 176.5px,#ff9900 178.5px,#ff9a00 185.5px,#ffe700 186.5px,#ffe300 187.5px,#ffb500 188.5px,#ff6e00 189.5px,#ff4900 190.5px,#ff4700 195.5px,#ff5500 196.5px,#72ff8e 197.5px,#2dffd2 198.5px,#e4ff1b 200.5px,#ff9c00 201.5px,#ff8600 202.5px,#ffe900 208.5px,#edff12 211.5px,#03fffc 229.5px,#00c1ff 233.5px,#0001ff 243.5px,#0000b6 247.5px,#9f9fde 248.5px,#ffffff 249.5px,#ffffff 270.5px);height:1px"></div><div style="background:linear-gradient(90deg,#ffffff 0.5px,#ffffff 12.5px,#4040ce 13.5px,#8080d4 14.5px,#ffffff 15.5px,#ffffff 127.5px,#efeff9 128.5px,#5050c5 129.5px,#0000b6 130.5px,#0004ff 135.5px,#00a1ff 145.5px,#00ffff 151.5px,#fff800 173.5px,#ffac00 178.5px,#ff9900 179.5px,#ff9a00 185.5px,#ffe700 186.5px,#ffe300 187.5px,#ffb700 188.5px,#ff7300 189.5px,#ff4900 190.5px,#ff4700 195.5px,#ff5500 196.5px,#73ff8c 197.5px,#2bffd4 198.5px,#e1ff1f 200.5px,#ff9800 201.5px,#ff9900 202.5px,#ffeb00 207.5px,#f0ff0f 210.5px,#05fffa 228.5px,#00c4ff 232.5px,#0005ff 242.5px,#0000bb 246.5px,#6060ca 247.5px,#ffffff 248.5px,#ffffff 270.5px);height:1px"></div><div style="background:linear-gradient(90deg,#ffffff 0.5px,#ffffff 12.5px,#4040ce 13.5px,#8080d4 14.5px,#ffffff 15.5px,#ffffff 129.5px,#9f9fde 130.5px,#0000b5 131.5px,#0000ff 136.5px,#00ffff 152.5px,#fff900 174.5px,#ffac00 179.5px,#ff9600 181.5px,#ff9900 185.5px,#ffe700 186.5px,#ffe400 187.5px,#ffb900 188.5px,#ff7700 189.5px,#ff4900 190.5px,#ff4700 195.5px,#ff5500 196.5px,#75ff8b 197.5px,#29ffd6 198.5px,#ddff22 200.5px,#ff9800 201.5px,#ffec00 206.5px,#efff10 209.5px,#07fff9 227.5px,#00c7ff 231.5px,#000aff 241.5px,#0000bf 245.5px,#3030bd 246.5px,#efeff9 247.5px,#ffffff 249.5px,#ffffff 270.5px);height:1px"></div><div style="background:linear-gradient(90deg,#ffffff 0.5px,#ffffff 12.5px,#4040ce 13.5px,#8080d4 14.5px,#ffffff 15.5px,#ffffff 130.5px,#bfbfe9 131.5px,#1010b6 132.5px,#0000d0 134.5px,#0000ff 137.5px,#009dff 147.5px,#00ffff 153.5px,#fff900 175.5px,#ffac00 180.5px,#ff9900 181.5px,#ff9900 185.5px,#ffe700 186.5px,#ffe400 187.5px,#ffbb00 188.5px,#ff4900 190.5px,#ff4700 195.5px,#ff5500 196.5px,#77ff89 197.5px,#28ffd7 198.5px,#8bff75 199.5px,#daff25 200.5px,#ffaa00 201.5px,#fff900 206.5px,#59ffa7 220.5px,#01fffe 226.5px,#00caff 230.5px,#000eff 240.5px,#0000e7 242.5px,#0000c4 244.5px,#1010b7 245.5px,#cfcfee 246.5px,#ffffff 247.5px,#ffffff 270.5px);height:1px"></div><div style="background:linear-gradient(90deg,#ffffff 0.5px,#ffffff 12.5px,#8080df 13.5px,#8080d4 14.5px,#ffffff 15.5px,#ffffff 131.5px,#cfcfee 132.5px,#1010b6 133.5px,#0000cd 135.5px,#0000fb 138.5px,#009cff 148.5px,#00ffff 154.5px,#fff900 176.5px,#ffab00 181.5px,#ff9700 182.5px,#ff9900 185.5px,#ffe700 186.5px,#ffe400 187.5px,#ffbd00 188.5px,#ff4a00 190.5px,#ff4700 195.5px,#ff5500 196.5px,#78ff88 197.5px,#2affd5 198.5px,#8bff75 199.5px,#d7ff29 200.5px,#ffbc00 201.5px,#fff900 205.5px,#35ffcb 222.5px,#00fcff 225.5px,#00ccff 229.5px,#0000ff 240.5px,#0000b6 244.5px,#9f9fde 245.5px,#ffffff 246.5px,#ffffff 270.5px);height:1px"></div><div style="background:linear-gradient(90deg,#ffffff 0.5px,#ffffff 12.5px,#8080df 13.5px,#8080d4 14.5px,#ffffff 15.5px,#ffffff 132.5px,#dfdff4 133.5px,#3030bd 134.5px,#0000bd 135.5px,#0000fa 139.5px,#008aff 148.5px,#00ffff 155.5px,#fff900 177.5px,#ffa800 182.5px,#ff9500 183.5px,#ff9800 185.5px,#ffe700 186.5px,#ffe400 187.5px,#ffbf00 188.5px,#ff4a00 190.5px,#ff4b00 195.5px,#ff6200 196.5px,#7aff86 197.5px,#2cffd3 198.5px,#8bff75 199.5px,#d4ff2c 200.5px,#ffcd00 201.5px,#f9ff06 205.5px,#29ffd7 222.5px,#00fcff 224.5px,#00bcff 229.5px,#0013ff 238.5px,#0003ff 239.5px,#0000bb 243.5px,#6060ca 244.5px,#ffffff 245.5px,#ffffff 270.5px);height:1px"></div><div style="background:linear-gradient(90deg,#ffffff 0.5px,#ffffff 12.5px,#8080df 13.5px,#8080d4 14.5px,#ffffff 15.5px,#ffffff 133.5px,#efeff9 134.5px,#3030bd 135.5px,#0000bb 136.5px,#0008ff 141.5px,#009cff 150.5px,#00ffff 156.5px,#fff900 178.5px,#ff9500 184.5px,#ff9800 185.5px,#ffe600 186.5px,#ffe400 187.5px,#ffc100 188.5px,#ff4a00 190.5px,#ff4700 194.5px,#ff7000 196.5px,#7bff85 197.5px,#2effd1 198.5px,#8bff75 199.5px,#d0ff2f 200.5px,#ffdb00 201.5px,#faff05 204.5px,#1bffe4 222.5px,#03fffc 223.5px,#00abff 229.5px,#0005ff 238.5px,#0000bd 242.5px,#3030bd 243.5px,#efeff9 244.5px,#ffffff 246.5px,#ffffff 270.5px);height:1px"></div><div style="background:linear-gradient(90deg,#ffffff 0.5px,#ffffff 12.5px,#8080dd 13.5px,#8f8fd9 14.5px,#ffffff 15.5px,#ffffff 134.5px,#efeff9 135.5px,#6060ca 136.5px,#0000b9 137.5px,#0007ff 142.5px,#009cff 151.5px,#00ffff 157.5px,#fff700 179.5px,#ffb400 183.5px,#ff9800 185.5px,#ffe600 186.5px,#ffe400 187.5px,#ffc300 188.5px,#ff4a00 190.5px,#ff5100 194.5px,#ff7e00 196.5px,#7dff83 197.5px,#31ffcf 198.5px,#8bff75 199.5px,#cdff32 200.5px,#ffe600 201.5px,#fcff03 203.5px,#21ffdf 221.5px,#00f3ff 223.5px,#00c4ff 226.5px,#009aff 229.5px,#0008ff 237.5px,#0000c1 241.5px,#1010b5 242.5px,#efeff9 243.5px,#ffffff 245.5px,#ffffff 270.5px);height:1px"></div><div style="background:linear-gradient(90deg,#ffffff 0.5px,#ffffff 12.5px,#8080dc 13.5px,#ffffff 15.5px,#ffffff 136.5px,#6060ca 137.5px,#0000b8 138.5px,#0004ff 143.5px,#00c2ff 154.5px,#00ffff 158.5px,#fbff04 179.5px,#ffc400 183.5px,#ff9700 185.5px,#ffe600 186.5px,#ffe500 187.5px,#ffc500 188.5px,#ff9300 189.5px,#ff4a00 190.5px,#ff4700 193.5px,#ff8c00 196.5px,#7eff82 197.5px,#33ffcd 198.5px,#8bff75 199.5px,#fff000 201.5px,#f2ff0e 203.5px,#15ffea 221.5px,#00ffff 222.5px,#00bfff 225.5px,#009dff 228.5px,#000bff 236.5px,#0000d5 239.5px,#1010b7 241.5px,#cfcfee 242.5px,#ffffff 243.5px,#ffffff 270.5px);height:1px"></div><div style="background:linear-gradient(90deg,#ffffff 0.5px,#ffffff 12.5px,#8080dc 13.5px,#ffffff 15.5px,#ffffff 137.5px,#8f8fd9 138.5px,#0000b5 139.5px,#0004ff 144.5px,#00c2ff 155.5px,#00ffff 159.5px,#feff01 180.5px,#ffbc00 184.5px,#ffa500 185.5px,#ffe600 186.5px,#ffe500 187.5px,#ffc700 188.5px,#ff9800 189.5px,#ff4b00 190.5px,#ff4700 192.5px,#ff6a00 194.5px,#ff9900 196.5px,#80ff80 197.5px,#35ffca 198.5px,#8aff75 199.5px,#fffa00 201.5px,#0afff5 221.5px,#00b0ff 225.5px,#008cff 228.5px,#0000fa 236.5px,#0000b5 240.5px,#9f9fde 241.5px,#ffffff 242.5px,#ffffff 270.5px);height:1px"></div><div style="background:linear-gradient(90deg,#ffffff 0.5px,#ffffff 12.5px,#8080dc 13.5px,#ffffff 15.5px,#ffffff 138.5px,#9f9fde 139.5px,#0000b5 140.5px,#0004ff 145.5px,#00c2ff 156.5px,#00ffff 160.5px,#fffb00 181.5px,#ffb300 185.5px,#ffe600 186.5px,#ffe500 187.5px,#ffc900 188.5px,#ff9c00 189.5px,#ff4b00 190.5px,#ff4700 192.5px,#ffa600 196.5px,#81ff7f 197.5px,#37ffc8 198.5px,#8aff76 199.5px,#fbff04 201.5px,#53ffac 214.5px,#00feff 221.5px,#00b0ff 224.5px,#007bff 228.5px,#0000fd 235.5px,#0000b8 239.5px,#8f8fd9 240.5px,#ffffff 241.5px,#ffffff 270.5px);height:1px"></div><div style="background:linear-gradient(90deg,#ffffff 0.5px,#ffffff 12.5px,#9f9fe5 13.5px,#bfbfe9 14.5px,#ffffff 15.5px,#ffffff 139.5px,#bfbfe9 140.5px,#1010b6 141.5px,#0000d1 143.5px,#0004ff 146.5px,#00c2ff 157.5px,#00ffff 161.5px,#ddff23 179.5px,#fff600 182.5px,#ffc000 185.5px,#ffe600 186.5px,#ffe500 187.5px,#ffa100 189.5px,#ff4b00 190.5px,#ff5100 192.5px,#ffb200 196.5px,#83ff7d 197.5px,#39ffc6 198.5px,#8aff76 199.5px,#f2ff0d 201.5px,#47ffb8 214.5px,#01fffe 220.5px,#00f2ff 221.5px,#00a1ff 224.5px,#006aff 228.5px,#0001ff 234.5px,#0000b9 238.5px,#6060ca 239.5px,#ffffff 240.5px,#ffffff 270.5px);height:1px"></div><div style="background:linear-gradient(90deg,#ffffff 0.5px,#ffffff 12.5px,#bfbfed 13.5px,#bfbfe9 14.5px,#ffffff 15.5px,#ffffff 140.5px,#cfcfee 141.5px,#1010b6 142.5px,#0000d1 144.5px,#0004ff 147.5px,#00c2ff 158.5px,#00feff 162.5px,#d3ff2c 179.5px,#ffff00 182.5px,#ffcc00 185.5px,#ffe600 186.5px,#ffe500 187.5px,#ffa500 189.5px,#ff5500 190.5px,#ff4700 191.5px,#ffbd00 196.5px,#84ff7c 197.5px,#3cffc4 198.5px,#8aff76 199.5px,#eaff16 201.5px,#2fffd0 215.5px,#00ffff 219.5px,#00e6ff 221.5px,#0092ff 224.5px,#005aff 228.5px,#0004ff 233.5px,#0000bd 237.5px,#4040c1 238.5px,#ffffff 239.5px,#ffffff 270.5px);height:1px"></div><div style="background:linear-gradient(90deg,#ffffff 0.5px,#ffffff 12.5px,#bfbfed 13.5px,#bfbfe9 14.5px,#ffffff 15.5px,#ffffff 141.5px,#cfcfee 142.5px,#1010b6 143.5px,#0000d1 145.5px,#0004ff 148.5px,#00efff 162.5px,#16ffe9 165.5px,#d9ff26 180.5px,#fff800 183.5px,#ffd800 185.5px,#ffe500 187.5px,#ffaa00 189.5px,#ff6000 190.5px,#ff5000 191.5px,#ffc800 196.5px,#86ff7a 197.5px,#3effc2 198.5px,#8aff76 199.5px,#e2ff1d 201.5px,#16ffe9 216.5px,#00f2ff 219.5px,#00d5ff 221.5px,#0083ff 224.5px,#003bff 229.5px,#0007ff 232.5px,#0000bf 236.5px,#3030bd 237.5px,#efeff9 238.5px,#ffffff 240.5px,#ffffff 270.5px);height:1px"></div><div style="background:linear-gradient(90deg,#ffffff 0.5px,#ffffff 12.5px,#bfbfed 13.5px,#bfbfe9 14.5px,#ffffff 15.5px,#ffffff 142.5px,#cfcfee 143.5px,#1010b6 144.5px,#0000d1 146.5px,#0004ff 149.5px,#00fcff 164.5px,#c2ff3e 179.5px,#feff01 183.5px,#ffe000 185.5px,#ffe600 187.5px,#ffaf00 189.5px,#ff6b00 190.5px,#ff5a00 191.5px,#ffd200 196.5px,#87ff79 197.5px,#40ffc0 198.5px,#8aff76 199.5px,#daff25 201.5px,#0afff6 216.5px,#00d4ff 220.5px,#0063ff 225.5px,#002cff 229.5px,#0000f6 232.5px,#0000c1 235.5px,#1010b6 236.5px,#cfcfee 237.5px,#ffffff 238.5px,#ffffff 270.5px);height:1px"></div><div style="background:linear-gradient(90deg,#ffffff 0.5px,#ffffff 12.5px,#bfbfed 13.5px,#bfbfe9 14.5px,#ffffff 15.5px,#ffffff 143.5px,#cfcfee 144.5px,#1010b6 145.5px,#0000d1 147.5px,#0004ff 150.5px,#00fcff 165.5px,#c9ff36 180.5px,#fff700 184.5px,#ffe600 186.5px,#ffe600 187.5px,#ffb300 189.5px,#ff7500 190.5px,#ff6400 191.5px,#ffda00 196.5px,#89ff77 197.5px,#42ffbd 198.5px,#8aff76 199.5px,#d3ff2c 201.5px,#00fcff 216.5px,#009bff 222.5px,#0054ff 225.5px,#0030ff 228.5px,#0000fa 231.5px,#0000b5 235.5px,#bfbfe9 236.5px,#ffffff 237.5px,#ffffff 270.5px);height:1px"></div><div style="background:linear-gradient(90deg,#ffffff 0.5px,#ffffff 12.5px,#bfbfed 13.5px,#bfbfe9 14.5px,#ffffff 15.5px,#ffffff 144.5px,#cfcfee 145.5px,#1010b6 146.5px,#0000d1 148.5px,#0004ff 151.5px,#00fcff 166.5px,#e0ff1f 182.5px,#ffff00 184.5px,#ffd500 188.5px,#ffb800 189.5px,#ff7f00 190.5px,#ff6d00 191.5px,#ffe000 196.5px,#8aff76 197.5px,#44ffbb 198.5px,#8aff76 199.5px,#cdff33 201.5px,#00fdff 215.5px,#0089ff 222.5px,#0045ff 225.5px,#0022ff 228.5px,#0000fe 230.5px,#0000b6 234.5px,#9f9fde 235.5px,#ffffff 236.5px,#ffffff 270.5px);height:1px"></div><div style="background:linear-gradient(90deg,#ffffff 0.5px,#ffffff 12.5px,#bfbfed 13.5px,#bfbfe9 14.5px,#ffffff 15.5px,#ffffff 145.5px,#cfcfee 146.5px,#1010b6 147.5px,#0000d1 149.5px,#0004ff 152.5px,#00aaff 162.5px,#00fcff 167.5px,#f8ff07 184.5px,#ffd700 188.5px,#ffbd00 189.5px,#ff8800 190.5px,#ff7600 191.5px,#ffe600 196.5px,#8cff74 197.5px,#46ffb9 198.5px,#85ff7b 199.5px,#c7ff39 201.5px,#01fffe 214.5px,#005fff 223.5px,#0035ff 225.5px,#0013ff 228.5px,#0003ff 229.5px,#0000b9 233.5px,#6060ca 234.5px,#ffffff 235.5px,#ffffff 270.5px);height:1px"></div><div style="background:linear-gradient(90deg,#ffffff 0.5px,#ffffff 12.5px,#bfbfed 13.5px,#bfbfe9 14.5px,#ffffff 15.5px,#ffffff 146.5px,#cfcfee 147.5px,#1010b6 148.5px,#0000d1 150.5px,#0004ff 153.5px,#0098ff 162.5px,#00ffff 168.5px,#fffc00 185.5px,#ffd900 188.5px,#ffc100 189.5px,#ff9000 190.5px,#ff7e00 191.5px,#ffec00 196.5px,#8dff73 197.5px,#49ffb7 198.5px,#a9ff57 200.5px,#c1ff3f 201.5px,#07fff8 213.5px,#00bfff 217.5px,#0026ff 225.5px,#0005ff 228.5px,#0000bd 232.5px,#3030bd 233.5px,#ffffff 234.5px,#ffffff 270.5px);height:1px"></div><div style="background:linear-gradient(90deg,#ffffff 0.5px,#ffffff 13.5px,#bfbfe9 14.5px,#ffffff 15.5px,#ffffff 147.5px,#cfcfee 148.5px,#1010b6 149.5px,#0000d1 151.5px,#0004ff 154.5px,#0098ff 163.5px,#00f5ff 168.5px,#34ffcb 172.5px,#fdff02 185.5px,#ffc600 189.5px,#ff9700 190.5px,#ff8500 191.5px,#fff200 196.5px,#8fff71 197.5px,#4bffb5 198.5px,#a6ff5a 200.5px,#baff45 201.5px,#00feff 213.5px,#0017ff 225.5px,#0000f5 228.5px,#0000c1 231.5px,#1010b5 232.5px,#efeff9 233.5px,#ffffff 235.5px,#ffffff 270.5px);height:1px"></div><div style="background:linear-gradient(90deg,#ffffff 0.5px,#ffffff 13.5px,#bfbfe9 14.5px,#ffffff 15.5px,#ffffff 148.5px,#cfcfee 149.5px,#1010b6 150.5px,#0000d1 152.5px,#0002ff 155.5px,#0099ff 164.5px,#00fcff 169.5px,#f8ff08 185.5px,#ffca00 189.5px,#ff9e00 190.5px,#ff8b00 191.5px,#fff700 196.5px,#90ff70 197.5px,#4dffb3 198.5px,#a2ff5d 200.5px,#b5ff4b 201.5px,#07fff8 212.5px,#00cfff 215.5px,#004fff 221.5px,#0008ff 225.5px,#0000f2 227.5px,#0000c4 230.5px,#1010b7 231.5px,#cfcfee 232.5px,#ffffff 233.5px,#ffffff 270.5px);height:1px"></div><div style="background:linear-gradient(90deg,#ffffff 0.5px,#ffffff 13.5px,#bfbfe9 14.5px,#ffffff 15.5px,#ffffff 149.5px,#cfcfee 150.5px,#1010b6 151.5px,#0000d1 153.5px,#0000ff 156.5px,#0088ff 164.5px,#00f3ff 169.5px,#24ffdb 172.5px,#fffa00 186.5px,#ffcf00 189.5px,#ffa400 190.5px,#ff9100 191.5px,#fffb00 196.5px,#92ff6e 197.5px,#4fffb0 198.5px,#9fff61 200.5px,#b0ff50 201.5px,#01fffe 212.5px,#0094ff 217.5px,#002fff 222.5px,#0000f7 225.5px,#0000b5 230.5px,#9f9fde 231.5px,#ffffff 232.5px,#ffffff 270.5px);height:1px"></div><div style="background:linear-gradient(90deg,#ffffff 0.5px,#ffffff 13.5px,#cfcfee 14.5px,#ffffff 15.5px,#ffffff 150.5px,#cfcfee 151.5px,#1010b6 152.5px,#0000cd 154.5px,#0000ff 157.5px,#007aff 164.5px,#00fcff 170.5px,#fffe00 186.5px,#ffd300 189.5px,#ffa900 190.5px,#ff9600 191.5px,#ffff00 196.5px,#93ff6d 197.5px,#51ffae 198.5px,#6eff92 199.5px,#9cff64 200.5px,#acff54 201.5px,#00faff 212.5px,#0032ff 221.5px,#0000fb 224.5px,#0000c1 228.5px,#1010b7 229.5px,#9f9fde 230.5px,#ffffff 231.5px,#ffffff 270.5px);height:1px"></div><div style="background:linear-gradient(90deg,#ffffff 0.5px,#ffffff 151.5px,#cfcfee 152.5px,#2020b9 153.5px,#0000bd 154.5px,#0000ff 158.5px,#006dff 164.5px,#00f4ff 170.5px,#39ffc7 174.5px,#fdff02 186.5px,#ffd700 189.5px,#ffae00 190.5px,#ff9a00 191.5px,#fff100 195.5px,#fcff03 196.5px,#94ff6c 197.5px,#54ffac 198.5px,#6cff94 199.5px,#9aff66 200.5px,#a8ff58 201.5px,#05fffa 211.5px,#00caff 214.5px,#0027ff 221.5px,#0001ff 223.5px,#0000c1 227.5px,#1010b6 228.5px,#cfcfee 229.5px,#ffffff 230.5px,#ffffff 270.5px);height:1px"></div><div style="background:linear-gradient(90deg,#ffffff 0.5px,#ffffff 152.5px,#efeff9 153.5px,#3030bd 154.5px,#0000bd 155.5px,#0000ff 159.5px,#0091ff 166.5px,#00eeff 170.5px,#01fffe 171.5px,#faff05 186.5px,#ffd900 189.5px,#ffb100 190.5px,#ff9e00 191.5px,#fff300 195.5px,#f9ff06 196.5px,#95ff6b 197.5px,#56ffaa 198.5px,#69ff96 199.5px,#98ff68 200.5px,#a5ff5b 201.5px,#00ffff 211.5px,#008fff 216.5px,#0009ff 222.5px,#0000bd 226.5px,#2020b9 227.5px,#cfcfee 228.5px,#ffffff 229.5px,#ffffff 270.5px);height:1px"></div><div style="background:linear-gradient(90deg,#ffffff 0.5px,#ffffff 153.5px,#efeff9 154.5px,#3030bd 155.5px,#0000bd 156.5px,#0006ff 160.5px,#00a1ff 167.5px,#00fbff 171.5px,#f8ff07 186.5px,#ffda00 189.5px,#ffb400 190.5px,#ffa100 191.5px,#fff500 195.5px,#f7ff08 196.5px,#95ff6a 197.5px,#58ffa8 198.5px,#67ff99 199.5px,#97ff69 200.5px,#a2ff5d 201.5px,#00faff 211.5px,#0001ff 222.5px,#0000c0 225.5px,#3030bd 226.5px,#efeff9 227.5px,#ffffff 229.5px,#ffffff 270.5px);height:1px"></div><div style="background:linear-gradient(90deg,#ffffff 0.5px,#ffffff 154.5px,#efeff9 155.5px,#3030bd 156.5px,#0000be 157.5px,#0000fb 160.5px,#0080ff 166.5px,#00f8ff 171.5px,#f6ff09 186.5px,#ffdb00 189.5px,#ffb600 190.5px,#ffa300 191.5px,#fff700 195.5px,#f6ff09 196.5px,#96ff6a 197.5px,#5affa6 198.5px,#65ff9b 199.5px,#97ff69 200.5px,#a1ff5f 201.5px,#00f7ff 211.5px,#000eff 221.5px,#0000e2 223.5px,#0000b7 225.5px,#afafe3 226.5px,#ffffff 227.5px,#ffffff 270.5px);height:1px"></div><div style="background:linear-gradient(90deg,#ffffff 0.5px,#ffffff 155.5px,#dfdff4 156.5px,#0000b3 157.5px,#0008ff 161.5px,#00b0ff 168.5px,#00f6ff 171.5px,#7fff81 179.5px,#fff700 187.5px,#ffdb00 189.5px,#ffa400 191.5px,#fff700 195.5px,#f5ff0a 196.5px,#96ff6a 197.5px,#5cffa3 198.5px,#63ff9d 199.5px,#97ff69 200.5px,#a0ff60 201.5px,#09fff6 210.5px,#00e3ff 212.5px,#001dff 220.5px,#0007ff 221.5px,#0000c5 224.5px,#1010b5 225.5px,#ffffff 226.5px,#ffffff 270.5px);height:1px"></div><div style="background:linear-gradient(90deg,#ffffff 0.5px,#ffffff 156.5px,#6060ca 157.5px,#0000bf 158.5px,#0005ff 161.5px,#00c9ff 169.5px,#00f5ff 171.5px,#4effb2 176.5px,#fff800 187.5px,#ffdb00 189.5px,#ffa400 191.5px,#fff800 195.5px,#f5ff0a 196.5px,#96ff6a 197.5px,#5fffa1 198.5px,#61ff9f 199.5px,#97ff69 200.5px,#9fff60 201.5px,#08fff7 210.5px,#00c9ff 213.5px,#0005ff 221.5px,#0000be 224.5px,#7070cf 225.5px,#ffffff 226.5px,#ffffff 270.5px);height:1px"></div></div>
<svg width="685" height="363" viewBox="0 0 685 363" style="position:absolute;left:0;top:0" font-family="Liberation Sans, sans-serif">
<rect x="31.5" y="9.5" width="272" height="148" fill="none" stroke="#454545" stroke-width="1"/>
<line x1="31.5" y1="9.5" x2="34.5" y2="9.5" stroke="#454545"/>
<line x1="300.5" y1="9.5" x2="303.5" y2="9.5" stroke="#454545"/>
<line x1="31.5" y1="46.5" x2="34.5" y2="46.5" stroke="#454545"/>
<line x1="300.5" y1="46.5" x2="303.5" y2="46.5" stroke="#454545"/>
<line x1="31.5" y1="83.5" x2="34.5" y2="83.5" stroke="#454545"/>
<line x1="300.5" y1="83.5" x2="303.5" y2="83.5" stroke="#454545"/>
<line x1="31.5" y1="120.5" x2="34.5" y2="120.5" stroke="#454545"/>
<line x1="300.5" y1="120.5" x2="303.5" y2="120.5" stroke="#454545"/>
<line x1="31.5" y1="157.5" x2="34.5" y2="157.5" stroke="#454545"/>
<line x1="300.5" y1="157.5" x2="303.5" y2="157.5" stroke="#454545"/>
<line x1="98.5" y1="157.5" x2="98.5" y2="154.5" stroke="#454545"/>
<line x1="166" y1="157.5" x2="166" y2="154.5" stroke="#454545"/>
<line x1="233.5" y1="157.5" x2="233.5" y2="154.5" stroke="#454545"/>
<line x1="301" y1="157.5" x2="301" y2="154.5" stroke="#454545"/>
<rect x="31.5" y="192.5" width="272" height="149" fill="none" stroke="#454545" stroke-width="1"/>
<line x1="31.5" y1="192.5" x2="34.5" y2="192.5" stroke="#454545"/>
<line x1="300.5" y1="192.5" x2="303.5" y2="192.5" stroke="#454545"/>
<line x1="31.5" y1="229.75" x2="34.5" y2="229.75" stroke="#454545"/>
<line x1="300.5" y1="229.75" x2="303.5" y2="229.75" stroke="#454545"/>
<line x1="31.5" y1="267.0" x2="34.5" y2="267.0" stroke="#454545"/>
<line x1="300.5" y1="267.0" x2="303.5" y2="267.0" stroke="#454545"/>
<line x1="31.5" y1="304.25" x2="34.5" y2="304.25" stroke="#454545"/>
<line x1="300.5" y1="304.25" x2="303.5" y2="304.25" stroke="#454545"/>
<line x1="31.5" y1="341.5" x2="34.5" y2="341.5" stroke="#454545"/>
<line x1="300.5" y1="341.5" x2="303.5" y2="341.5" stroke="#454545"/>
<line x1="98.5" y1="341.5" x2="98.5" y2="338.5" stroke="#454545"/>
<line x1="166" y1="341.5" x2="166" y2="338.5" stroke="#454545"/>
<line x1="233.5" y1="341.5" x2="233.5" y2="338.5" stroke="#454545"/>
<line x1="301" y1="341.5" x2="301" y2="338.5" stroke="#454545"/>
<text x="26" y="14.3" font-size="10" text-anchor="end" fill="#222" >64</text>
<text x="26" y="50.8" font-size="10" text-anchor="end" fill="#222" >49</text>
<text x="26" y="87.8" font-size="10" text-anchor="end" fill="#222" >34</text>
<text x="26" y="124.8" font-size="10" text-anchor="end" fill="#222" >19</text>
<text x="24.8" y="160.1" font-size="10" text-anchor="end" fill="#222" >4</text>
<text x="307.5" y="15.8" font-size="10" text-anchor="start" fill="#222" >7.8</text>
<text x="307.5" y="50.9" font-size="10" text-anchor="start" fill="#222" >6.8</text>
<text x="307.5" y="88.3" font-size="10" text-anchor="start" fill="#222" >5.7</text>
<text x="307.5" y="125.0" font-size="10" text-anchor="start" fill="#222" >4.2</text>
<text x="307.5" y="158.8" font-size="10" text-anchor="start" fill="#222" >1.9</text>
<text x="32.7" y="167.5" font-size="10" text-anchor="middle" fill="#222" >200</text>
<text x="97.5" y="167.5" font-size="10" text-anchor="middle" fill="#222" >400</text>
<text x="167" y="167.5" font-size="10" text-anchor="middle" fill="#222" >600</text>
<text x="234.5" y="167.5" font-size="10" text-anchor="middle" fill="#222" >800</text>
<text x="299.5" y="167.5" font-size="10" text-anchor="middle" fill="#222" >1000</text>
<text x="0" y="0" font-size="10" text-anchor="middle" fill="#222" transform="translate(10.3,88.4) rotate(-90)">Pump energy (μJ)</text>
<text x="0" y="0" font-size="10" text-anchor="middle" fill="#222" transform="translate(323.5,83.5) rotate(90)">Soliton order</text>
<text x="26" y="197.3" font-size="10" text-anchor="end" fill="#222" >64</text>
<text x="26" y="234.05" font-size="10" text-anchor="end" fill="#222" >49</text>
<text x="26" y="271.3" font-size="10" text-anchor="end" fill="#222" >34</text>
<text x="26" y="308.55" font-size="10" text-anchor="end" fill="#222" >19</text>
<text x="24.8" y="344.1" font-size="10" text-anchor="end" fill="#222" >4</text>
<text x="307.5" y="198.8" font-size="10" text-anchor="start" fill="#222" >7.8</text>
<text x="307.5" y="234.15" font-size="10" text-anchor="start" fill="#222" >6.8</text>
<text x="307.5" y="271.8" font-size="10" text-anchor="start" fill="#222" >5.7</text>
<text x="307.5" y="308.75" font-size="10" text-anchor="start" fill="#222" >4.2</text>
<text x="307.5" y="342.8" font-size="10" text-anchor="start" fill="#222" >1.9</text>
<text x="32.7" y="352.1" font-size="10" text-anchor="middle" fill="#222" >200</text>
<text x="97.5" y="352.1" font-size="10" text-anchor="middle" fill="#222" >400</text>
<text x="167" y="352.1" font-size="10" text-anchor="middle" fill="#222" >600</text>
<text x="234.5" y="352.1" font-size="10" text-anchor="middle" fill="#222" >800</text>
<text x="299.5" y="352.1" font-size="10" text-anchor="middle" fill="#222" >1000</text>
<text x="0" y="0" font-size="10" text-anchor="middle" fill="#222" transform="translate(10.3,271.4) rotate(-90)">Pump energy (μJ)</text>
<text x="0" y="0" font-size="10" text-anchor="middle" fill="#222" transform="translate(323.5,266.5) rotate(90)">Soliton order</text>
<text x="-0.5" y="9.6" font-size="17" text-anchor="start" fill="#222" >a</text>
<text x="0" y="189.8" font-size="18.5" text-anchor="start" fill="#222" >b</text>
<text x="396.5" y="9.6" font-size="18" text-anchor="start" fill="#222" >c</text>
<defs><linearGradient id="jet" x1="0" y1="1" x2="0" y2="0"><stop offset="0" stop-color="#00007f"/><stop offset="0.11" stop-color="#0000ff"/><stop offset="0.36" stop-color="#00ffff"/><stop offset="0.49" stop-color="#7fff7f"/><stop offset="0.62" stop-color="#ffff00"/><stop offset="0.87" stop-color="#ff0000"/><stop offset="1" stop-color="#7f0000"/></linearGradient></defs>
<rect x="331.5" y="123.5" width="5" height="103" fill="url(#jet)" stroke="#222"/>
<rect x="332" y="224" width="4" height="2.5" fill="#a9a3d6"/>
<line x1="334.5" y1="175" x2="336.5" y2="175" stroke="#222"/>
<text x="339" y="128.5" font-size="10" text-anchor="start" fill="#222" >5</text>
<text x="341" y="178.8" font-size="10" text-anchor="start" fill="#222" >-15</text>
<text x="341" y="231" font-size="10" text-anchor="start" fill="#222" >-35</text>
<text x="0" y="0" font-size="10" text-anchor="middle" fill="#222" transform="translate(362,176) rotate(90)">Intensity (dB)</text>
<polyline points="48.4,193 52,260 54.3,340" fill="none" stroke="#111" stroke-width="1.6" stroke-dasharray="12 4"/>
<text x="34.6" y="320.6" font-size="11" text-anchor="start" fill="#222"  textLength="79.6" lengthAdjust="spacingAndGlyphs">Phase-matching</text>
<text x="34.6" y="332.9" font-size="11" text-anchor="start" fill="#222"  textLength="140.5" lengthAdjust="spacingAndGlyphs">dispersive-wave wavelength</text>
<text x="126.6" y="361.3" font-size="10.2" text-anchor="start" fill="#222"  textLength="78.3" lengthAdjust="spacingAndGlyphs">Wavelength (nm)</text>
<polyline points="31.5,48.6 98.8,48.6 98.8,9.5" fill="none" stroke="#9a35c8" stroke-width="1.8" stroke-dasharray="6 3"/>
<polyline points="31.5,231.2 98.8,231.2 98.8,192.5" fill="none" stroke="#9a35c8" stroke-width="1.8" stroke-dasharray="6 3"/>
<polygon points="412.6,75.6 412.6,56.0 413.2,56.3 413.8,55.6 414.4,54.3 415.0,54.0 415.6,53.4 416.2,53.1 416.8,52.8 417.4,51.2 418.0,50.7 418.6,51.5 419.2,50.7 419.8,50.9 420.4,49.7 421.0,50.1 421.6,50.4 422.2,49.5 422.8,50.3 423.4,50.1 424.0,48.3 424.6,47.6 425.2,47.5 425.8,47.3 426.4,45.8 427.0,44.8 427.6,44.2 428.2,42.5 428.8,41.5 429.4,40.7 430.0,39.6 430.6,38.0 431.2,36.8 431.8,35.4 432.4,34.2 433.0,32.5 433.6,30.6 434.2,30.3 434.8,28.4 435.4,27.2 436.0,25.6 436.6,25.9 437.2,24.8 437.8,22.8 438.4,22.2 439.0,21.8 439.6,21.2 440.2,20.9 440.8,19.6 441.4,19.6 442.0,18.8 442.6,17.7 443.2,17.7 443.8,17.9 444.4,17.6 445.0,16.8 445.6,16.7 446.2,15.7 446.8,15.7 447.4,16.2 448.0,15.6 448.6,15.4 449.2,16.1 449.8,16.4 450.4,16.5 451.0,16.2 451.6,16.4 452.2,16.6 452.8,17.3 453.4,17.4 454.0,17.7 454.6,18.3 455.2,18.1 455.8,18.6 456.4,20.0 457.0,20.9 457.6,20.9 458.2,21.4 458.8,21.9 459.4,23.2 460.0,24.7 460.6,25.2 461.2,25.7 461.8,27.0 462.4,27.0 463.0,28.2 463.6,29.7 464.2,29.9 464.8,30.4 465.4,30.8 466.0,31.9 466.6,33.2 467.2,32.6 467.8,34.4 468.4,35.2 469.0,36.0 469.6,36.6 470.2,37.4 470.8,37.7 471.4,38.5 472.0,39.1 472.6,39.3 473.2,41.1 473.8,41.4 474.4,41.6 475.0,42.8 475.6,43.5 476.2,44.0 476.8,44.7 477.4,45.7 478.0,46.4 478.6,47.0 479.2,47.3 479.8,47.2 480.4,48.1 481.0,48.5 481.6,49.5 482.2,50.3 482.8,50.7 483.4,51.1 484.0,51.5 484.6,51.1 485.2,52.3 485.8,52.4 486.4,52.0 487.0,52.3 487.6,52.6 488.2,54.0 488.8,53.7 489.4,53.9 490.0,55.0 490.6,54.9 491.2,54.8 491.8,55.3 492.4,56.1 493.0,55.8 493.6,55.9 494.2,56.6 494.8,56.2 495.4,56.1 496.0,56.3 496.6,55.7 497.2,56.3 497.8,56.3 498.4,56.0 499.0,56.0 499.6,57.1 500.2,56.6 500.8,56.2 501.4,56.7 502.0,56.9 502.6,55.7 503.2,55.6 503.8,55.8 504.4,56.5 505.0,55.6 505.6,56.3 506.2,56.2 506.8,55.9 507.4,55.4 508.0,56.4 508.6,56.1 509.2,55.6 509.8,55.0 510.4,55.5 511.0,55.0 511.6,55.1 512.2,54.6 512.8,54.8 513.4,53.9 514.0,54.1 514.6,54.9 515.2,54.6 515.8,53.6 516.4,54.3 517.0,53.3 517.6,54.1 518.2,53.6 518.8,53.0 519.4,52.7 520.0,52.2 520.6,53.2 521.2,51.9 521.8,52.9 522.4,52.9 523.0,52.2 523.6,51.5 524.2,52.4 524.8,52.4 525.4,51.8 526.0,51.4 526.6,51.1 527.2,50.9 527.8,50.5 528.4,51.0 529.0,50.5 529.6,50.1 530.2,49.8 530.8,50.4 531.4,49.7 532.0,49.9 532.6,49.5 533.2,50.1 533.8,50.0 534.4,48.6 535.0,48.8 535.6,48.9 536.2,49.7 536.8,49.3 537.4,48.6 538.0,48.3 538.6,48.8 539.2,49.0 539.8,49.0 540.4,48.1 541.0,48.7 541.6,48.3 542.2,48.0 542.8,48.5 543.4,47.3 544.0,47.9 544.6,46.8 545.2,46.8 545.8,47.7 546.4,46.5 547.0,47.2 547.6,46.8 548.2,47.0 548.8,46.2 549.4,46.0 550.0,45.8 550.6,46.4 551.2,45.9 551.8,46.2 552.4,46.0 553.0,44.8 553.6,45.2 554.2,44.4 554.8,44.2 555.4,44.1 556.0,45.1 556.6,44.8 557.2,44.7 557.8,43.9 558.4,44.3 559.0,44.5 559.6,43.9 560.2,44.1 560.8,43.5 561.4,43.3 562.0,43.5 562.6,44.3 563.2,43.8 563.8,44.3 564.4,43.6 565.0,43.3 565.6,43.9 566.2,43.9 566.8,42.8 567.4,43.6 568.0,42.8 568.6,42.8 569.2,43.8 569.8,42.6 570.4,42.9 571.0,44.0 571.6,43.2 572.2,42.8 572.8,42.9 573.4,43.0 574.0,43.8 574.6,42.9 575.2,44.1 575.8,43.4 576.4,44.2 577.0,44.2 577.6,43.4 578.2,43.3 578.8,43.7 579.4,43.2 580.0,44.0 580.6,43.2 581.2,43.3 581.8,44.8 582.4,43.9 583.0,44.4 583.6,44.4 584.2,44.3 584.8,44.0 585.4,45.3 586.0,45.5 586.6,45.6 587.2,44.6 587.8,44.9 588.4,45.6 589.0,46.2 589.6,45.7 590.2,46.1 590.8,46.2 591.4,45.8 592.0,46.3 592.6,46.1 593.2,46.2 593.8,46.1 594.4,46.5 595.0,47.6 595.6,47.0 596.2,47.4 596.8,47.6 597.4,48.2 598.0,47.6 598.6,47.6 599.2,47.8 599.8,48.0 600.4,48.9 601.0,49.2 601.6,48.5 602.2,48.7 602.8,49.2 603.4,49.4 604.0,49.6 604.6,49.3 605.2,49.2 605.8,49.7 606.4,49.6 607.0,50.5 607.6,50.0 608.2,50.2 608.8,51.1 609.4,50.8 610.0,51.7 610.6,51.5 611.2,52.2 611.8,51.4 612.4,52.0 613.0,52.6 613.6,51.8 614.2,53.2 614.8,52.3 615.4,53.3 616.0,53.8 616.6,53.7 617.2,53.2 617.8,53.2 618.4,54.0 619.0,54.8 619.6,54.1 620.2,55.2 620.8,54.4 621.4,55.7 622.0,54.8 622.6,55.4 623.2,56.5 623.8,56.6 624.4,57.0 625.0,57.1 625.6,57.2 626.2,57.4 626.8,56.9 627.4,57.5 628.0,57.5 628.6,58.6 629.2,58.9 629.8,58.7 630.4,58.8 631.0,60.4 631.6,60.6 632.2,60.6 632.8,61.0 633.4,61.8 634.0,61.6 634.6,61.9 635.2,62.1 635.8,62.4 636.4,62.5 637.0,63.7 637.6,63.8 638.2,64.4 638.8,64.0 639.4,64.8 640.0,64.9 640.6,65.3 641.2,65.8 641.8,67.0 642.4,66.8 643.0,67.2 643.6,67.8 644.2,67.7 644.8,67.8 645.4,68.9 646.0,69.3 646.6,69.9 647.2,70.0 647.8,70.7 648.4,71.2 649.0,70.9 649.6,71.6 650.2,72.0 650.8,72.0 651.4,72.7 652.0,73.3 652.6,74.2 653.2,74.6 653.8,74.1 654.4,75.0 655.0,75.2 655.5,75.5 655.5,75.6" fill="#7dc8f4"/>
<path d="M430.30,75.60 C430.42,73.83 430.75,68.60 431.00,65.00 C431.25,61.40 431.55,56.75 431.80,54.00 C432.05,51.25 432.27,49.60 432.50,48.50 C432.73,47.40 432.95,47.23 433.20,47.40 C433.45,47.57 433.73,48.07 434.00,49.50 C434.27,50.93 434.52,53.67 434.80,56.00 C435.08,58.33 435.43,62.50 435.70,63.50 C435.97,64.50 436.15,64.25 436.40,62.00 C436.65,59.75 436.93,54.50 437.20,50.00 C437.47,45.50 437.70,39.75 438.00,35.00 C438.30,30.25 438.67,24.33 439.00,21.50 C439.33,18.67 439.67,18.80 440.00,18.00 C440.33,17.20 440.58,16.87 441.00,16.70 C441.42,16.53 442.00,17.12 442.50,17.00 C443.00,16.88 443.50,16.50 444.00,16.00 C444.50,15.50 444.88,14.75 445.50,14.00 C446.12,13.25 447.02,11.70 447.70,11.50 C448.38,11.30 448.95,12.13 449.60,12.80 C450.25,13.47 451.03,15.05 451.60,15.50 C452.17,15.95 452.52,15.53 453.00,15.50 C453.48,15.47 454.00,15.25 454.50,15.30 C455.00,15.35 455.52,15.57 456.00,15.80 C456.48,16.03 456.90,16.08 457.40,16.70 C457.90,17.32 458.47,18.37 459.00,19.50 C459.53,20.63 460.10,22.20 460.60,23.50 C461.10,24.80 461.32,26.08 462.00,27.30 C462.68,28.52 463.57,28.50 464.70,30.80 C465.83,33.10 467.42,38.00 468.80,41.10 C470.18,44.20 471.45,46.82 473.00,49.40 C474.55,51.98 476.22,54.70 478.10,56.60 C479.98,58.50 481.88,59.77 484.30,60.80 C486.72,61.83 489.83,62.63 492.60,62.80 C495.37,62.97 498.15,62.48 500.90,61.80 C503.65,61.12 506.35,59.73 509.10,58.70 C511.85,57.67 514.65,56.80 517.40,55.60 C520.15,54.40 522.85,52.70 525.60,51.50 C528.35,50.30 531.15,49.27 533.90,48.40 C536.65,47.53 540.25,46.98 542.10,46.30 C543.95,45.62 543.48,44.98 545.00,44.30 C546.52,43.62 548.45,42.48 551.20,42.20 C553.95,41.92 557.37,42.60 561.50,42.60 C565.63,42.60 572.55,41.93 576.00,42.20 C579.45,42.47 579.80,43.17 582.20,44.20 C584.60,45.23 587.30,47.08 590.40,48.40 C593.50,49.72 597.02,51.15 600.80,52.10 C604.58,53.05 609.67,53.35 613.10,54.10 C616.53,54.85 618.63,55.48 621.40,56.60 C624.17,57.72 626.95,58.90 629.70,60.80 C632.45,62.70 635.33,65.60 637.90,68.00 C640.47,70.40 643.90,74.00 645.10,75.20" fill="none" stroke="#b5262b" stroke-width="1.1" stroke-linejoin="round"/>
<polygon points="413.1,141.7 413.1,141.7 413.7,139.1 414.3,135.2 414.9,132.6 415.5,131.8 416.1,130.4 416.7,129.1 417.3,127.4 417.9,126.6 418.5,125.7 419.1,125.3 419.7,124.4 420.3,124.4 420.9,124.0 421.5,124.1 422.1,124.1 422.7,123.6 423.3,122.7 423.9,122.1 424.5,121.5 425.1,120.8 425.7,120.4 426.3,120.6 426.9,119.6 427.5,118.8 428.1,118.6 428.7,117.2 429.3,116.4 429.9,115.0 430.5,113.8 431.1,113.2 431.7,111.9 432.3,111.4 432.9,111.1 433.5,109.6 434.1,107.9 434.7,107.8 435.3,106.6 435.9,105.5 436.5,104.7 437.1,103.4 437.7,102.4 438.3,100.7 438.9,100.6 439.5,99.8 440.1,97.9 440.7,98.0 441.3,97.2 441.9,96.0 442.5,95.4 443.1,94.6 443.7,95.0 444.3,94.2 444.9,94.4 445.5,93.5 446.1,94.0 446.7,93.8 447.3,92.9 447.9,92.8 448.5,93.3 449.1,93.1 449.7,92.9 450.3,92.7 450.9,92.9 451.5,93.6 452.1,93.0 452.7,94.1 453.3,93.4 453.9,94.6 454.5,94.1 455.1,95.4 455.7,95.4 456.3,95.5 456.9,95.9 457.5,96.4 458.1,96.7 458.7,96.7 459.3,97.2 459.9,98.2 460.5,99.4 461.1,99.5 461.7,99.3 462.3,101.0 462.9,101.4 463.5,102.3 464.1,101.7 464.7,102.7 465.3,102.1 465.9,103.2 466.5,103.0 467.1,103.2 467.7,104.4 468.3,103.6 468.9,104.5 469.5,105.3 470.1,104.7 470.7,104.7 471.3,105.8 471.9,105.2 472.5,105.8 473.1,104.9 473.7,105.5 474.3,105.3 474.9,106.1 475.5,105.4 476.1,106.7 476.7,105.5 477.3,106.6 477.9,105.6 478.5,106.1 479.1,106.9 479.7,106.1 480.3,106.2 480.9,107.0 481.5,106.6 482.1,106.2 482.7,107.6 483.3,106.5 483.9,106.4 484.5,106.9 485.1,107.3 485.7,107.4 486.3,106.6 486.9,106.9 487.5,106.4 488.1,107.0 488.7,107.5 489.3,107.4 489.9,107.7 490.5,107.5 491.1,107.6 491.7,107.4 492.3,107.1 492.9,106.7 493.5,107.4 494.1,107.0 494.7,106.7 495.3,107.3 495.9,107.9 496.5,107.0 497.1,107.7 497.7,107.4 498.3,107.7 498.9,107.2 499.5,108.4 500.1,107.5 500.7,108.0 501.3,107.8 501.9,107.3 502.5,108.1 503.1,107.6 503.7,107.6 504.3,107.6 504.9,107.8 505.5,107.8 506.1,108.6 506.7,108.5 507.3,109.2 507.9,109.2 508.5,109.4 509.1,108.4 509.7,108.7 510.3,108.5 510.9,109.1 511.5,109.2 512.1,109.5 512.7,109.4 513.3,108.9 513.9,109.2 514.5,109.4 515.1,108.7 515.7,108.8 516.3,109.4 516.9,109.0 517.5,109.9 518.1,109.3 518.7,109.2 519.3,109.3 519.9,109.5 520.5,109.5 521.1,110.0 521.7,110.0 522.3,109.8 522.9,110.3 523.5,109.8 524.1,110.9 524.7,111.0 525.3,110.8 525.9,110.5 526.5,110.7 527.1,110.9 527.7,110.2 528.3,110.9 528.9,111.1 529.5,110.7 530.1,110.7 530.7,111.8 531.3,111.3 531.9,111.6 532.5,112.3 533.1,111.9 533.7,111.6 534.3,112.7 534.9,111.9 535.5,111.6 536.1,112.6 536.7,111.9 537.3,112.4 537.9,113.2 538.5,113.1 539.1,112.3 539.7,113.1 540.3,113.2 540.9,113.4 541.5,113.1 542.1,113.8 542.7,113.2 543.3,113.6 543.9,113.9 544.5,114.8 545.1,113.7 545.7,114.8 546.3,114.1 546.9,114.8 547.5,114.7 548.1,114.9 548.7,115.4 549.3,115.0 549.9,114.8 550.5,114.9 551.1,115.0 551.7,116.2 552.3,116.0 552.9,116.6 553.5,116.3 554.1,115.5 554.7,116.5 555.3,116.8 555.9,116.8 556.5,116.6 557.1,116.6 557.7,116.8 558.3,117.4 558.9,116.8 559.5,117.3 560.1,117.3 560.7,118.1 561.3,118.0 561.9,118.4 562.5,118.3 563.1,117.7 563.7,117.7 564.3,118.2 564.9,118.0 565.5,118.4 566.1,118.9 566.7,119.5 567.3,119.3 567.9,119.9 568.5,119.1 569.1,119.7 569.7,120.8 570.3,119.9 570.9,120.5 571.5,120.2 572.1,120.5 572.7,121.9 573.3,122.2 573.9,122.0 574.5,121.5 575.1,122.0 575.7,122.1 576.3,123.0 576.9,123.3 577.5,123.3 578.1,123.7 578.7,123.4 579.3,124.3 579.9,125.2 580.5,125.2 581.1,124.6 581.7,125.5 582.3,126.1 582.9,125.7 583.5,126.9 584.1,126.6 584.7,127.3 585.3,127.2 585.9,128.3 586.5,128.3 587.1,128.3 587.7,128.1 588.3,128.8 588.9,128.6 589.5,129.7 590.1,130.4 590.7,129.8 591.3,130.6 591.9,130.9 592.5,131.1 593.1,131.9 593.7,132.5 594.3,132.5 594.9,132.5 595.5,133.5 596.1,133.0 596.7,133.9 597.3,134.1 597.9,134.6 598.5,135.0 599.1,134.5 599.7,135.3 600.3,135.4 600.9,136.0 601.5,136.8 602.1,136.7 602.7,136.1 603.3,137.1 603.9,137.7 604.5,138.3 605.1,138.3 605.7,138.8 606.3,138.0 606.9,139.7 607.5,139.7 608.1,139.8 608.7,140.5 609.3,140.8 609.9,140.0 610.5,141.3 611.0,141.1 611.0,141.7" fill="#7dc8f4"/>
<path d="M431.70,140.60 C432.15,137.15 433.62,120.32 434.40,119.90 C435.18,119.48 435.65,139.20 436.40,138.10 C437.15,137.00 437.97,121.05 438.90,113.30 C439.83,105.55 441.13,95.45 442.00,91.60 C442.87,87.75 443.42,90.03 444.10,90.20 C444.78,90.37 445.25,92.70 446.10,92.60 C446.95,92.50 448.17,89.60 449.20,89.60 C450.23,89.60 451.27,91.82 452.30,92.60 C453.33,93.38 454.37,93.95 455.40,94.30 C456.43,94.65 457.47,93.60 458.50,94.70 C459.53,95.80 460.40,99.18 461.60,100.90 C462.80,102.62 463.98,103.55 465.70,105.00 C467.42,106.45 469.83,109.08 471.90,109.60 C473.97,110.12 475.68,108.52 478.10,108.10 C480.52,107.68 483.30,107.27 486.40,107.10 C489.50,106.93 493.27,106.93 496.70,107.10 C500.13,107.27 503.55,107.82 507.00,108.10 C510.45,108.38 513.60,108.73 517.40,108.80 C521.20,108.87 526.37,108.27 529.80,108.50 C533.23,108.73 535.47,109.75 538.00,110.20 C540.53,110.65 542.12,110.52 545.00,111.20 C547.88,111.88 552.20,113.33 555.30,114.30 C558.40,115.27 560.85,116.20 563.60,117.00 C566.35,117.80 569.40,118.33 571.80,119.10 C574.20,119.87 575.58,120.33 578.00,121.60 C580.42,122.87 583.20,124.82 586.30,126.70 C589.40,128.58 593.15,131.00 596.60,132.90 C600.05,134.80 603.90,136.72 607.00,138.10 C610.10,139.48 613.83,140.68 615.20,141.20" fill="none" stroke="#b5262b" stroke-width="1.1" stroke-linejoin="round"/>
<polygon points="414.8,207.8 414.8,207.5 415.4,205.1 416.0,203.5 416.6,201.2 417.2,199.5 417.8,197.9 418.4,196.4 419.0,195.6 419.6,196.1 420.2,194.5 420.8,193.8 421.4,194.1 422.0,192.9 422.6,193.0 423.2,192.0 423.8,191.8 424.4,190.6 425.0,190.9 425.6,190.7 426.2,189.8 426.8,189.7 427.4,189.1 428.0,187.9 428.6,188.4 429.2,187.5 429.8,186.4 430.4,185.2 431.0,185.6 431.6,184.3 432.2,183.9 432.8,183.3 433.4,182.2 434.0,181.6 434.6,179.9 435.2,179.6 435.8,178.2 436.4,178.0 437.0,177.3 437.6,175.6 438.2,175.1 438.8,174.6 439.4,175.1 440.0,173.7 440.6,173.4 441.2,172.3 441.8,172.0 442.4,171.2 443.0,170.6 443.6,170.3 444.2,170.1 444.8,170.5 445.4,170.1 446.0,170.4 446.6,170.3 447.2,170.4 447.8,170.0 448.4,169.2 449.0,170.1 449.6,170.3 450.2,170.2 450.8,169.8 451.4,170.0 452.0,169.4 452.6,170.3 453.2,170.0 453.8,169.6 454.4,169.4 455.0,170.5 455.6,170.7 456.2,169.5 456.8,170.6 457.4,170.1 458.0,169.8 458.6,170.0 459.2,170.7 459.8,170.8 460.4,169.6 461.0,170.4 461.6,169.6 462.2,170.5 462.8,169.9 463.4,170.7 464.0,170.8 464.6,170.1 465.2,170.8 465.8,169.8 466.4,169.5 467.0,170.2 467.6,169.4 468.2,169.6 468.8,169.8 469.4,170.0 470.0,169.3 470.6,169.1 471.2,170.2 471.8,169.4 472.4,170.2 473.0,170.0 473.6,169.2 474.2,169.3 474.8,169.3 475.4,169.4 476.0,169.3 476.6,169.2 477.2,169.2 477.8,169.6 478.4,169.0 479.0,168.9 479.6,169.3 480.2,168.6 480.8,168.7 481.4,169.7 482.0,169.0 482.6,169.1 483.2,168.3 483.8,168.9 484.4,169.1 485.0,168.3 485.6,169.2 486.2,169.2 486.8,168.4 487.4,169.2 488.0,169.1 488.6,169.4 489.2,169.0 489.8,169.6 490.4,169.7 491.0,168.8 491.6,168.9 492.2,169.8 492.8,170.3 493.4,169.3 494.0,169.7 494.6,169.9 495.2,169.6 495.8,169.8 496.4,169.8 497.0,169.9 497.6,170.3 498.2,170.0 498.8,170.1 499.4,170.8 500.0,169.8 500.6,170.6 501.2,170.9 501.8,170.4 502.4,170.4 503.0,171.3 503.6,170.5 504.2,170.5 504.8,171.0 505.4,171.4 506.0,170.6 506.6,171.0 507.2,171.1 507.8,171.9 508.4,171.4 509.0,172.1 509.6,171.2 510.2,171.5 510.8,172.0 511.4,172.4 512.0,171.9 512.6,171.6 513.2,171.6 513.8,172.3 514.4,172.0 515.0,173.1 515.6,173.3 516.2,172.6 516.8,172.9 517.4,173.8 518.0,173.7 518.6,174.1 519.2,173.7 519.8,173.5 520.4,174.0 521.0,174.8 521.6,174.3 522.2,174.6 522.8,174.8 523.4,175.0 524.0,175.2 524.6,176.2 525.2,175.4 525.8,175.4 526.4,176.9 527.0,177.1 527.6,177.5 528.2,176.9 528.8,177.9 529.4,178.1 530.0,177.4 530.6,178.3 531.2,178.7 531.8,178.7 532.4,178.7 533.0,178.6 533.6,179.0 534.2,179.0 534.8,179.1 535.4,180.0 536.0,179.9 536.6,180.8 537.2,180.0 537.8,181.4 538.4,181.4 539.0,182.0 539.6,182.2 540.2,182.4 540.8,182.2 541.4,181.7 542.0,182.9 542.6,182.4 543.2,182.8 543.8,183.5 544.4,183.6 545.0,183.7 545.6,184.7 546.2,184.5 546.8,184.4 547.4,184.6 548.0,185.7 548.6,185.4 549.2,186.1 549.8,185.8 550.4,185.8 551.0,186.6 551.6,187.3 552.2,186.6 552.8,187.8 553.4,188.2 554.0,188.4 554.6,188.7 555.2,187.9 555.8,189.0 556.4,189.7 557.0,188.8 557.6,189.4 558.2,189.7 558.8,190.4 559.4,190.5 560.0,190.9 560.6,191.6 561.2,190.9 561.8,191.3 562.4,191.7 563.0,192.1 563.6,192.4 564.2,194.0 564.8,194.2 565.4,193.5 566.0,194.5 566.6,194.6 567.2,194.9 567.8,195.4 568.4,196.1 569.0,196.4 569.6,196.5 570.2,196.6 570.8,197.2 571.4,197.3 572.0,198.3 572.6,198.9 573.2,198.8 573.8,198.7 574.4,199.3 575.0,199.9 575.6,200.6 576.2,201.3 576.8,201.1 577.4,202.0 578.0,202.2 578.6,202.4 579.2,202.7 579.8,203.4 580.4,204.1 581.0,204.1 581.6,205.0 582.2,205.1 582.8,205.3 583.4,206.1 584.0,206.8 584.6,206.4 585.2,207.4 585.3,207.5 585.3,207.8" fill="#7dc8f4"/>
<path d="M439.20,208.00 C439.50,204.47 440.48,193.45 441.00,186.80 C441.52,180.15 441.83,172.00 442.30,168.10 C442.77,164.20 443.30,164.03 443.80,163.40 C444.30,162.77 444.83,163.52 445.30,164.30 C445.77,165.08 446.07,167.62 446.60,168.10 C447.13,168.58 447.87,167.58 448.50,167.20 C449.13,166.82 449.77,165.65 450.40,165.80 C451.03,165.95 451.58,167.03 452.30,168.10 C453.02,169.17 453.93,171.33 454.70,172.20 C455.47,173.07 456.22,173.30 456.90,173.30 C457.58,173.30 458.10,171.98 458.80,172.20 C459.50,172.42 460.17,173.72 461.10,174.60 C462.03,175.48 463.22,177.40 464.40,177.50 C465.58,177.60 466.63,175.98 468.20,175.20 C469.77,174.42 471.93,173.83 473.80,172.80 C475.67,171.77 477.53,169.85 479.40,169.00 C481.27,168.15 483.12,167.95 485.00,167.70 C486.88,167.45 488.82,167.37 490.70,167.50 C492.58,167.63 494.43,168.15 496.30,168.50 C498.17,168.85 499.08,169.00 501.90,169.60 C504.72,170.20 508.90,171.23 513.20,172.10 C517.50,172.97 523.57,173.77 527.70,174.80 C531.83,175.83 535.12,177.27 538.00,178.30 C540.88,179.33 542.45,179.97 545.00,181.00 C547.55,182.03 550.55,183.40 553.30,184.50 C556.05,185.60 558.75,186.68 561.50,187.60 C564.25,188.52 567.38,189.15 569.80,190.00 C572.22,190.85 573.93,191.38 576.00,192.70 C578.07,194.02 580.13,196.07 582.20,197.90 C584.27,199.73 586.52,202.05 588.40,203.70 C590.28,205.35 592.65,207.12 593.50,207.80" fill="none" stroke="#b5262b" stroke-width="1.1" stroke-linejoin="round"/>
<polygon points="435.8,273.9 435.8,273.8 436.4,272.3 437.0,270.9 437.6,271.3 438.2,270.8 438.8,270.6 439.4,271.0 440.0,271.6 440.6,271.6 441.2,271.8 441.8,271.3 442.4,272.0 443.0,271.8 443.6,271.9 444.2,271.9 444.8,272.0 445.4,272.9 446.0,272.6 446.6,272.5 447.2,272.4 447.8,269.2 448.4,267.5 449.0,267.1 449.6,266.5 450.2,265.9 450.8,265.1 451.4,263.2 452.0,263.2 452.6,262.5 453.2,261.5 453.8,260.3 454.4,259.9 455.0,258.6 455.6,259.1 456.2,258.4 456.8,257.4 457.4,256.5 458.0,256.7 458.6,255.7 459.2,255.5 459.8,254.9 460.4,253.8 461.0,253.1 461.6,252.8 462.2,252.1 462.8,251.1 463.4,250.8 464.0,251.0 464.6,249.4 465.2,248.8 465.8,249.1 466.4,248.4 467.0,248.5 467.6,248.1 468.2,247.7 468.8,248.4 469.4,247.0 470.0,247.0 470.6,246.5 471.2,246.8 471.8,246.1 472.4,246.0 473.0,246.4 473.6,245.7 474.2,245.9 474.8,246.2 475.4,245.0 476.0,244.8 476.6,244.9 477.2,245.5 477.8,245.1 478.4,244.6 479.0,244.7 479.6,244.5 480.2,245.0 480.8,244.4 481.4,245.4 482.0,245.7 482.6,245.8 483.2,245.6 483.8,245.9 484.4,244.7 485.0,245.2 485.6,246.3 486.2,246.2 486.8,245.8 487.4,246.7 488.0,246.4 488.6,246.8 489.2,246.3 489.8,246.3 490.4,246.8 491.0,246.5 491.6,247.0 492.2,247.9 492.8,247.3 493.4,247.1 494.0,247.4 494.6,247.8 495.2,248.9 495.8,248.6 496.4,248.8 497.0,248.8 497.6,250.3 498.2,249.7 498.8,249.7 499.4,249.8 500.0,250.0 500.6,250.4 501.2,251.4 501.8,250.9 502.4,251.0 503.0,251.9 503.6,251.9 504.2,253.2 504.8,252.3 505.4,253.1 506.0,253.8 506.6,253.5 507.2,254.6 507.8,254.2 508.4,254.2 509.0,254.7 509.6,254.4 510.2,255.3 510.8,255.3 511.4,256.5 512.0,256.7 512.6,256.5 513.2,256.1 513.8,256.7 514.4,257.0 515.0,257.2 515.6,257.5 516.2,258.6 516.8,257.9 517.4,258.0 518.0,259.5 518.6,259.3 519.2,260.1 519.8,259.6 520.4,260.5 521.0,260.5 521.6,260.9 522.2,261.1 522.8,261.0 523.4,260.7 524.0,261.2 524.6,262.3 525.2,262.7 525.8,263.0 526.4,262.5 527.0,263.3 527.6,263.8 528.2,264.0 528.8,264.5 529.4,264.5 530.0,265.0 530.6,265.3 531.2,265.1 531.8,266.3 532.4,266.7 533.0,265.8 533.6,267.4 534.2,267.7 534.8,267.6 535.4,267.1 536.0,268.7 536.6,268.0 537.2,269.6 537.8,269.6 538.4,269.1 539.0,269.7 539.6,270.7 540.2,271.0 540.8,271.7 541.4,272.3 542.0,271.7 542.6,271.8 543.2,273.5 543.8,272.7 544.4,273.7 544.5,273.8 544.5,273.9" fill="#7dc8f4"/>
<path d="M437.90,273.80 C438.48,270.50 440.13,254.00 441.40,254.00 C442.67,254.00 444.37,271.98 445.50,273.80 C446.63,275.62 447.40,266.73 448.20,264.90 C449.00,263.07 449.62,262.90 450.30,262.80 C450.98,262.70 451.45,264.98 452.30,264.30 C453.15,263.62 454.18,260.32 455.40,258.70 C456.62,257.08 458.22,255.63 459.60,254.60 C460.98,253.57 462.33,253.53 463.70,252.50 C465.07,251.47 466.08,249.43 467.80,248.40 C469.52,247.37 472.10,246.75 474.00,246.30 C475.90,245.85 477.13,245.52 479.20,245.70 C481.27,245.88 483.48,246.27 486.40,247.40 C489.32,248.53 493.27,250.72 496.70,252.50 C500.13,254.28 503.55,256.03 507.00,258.10 C510.45,260.17 513.60,262.28 517.40,264.90 C521.20,267.52 527.73,272.32 529.80,273.80" fill="none" stroke="#b5262b" stroke-width="1.1" stroke-linejoin="round"/>
<polygon points="453.8,340.0 453.8,340.0 454.4,338.6 455.0,337.2 455.6,335.7 456.2,334.4 456.8,332.7 457.4,331.8 458.0,329.3 458.6,328.8 459.2,328.2 459.8,326.7 460.4,326.2 461.0,324.1 461.6,323.7 462.2,322.5 462.8,322.0 463.4,321.2 464.0,319.6 464.6,319.3 465.2,318.8 465.8,319.0 466.4,318.2 467.0,316.8 467.6,317.0 468.2,315.5 468.8,315.6 469.4,314.5 470.0,314.0 470.6,314.8 471.2,313.6 471.8,313.2 472.4,313.9 473.0,313.4 473.6,312.2 474.2,312.9 474.8,312.2 475.4,312.3 476.0,311.6 476.6,312.5 477.2,312.1 477.8,312.3 478.4,312.1 479.0,311.2 479.6,311.2 480.2,310.8 480.8,310.9 481.4,310.9 482.0,311.3 482.6,311.8 483.2,311.1 483.8,312.1 484.4,311.8 485.0,311.8 485.6,312.6 486.2,312.2 486.8,312.2 487.4,312.7 488.0,313.3 488.6,312.6 489.2,314.2 489.8,313.1 490.4,314.4 491.0,314.8 491.6,313.9 492.2,315.2 492.8,314.9 493.4,315.6 494.0,315.2 494.6,315.7 495.2,316.3 495.8,317.8 496.4,317.1 497.0,318.3 497.6,318.9 498.2,319.3 498.8,318.9 499.4,319.4 500.0,320.1 500.6,320.9 501.2,320.5 501.8,321.9 502.4,322.4 503.0,323.0 503.6,322.3 504.2,324.1 504.8,323.4 505.4,324.2 506.0,325.0 506.6,325.9 507.2,325.5 507.8,326.8 508.4,326.7 509.0,326.9 509.6,327.3 510.2,327.6 510.8,327.9 511.4,328.5 512.0,329.7 512.6,330.7 513.2,330.0 513.8,330.3 514.4,332.2 515.0,332.0 515.6,332.4 516.2,332.6 516.8,333.6 517.4,334.5 518.0,334.4 518.6,334.9 519.2,334.8 519.8,336.5 520.4,335.8 521.0,336.9 521.6,337.9 522.2,337.3 522.8,338.6 523.4,339.1 524.0,339.0 524.6,339.5 525.2,338.8 525.8,339.6 526.4,339.9 526.7,340.0 526.7,340.0" fill="#7dc8f4"/>
<path d="M457.90,340.20 C458.45,338.48 460.17,332.82 461.20,329.90 C462.23,326.98 463.17,324.60 464.10,322.70 C465.03,320.80 465.50,319.98 466.80,318.50 C468.10,317.02 470.18,314.93 471.90,313.80 C473.62,312.67 475.20,312.05 477.10,311.70 C479.00,311.35 481.23,311.35 483.30,311.70 C485.37,312.05 487.27,312.67 489.50,313.80 C491.73,314.93 494.12,316.58 496.70,318.50 C499.28,320.42 502.25,322.88 505.00,325.30 C507.75,327.72 510.62,330.52 513.20,333.00 C515.78,335.48 519.28,339.00 520.50,340.20" fill="none" stroke="#b5262b" stroke-width="1.1" stroke-linejoin="round"/>
<path d="M433.60,207.50 C433.75,205.75 434.18,200.08 434.50,197.00 C434.82,193.92 435.20,190.53 435.50,189.00 C435.80,187.47 436.02,187.63 436.30,187.80 C436.58,187.97 436.88,188.13 437.20,190.00 C437.52,191.87 437.90,196.08 438.20,199.00 C438.50,201.92 438.87,206.08 439.00,207.50" fill="none" stroke="#cf6a2a" stroke-width="1.1"/>
<rect x="412.5" y="9.5" width="265.5" height="330.5" fill="none" stroke="#454545"/>
<line x1="412.5" y1="75.6" x2="678" y2="75.6" stroke="#454545"/>
<line x1="412.5" y1="141.7" x2="678" y2="141.7" stroke="#454545"/>
<line x1="412.5" y1="207.8" x2="678" y2="207.8" stroke="#454545"/>
<line x1="412.5" y1="273.9" x2="678" y2="273.9" stroke="#454545"/>
<line x1="412.5" y1="42.5" x2="415.5" y2="42.5" stroke="#454545"/>
<line x1="478.5" y1="75.6" x2="478.5" y2="72.6" stroke="#454545"/>
<line x1="545.5" y1="75.6" x2="545.5" y2="72.6" stroke="#454545"/>
<line x1="611.5" y1="75.6" x2="611.5" y2="72.6" stroke="#454545"/>
<line x1="412.5" y1="108.6" x2="415.5" y2="108.6" stroke="#454545"/>
<line x1="478.5" y1="141.7" x2="478.5" y2="138.7" stroke="#454545"/>
<line x1="545.5" y1="141.7" x2="545.5" y2="138.7" stroke="#454545"/>
<line x1="611.5" y1="141.7" x2="611.5" y2="138.7" stroke="#454545"/>
<line x1="412.5" y1="174.8" x2="415.5" y2="174.8" stroke="#454545"/>
<line x1="478.5" y1="207.8" x2="478.5" y2="204.8" stroke="#454545"/>
<line x1="545.5" y1="207.8" x2="545.5" y2="204.8" stroke="#454545"/>
<line x1="611.5" y1="207.8" x2="611.5" y2="204.8" stroke="#454545"/>
<line x1="412.5" y1="240.8" x2="415.5" y2="240.8" stroke="#454545"/>
<line x1="478.5" y1="273.9" x2="478.5" y2="270.9" stroke="#454545"/>
<line x1="545.5" y1="273.9" x2="545.5" y2="270.9" stroke="#454545"/>
<line x1="611.5" y1="273.9" x2="611.5" y2="270.9" stroke="#454545"/>
<line x1="412.5" y1="306.9" x2="415.5" y2="306.9" stroke="#454545"/>
<line x1="478.5" y1="340.0" x2="478.5" y2="337.0" stroke="#454545"/>
<line x1="545.5" y1="340.0" x2="545.5" y2="337.0" stroke="#454545"/>
<line x1="611.5" y1="340.0" x2="611.5" y2="337.0" stroke="#454545"/>
<text x="412.5" y="351.2" font-size="10" text-anchor="middle" fill="#222" >200</text>
<text x="478.5" y="351.2" font-size="10" text-anchor="middle" fill="#222" >250</text>
<text x="545.3" y="351.2" font-size="10" text-anchor="middle" fill="#222" >300</text>
<text x="611.4" y="351.2" font-size="10" text-anchor="middle" fill="#222" >350</text>
<text x="678" y="351.2" font-size="10" text-anchor="middle" fill="#222" >400</text>
<text x="508.5" y="360.5" font-size="10.2" text-anchor="start" fill="#222"  textLength="77.8" lengthAdjust="spacingAndGlyphs">Wavelength (nm)</text>
<text x="0" y="0" font-size="10.5" text-anchor="middle" fill="#222" transform="translate(406,174.5) rotate(-90)">Intensity (5 dB/div)</text>
<rect x="474" y="15.3" width="13.4" height="5.5" fill="#7dc8f4"/>
<line x1="474" y1="29.4" x2="487.4" y2="29.4" stroke="#b5262b" stroke-width="1.1"/>
<text x="489.8" y="21.6" font-size="10.6" text-anchor="start" fill="#222"  textLength="19.4" lengthAdjust="spacingAndGlyphs">Exp.</text>
<text x="489.8" y="33.0" font-size="10.6" text-anchor="start" fill="#222"  textLength="20" lengthAdjust="spacingAndGlyphs">Sim.</text>
<text x="546.3" y="25.2" font-size="10.8" text-anchor="start" fill="#222"  textLength="128.2" lengthAdjust="spacingAndGlyphs">64 μJ (soliton order N = 7.8)</text>
<text x="578.7" y="91.6" font-size="10.6" text-anchor="start" fill="#222"  textLength="67.5" lengthAdjust="spacingAndGlyphs">60 μJ (N = 7.5)</text>
<text x="578.7" y="159" font-size="10.6" text-anchor="start" fill="#222"  textLength="67.5" lengthAdjust="spacingAndGlyphs">56 μJ (N = 7.3)</text>
<text x="578.7" y="225.1" font-size="10.6" text-anchor="start" fill="#222"  textLength="67.5" lengthAdjust="spacingAndGlyphs">52 μJ (N = 7.0)</text>
<text x="578.7" y="293.1" font-size="10.6" text-anchor="start" fill="#222"  textLength="67.5" lengthAdjust="spacingAndGlyphs">48 μJ (N = 6.7)</text>
<text x="498.8" y="45.699999999999996" font-size="11" text-anchor="start" fill="#1fa0f2"  textLength="31.8" lengthAdjust="spacingAndGlyphs">4.07 μJ</text>
<text x="498.8" y="105.4" font-size="11" text-anchor="start" fill="#1fa0f2"  textLength="31.8" lengthAdjust="spacingAndGlyphs">3.43 μJ</text>
<text x="498.8" y="164.20000000000002" font-size="11" text-anchor="start" fill="#1fa0f2"  textLength="31.8" lengthAdjust="spacingAndGlyphs">3.11 μJ</text>
<text x="498.8" y="238.1" font-size="11" text-anchor="start" fill="#1fa0f2"  textLength="31.8" lengthAdjust="spacingAndGlyphs">2.50 μJ</text>
<text x="498.8" y="309.0" font-size="11" text-anchor="start" fill="#1fa0f2"  textLength="31.8" lengthAdjust="spacingAndGlyphs">1.91 μJ</text>
</svg>
</body></html>
